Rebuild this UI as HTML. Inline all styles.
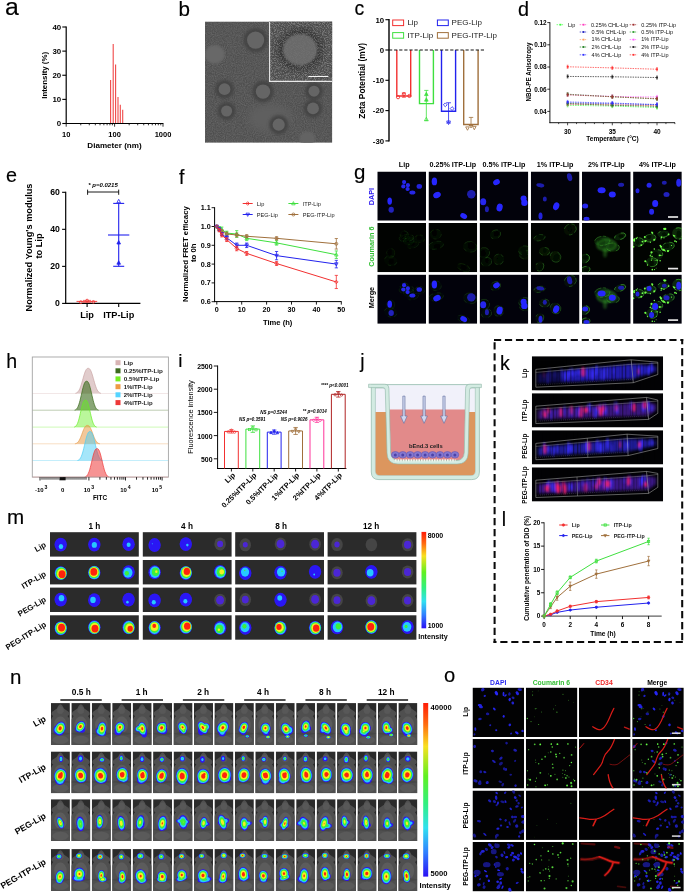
<!DOCTYPE html>
<html lang="en"><head><meta charset="utf-8"><title>Figure</title>
<style>
html,body{margin:0;padding:0;background:#fff;}
body{width:685px;height:893px;overflow:hidden;}
svg{display:block;font-family:'Liberation Sans', sans-serif;font-weight:bold;text-anchor:middle;}
</style></head><body>
<svg width="685" height="893" viewBox="0 0 685 893">
<defs>
<clipPath id="clipB"><rect x="205" y="21.5" width="127.3" height="121.3"/></clipPath>
<filter id="b05" x="-20%" y="-20%" width="140%" height="140%"><feGaussianBlur stdDeviation="0.5"/></filter>
<filter id="b1" x="-30%" y="-30%" width="160%" height="160%"><feGaussianBlur stdDeviation="1"/></filter>
<filter id="b2" x="-50%" y="-50%" width="200%" height="200%"><feGaussianBlur stdDeviation="1.8"/></filter>
<filter id="b3" x="-50%" y="-50%" width="200%" height="200%"><feGaussianBlur stdDeviation="3"/></filter>
<filter id="grain" color-interpolation-filters="sRGB" x="0" y="0" width="100%" height="100%"><feTurbulence type="fractalNoise" baseFrequency="0.9" numOctaves="2" seed="3"/><feColorMatrix type="matrix" values="1.5 0 0 0 -0.41  1.5 0 0 0 -0.41  1.5 0 0 0 -0.41  0 0 0 0 1"/></filter>
<filter id="grain2" color-interpolation-filters="sRGB" x="0" y="0" width="100%" height="100%"><feTurbulence type="fractalNoise" baseFrequency="1.1" numOctaves="2" seed="8"/><feColorMatrix type="matrix" values="3.2 0 0 0 -1.3  3.2 0 0 0 -1.3  3.2 0 0 0 -1.3  0 0 0 0 1"/></filter>
<clipPath id="cg0"><rect x="377.3" y="171.5" width="48.7" height="49.2"/></clipPath><clipPath id="cg1"><rect x="428.5" y="171.5" width="48.7" height="49.2"/></clipPath><clipPath id="cg2"><rect x="479.6" y="171.5" width="48.7" height="49.2"/></clipPath><clipPath id="cg3"><rect x="530.8" y="171.5" width="48.7" height="49.2"/></clipPath><clipPath id="cg4"><rect x="582" y="171.5" width="48.7" height="49.2"/></clipPath><clipPath id="cg5"><rect x="633.1" y="171.5" width="48.7" height="49.2"/></clipPath><clipPath id="cg6"><rect x="377.3" y="223" width="48.7" height="49.2"/></clipPath><clipPath id="cg7"><rect x="428.5" y="223" width="48.7" height="49.2"/></clipPath><clipPath id="cg8"><rect x="479.6" y="223" width="48.7" height="49.2"/></clipPath><clipPath id="cg9"><rect x="530.8" y="223" width="48.7" height="49.2"/></clipPath><clipPath id="cg10"><rect x="582" y="223" width="48.7" height="49.2"/></clipPath><clipPath id="cg11"><rect x="633.1" y="223" width="48.7" height="49.2"/></clipPath><clipPath id="cg12"><rect x="377.3" y="274.6" width="48.7" height="49.2"/></clipPath><clipPath id="cg13"><rect x="428.5" y="274.6" width="48.7" height="49.2"/></clipPath><clipPath id="cg14"><rect x="479.6" y="274.6" width="48.7" height="49.2"/></clipPath><clipPath id="cg15"><rect x="530.8" y="274.6" width="48.7" height="49.2"/></clipPath><clipPath id="cg16"><rect x="582" y="274.6" width="48.7" height="49.2"/></clipPath><clipPath id="cg17"><rect x="633.1" y="274.6" width="48.7" height="49.2"/></clipPath>
<clipPath id="ck0"><rect x="531.8" y="356.2" width="131.3" height="34.3"/></clipPath><clipPath id="ck1"><rect x="531.8" y="393.2" width="131.3" height="34.3"/></clipPath><clipPath id="ck2"><rect x="531.8" y="430.2" width="131.3" height="34.3"/></clipPath><clipPath id="ck3"><rect x="531.8" y="467.3" width="131.3" height="34.3"/></clipPath>
<linearGradient id="rbM" x1="0" y1="0" x2="0" y2="1"><stop offset="0" stop-color="#ff1c08"/><stop offset="0.12" stop-color="#ff6a10"/><stop offset="0.25" stop-color="#f8e020"/><stop offset="0.42" stop-color="#60f020"/><stop offset="0.58" stop-color="#30f080"/><stop offset="0.72" stop-color="#30e0f0"/><stop offset="0.86" stop-color="#3080ff"/><stop offset="1" stop-color="#2a10f4"/></linearGradient>
<linearGradient id="rbN" x1="0" y1="0" x2="0" y2="1"><stop offset="0" stop-color="#ff1c08"/><stop offset="0.12" stop-color="#ff6a10"/><stop offset="0.25" stop-color="#f8e020"/><stop offset="0.42" stop-color="#60f020"/><stop offset="0.58" stop-color="#30f080"/><stop offset="0.72" stop-color="#30e0f0"/><stop offset="0.86" stop-color="#3080ff"/><stop offset="1" stop-color="#2a10f4"/></linearGradient><clipPath id="cn0"><rect x="50.9" y="703.1" width="19" height="41.8" fill="#000"/><rect x="71.34" y="703.1" width="19" height="41.8" fill="#000"/><rect x="91.78" y="703.1" width="19" height="41.8" fill="#000"/><rect x="112.22" y="703.1" width="19" height="41.8" fill="#000"/><rect x="132.66" y="703.1" width="19" height="41.8" fill="#000"/><rect x="153.1" y="703.1" width="19" height="41.8" fill="#000"/><rect x="173.54" y="703.1" width="19" height="41.8" fill="#000"/><rect x="193.98" y="703.1" width="19" height="41.8" fill="#000"/><rect x="214.42" y="703.1" width="19" height="41.8" fill="#000"/><rect x="234.86" y="703.1" width="19" height="41.8" fill="#000"/><rect x="255.3" y="703.1" width="19" height="41.8" fill="#000"/><rect x="275.74" y="703.1" width="19" height="41.8" fill="#000"/><rect x="296.18" y="703.1" width="19" height="41.8" fill="#000"/><rect x="316.62" y="703.1" width="19" height="41.8" fill="#000"/><rect x="337.06" y="703.1" width="19" height="41.8" fill="#000"/><rect x="357.5" y="703.1" width="19" height="41.8" fill="#000"/><rect x="377.94" y="703.1" width="19" height="41.8" fill="#000"/><rect x="398.38" y="703.1" width="19" height="41.8" fill="#000"/></clipPath><clipPath id="cn1"><rect x="50.9" y="751.4" width="19" height="41.8" fill="#000"/><rect x="71.34" y="751.4" width="19" height="41.8" fill="#000"/><rect x="91.78" y="751.4" width="19" height="41.8" fill="#000"/><rect x="112.22" y="751.4" width="19" height="41.8" fill="#000"/><rect x="132.66" y="751.4" width="19" height="41.8" fill="#000"/><rect x="153.1" y="751.4" width="19" height="41.8" fill="#000"/><rect x="173.54" y="751.4" width="19" height="41.8" fill="#000"/><rect x="193.98" y="751.4" width="19" height="41.8" fill="#000"/><rect x="214.42" y="751.4" width="19" height="41.8" fill="#000"/><rect x="234.86" y="751.4" width="19" height="41.8" fill="#000"/><rect x="255.3" y="751.4" width="19" height="41.8" fill="#000"/><rect x="275.74" y="751.4" width="19" height="41.8" fill="#000"/><rect x="296.18" y="751.4" width="19" height="41.8" fill="#000"/><rect x="316.62" y="751.4" width="19" height="41.8" fill="#000"/><rect x="337.06" y="751.4" width="19" height="41.8" fill="#000"/><rect x="357.5" y="751.4" width="19" height="41.8" fill="#000"/><rect x="377.94" y="751.4" width="19" height="41.8" fill="#000"/><rect x="398.38" y="751.4" width="19" height="41.8" fill="#000"/></clipPath><clipPath id="cn2"><rect x="50.9" y="799.2" width="19" height="41.8" fill="#000"/><rect x="71.34" y="799.2" width="19" height="41.8" fill="#000"/><rect x="91.78" y="799.2" width="19" height="41.8" fill="#000"/><rect x="112.22" y="799.2" width="19" height="41.8" fill="#000"/><rect x="132.66" y="799.2" width="19" height="41.8" fill="#000"/><rect x="153.1" y="799.2" width="19" height="41.8" fill="#000"/><rect x="173.54" y="799.2" width="19" height="41.8" fill="#000"/><rect x="193.98" y="799.2" width="19" height="41.8" fill="#000"/><rect x="214.42" y="799.2" width="19" height="41.8" fill="#000"/><rect x="234.86" y="799.2" width="19" height="41.8" fill="#000"/><rect x="255.3" y="799.2" width="19" height="41.8" fill="#000"/><rect x="275.74" y="799.2" width="19" height="41.8" fill="#000"/><rect x="296.18" y="799.2" width="19" height="41.8" fill="#000"/><rect x="316.62" y="799.2" width="19" height="41.8" fill="#000"/><rect x="337.06" y="799.2" width="19" height="41.8" fill="#000"/><rect x="357.5" y="799.2" width="19" height="41.8" fill="#000"/><rect x="377.94" y="799.2" width="19" height="41.8" fill="#000"/><rect x="398.38" y="799.2" width="19" height="41.8" fill="#000"/></clipPath><clipPath id="cn3"><rect x="50.9" y="849.1" width="19" height="41.8" fill="#000"/><rect x="71.34" y="849.1" width="19" height="41.8" fill="#000"/><rect x="91.78" y="849.1" width="19" height="41.8" fill="#000"/><rect x="112.22" y="849.1" width="19" height="41.8" fill="#000"/><rect x="132.66" y="849.1" width="19" height="41.8" fill="#000"/><rect x="153.1" y="849.1" width="19" height="41.8" fill="#000"/><rect x="173.54" y="849.1" width="19" height="41.8" fill="#000"/><rect x="193.98" y="849.1" width="19" height="41.8" fill="#000"/><rect x="214.42" y="849.1" width="19" height="41.8" fill="#000"/><rect x="234.86" y="849.1" width="19" height="41.8" fill="#000"/><rect x="255.3" y="849.1" width="19" height="41.8" fill="#000"/><rect x="275.74" y="849.1" width="19" height="41.8" fill="#000"/><rect x="296.18" y="849.1" width="19" height="41.8" fill="#000"/><rect x="316.62" y="849.1" width="19" height="41.8" fill="#000"/><rect x="337.06" y="849.1" width="19" height="41.8" fill="#000"/><rect x="357.5" y="849.1" width="19" height="41.8" fill="#000"/><rect x="377.94" y="849.1" width="19" height="41.8" fill="#000"/><rect x="398.38" y="849.1" width="19" height="41.8" fill="#000"/></clipPath>
<clipPath id="co0"><rect x="472.5" y="687.6" width="51.6" height="49.4"/></clipPath><clipPath id="co1"><rect x="525.8" y="687.6" width="51.6" height="49.4"/></clipPath><clipPath id="co2"><rect x="579" y="687.6" width="51.6" height="49.4"/></clipPath><clipPath id="co3"><rect x="632.2" y="687.6" width="51.6" height="49.4"/></clipPath><clipPath id="co4"><rect x="472.5" y="739.05" width="51.6" height="49.4"/></clipPath><clipPath id="co5"><rect x="525.8" y="739.05" width="51.6" height="49.4"/></clipPath><clipPath id="co6"><rect x="579" y="739.05" width="51.6" height="49.4"/></clipPath><clipPath id="co7"><rect x="632.2" y="739.05" width="51.6" height="49.4"/></clipPath><clipPath id="co8"><rect x="472.5" y="790.5" width="51.6" height="49.4"/></clipPath><clipPath id="co9"><rect x="525.8" y="790.5" width="51.6" height="49.4"/></clipPath><clipPath id="co10"><rect x="579" y="790.5" width="51.6" height="49.4"/></clipPath><clipPath id="co11"><rect x="632.2" y="790.5" width="51.6" height="49.4"/></clipPath><clipPath id="co12"><rect x="472.5" y="842" width="51.6" height="49.4"/></clipPath><clipPath id="co13"><rect x="525.8" y="842" width="51.6" height="49.4"/></clipPath><clipPath id="co14"><rect x="579" y="842" width="51.6" height="49.4"/></clipPath><clipPath id="co15"><rect x="632.2" y="842" width="51.6" height="49.4"/></clipPath></defs>
<rect width="685" height="893" fill="#fff"/>
<g id="p-a">
<text x="5" y="15.2" font-size="24.8" font-weight="normal" text-anchor="start" stroke="#000" stroke-width="0.15">a</text>
<line x1="66.2" y1="26.5" x2="66.2" y2="124.1" stroke="#000" stroke-width="1.2"/>
<line x1="65.6" y1="123.5" x2="163.4" y2="123.5" stroke="#000" stroke-width="1.2"/>
<line x1="62.3" y1="123.5" x2="66.2" y2="123.5" stroke="#000" stroke-width="1.1"/>
<text x="61.2" y="126.3" font-size="7.9" text-anchor="end">0</text>
<line x1="62.3" y1="99.38" x2="66.2" y2="99.38" stroke="#000" stroke-width="1.1"/>
<text x="61.2" y="102.17" font-size="7.9" text-anchor="end">10</text>
<line x1="62.3" y1="75.25" x2="66.2" y2="75.25" stroke="#000" stroke-width="1.1"/>
<text x="61.2" y="78.05" font-size="7.9" text-anchor="end">20</text>
<line x1="62.3" y1="51.12" x2="66.2" y2="51.12" stroke="#000" stroke-width="1.1"/>
<text x="61.2" y="53.92" font-size="7.9" text-anchor="end">30</text>
<line x1="62.3" y1="27" x2="66.2" y2="27" stroke="#000" stroke-width="1.1"/>
<text x="61.2" y="29.8" font-size="7.9" text-anchor="end">40</text>
<line x1="66.2" y1="123.5" x2="66.2" y2="126.7" stroke="#000" stroke-width="0.8"/>
<line x1="80.77" y1="123.5" x2="80.77" y2="125.3" stroke="#000" stroke-width="0.8"/>
<line x1="89.29" y1="123.5" x2="89.29" y2="125.3" stroke="#000" stroke-width="0.8"/>
<line x1="95.34" y1="123.5" x2="95.34" y2="125.3" stroke="#000" stroke-width="0.8"/>
<line x1="100.03" y1="123.5" x2="100.03" y2="125.3" stroke="#000" stroke-width="0.8"/>
<line x1="103.86" y1="123.5" x2="103.86" y2="125.3" stroke="#000" stroke-width="0.8"/>
<line x1="107.1" y1="123.5" x2="107.1" y2="125.3" stroke="#000" stroke-width="0.8"/>
<line x1="109.91" y1="123.5" x2="109.91" y2="125.3" stroke="#000" stroke-width="0.8"/>
<line x1="112.39" y1="123.5" x2="112.39" y2="125.3" stroke="#000" stroke-width="0.8"/>
<line x1="114.6" y1="123.5" x2="114.6" y2="126.7" stroke="#000" stroke-width="0.8"/>
<line x1="129.17" y1="123.5" x2="129.17" y2="125.3" stroke="#000" stroke-width="0.8"/>
<line x1="137.69" y1="123.5" x2="137.69" y2="125.3" stroke="#000" stroke-width="0.8"/>
<line x1="143.74" y1="123.5" x2="143.74" y2="125.3" stroke="#000" stroke-width="0.8"/>
<line x1="148.43" y1="123.5" x2="148.43" y2="125.3" stroke="#000" stroke-width="0.8"/>
<line x1="152.26" y1="123.5" x2="152.26" y2="125.3" stroke="#000" stroke-width="0.8"/>
<line x1="155.5" y1="123.5" x2="155.5" y2="125.3" stroke="#000" stroke-width="0.8"/>
<line x1="158.31" y1="123.5" x2="158.31" y2="125.3" stroke="#000" stroke-width="0.8"/>
<line x1="160.79" y1="123.5" x2="160.79" y2="125.3" stroke="#000" stroke-width="0.8"/>
<line x1="163" y1="123.5" x2="163" y2="126.7" stroke="#000" stroke-width="0.8"/>
<text x="66.2" y="136.6" font-size="7.5">10</text>
<text x="114.6" y="136.6" font-size="7.5">100</text>
<text x="163" y="136.6" font-size="7.5">1000</text>
<text x="114.5" y="148.3" font-size="8.1">Diameter (nm)</text>
<text x="47.2" y="75.3" font-size="7.9" transform="rotate(-90 47.2 75.3)">Intensity (%)</text>
<line x1="110.6" y1="123" x2="110.6" y2="80.08" stroke="#f04848" stroke-width="1.1"/>
<line x1="113.2" y1="123" x2="113.2" y2="43.89" stroke="#f04848" stroke-width="1.1"/>
<line x1="115.6" y1="123" x2="115.6" y2="64.39" stroke="#f04848" stroke-width="1.1"/>
<line x1="118" y1="123" x2="118" y2="96.96" stroke="#f04848" stroke-width="1.1"/>
<line x1="120.3" y1="123" x2="120.3" y2="104.68" stroke="#f04848" stroke-width="1.1"/>
<line x1="122.7" y1="123" x2="122.7" y2="109.75" stroke="#f04848" stroke-width="1.1"/>
</g>
<g id="p-b">
<text x="178.5" y="15.6" font-size="20.6" font-weight="normal" text-anchor="start" stroke="#000" stroke-width="0.15">b</text>
<g clip-path="url(#clipB)">
<rect x="205" y="21.5" width="127.3" height="121.3" fill="#585858"/>
<rect x="205" y="21.5" width="127.3" height="121.3" fill="#808080" filter="url(#grain)" opacity="0.1"/>
<ellipse cx="214.7" cy="54.4" rx="10" ry="9.4" fill="#686868" filter="url(#b1)"/>
<ellipse cx="307.3" cy="138.6" rx="8" ry="7" fill="#646464" filter="url(#b1)"/>
<ellipse cx="270" cy="118" rx="22" ry="14" fill="#5e5e5e" filter="url(#b3)"/>
<circle cx="255.6" cy="40.1" r="12.2" fill="#444444" filter="url(#b2)"/>
<circle cx="255.6" cy="40.1" r="8.6" fill="#656565" filter="url(#b05)"/>
<circle cx="224.5" cy="89.2" r="9.5" fill="#444444" filter="url(#b2)"/>
<circle cx="224.5" cy="89.2" r="5.9" fill="#656565" filter="url(#b05)"/>
<circle cx="263" cy="91.6" r="10.8" fill="#444444" filter="url(#b2)"/>
<circle cx="263" cy="91.6" r="7.2" fill="#656565" filter="url(#b05)"/>
<circle cx="314" cy="91.2" r="9.1" fill="#444444" filter="url(#b2)"/>
<circle cx="314" cy="91.2" r="5.5" fill="#656565" filter="url(#b05)"/>
<circle cx="226.6" cy="111" r="9.1" fill="#444444" filter="url(#b2)"/>
<circle cx="226.6" cy="111" r="5.5" fill="#656565" filter="url(#b05)"/>
<circle cx="313" cy="108.4" r="9.5" fill="#444444" filter="url(#b2)"/>
<circle cx="313" cy="108.4" r="5.9" fill="#656565" filter="url(#b05)"/>
<circle cx="278.7" cy="124.7" r="9.7" fill="#444444" filter="url(#b2)"/>
<circle cx="278.7" cy="124.7" r="6.1" fill="#656565" filter="url(#b05)"/>
<rect x="269.1" y="21.5" width="63.2" height="60.3" fill="#5e5e5e"/>
<ellipse cx="300.1" cy="49.7" rx="22.5" ry="21" fill="#3c3c3c" filter="url(#b3)"/>
<rect x="269.1" y="21.5" width="63.2" height="60.3" fill="#808080" filter="url(#grain2)" opacity="0.18"/>
<ellipse cx="300.1" cy="49.7" rx="17.2" ry="15.8" fill="#737373" filter="url(#b1)" opacity="0.85"/>
<line x1="269.6" y1="21.5" x2="269.6" y2="81.8" stroke="#e8e8e8" stroke-width="1.1"/>
<line x1="269.1" y1="81.4" x2="332.3" y2="81.4" stroke="#e8e8e8" stroke-width="1.1"/>
<line x1="308.3" y1="76.5" x2="328.3" y2="76.5" stroke="#f4f4f4" stroke-width="1.1"/>
</g>
</g>
<g id="p-c">
<text x="354.5" y="14.8" font-size="19.4" font-weight="normal" text-anchor="start" stroke="#000" stroke-width="0.15">c</text>
<line x1="389" y1="19.1" x2="389" y2="141.5" stroke="#000" stroke-width="1.4"/>
<line x1="385.4" y1="19.7" x2="389" y2="19.7" stroke="#000" stroke-width="1.1"/>
<text x="384.1" y="22.5" font-size="7.8" text-anchor="end">10</text>
<line x1="385.4" y1="50" x2="389" y2="50" stroke="#000" stroke-width="1.1"/>
<text x="384.1" y="52.8" font-size="7.8" text-anchor="end">0</text>
<line x1="385.4" y1="80.3" x2="389" y2="80.3" stroke="#000" stroke-width="1.1"/>
<text x="384.1" y="83.1" font-size="7.8" text-anchor="end">-10</text>
<line x1="385.4" y1="110.6" x2="389" y2="110.6" stroke="#000" stroke-width="1.1"/>
<text x="384.1" y="113.4" font-size="7.8" text-anchor="end">-20</text>
<line x1="385.4" y1="140.9" x2="389" y2="140.9" stroke="#000" stroke-width="1.1"/>
<text x="384.1" y="143.7" font-size="7.8" text-anchor="end">-30</text>
<text x="364.8" y="80.8" font-size="8.4" transform="rotate(-90 364.8 80.8)">Zeta Potential (mV)</text>
<path d="M396.8 50 V96.06 H410.7 V50" fill="none" stroke="#f23030" stroke-width="1.4"/>
<path d="M419.5 50 V103.63 H433.4 V50" fill="none" stroke="#3fe03f" stroke-width="1.4"/>
<path d="M441.5 50 V111.21 H455.6 V50" fill="none" stroke="#2222ee" stroke-width="1.4"/>
<path d="M463.7 50 V124.54 H478.1 V50" fill="none" stroke="#a0703c" stroke-width="1.4"/>
<line x1="389" y1="50" x2="485.7" y2="50" stroke="#111" stroke-width="1.2" stroke-dasharray="3.2 1.9"/>
<line x1="403.86" y1="92.93" x2="403.86" y2="97.22" stroke="#f23030" stroke-width="0.8"/><line x1="401.86" y1="92.93" x2="405.86" y2="92.93" stroke="#f23030" stroke-width="0.8"/><line x1="401.86" y1="97.22" x2="405.86" y2="97.22" stroke="#f23030" stroke-width="0.8"/>
<circle cx="398.05" cy="97.22" r="1.6" fill="none" stroke="#f23030" stroke-width="0.9"/>
<circle cx="403.86" cy="94.19" r="1.6" fill="none" stroke="#f23030" stroke-width="0.9"/>
<circle cx="409.41" cy="95.96" r="1.6" fill="none" stroke="#f23030" stroke-width="0.9"/>
<line x1="426.33" y1="90.4" x2="426.33" y2="120.71" stroke="#3fe03f" stroke-width="0.8"/><line x1="424.23" y1="90.4" x2="428.43" y2="90.4" stroke="#3fe03f" stroke-width="0.8"/><line x1="424.23" y1="120.71" x2="428.43" y2="120.71" stroke="#3fe03f" stroke-width="0.8"/>
<path d="M426.33 92.19 L428.13 95.59 L424.53 95.59Z" fill="#3fe03f" stroke="#3fe03f" stroke-width="0.7"/>
<path d="M426.33 97.75 L428.13 101.15 L424.53 101.15Z" fill="#3fe03f" stroke="#3fe03f" stroke-width="0.7"/>
<path d="M426.33 117.19 L428.13 120.59 L424.53 120.59Z" fill="none" stroke="#3fe03f" stroke-width="0.7"/>
<line x1="448.56" y1="102.78" x2="448.56" y2="122.98" stroke="#2222ee" stroke-width="0.8"/><line x1="446.16" y1="102.78" x2="450.96" y2="102.78" stroke="#2222ee" stroke-width="0.8"/><line x1="446.16" y1="122.98" x2="450.96" y2="122.98" stroke="#2222ee" stroke-width="0.8"/>
<path d="M445.27 102.9 L447.17 104.8 L445.27 106.7 L443.37 104.8Z" fill="none" stroke="#2222ee" stroke-width="0.8"/>
<path d="M452.09 106.69 L453.99 108.59 L452.09 110.49 L450.19 108.59Z" fill="none" stroke="#2222ee" stroke-width="0.8"/>
<path d="M448.56 124.57 L450.45 121 L446.67 121Z" fill="none" stroke="#2222ee" stroke-width="0.8"/>
<line x1="471.03" y1="117.42" x2="471.03" y2="125.51" stroke="#a0703c" stroke-width="0.8"/><line x1="468.83" y1="117.42" x2="473.23" y2="117.42" stroke="#a0703c" stroke-width="0.8"/><line x1="468.83" y1="125.51" x2="473.23" y2="125.51" stroke="#a0703c" stroke-width="0.8"/>
<path d="M467.49 130.28 L469.29 126.88 L465.69 126.88Z" fill="none" stroke="#a0703c" stroke-width="0.8"/>
<path d="M471.03 128.01 L472.83 124.61 L469.23 124.61Z" fill="none" stroke="#a0703c" stroke-width="0.8"/>
<path d="M474.31 129.78 L476.11 126.38 L472.51 126.38Z" fill="none" stroke="#a0703c" stroke-width="0.8"/>
<rect x="392.7" y="20" width="10.9" height="5.6" fill="none" stroke="#f23030" stroke-width="1"/>
<text x="407.4" y="25.3" font-size="8" font-weight="normal" text-anchor="start" fill="#222">Lip</text>
<rect x="437.4" y="20" width="10.9" height="5.6" fill="none" stroke="#2222ee" stroke-width="1"/>
<text x="451.6" y="25.3" font-size="8" font-weight="normal" text-anchor="start" fill="#222">PEG-Lip</text>
<rect x="392.7" y="32.6" width="10.9" height="5.6" fill="none" stroke="#3fe03f" stroke-width="1"/>
<text x="407.4" y="38" font-size="8" font-weight="normal" text-anchor="start" fill="#222">ITP-Lip</text>
<rect x="437.4" y="32.6" width="10.9" height="5.6" fill="none" stroke="#a0703c" stroke-width="1"/>
<text x="451.6" y="38" font-size="8" font-weight="normal" text-anchor="start" fill="#222">PEG-ITP-Lip</text>
</g>
<g id="p-d">
<text x="517.9" y="15.6" font-size="19.8" font-weight="normal" text-anchor="start" stroke="#000" stroke-width="0.15">d</text>
<line x1="549.9" y1="22.2" x2="549.9" y2="123.1" stroke="#000" stroke-width="0.9"/>
<line x1="549.5" y1="122.7" x2="675" y2="122.7" stroke="#000" stroke-width="0.9"/>
<line x1="547.3" y1="22.6" x2="549.9" y2="22.6" stroke="#000" stroke-width="0.8"/>
<text x="546.7" y="24.9" font-size="6.4" text-anchor="end">0.12</text>
<line x1="547.3" y1="44.8" x2="549.9" y2="44.8" stroke="#000" stroke-width="0.8"/>
<text x="546.7" y="47.1" font-size="6.4" text-anchor="end">0.10</text>
<line x1="547.3" y1="67" x2="549.9" y2="67" stroke="#000" stroke-width="0.8"/>
<text x="546.7" y="69.3" font-size="6.4" text-anchor="end">0.08</text>
<line x1="547.3" y1="89.2" x2="549.9" y2="89.2" stroke="#000" stroke-width="0.8"/>
<text x="546.7" y="91.5" font-size="6.4" text-anchor="end">0.06</text>
<line x1="547.3" y1="111.4" x2="549.9" y2="111.4" stroke="#000" stroke-width="0.8"/>
<text x="546.7" y="113.7" font-size="6.4" text-anchor="end">0.04</text>
<line x1="558.66" y1="122.7" x2="558.66" y2="124.1" stroke="#000" stroke-width="0.7"/>
<line x1="567.6" y1="122.7" x2="567.6" y2="125.3" stroke="#000" stroke-width="0.7"/>
<line x1="576.54" y1="122.7" x2="576.54" y2="124.1" stroke="#000" stroke-width="0.7"/>
<line x1="585.48" y1="122.7" x2="585.48" y2="124.1" stroke="#000" stroke-width="0.7"/>
<line x1="594.42" y1="122.7" x2="594.42" y2="124.1" stroke="#000" stroke-width="0.7"/>
<line x1="603.36" y1="122.7" x2="603.36" y2="124.1" stroke="#000" stroke-width="0.7"/>
<line x1="612.3" y1="122.7" x2="612.3" y2="125.3" stroke="#000" stroke-width="0.7"/>
<line x1="621.24" y1="122.7" x2="621.24" y2="124.1" stroke="#000" stroke-width="0.7"/>
<line x1="630.18" y1="122.7" x2="630.18" y2="124.1" stroke="#000" stroke-width="0.7"/>
<line x1="639.12" y1="122.7" x2="639.12" y2="124.1" stroke="#000" stroke-width="0.7"/>
<line x1="648.06" y1="122.7" x2="648.06" y2="124.1" stroke="#000" stroke-width="0.7"/>
<line x1="657" y1="122.7" x2="657" y2="125.3" stroke="#000" stroke-width="0.7"/>
<line x1="665.94" y1="122.7" x2="665.94" y2="124.1" stroke="#000" stroke-width="0.7"/>
<line x1="674.88" y1="122.7" x2="674.88" y2="124.1" stroke="#000" stroke-width="0.7"/>
<text x="567.6" y="133.6" font-size="6.5">30</text>
<text x="612.3" y="133.6" font-size="6.5">35</text>
<text x="657" y="133.6" font-size="6.5">40</text>
<text x="612.5" y="141.3" font-size="6.5">Temperature (°C)</text>
<text x="530.6" y="72" font-size="6.3" transform="rotate(-90 530.6 72)">NBD-PE Anisotropy</text>
<path d="M567.6 105.3 L612.3 106.07 L657 107.52" fill="none" stroke="#40ff40" stroke-width="0.7" stroke-dasharray="1.5 1"/>
<line x1="567.6" y1="103.7" x2="567.6" y2="106.89" stroke="#40ff40" stroke-width="0.6"/>
<line x1="566.7" y1="103.7" x2="568.5" y2="103.7" stroke="#40ff40" stroke-width="0.5"/>
<line x1="566.7" y1="106.89" x2="568.5" y2="106.89" stroke="#40ff40" stroke-width="0.5"/>
<rect x="566.7" y="104.39" width="1.8" height="1.8" fill="#40ff40"/>
<line x1="612.3" y1="104.47" x2="612.3" y2="107.67" stroke="#40ff40" stroke-width="0.6"/>
<line x1="611.4" y1="104.47" x2="613.2" y2="104.47" stroke="#40ff40" stroke-width="0.5"/>
<line x1="611.4" y1="107.67" x2="613.2" y2="107.67" stroke="#40ff40" stroke-width="0.5"/>
<rect x="611.4" y="105.17" width="1.8" height="1.8" fill="#40ff40"/>
<line x1="657" y1="105.92" x2="657" y2="109.12" stroke="#40ff40" stroke-width="0.6"/>
<line x1="656.1" y1="105.92" x2="657.9" y2="105.92" stroke="#40ff40" stroke-width="0.5"/>
<line x1="656.1" y1="109.12" x2="657.9" y2="109.12" stroke="#40ff40" stroke-width="0.5"/>
<rect x="656.1" y="106.62" width="1.8" height="1.8" fill="#40ff40"/>
<path d="M567.6 104.19 L612.3 104.96 L657 105.85" fill="none" stroke="#ff40c0" stroke-width="0.7" stroke-dasharray="1.5 1"/>
<line x1="567.6" y1="102.59" x2="567.6" y2="105.78" stroke="#ff40c0" stroke-width="0.6"/>
<line x1="566.7" y1="102.59" x2="568.5" y2="102.59" stroke="#ff40c0" stroke-width="0.5"/>
<line x1="566.7" y1="105.78" x2="568.5" y2="105.78" stroke="#ff40c0" stroke-width="0.5"/>
<rect x="566.7" y="103.28" width="1.8" height="1.8" fill="#ff40c0"/>
<line x1="612.3" y1="103.36" x2="612.3" y2="106.56" stroke="#ff40c0" stroke-width="0.6"/>
<line x1="611.4" y1="103.36" x2="613.2" y2="103.36" stroke="#ff40c0" stroke-width="0.5"/>
<line x1="611.4" y1="106.56" x2="613.2" y2="106.56" stroke="#ff40c0" stroke-width="0.5"/>
<rect x="611.4" y="104.06" width="1.8" height="1.8" fill="#ff40c0"/>
<line x1="657" y1="104.25" x2="657" y2="107.45" stroke="#ff40c0" stroke-width="0.6"/>
<line x1="656.1" y1="104.25" x2="657.9" y2="104.25" stroke="#ff40c0" stroke-width="0.5"/>
<line x1="656.1" y1="107.45" x2="657.9" y2="107.45" stroke="#ff40c0" stroke-width="0.5"/>
<rect x="656.1" y="104.95" width="1.8" height="1.8" fill="#ff40c0"/>
<path d="M567.6 103.08 L612.3 103.85 L657 104.74" fill="none" stroke="#2020c0" stroke-width="0.7" stroke-dasharray="1.5 1"/>
<line x1="567.6" y1="101.48" x2="567.6" y2="104.67" stroke="#2020c0" stroke-width="0.6"/>
<line x1="566.7" y1="101.48" x2="568.5" y2="101.48" stroke="#2020c0" stroke-width="0.5"/>
<line x1="566.7" y1="104.67" x2="568.5" y2="104.67" stroke="#2020c0" stroke-width="0.5"/>
<rect x="566.7" y="102.17" width="1.8" height="1.8" fill="#2020c0"/>
<line x1="612.3" y1="102.25" x2="612.3" y2="105.45" stroke="#2020c0" stroke-width="0.6"/>
<line x1="611.4" y1="102.25" x2="613.2" y2="102.25" stroke="#2020c0" stroke-width="0.5"/>
<line x1="611.4" y1="105.45" x2="613.2" y2="105.45" stroke="#2020c0" stroke-width="0.5"/>
<rect x="611.4" y="102.95" width="1.8" height="1.8" fill="#2020c0"/>
<line x1="657" y1="103.14" x2="657" y2="106.34" stroke="#2020c0" stroke-width="0.6"/>
<line x1="656.1" y1="103.14" x2="657.9" y2="103.14" stroke="#2020c0" stroke-width="0.5"/>
<line x1="656.1" y1="106.34" x2="657.9" y2="106.34" stroke="#2020c0" stroke-width="0.5"/>
<rect x="656.1" y="103.84" width="1.8" height="1.8" fill="#2020c0"/>
<path d="M567.6 103.85 L612.3 104.74 L657 105.63" fill="none" stroke="#ffa060" stroke-width="0.7" stroke-dasharray="1.5 1"/>
<line x1="567.6" y1="102.25" x2="567.6" y2="105.45" stroke="#ffa060" stroke-width="0.6"/>
<line x1="566.7" y1="102.25" x2="568.5" y2="102.25" stroke="#ffa060" stroke-width="0.5"/>
<line x1="566.7" y1="105.45" x2="568.5" y2="105.45" stroke="#ffa060" stroke-width="0.5"/>
<rect x="566.7" y="102.95" width="1.8" height="1.8" fill="#ffa060"/>
<line x1="612.3" y1="103.14" x2="612.3" y2="106.34" stroke="#ffa060" stroke-width="0.6"/>
<line x1="611.4" y1="103.14" x2="613.2" y2="103.14" stroke="#ffa060" stroke-width="0.5"/>
<line x1="611.4" y1="106.34" x2="613.2" y2="106.34" stroke="#ffa060" stroke-width="0.5"/>
<rect x="611.4" y="103.84" width="1.8" height="1.8" fill="#ffa060"/>
<line x1="657" y1="104.03" x2="657" y2="107.23" stroke="#ffa060" stroke-width="0.6"/>
<line x1="656.1" y1="104.03" x2="657.9" y2="104.03" stroke="#ffa060" stroke-width="0.5"/>
<line x1="656.1" y1="107.23" x2="657.9" y2="107.23" stroke="#ffa060" stroke-width="0.5"/>
<rect x="656.1" y="104.73" width="1.8" height="1.8" fill="#ffa060"/>
<path d="M567.6 103.63 L612.3 105.3 L657 106.41" fill="none" stroke="#208020" stroke-width="0.7" stroke-dasharray="1.5 1"/>
<line x1="567.6" y1="102.03" x2="567.6" y2="105.23" stroke="#208020" stroke-width="0.6"/>
<line x1="566.7" y1="102.03" x2="568.5" y2="102.03" stroke="#208020" stroke-width="0.5"/>
<line x1="566.7" y1="105.23" x2="568.5" y2="105.23" stroke="#208020" stroke-width="0.5"/>
<rect x="566.7" y="102.73" width="1.8" height="1.8" fill="#208020"/>
<line x1="612.3" y1="103.7" x2="612.3" y2="106.89" stroke="#208020" stroke-width="0.6"/>
<line x1="611.4" y1="103.7" x2="613.2" y2="103.7" stroke="#208020" stroke-width="0.5"/>
<line x1="611.4" y1="106.89" x2="613.2" y2="106.89" stroke="#208020" stroke-width="0.5"/>
<rect x="611.4" y="104.39" width="1.8" height="1.8" fill="#208020"/>
<line x1="657" y1="104.81" x2="657" y2="108.01" stroke="#208020" stroke-width="0.6"/>
<line x1="656.1" y1="104.81" x2="657.9" y2="104.81" stroke="#208020" stroke-width="0.5"/>
<line x1="656.1" y1="108.01" x2="657.9" y2="108.01" stroke="#208020" stroke-width="0.5"/>
<rect x="656.1" y="105.51" width="1.8" height="1.8" fill="#208020"/>
<path d="M567.6 101.97 L612.3 103.08 L657 104.52" fill="none" stroke="#3030ff" stroke-width="0.7" stroke-dasharray="1.5 1"/>
<line x1="567.6" y1="100.37" x2="567.6" y2="103.56" stroke="#3030ff" stroke-width="0.6"/>
<line x1="566.7" y1="100.37" x2="568.5" y2="100.37" stroke="#3030ff" stroke-width="0.5"/>
<line x1="566.7" y1="103.56" x2="568.5" y2="103.56" stroke="#3030ff" stroke-width="0.5"/>
<rect x="566.7" y="101.06" width="1.8" height="1.8" fill="#3030ff"/>
<line x1="612.3" y1="101.48" x2="612.3" y2="104.67" stroke="#3030ff" stroke-width="0.6"/>
<line x1="611.4" y1="101.48" x2="613.2" y2="101.48" stroke="#3030ff" stroke-width="0.5"/>
<line x1="611.4" y1="104.67" x2="613.2" y2="104.67" stroke="#3030ff" stroke-width="0.5"/>
<rect x="611.4" y="102.17" width="1.8" height="1.8" fill="#3030ff"/>
<line x1="657" y1="102.92" x2="657" y2="106.12" stroke="#3030ff" stroke-width="0.6"/>
<line x1="656.1" y1="102.92" x2="657.9" y2="102.92" stroke="#3030ff" stroke-width="0.5"/>
<line x1="656.1" y1="106.12" x2="657.9" y2="106.12" stroke="#3030ff" stroke-width="0.5"/>
<rect x="656.1" y="103.62" width="1.8" height="1.8" fill="#3030ff"/>
<path d="M567.6 94.53 L612.3 96.42 L657 96.97" fill="none" stroke="#ff60ff" stroke-width="0.7" stroke-dasharray="1.5 1"/>
<line x1="567.6" y1="92.93" x2="567.6" y2="96.13" stroke="#ff60ff" stroke-width="0.6"/>
<line x1="566.7" y1="92.93" x2="568.5" y2="92.93" stroke="#ff60ff" stroke-width="0.5"/>
<line x1="566.7" y1="96.13" x2="568.5" y2="96.13" stroke="#ff60ff" stroke-width="0.5"/>
<rect x="566.7" y="93.63" width="1.8" height="1.8" fill="#ff60ff"/>
<line x1="612.3" y1="94.82" x2="612.3" y2="98.02" stroke="#ff60ff" stroke-width="0.6"/>
<line x1="611.4" y1="94.82" x2="613.2" y2="94.82" stroke="#ff60ff" stroke-width="0.5"/>
<line x1="611.4" y1="98.02" x2="613.2" y2="98.02" stroke="#ff60ff" stroke-width="0.5"/>
<rect x="611.4" y="95.52" width="1.8" height="1.8" fill="#ff60ff"/>
<line x1="657" y1="95.37" x2="657" y2="98.57" stroke="#ff60ff" stroke-width="0.6"/>
<line x1="656.1" y1="95.37" x2="657.9" y2="95.37" stroke="#ff60ff" stroke-width="0.5"/>
<line x1="656.1" y1="98.57" x2="657.9" y2="98.57" stroke="#ff60ff" stroke-width="0.5"/>
<rect x="656.1" y="96.07" width="1.8" height="1.8" fill="#ff60ff"/>
<path d="M567.6 94.2 L612.3 96.75 L657 98.97" fill="none" stroke="#30a030" stroke-width="0.7" stroke-dasharray="1.5 1"/>
<line x1="567.6" y1="92.6" x2="567.6" y2="95.8" stroke="#30a030" stroke-width="0.6"/>
<line x1="566.7" y1="92.6" x2="568.5" y2="92.6" stroke="#30a030" stroke-width="0.5"/>
<line x1="566.7" y1="95.8" x2="568.5" y2="95.8" stroke="#30a030" stroke-width="0.5"/>
<rect x="566.7" y="93.3" width="1.8" height="1.8" fill="#30a030"/>
<line x1="612.3" y1="95.15" x2="612.3" y2="98.35" stroke="#30a030" stroke-width="0.6"/>
<line x1="611.4" y1="95.15" x2="613.2" y2="95.15" stroke="#30a030" stroke-width="0.5"/>
<line x1="611.4" y1="98.35" x2="613.2" y2="98.35" stroke="#30a030" stroke-width="0.5"/>
<rect x="611.4" y="95.85" width="1.8" height="1.8" fill="#30a030"/>
<line x1="657" y1="97.37" x2="657" y2="100.57" stroke="#30a030" stroke-width="0.6"/>
<line x1="656.1" y1="97.37" x2="657.9" y2="97.37" stroke="#30a030" stroke-width="0.5"/>
<line x1="656.1" y1="100.57" x2="657.9" y2="100.57" stroke="#30a030" stroke-width="0.5"/>
<rect x="656.1" y="98.07" width="1.8" height="1.8" fill="#30a030"/>
<path d="M567.6 94.75 L612.3 96.75 L657 98.64" fill="none" stroke="#a03030" stroke-width="0.7" stroke-dasharray="1.5 1"/>
<line x1="567.6" y1="93.15" x2="567.6" y2="96.35" stroke="#a03030" stroke-width="0.6"/>
<line x1="566.7" y1="93.15" x2="568.5" y2="93.15" stroke="#a03030" stroke-width="0.5"/>
<line x1="566.7" y1="96.35" x2="568.5" y2="96.35" stroke="#a03030" stroke-width="0.5"/>
<rect x="566.7" y="93.85" width="1.8" height="1.8" fill="#a03030"/>
<line x1="612.3" y1="95.15" x2="612.3" y2="98.35" stroke="#a03030" stroke-width="0.6"/>
<line x1="611.4" y1="95.15" x2="613.2" y2="95.15" stroke="#a03030" stroke-width="0.5"/>
<line x1="611.4" y1="98.35" x2="613.2" y2="98.35" stroke="#a03030" stroke-width="0.5"/>
<rect x="611.4" y="95.85" width="1.8" height="1.8" fill="#a03030"/>
<line x1="657" y1="97.04" x2="657" y2="100.23" stroke="#a03030" stroke-width="0.6"/>
<line x1="656.1" y1="97.04" x2="657.9" y2="97.04" stroke="#a03030" stroke-width="0.5"/>
<line x1="656.1" y1="100.23" x2="657.9" y2="100.23" stroke="#a03030" stroke-width="0.5"/>
<rect x="656.1" y="97.73" width="1.8" height="1.8" fill="#a03030"/>
<path d="M567.6 76.44 L612.3 76.77 L657 77.55" fill="none" stroke="#202020" stroke-width="0.7" stroke-dasharray="1.5 1"/>
<line x1="567.6" y1="74.84" x2="567.6" y2="78.04" stroke="#202020" stroke-width="0.6"/>
<line x1="566.7" y1="74.84" x2="568.5" y2="74.84" stroke="#202020" stroke-width="0.5"/>
<line x1="566.7" y1="78.04" x2="568.5" y2="78.04" stroke="#202020" stroke-width="0.5"/>
<rect x="566.7" y="75.54" width="1.8" height="1.8" fill="#202020"/>
<line x1="612.3" y1="75.17" x2="612.3" y2="78.37" stroke="#202020" stroke-width="0.6"/>
<line x1="611.4" y1="75.17" x2="613.2" y2="75.17" stroke="#202020" stroke-width="0.5"/>
<line x1="611.4" y1="78.37" x2="613.2" y2="78.37" stroke="#202020" stroke-width="0.5"/>
<rect x="611.4" y="75.87" width="1.8" height="1.8" fill="#202020"/>
<line x1="657" y1="75.95" x2="657" y2="79.15" stroke="#202020" stroke-width="0.6"/>
<line x1="656.1" y1="75.95" x2="657.9" y2="75.95" stroke="#202020" stroke-width="0.5"/>
<line x1="656.1" y1="79.15" x2="657.9" y2="79.15" stroke="#202020" stroke-width="0.5"/>
<rect x="656.1" y="76.65" width="1.8" height="1.8" fill="#202020"/>
<path d="M567.6 66.78 L612.3 67.89 L657 69.22" fill="none" stroke="#ff3030" stroke-width="0.7" stroke-dasharray="1.5 1"/>
<line x1="567.6" y1="65.18" x2="567.6" y2="68.38" stroke="#ff3030" stroke-width="0.6"/>
<line x1="566.7" y1="65.18" x2="568.5" y2="65.18" stroke="#ff3030" stroke-width="0.5"/>
<line x1="566.7" y1="68.38" x2="568.5" y2="68.38" stroke="#ff3030" stroke-width="0.5"/>
<rect x="566.7" y="65.88" width="1.8" height="1.8" fill="#ff3030"/>
<line x1="612.3" y1="66.29" x2="612.3" y2="69.49" stroke="#ff3030" stroke-width="0.6"/>
<line x1="611.4" y1="66.29" x2="613.2" y2="66.29" stroke="#ff3030" stroke-width="0.5"/>
<line x1="611.4" y1="69.49" x2="613.2" y2="69.49" stroke="#ff3030" stroke-width="0.5"/>
<rect x="611.4" y="66.99" width="1.8" height="1.8" fill="#ff3030"/>
<line x1="657" y1="67.62" x2="657" y2="70.82" stroke="#ff3030" stroke-width="0.6"/>
<line x1="656.1" y1="67.62" x2="657.9" y2="67.62" stroke="#ff3030" stroke-width="0.5"/>
<line x1="656.1" y1="70.82" x2="657.9" y2="70.82" stroke="#ff3030" stroke-width="0.5"/>
<rect x="656.1" y="68.32" width="1.8" height="1.8" fill="#ff3030"/>
<line x1="556.6" y1="24.7" x2="564.2" y2="24.7" stroke="#40ff40" stroke-width="0.7" stroke-dasharray="1.5 1"/><rect x="559.5" y="23.8" width="1.8" height="1.8" fill="#40ff40"/><text x="568" y="26.5" font-size="5.5" font-weight="normal" text-anchor="start" fill="#111">Lip</text>
<line x1="579.7" y1="24.7" x2="587.3" y2="24.7" stroke="#ff40c0" stroke-width="0.7" stroke-dasharray="1.5 1"/><rect x="582.6" y="23.8" width="1.8" height="1.8" fill="#ff40c0"/><text x="591" y="26.5" font-size="5.5" font-weight="normal" text-anchor="start" fill="#111">0.25% CHL-Lip</text>
<line x1="629.7" y1="24.7" x2="637.3" y2="24.7" stroke="#a03030" stroke-width="0.7" stroke-dasharray="1.5 1"/><rect x="632.6" y="23.8" width="1.8" height="1.8" fill="#a03030"/><text x="641.3" y="26.5" font-size="5.5" font-weight="normal" text-anchor="start" fill="#111">0.25% ITP-Lip</text>
<line x1="579.7" y1="32" x2="587.3" y2="32" stroke="#2020c0" stroke-width="0.7" stroke-dasharray="1.5 1"/><rect x="582.6" y="31.1" width="1.8" height="1.8" fill="#2020c0"/><text x="591.6" y="33.8" font-size="5.5" font-weight="normal" text-anchor="start" fill="#111">0.5% CHL-Lip</text>
<line x1="629.7" y1="32" x2="637.3" y2="32" stroke="#30a030" stroke-width="0.7" stroke-dasharray="1.5 1"/><rect x="632.6" y="31.1" width="1.8" height="1.8" fill="#30a030"/><text x="641.3" y="33.8" font-size="5.5" font-weight="normal" text-anchor="start" fill="#111">0.5% ITP-Lip</text>
<line x1="579.7" y1="39.6" x2="587.3" y2="39.6" stroke="#ffa060" stroke-width="0.7" stroke-dasharray="1.5 1"/><rect x="582.6" y="38.7" width="1.8" height="1.8" fill="#ffa060"/><text x="591.6" y="41.4" font-size="5.5" font-weight="normal" text-anchor="start" fill="#111">1% CHL-Lip</text>
<line x1="629.7" y1="39.6" x2="637.3" y2="39.6" stroke="#ff60ff" stroke-width="0.7" stroke-dasharray="1.5 1"/><rect x="632.6" y="38.7" width="1.8" height="1.8" fill="#ff60ff"/><text x="641.3" y="41.4" font-size="5.5" font-weight="normal" text-anchor="start" fill="#111">1% ITP-Lip</text>
<line x1="579.7" y1="47" x2="587.3" y2="47" stroke="#208020" stroke-width="0.7" stroke-dasharray="1.5 1"/><rect x="582.6" y="46.1" width="1.8" height="1.8" fill="#208020"/><text x="591.6" y="48.8" font-size="5.5" font-weight="normal" text-anchor="start" fill="#111">2% CHL-Lip</text>
<line x1="629.7" y1="47" x2="637.3" y2="47" stroke="#202020" stroke-width="0.7" stroke-dasharray="1.5 1"/><rect x="632.6" y="46.1" width="1.8" height="1.8" fill="#202020"/><text x="641.3" y="48.8" font-size="5.5" font-weight="normal" text-anchor="start" fill="#111">2% ITP-Lip</text>
<line x1="579.7" y1="54.8" x2="587.3" y2="54.8" stroke="#3030ff" stroke-width="0.7" stroke-dasharray="1.5 1"/><rect x="582.6" y="53.9" width="1.8" height="1.8" fill="#3030ff"/><text x="591.6" y="56.6" font-size="5.5" font-weight="normal" text-anchor="start" fill="#111">4% CHL-Lip</text>
<line x1="629.7" y1="54.8" x2="637.3" y2="54.8" stroke="#ff3030" stroke-width="0.7" stroke-dasharray="1.5 1"/><rect x="632.6" y="53.9" width="1.8" height="1.8" fill="#ff3030"/><text x="641.3" y="56.6" font-size="5.5" font-weight="normal" text-anchor="start" fill="#111">4% ITP-Lip</text>
</g>
<g id="p-e">
<text x="6.1" y="182.4" font-size="19.8" font-weight="normal" text-anchor="start" stroke="#000" stroke-width="0.15">e</text>
<line x1="65.7" y1="191.7" x2="65.7" y2="304" stroke="#000" stroke-width="1.2"/>
<line x1="65.1" y1="303.4" x2="140.4" y2="303.4" stroke="#000" stroke-width="1.2"/>
<line x1="62.1" y1="303.4" x2="65.7" y2="303.4" stroke="#000" stroke-width="1.1"/>
<text x="59.9" y="306.4" font-size="8.7" text-anchor="end">0</text>
<line x1="62.1" y1="266.37" x2="65.7" y2="266.37" stroke="#000" stroke-width="1.1"/>
<text x="59.9" y="269.37" font-size="8.7" text-anchor="end">20</text>
<line x1="62.1" y1="229.33" x2="65.7" y2="229.33" stroke="#000" stroke-width="1.1"/>
<text x="59.9" y="232.33" font-size="8.7" text-anchor="end">40</text>
<line x1="62.1" y1="192.3" x2="65.7" y2="192.3" stroke="#000" stroke-width="1.1"/>
<text x="59.9" y="195.3" font-size="8.7" text-anchor="end">60</text>
<line x1="87.1" y1="303.4" x2="87.1" y2="307" stroke="#000" stroke-width="1.1"/>
<line x1="118.7" y1="303.4" x2="118.7" y2="307" stroke="#000" stroke-width="1.1"/>
<text x="87.1" y="318.2" font-size="9.2">Lip</text>
<text x="118.7" y="318.2" font-size="9.2">ITP-Lip</text>
<text x="31.8" y="247.5" font-size="9.2" transform="rotate(-90 31.8 247.5)">Normalized Young's modulus</text>
<text x="42.4" y="246" font-size="9.2" transform="rotate(-90 42.4 246)">to Lip</text>
<line x1="87.6" y1="192" x2="118.7" y2="192" stroke="#000" stroke-width="0.9"/>
<line x1="87.6" y1="189.6" x2="87.6" y2="194.8" stroke="#000" stroke-width="0.9"/>
<line x1="118.7" y1="189.6" x2="118.7" y2="194.8" stroke="#000" stroke-width="0.9"/>
<text x="103" y="186.8" font-size="6" font-style="italic">* p=0.0215</text>
<line x1="108" y1="235" x2="129.3" y2="235" stroke="#2222ee" stroke-width="1.1"/>
<line x1="118.7" y1="203.4" x2="118.7" y2="266.3" stroke="#2222ee" stroke-width="1.1"/><line x1="113.2" y1="203.4" x2="124.2" y2="203.4" stroke="#2222ee" stroke-width="1.1"/><line x1="113.2" y1="266.3" x2="124.2" y2="266.3" stroke="#2222ee" stroke-width="1.1"/>
<path d="M118.7 199.3 L120.5 202.7 L116.9 202.7Z" fill="none" stroke="#2222ee" stroke-width="0.8"/>
<path d="M118.7 240.6 L120.5 244 L116.9 244Z" fill="#2222ee" stroke="#2222ee" stroke-width="0.8"/>
<path d="M118.7 260.8 L120.5 264.2 L116.9 264.2Z" fill="#2222ee" stroke="#2222ee" stroke-width="0.8"/>
<line x1="76.5" y1="301.4" x2="97.2" y2="301.4" stroke="#f23030" stroke-width="0.9"/>
<line x1="83" y1="300.4" x2="91" y2="300.4" stroke="#f23030" stroke-width="0.7"/>
<line x1="83" y1="302.4" x2="91" y2="302.4" stroke="#f23030" stroke-width="0.7"/>
<circle cx="80.8" cy="302.2" r="1.4" fill="none" stroke="#f23030" stroke-width="0.8"/>
<circle cx="87.1" cy="300.6" r="1.4" fill="none" stroke="#f23030" stroke-width="0.8"/>
<circle cx="93.4" cy="301.9" r="1.4" fill="none" stroke="#f23030" stroke-width="0.8"/>
</g>
<g id="p-f">
<text x="179.1" y="184" font-size="19.5" font-weight="normal" text-anchor="start" stroke="#000" stroke-width="0.15">f</text>
<line x1="214.6" y1="207.2" x2="214.6" y2="302.1" stroke="#000" stroke-width="1"/>
<line x1="214.1" y1="301.6" x2="341.6" y2="301.6" stroke="#000" stroke-width="1"/>
<line x1="211.6" y1="301.7" x2="214.6" y2="301.7" stroke="#000" stroke-width="0.9"/>
<text x="210.8" y="304.1" font-size="7.2" text-anchor="end">0.6</text>
<line x1="211.6" y1="282.9" x2="214.6" y2="282.9" stroke="#000" stroke-width="0.9"/>
<text x="210.8" y="285.3" font-size="7.2" text-anchor="end">0.7</text>
<line x1="211.6" y1="264.1" x2="214.6" y2="264.1" stroke="#000" stroke-width="0.9"/>
<text x="210.8" y="266.5" font-size="7.2" text-anchor="end">0.8</text>
<line x1="211.6" y1="245.3" x2="214.6" y2="245.3" stroke="#000" stroke-width="0.9"/>
<text x="210.8" y="247.7" font-size="7.2" text-anchor="end">0.9</text>
<line x1="211.6" y1="226.5" x2="214.6" y2="226.5" stroke="#000" stroke-width="0.9"/>
<text x="210.8" y="228.9" font-size="7.2" text-anchor="end">1.0</text>
<line x1="211.6" y1="207.7" x2="214.6" y2="207.7" stroke="#000" stroke-width="0.9"/>
<text x="210.8" y="210.1" font-size="7.2" text-anchor="end">1.1</text>
<line x1="216.8" y1="301.6" x2="216.8" y2="304.6" stroke="#000" stroke-width="0.9"/>
<text x="216.8" y="312.2" font-size="7.2">0</text>
<line x1="241.7" y1="301.6" x2="241.7" y2="304.6" stroke="#000" stroke-width="0.9"/>
<text x="241.7" y="312.2" font-size="7.2">10</text>
<line x1="266.6" y1="301.6" x2="266.6" y2="304.6" stroke="#000" stroke-width="0.9"/>
<text x="266.6" y="312.2" font-size="7.2">20</text>
<line x1="291.5" y1="301.6" x2="291.5" y2="304.6" stroke="#000" stroke-width="0.9"/>
<text x="291.5" y="312.2" font-size="7.2">30</text>
<line x1="316.4" y1="301.6" x2="316.4" y2="304.6" stroke="#000" stroke-width="0.9"/>
<text x="316.4" y="312.2" font-size="7.2">40</text>
<line x1="341.3" y1="301.6" x2="341.3" y2="304.6" stroke="#000" stroke-width="0.9"/>
<text x="341.3" y="312.2" font-size="7.2">50</text>
<text x="277.7" y="325.4" font-size="7.6">Time (h)</text>
<text x="187.6" y="254" font-size="7.8" transform="rotate(-90 187.6 254)">Normalized FRET efficacy</text>
<text x="196.2" y="252.7" font-size="7.8" transform="rotate(-90 196.2 252.7)">to 0h</text>
<path d="M216.8 226.5 L219.29 228.38 L221.78 229.32 L226.76 233.08 L236.72 234.02 L246.68 238.34 L276.56 242.86 L336.32 254.7" fill="none" stroke="#3fe03f" stroke-width="1"/>
<path d="M216.8 224.6 L218.51 227.83 L215.09 227.83Z" fill="none" stroke="#3fe03f" stroke-width="0.8"/>
<line x1="219.29" y1="226.5" x2="219.29" y2="230.26" stroke="#3fe03f" stroke-width="0.8"/><line x1="217.69" y1="226.5" x2="220.89" y2="226.5" stroke="#3fe03f" stroke-width="0.8"/><line x1="217.69" y1="230.26" x2="220.89" y2="230.26" stroke="#3fe03f" stroke-width="0.8"/>
<path d="M219.29 226.48 L221 229.71 L217.58 229.71Z" fill="none" stroke="#3fe03f" stroke-width="0.8"/>
<line x1="221.78" y1="227.06" x2="221.78" y2="231.58" stroke="#3fe03f" stroke-width="0.8"/><line x1="220.18" y1="227.06" x2="223.38" y2="227.06" stroke="#3fe03f" stroke-width="0.8"/><line x1="220.18" y1="231.58" x2="223.38" y2="231.58" stroke="#3fe03f" stroke-width="0.8"/>
<path d="M221.78 227.42 L223.49 230.65 L220.07 230.65Z" fill="none" stroke="#3fe03f" stroke-width="0.8"/>
<line x1="226.76" y1="231.2" x2="226.76" y2="234.96" stroke="#3fe03f" stroke-width="0.8"/><line x1="225.16" y1="231.2" x2="228.36" y2="231.2" stroke="#3fe03f" stroke-width="0.8"/><line x1="225.16" y1="234.96" x2="228.36" y2="234.96" stroke="#3fe03f" stroke-width="0.8"/>
<path d="M226.76 231.18 L228.47 234.41 L225.05 234.41Z" fill="none" stroke="#3fe03f" stroke-width="0.8"/>
<line x1="236.72" y1="230.64" x2="236.72" y2="237.4" stroke="#3fe03f" stroke-width="0.8"/><line x1="235.12" y1="230.64" x2="238.32" y2="230.64" stroke="#3fe03f" stroke-width="0.8"/><line x1="235.12" y1="237.4" x2="238.32" y2="237.4" stroke="#3fe03f" stroke-width="0.8"/>
<path d="M236.72 232.12 L238.43 235.35 L235.01 235.35Z" fill="none" stroke="#3fe03f" stroke-width="0.8"/>
<line x1="246.68" y1="236.09" x2="246.68" y2="240.6" stroke="#3fe03f" stroke-width="0.8"/><line x1="245.08" y1="236.09" x2="248.28" y2="236.09" stroke="#3fe03f" stroke-width="0.8"/><line x1="245.08" y1="240.6" x2="248.28" y2="240.6" stroke="#3fe03f" stroke-width="0.8"/>
<path d="M246.68 236.44 L248.39 239.67 L244.97 239.67Z" fill="none" stroke="#3fe03f" stroke-width="0.8"/>
<line x1="276.56" y1="240.6" x2="276.56" y2="245.11" stroke="#3fe03f" stroke-width="0.8"/><line x1="274.96" y1="240.6" x2="278.16" y2="240.6" stroke="#3fe03f" stroke-width="0.8"/><line x1="274.96" y1="245.11" x2="278.16" y2="245.11" stroke="#3fe03f" stroke-width="0.8"/>
<path d="M276.56 240.96 L278.27 244.19 L274.85 244.19Z" fill="none" stroke="#3fe03f" stroke-width="0.8"/>
<line x1="336.32" y1="250.94" x2="336.32" y2="258.46" stroke="#3fe03f" stroke-width="0.8"/><line x1="334.72" y1="250.94" x2="337.92" y2="250.94" stroke="#3fe03f" stroke-width="0.8"/><line x1="334.72" y1="258.46" x2="337.92" y2="258.46" stroke="#3fe03f" stroke-width="0.8"/>
<path d="M336.32 252.8 L338.03 256.03 L334.61 256.03Z" fill="none" stroke="#3fe03f" stroke-width="0.8"/>
<path d="M216.8 226.5 L219.29 229.32 L221.78 231.2 L226.76 234.02 L236.72 234.96 L246.68 236.28 L276.56 238.34 L336.32 243.8" fill="none" stroke="#a0703c" stroke-width="1"/>
<circle cx="216.8" cy="226.5" r="1.5" fill="none" stroke="#a0703c" stroke-width="0.8"/>
<line x1="219.29" y1="227.82" x2="219.29" y2="230.82" stroke="#a0703c" stroke-width="0.8"/><line x1="217.69" y1="227.82" x2="220.89" y2="227.82" stroke="#a0703c" stroke-width="0.8"/><line x1="217.69" y1="230.82" x2="220.89" y2="230.82" stroke="#a0703c" stroke-width="0.8"/>
<circle cx="219.29" cy="229.32" r="1.5" fill="none" stroke="#a0703c" stroke-width="0.8"/>
<line x1="221.78" y1="229.7" x2="221.78" y2="232.7" stroke="#a0703c" stroke-width="0.8"/><line x1="220.18" y1="229.7" x2="223.38" y2="229.7" stroke="#a0703c" stroke-width="0.8"/><line x1="220.18" y1="232.7" x2="223.38" y2="232.7" stroke="#a0703c" stroke-width="0.8"/>
<circle cx="221.78" cy="231.2" r="1.5" fill="none" stroke="#a0703c" stroke-width="0.8"/>
<line x1="226.76" y1="232.14" x2="226.76" y2="235.9" stroke="#a0703c" stroke-width="0.8"/><line x1="225.16" y1="232.14" x2="228.36" y2="232.14" stroke="#a0703c" stroke-width="0.8"/><line x1="225.16" y1="235.9" x2="228.36" y2="235.9" stroke="#a0703c" stroke-width="0.8"/>
<circle cx="226.76" cy="234.02" r="1.5" fill="none" stroke="#a0703c" stroke-width="0.8"/>
<line x1="236.72" y1="233.08" x2="236.72" y2="236.84" stroke="#a0703c" stroke-width="0.8"/><line x1="235.12" y1="233.08" x2="238.32" y2="233.08" stroke="#a0703c" stroke-width="0.8"/><line x1="235.12" y1="236.84" x2="238.32" y2="236.84" stroke="#a0703c" stroke-width="0.8"/>
<circle cx="236.72" cy="234.96" r="1.5" fill="none" stroke="#a0703c" stroke-width="0.8"/>
<line x1="246.68" y1="234.77" x2="246.68" y2="237.78" stroke="#a0703c" stroke-width="0.8"/><line x1="245.08" y1="234.77" x2="248.28" y2="234.77" stroke="#a0703c" stroke-width="0.8"/><line x1="245.08" y1="237.78" x2="248.28" y2="237.78" stroke="#a0703c" stroke-width="0.8"/>
<circle cx="246.68" cy="236.28" r="1.5" fill="none" stroke="#a0703c" stroke-width="0.8"/>
<line x1="276.56" y1="236.84" x2="276.56" y2="239.85" stroke="#a0703c" stroke-width="0.8"/><line x1="274.96" y1="236.84" x2="278.16" y2="236.84" stroke="#a0703c" stroke-width="0.8"/><line x1="274.96" y1="239.85" x2="278.16" y2="239.85" stroke="#a0703c" stroke-width="0.8"/>
<circle cx="276.56" cy="238.34" r="1.5" fill="none" stroke="#a0703c" stroke-width="0.8"/>
<line x1="336.32" y1="238.53" x2="336.32" y2="249.06" stroke="#a0703c" stroke-width="0.8"/><line x1="334.72" y1="238.53" x2="337.92" y2="238.53" stroke="#a0703c" stroke-width="0.8"/><line x1="334.72" y1="249.06" x2="337.92" y2="249.06" stroke="#a0703c" stroke-width="0.8"/>
<circle cx="336.32" cy="243.8" r="1.5" fill="none" stroke="#a0703c" stroke-width="0.8"/>
<path d="M216.8 226.5 L219.29 229.32 L221.78 234.02 L226.76 237.78 L236.72 245.3 L246.68 245.3 L276.56 255.64 L336.32 264.1" fill="none" stroke="#2222ee" stroke-width="1"/>
<path d="M216.8 228.4 L218.51 225.17 L215.09 225.17Z" fill="none" stroke="#2222ee" stroke-width="0.8"/>
<line x1="219.29" y1="227.82" x2="219.29" y2="230.82" stroke="#2222ee" stroke-width="0.8"/><line x1="217.69" y1="227.82" x2="220.89" y2="227.82" stroke="#2222ee" stroke-width="0.8"/><line x1="217.69" y1="230.82" x2="220.89" y2="230.82" stroke="#2222ee" stroke-width="0.8"/>
<path d="M219.29 231.22 L221 227.99 L217.58 227.99Z" fill="none" stroke="#2222ee" stroke-width="0.8"/>
<line x1="221.78" y1="232.52" x2="221.78" y2="235.52" stroke="#2222ee" stroke-width="0.8"/><line x1="220.18" y1="232.52" x2="223.38" y2="232.52" stroke="#2222ee" stroke-width="0.8"/><line x1="220.18" y1="235.52" x2="223.38" y2="235.52" stroke="#2222ee" stroke-width="0.8"/>
<path d="M221.78 235.92 L223.49 232.69 L220.07 232.69Z" fill="none" stroke="#2222ee" stroke-width="0.8"/>
<line x1="226.76" y1="235.9" x2="226.76" y2="239.66" stroke="#2222ee" stroke-width="0.8"/><line x1="225.16" y1="235.9" x2="228.36" y2="235.9" stroke="#2222ee" stroke-width="0.8"/><line x1="225.16" y1="239.66" x2="228.36" y2="239.66" stroke="#2222ee" stroke-width="0.8"/>
<path d="M226.76 239.68 L228.47 236.45 L225.05 236.45Z" fill="none" stroke="#2222ee" stroke-width="0.8"/>
<line x1="236.72" y1="243.04" x2="236.72" y2="247.56" stroke="#2222ee" stroke-width="0.8"/><line x1="235.12" y1="243.04" x2="238.32" y2="243.04" stroke="#2222ee" stroke-width="0.8"/><line x1="235.12" y1="247.56" x2="238.32" y2="247.56" stroke="#2222ee" stroke-width="0.8"/>
<path d="M236.72 247.2 L238.43 243.97 L235.01 243.97Z" fill="none" stroke="#2222ee" stroke-width="0.8"/>
<line x1="246.68" y1="243.04" x2="246.68" y2="247.56" stroke="#2222ee" stroke-width="0.8"/><line x1="245.08" y1="243.04" x2="248.28" y2="243.04" stroke="#2222ee" stroke-width="0.8"/><line x1="245.08" y1="247.56" x2="248.28" y2="247.56" stroke="#2222ee" stroke-width="0.8"/>
<path d="M246.68 247.2 L248.39 243.97 L244.97 243.97Z" fill="none" stroke="#2222ee" stroke-width="0.8"/>
<line x1="276.56" y1="251.5" x2="276.56" y2="259.78" stroke="#2222ee" stroke-width="0.8"/><line x1="274.96" y1="251.5" x2="278.16" y2="251.5" stroke="#2222ee" stroke-width="0.8"/><line x1="274.96" y1="259.78" x2="278.16" y2="259.78" stroke="#2222ee" stroke-width="0.8"/>
<path d="M276.56 257.54 L278.27 254.31 L274.85 254.31Z" fill="none" stroke="#2222ee" stroke-width="0.8"/>
<line x1="336.32" y1="260.34" x2="336.32" y2="267.86" stroke="#2222ee" stroke-width="0.8"/><line x1="334.72" y1="260.34" x2="337.92" y2="260.34" stroke="#2222ee" stroke-width="0.8"/><line x1="334.72" y1="267.86" x2="337.92" y2="267.86" stroke="#2222ee" stroke-width="0.8"/>
<path d="M336.32 266 L338.03 262.77 L334.61 262.77Z" fill="none" stroke="#2222ee" stroke-width="0.8"/>
<path d="M216.8 226.5 L219.29 230.26 L221.78 234.96 L226.76 239.66 L236.72 248.5 L246.68 253.38 L276.56 263.54 L336.32 281.96" fill="none" stroke="#f23030" stroke-width="1"/>
<path d="M216.8 224.7 L218.6 226.5 L216.8 228.3 L215 226.5Z" fill="none" stroke="#f23030" stroke-width="0.8"/>
<line x1="219.29" y1="228.76" x2="219.29" y2="231.76" stroke="#f23030" stroke-width="0.8"/><line x1="217.69" y1="228.76" x2="220.89" y2="228.76" stroke="#f23030" stroke-width="0.8"/><line x1="217.69" y1="231.76" x2="220.89" y2="231.76" stroke="#f23030" stroke-width="0.8"/>
<path d="M219.29 228.46 L221.09 230.26 L219.29 232.06 L217.49 230.26Z" fill="none" stroke="#f23030" stroke-width="0.8"/>
<line x1="221.78" y1="233.08" x2="221.78" y2="236.84" stroke="#f23030" stroke-width="0.8"/><line x1="220.18" y1="233.08" x2="223.38" y2="233.08" stroke="#f23030" stroke-width="0.8"/><line x1="220.18" y1="236.84" x2="223.38" y2="236.84" stroke="#f23030" stroke-width="0.8"/>
<path d="M221.78 233.16 L223.58 234.96 L221.78 236.76 L219.98 234.96Z" fill="none" stroke="#f23030" stroke-width="0.8"/>
<line x1="226.76" y1="237.78" x2="226.76" y2="241.54" stroke="#f23030" stroke-width="0.8"/><line x1="225.16" y1="237.78" x2="228.36" y2="237.78" stroke="#f23030" stroke-width="0.8"/><line x1="225.16" y1="241.54" x2="228.36" y2="241.54" stroke="#f23030" stroke-width="0.8"/>
<path d="M226.76 237.86 L228.56 239.66 L226.76 241.46 L224.96 239.66Z" fill="none" stroke="#f23030" stroke-width="0.8"/>
<line x1="236.72" y1="246.24" x2="236.72" y2="250.75" stroke="#f23030" stroke-width="0.8"/><line x1="235.12" y1="246.24" x2="238.32" y2="246.24" stroke="#f23030" stroke-width="0.8"/><line x1="235.12" y1="250.75" x2="238.32" y2="250.75" stroke="#f23030" stroke-width="0.8"/>
<path d="M236.72 246.7 L238.52 248.5 L236.72 250.3 L234.92 248.5Z" fill="none" stroke="#f23030" stroke-width="0.8"/>
<line x1="246.68" y1="251.5" x2="246.68" y2="255.26" stroke="#f23030" stroke-width="0.8"/><line x1="245.08" y1="251.5" x2="248.28" y2="251.5" stroke="#f23030" stroke-width="0.8"/><line x1="245.08" y1="255.26" x2="248.28" y2="255.26" stroke="#f23030" stroke-width="0.8"/>
<path d="M246.68 251.58 L248.48 253.38 L246.68 255.18 L244.88 253.38Z" fill="none" stroke="#f23030" stroke-width="0.8"/>
<line x1="276.56" y1="261.66" x2="276.56" y2="265.42" stroke="#f23030" stroke-width="0.8"/><line x1="274.96" y1="261.66" x2="278.16" y2="261.66" stroke="#f23030" stroke-width="0.8"/><line x1="274.96" y1="265.42" x2="278.16" y2="265.42" stroke="#f23030" stroke-width="0.8"/>
<path d="M276.56 261.74 L278.36 263.54 L276.56 265.34 L274.76 263.54Z" fill="none" stroke="#f23030" stroke-width="0.8"/>
<line x1="336.32" y1="275.38" x2="336.32" y2="288.54" stroke="#f23030" stroke-width="0.8"/><line x1="334.72" y1="275.38" x2="337.92" y2="275.38" stroke="#f23030" stroke-width="0.8"/><line x1="334.72" y1="288.54" x2="337.92" y2="288.54" stroke="#f23030" stroke-width="0.8"/>
<path d="M336.32 280.16 L338.12 281.96 L336.32 283.76 L334.52 281.96Z" fill="none" stroke="#f23030" stroke-width="0.8"/>
<line x1="242.7" y1="203.5" x2="252.7" y2="203.5" stroke="#f23030" stroke-width="1"/>
<path d="M247.7 201.7 L249.5 203.5 L247.7 205.3 L245.9 203.5Z" fill="none" stroke="#f23030" stroke-width="0.8"/>
<text x="256.8" y="205.5" font-size="5.6" font-weight="normal" text-anchor="start" fill="#222">Lip</text>
<line x1="288.4" y1="203.5" x2="298.4" y2="203.5" stroke="#3fe03f" stroke-width="1"/>
<path d="M293.4 201.6 L295.11 204.83 L291.69 204.83Z" fill="none" stroke="#3fe03f" stroke-width="0.8"/>
<text x="302.8" y="205.5" font-size="5.6" font-weight="normal" text-anchor="start" fill="#222">ITP-Lip</text>
<line x1="242.7" y1="214.5" x2="252.7" y2="214.5" stroke="#2222ee" stroke-width="1"/>
<path d="M247.7 216.4 L249.41 213.17 L245.99 213.17Z" fill="none" stroke="#2222ee" stroke-width="0.8"/>
<text x="256.8" y="216.5" font-size="5.6" font-weight="normal" text-anchor="start" fill="#222">PEG-Lip</text>
<line x1="288.4" y1="214.5" x2="298.4" y2="214.5" stroke="#a0703c" stroke-width="1"/>
<circle cx="293.4" cy="214.5" r="1.5" fill="none" stroke="#a0703c" stroke-width="0.8"/>
<text x="302.8" y="216.5" font-size="5.6" font-weight="normal" text-anchor="start" fill="#222">PEG-ITP-Lip</text>
</g>
<g id="p-g">
<text x="353.9" y="179" font-size="20.5" font-weight="normal" text-anchor="start" stroke="#000" stroke-width="0.15">g</text>
<text x="404.15" y="167.4" font-size="7.2">Lip</text>
<text x="452.85" y="167.4" font-size="7.2">0.25% ITP-Lip</text>
<text x="503.95" y="167.4" font-size="7.2">0.5% ITP-Lip</text>
<text x="555.15" y="167.4" font-size="7.2">1% ITP-Lip</text>
<text x="606.35" y="167.4" font-size="7.2">2% ITP-Lip</text>
<text x="657.45" y="167.4" font-size="7.2">4% ITP-Lip</text>
<text x="374" y="196.6" font-size="7.3" fill="#2a18f0" transform="rotate(-90 374 196.6)">DAPI</text>
<text x="374" y="246.6" font-size="7.3" fill="#35c035" transform="rotate(-90 374 246.6)">Coumarin 6</text>
<text x="374" y="297.6" font-size="7.3" transform="rotate(-90 374 297.6)">Merge</text>
<g clip-path="url(#cg0)">
<rect x="377.3" y="171.5" width="48.7" height="49.2" fill="#02020b"/>
<g filter="url(#b05)"><ellipse cx="389.7" cy="201.1" rx="2.3" ry="3.6" fill="#2828ff"/><ellipse cx="391.2" cy="209.8" rx="2.7" ry="3" fill="#2020bd"/><ellipse cx="404.1" cy="182.1" rx="2.1" ry="2.1" fill="#2626ee"/><ellipse cx="407.9" cy="185.2" rx="2.1" ry="2.1" fill="#2626ee"/><ellipse cx="403.3" cy="186.4" rx="2.1" ry="2.1" fill="#2626ee"/><ellipse cx="407.6" cy="189" rx="2.1" ry="2.1" fill="#2626ee"/><ellipse cx="412.4" cy="192.5" rx="3" ry="2" fill="#2525e6"/><ellipse cx="419.3" cy="186.4" rx="2.7" ry="2.3" fill="#2424de"/></g>
</g>
<g clip-path="url(#cg1)">
<rect x="428.5" y="171.5" width="48.7" height="49.2" fill="#02020b"/>
<g filter="url(#b05)"><ellipse cx="434.4" cy="181.4" rx="2.7" ry="3.9" fill="#2828ff"/><ellipse cx="437" cy="195" rx="3.9" ry="3" fill="#2828ff" transform="rotate(-25 437 195)"/><ellipse cx="471.3" cy="194.3" rx="4.2" ry="4.2" fill="#1e1eac"/><ellipse cx="463.7" cy="216" rx="3.6" ry="2.6" fill="#2828ff" transform="rotate(30 463.7 216)"/></g>
</g>
<g clip-path="url(#cg2)">
<rect x="479.6" y="171.5" width="48.7" height="49.2" fill="#02020b"/>
<g filter="url(#b05)"><ellipse cx="496.5" cy="182.2" rx="3.5" ry="2.8" fill="#2828ff" transform="rotate(-30 496.5 182.2)"/><ellipse cx="483.2" cy="201.7" rx="3" ry="3.5" fill="#2626ee"/><ellipse cx="499.6" cy="207.5" rx="3" ry="4" fill="#2828ff" transform="rotate(15 499.6 207.5)"/><ellipse cx="486.9" cy="209.2" rx="2" ry="3" fill="#1e1eac"/><ellipse cx="523.6" cy="198.6" rx="3" ry="3" fill="#2828ff"/><ellipse cx="524.4" cy="202.8" rx="3.2" ry="3.2" fill="#2828ff"/></g>
</g>
<g clip-path="url(#cg3)">
<rect x="530.8" y="171.5" width="48.7" height="49.2" fill="#02020b"/>
<g filter="url(#b05)"><ellipse cx="569.6" cy="177.2" rx="2.5" ry="4" fill="#1e1eac" transform="rotate(-15 569.6 177.2)"/><ellipse cx="540.3" cy="185.3" rx="4" ry="2" fill="#1e1eac" transform="rotate(10 540.3 185.3)"/><ellipse cx="544.8" cy="199.1" rx="2" ry="2.5" fill="#1e1eac"/><ellipse cx="556.2" cy="206.2" rx="3" ry="4" fill="#2828ff" transform="rotate(20 556.2 206.2)"/><ellipse cx="540.5" cy="216.1" rx="2" ry="3.5" fill="#2424de"/></g>
</g>
<g clip-path="url(#cg4)">
<rect x="582" y="171.5" width="48.7" height="49.2" fill="#02020b"/>
<g filter="url(#b05)"><ellipse cx="601.6" cy="190.3" rx="4" ry="3" fill="#2828ff"/><ellipse cx="612.3" cy="194.6" rx="3.5" ry="3" fill="#2828ff"/><ellipse cx="621.1" cy="184.7" rx="3" ry="2" fill="#1e1eac"/><ellipse cx="585.2" cy="206" rx="3" ry="2.5" fill="#2626ee"/><ellipse cx="586.5" cy="218.8" rx="3" ry="2" fill="#2626ee"/></g>
</g>
<g clip-path="url(#cg5)">
<rect x="633.1" y="171.5" width="48.7" height="49.2" fill="#02020b"/>
<g filter="url(#b05)"><ellipse cx="649.1" cy="185.3" rx="2.5" ry="2.5" fill="#2626ee"/><ellipse cx="664.3" cy="182.7" rx="2.5" ry="2" fill="#1e1eac"/><ellipse cx="678.7" cy="182.7" rx="2.5" ry="4" fill="#2626ee"/><ellipse cx="637.5" cy="190.8" rx="2" ry="2.5" fill="#2424de"/><ellipse cx="666.5" cy="194.6" rx="3" ry="2.5" fill="#2020bd"/><ellipse cx="655.2" cy="203.4" rx="3" ry="3.5" fill="#2828ff"/><ellipse cx="651.6" cy="211.8" rx="2.5" ry="3" fill="#2626ee"/></g>
</g>
<g clip-path="url(#cg6)">
<rect x="377.3" y="223" width="48.7" height="49.2" fill="#010301"/>
<g filter="url(#b05)"><ellipse cx="390.51" cy="253.22" rx="4.62" ry="5.25" fill="#2f9a22" transform="rotate(11.6 390.51 253.22)" opacity="0.04"/><ellipse cx="390.51" cy="253.22" rx="4.22" ry="4.85" fill="none" stroke="#4cc838" stroke-width="0.7" transform="rotate(11.6 390.51 253.22)" stroke-dasharray="7.8 4.66 2.32 5.74" opacity="0.1"/><ellipse cx="390.71" cy="260.73" rx="6.75" ry="5.15" fill="#2f9a22" transform="rotate(13.4 390.71 260.73)" opacity="0.03"/><ellipse cx="390.71" cy="260.73" rx="6.35" ry="4.75" fill="none" stroke="#4cc838" stroke-width="0.7" transform="rotate(13.4 390.71 260.73)" stroke-dasharray="4.07 2.94 3.39 6.76" opacity="0.16"/><ellipse cx="404.27" cy="234.8" rx="4.56" ry="4.26" fill="#2f9a22" transform="rotate(15.9 404.27 234.8)" opacity="0.03"/><ellipse cx="404.27" cy="234.8" rx="4.16" ry="3.86" fill="none" stroke="#4cc838" stroke-width="0.7" transform="rotate(15.9 404.27 234.8)" stroke-dasharray="6.89 2.62 2.02 5.37" opacity="0.15"/><ellipse cx="408.92" cy="237.94" rx="5.35" ry="3.49" fill="#2f9a22" transform="rotate(-13.14 408.92 237.94)" opacity="0.04"/><ellipse cx="408.92" cy="237.94" rx="4.95" ry="3.09" fill="none" stroke="#4cc838" stroke-width="0.7" transform="rotate(-13.14 408.92 237.94)" stroke-dasharray="6.83 6.51 2.51 6.32" opacity="0.16"/><ellipse cx="404.12" cy="237.92" rx="5.44" ry="4.02" fill="#2f9a22" transform="rotate(-10.51 404.12 237.92)" opacity="0.04"/><ellipse cx="404.12" cy="237.92" rx="5.04" ry="3.62" fill="none" stroke="#4cc838" stroke-width="0.7" transform="rotate(-10.51 404.12 237.92)" stroke-dasharray="6.17 3.72 5.42 5.18" opacity="0.13"/><ellipse cx="408.77" cy="240.95" rx="5.78" ry="4.11" fill="#2f9a22" transform="rotate(-12.37 408.77 240.95)" opacity="0.05"/><ellipse cx="408.77" cy="240.95" rx="5.38" ry="3.71" fill="none" stroke="#4cc838" stroke-width="0.7" transform="rotate(-12.37 408.77 240.95)" stroke-dasharray="8.46 5.57 5.07 6.08" opacity="0.13"/><ellipse cx="412.93" cy="245.08" rx="6.28" ry="3.35" fill="#2f9a22" transform="rotate(-16.76 412.93 245.08)" opacity="0.04"/><ellipse cx="412.93" cy="245.08" rx="5.88" ry="2.95" fill="none" stroke="#4cc838" stroke-width="0.7" transform="rotate(-16.76 412.93 245.08)" stroke-dasharray="7.24 2.61 2.2 6.57" opacity="0.11"/><ellipse cx="419.75" cy="238.65" rx="5.38" ry="4.12" fill="#2f9a22" transform="rotate(3.41 419.75 238.65)" opacity="0.04"/><ellipse cx="419.75" cy="238.65" rx="4.98" ry="3.72" fill="none" stroke="#4cc838" stroke-width="0.7" transform="rotate(3.41 419.75 238.65)" stroke-dasharray="3.08 2.57 2.77 6.15" opacity="0.14"/><ellipse cx="389.7" cy="252.6" rx="2.07" ry="3.24" fill="#010301" opacity="0.55"/><ellipse cx="391.2" cy="261.3" rx="2.43" ry="2.7" fill="#010301" opacity="0.55"/><ellipse cx="404.1" cy="233.6" rx="1.89" ry="1.89" fill="#010301" opacity="0.55"/><ellipse cx="407.9" cy="236.7" rx="1.89" ry="1.89" fill="#010301" opacity="0.55"/><ellipse cx="403.3" cy="237.9" rx="1.89" ry="1.89" fill="#010301" opacity="0.55"/><ellipse cx="407.6" cy="240.5" rx="1.89" ry="1.89" fill="#010301" opacity="0.55"/><ellipse cx="412.4" cy="244" rx="2.7" ry="1.8" fill="#010301" opacity="0.55"/><ellipse cx="419.3" cy="237.9" rx="2.43" ry="2.07" fill="#010301" opacity="0.55"/></g>
</g>
<g clip-path="url(#cg7)">
<rect x="428.5" y="223" width="48.7" height="49.2" fill="#010301"/>
<g filter="url(#b05)"><ellipse cx="435.8" cy="234.17" rx="5.98" ry="5.29" fill="#2f9a22" transform="rotate(-1.64 435.8 234.17)" opacity="0.06"/><ellipse cx="435.8" cy="234.17" rx="5.58" ry="4.89" fill="none" stroke="#4cc838" stroke-width="0.7" transform="rotate(-1.64 435.8 234.17)" stroke-dasharray="4.29 3.11 3.15 7.15" opacity="0.16"/><ellipse cx="436.08" cy="245.27" rx="8.04" ry="4.27" fill="#2f9a22" transform="rotate(-11.51 436.08 245.27)" opacity="0.05"/><ellipse cx="436.08" cy="245.27" rx="7.64" ry="3.87" fill="none" stroke="#4cc838" stroke-width="0.7" transform="rotate(-11.51 436.08 245.27)" stroke-dasharray="5.83 3.63 4.55 5.42" opacity="0.16"/><ellipse cx="470.13" cy="246.77" rx="7.15" ry="5.7" fill="#2f9a22" transform="rotate(9.01 470.13 246.77)" opacity="0.06"/><ellipse cx="470.13" cy="246.77" rx="6.75" ry="5.3" fill="none" stroke="#4cc838" stroke-width="0.7" transform="rotate(9.01 470.13 246.77)" stroke-dasharray="8.29 3.97 3.52 5.54" opacity="0.18"/><ellipse cx="463.59" cy="267.61" rx="7.07" ry="3.81" fill="#2f9a22" transform="rotate(22.28 463.59 267.61)" opacity="0.04"/><ellipse cx="463.59" cy="267.61" rx="6.67" ry="3.41" fill="none" stroke="#4cc838" stroke-width="0.7" transform="rotate(22.28 463.59 267.61)" stroke-dasharray="7.23 2.05 4.26 3.92" opacity="0.15"/><ellipse cx="434.4" cy="232.9" rx="2.43" ry="3.51" fill="#010301" opacity="0.55"/><ellipse cx="437" cy="246.5" rx="3.51" ry="2.7" fill="#010301" transform="rotate(-25 437 246.5)" opacity="0.55"/><ellipse cx="471.3" cy="245.8" rx="3.78" ry="3.78" fill="#010301" opacity="0.55"/><ellipse cx="463.7" cy="267.5" rx="3.24" ry="2.34" fill="#010301" transform="rotate(30 463.7 267.5)" opacity="0.55"/></g>
</g>
<g clip-path="url(#cg8)">
<rect x="479.6" y="223" width="48.7" height="49.2" fill="#010301"/>
<g filter="url(#b05)"><ellipse cx="495.51" cy="234.34" rx="5.83" ry="4.62" fill="#2f9a22" transform="rotate(-24.61 495.51 234.34)" opacity="0.07"/><ellipse cx="495.51" cy="234.34" rx="5.43" ry="4.22" fill="none" stroke="#4cc838" stroke-width="0.7" transform="rotate(-24.61 495.51 234.34)" stroke-dasharray="6.7 4.83 2.17 6.18" opacity="0.25"/><ellipse cx="483.91" cy="252.83" rx="6.14" ry="5.58" fill="#2f9a22" transform="rotate(-13.66 483.91 252.83)" opacity="0.06"/><ellipse cx="483.91" cy="252.83" rx="5.74" ry="5.18" fill="none" stroke="#4cc838" stroke-width="0.7" transform="rotate(-13.66 483.91 252.83)" stroke-dasharray="7.86 5.45 4.44 5.65" opacity="0.24"/><ellipse cx="498.54" cy="259.36" rx="5.49" ry="5.73" fill="#2f9a22" transform="rotate(21.51 498.54 259.36)" opacity="0.08"/><ellipse cx="498.54" cy="259.36" rx="5.09" ry="5.33" fill="none" stroke="#4cc838" stroke-width="0.7" transform="rotate(21.51 498.54 259.36)" stroke-dasharray="4.48 2.46 3.33 7.13" opacity="0.24"/><ellipse cx="486.6" cy="261.92" rx="5.64" ry="4.63" fill="#2f9a22" transform="rotate(-16.65 486.6 261.92)" opacity="0.06"/><ellipse cx="486.6" cy="261.92" rx="5.24" ry="4.23" fill="none" stroke="#4cc838" stroke-width="0.7" transform="rotate(-16.65 486.6 261.92)" stroke-dasharray="6.53 5.16 3.73 6.35" opacity="0.23"/><ellipse cx="524.58" cy="250.52" rx="6.47" ry="5.09" fill="#2f9a22" transform="rotate(-1.49 524.58 250.52)" opacity="0.09"/><ellipse cx="524.58" cy="250.52" rx="6.07" ry="4.69" fill="none" stroke="#4cc838" stroke-width="0.7" transform="rotate(-1.49 524.58 250.52)" stroke-dasharray="5.68 5.13 5.47 7.1" opacity="0.23"/><ellipse cx="525.64" cy="254.67" rx="6.83" ry="5" fill="#2f9a22" transform="rotate(1.68 525.64 254.67)" opacity="0.09"/><ellipse cx="525.64" cy="254.67" rx="6.43" ry="4.6" fill="none" stroke="#4cc838" stroke-width="0.7" transform="rotate(1.68 525.64 254.67)" stroke-dasharray="6.17 3.99 5.75 8.66" opacity="0.2"/><ellipse cx="496.5" cy="233.7" rx="3.15" ry="2.52" fill="#010301" transform="rotate(-30 496.5 233.7)" opacity="0.55"/><ellipse cx="483.2" cy="253.2" rx="2.7" ry="3.15" fill="#010301" opacity="0.55"/><ellipse cx="499.6" cy="259" rx="2.7" ry="3.6" fill="#010301" transform="rotate(15 499.6 259)" opacity="0.55"/><ellipse cx="486.9" cy="260.7" rx="1.8" ry="2.7" fill="#010301" opacity="0.55"/><ellipse cx="523.6" cy="250.1" rx="2.7" ry="2.7" fill="#010301" opacity="0.55"/><ellipse cx="524.4" cy="254.3" rx="2.88" ry="2.88" fill="#010301" opacity="0.55"/></g>
</g>
<g clip-path="url(#cg9)">
<rect x="530.8" y="223" width="48.7" height="49.2" fill="#010301"/>
<g filter="url(#b05)"><ellipse cx="570.26" cy="229.4" rx="6.65" ry="5.66" fill="#2f9a22" transform="rotate(-29.25 570.26 229.4)" opacity="0.08"/><ellipse cx="570.26" cy="229.4" rx="6.25" ry="5.26" fill="none" stroke="#4cc838" stroke-width="0.7" transform="rotate(-29.25 570.26 229.4)" stroke-dasharray="6.62 2.61 3.53 8.34" opacity="0.4"/><ellipse cx="539.47" cy="237.78" rx="6.26" ry="3.28" fill="#2f9a22" transform="rotate(-13.76 539.47 237.78)" opacity="0.09"/><ellipse cx="539.47" cy="237.78" rx="5.86" ry="2.88" fill="none" stroke="#4cc838" stroke-width="0.7" transform="rotate(-13.76 539.47 237.78)" stroke-dasharray="3.64 2.64 4.09 4.1" opacity="0.32"/><ellipse cx="544.55" cy="251.46" rx="5.61" ry="4.42" fill="#2f9a22" transform="rotate(3.63 544.55 251.46)" opacity="0.12"/><ellipse cx="544.55" cy="251.46" rx="5.21" ry="4.02" fill="none" stroke="#4cc838" stroke-width="0.7" transform="rotate(3.63 544.55 251.46)" stroke-dasharray="4.49 3.85 4.32 8.68" opacity="0.36"/><ellipse cx="555.54" cy="256.85" rx="6.04" ry="5.45" fill="#2f9a22" transform="rotate(44.32 555.54 256.85)" opacity="0.12"/><ellipse cx="555.54" cy="256.85" rx="5.64" ry="5.05" fill="none" stroke="#4cc838" stroke-width="0.7" transform="rotate(44.32 555.54 256.85)" stroke-dasharray="8.37 4.64 4.83 4.78" opacity="0.33"/><ellipse cx="539.76" cy="266.4" rx="4.32" ry="5.12" fill="#2f9a22" transform="rotate(20.97 539.76 266.4)" opacity="0.08"/><ellipse cx="539.76" cy="266.4" rx="3.92" ry="4.72" fill="none" stroke="#4cc838" stroke-width="0.7" transform="rotate(20.97 539.76 266.4)" stroke-dasharray="7.88 5.5 2.36 5.91" opacity="0.42"/><ellipse cx="569.6" cy="228.7" rx="2.25" ry="3.6" fill="#010301" transform="rotate(-15 569.6 228.7)" opacity="0.55"/><ellipse cx="540.3" cy="236.8" rx="3.6" ry="1.8" fill="#010301" transform="rotate(10 540.3 236.8)" opacity="0.55"/><ellipse cx="544.8" cy="250.6" rx="1.8" ry="2.25" fill="#010301" opacity="0.55"/><ellipse cx="556.2" cy="257.7" rx="2.7" ry="3.6" fill="#010301" transform="rotate(20 556.2 257.7)" opacity="0.55"/><ellipse cx="540.5" cy="267.6" rx="1.8" ry="3.15" fill="#010301" opacity="0.55"/></g>
</g>
<g clip-path="url(#cg10)">
<rect x="582" y="223" width="48.7" height="49.2" fill="#010301"/>
<g filter="url(#b05)"><ellipse cx="602.3" cy="240.98" rx="8.11" ry="5.07" fill="#2f9a22" transform="rotate(-8.47 602.3 240.98)" opacity="0.19"/><ellipse cx="602.3" cy="240.98" rx="7.71" ry="4.67" fill="none" stroke="#4cc838" stroke-width="0.7" transform="rotate(-8.47 602.3 240.98)" stroke-dasharray="7.84 2.08 2.67 8.37" opacity="0.45"/><ellipse cx="612.74" cy="247.19" rx="6.94" ry="4.53" fill="#2f9a22" transform="rotate(4.08 612.74 247.19)" opacity="0.16"/><ellipse cx="612.74" cy="247.19" rx="6.54" ry="4.13" fill="none" stroke="#4cc838" stroke-width="0.7" transform="rotate(4.08 612.74 247.19)" stroke-dasharray="4.93 5.11 4.51 5.46" opacity="0.55"/><ellipse cx="620.14" cy="236.41" rx="6.18" ry="3.46" fill="#2f9a22" transform="rotate(-19.99 620.14 236.41)" opacity="0.18"/><ellipse cx="620.14" cy="236.41" rx="5.78" ry="3.06" fill="none" stroke="#4cc838" stroke-width="0.7" transform="rotate(-19.99 620.14 236.41)" stroke-dasharray="7.81 6.14 3.01 5.49" opacity="0.68"/><ellipse cx="584.3" cy="258.52" rx="5.77" ry="4.69" fill="#2f9a22" transform="rotate(-22.95 584.3 258.52)" opacity="0.18"/><ellipse cx="584.3" cy="258.52" rx="5.37" ry="4.29" fill="none" stroke="#4cc838" stroke-width="0.7" transform="rotate(-22.95 584.3 258.52)" stroke-dasharray="7.83 4.74 4.53 8.48" opacity="0.7"/><ellipse cx="585.12" cy="269.94" rx="5.39" ry="3.72" fill="#2f9a22" transform="rotate(-17.75 585.12 269.94)" opacity="0.14"/><ellipse cx="585.12" cy="269.94" rx="4.99" ry="3.32" fill="none" stroke="#4cc838" stroke-width="0.7" transform="rotate(-17.75 585.12 269.94)" stroke-dasharray="6.75 2.42 2.62 3.06" opacity="0.65"/><ellipse cx="601.6" cy="241.8" rx="3.6" ry="2.7" fill="#010301" opacity="0.55"/><ellipse cx="612.3" cy="246.1" rx="3.15" ry="2.7" fill="#010301" opacity="0.55"/><ellipse cx="621.1" cy="236.2" rx="2.7" ry="1.8" fill="#010301" opacity="0.55"/><ellipse cx="585.2" cy="257.5" rx="2.7" ry="2.25" fill="#010301" opacity="0.55"/><ellipse cx="586.5" cy="270.3" rx="2.7" ry="1.8" fill="#010301" opacity="0.55"/></g><g filter="url(#b1)"><ellipse cx="606.5" cy="245" rx="9.5" ry="5.8" fill="#35a828" opacity="0.3"/><ellipse cx="606.5" cy="245" rx="9.5" ry="5.8" fill="none" stroke="#4ad236" stroke-width="1.2" opacity="0.5"/><ellipse cx="605" cy="252.5" rx="2" ry="5" fill="#3fb82e" opacity="0.35"/></g>
</g>
<g clip-path="url(#cg11)">
<rect x="633.1" y="223" width="48.7" height="49.2" fill="#010301"/>
<g filter="url(#b05)"><ellipse cx="649.97" cy="238.15" rx="6.43" ry="4.05" fill="#2f9a22" transform="rotate(-9.39 649.97 238.15)" opacity="0.23"/><ellipse cx="649.97" cy="238.15" rx="6.03" ry="3.65" fill="none" stroke="#4cc838" stroke-width="0.7" transform="rotate(-9.39 649.97 238.15)" stroke-dasharray="5.01 2.82 3.39 7.51" opacity="0.56"/><ellipse cx="663.31" cy="233.99" rx="5.95" ry="3.55" fill="#2f9a22" transform="rotate(-5.68 663.31 233.99)" opacity="0.2"/><ellipse cx="663.31" cy="233.99" rx="5.55" ry="3.15" fill="none" stroke="#4cc838" stroke-width="0.7" transform="rotate(-5.68 663.31 233.99)" stroke-dasharray="8.29 6.6 2.91 8.93" opacity="0.72"/><ellipse cx="678.78" cy="233.45" rx="6.61" ry="6.02" fill="#2f9a22" transform="rotate(21.47 678.78 233.45)" opacity="0.25"/><ellipse cx="678.78" cy="233.45" rx="6.21" ry="5.62" fill="none" stroke="#4cc838" stroke-width="0.7" transform="rotate(21.47 678.78 233.45)" stroke-dasharray="6.75 2.58 5.29 7.59" opacity="0.81"/><ellipse cx="638.21" cy="241.98" rx="6.15" ry="4.68" fill="#2f9a22" transform="rotate(1.61 638.21 241.98)" opacity="0.2"/><ellipse cx="638.21" cy="241.98" rx="5.75" ry="4.28" fill="none" stroke="#4cc838" stroke-width="0.7" transform="rotate(1.61 638.21 241.98)" stroke-dasharray="7.56 5.13 5.3 6.09" opacity="0.71"/><ellipse cx="667.79" cy="246.7" rx="7.12" ry="4.49" fill="#2f9a22" transform="rotate(-18.79 667.79 246.7)" opacity="0.2"/><ellipse cx="667.79" cy="246.7" rx="6.72" ry="4.09" fill="none" stroke="#4cc838" stroke-width="0.7" transform="rotate(-18.79 667.79 246.7)" stroke-dasharray="4.74 3.31 2.51 3.66" opacity="0.67"/><ellipse cx="656.6" cy="255.15" rx="6.72" ry="5.57" fill="#2f9a22" transform="rotate(-24.28 656.6 255.15)" opacity="0.17"/><ellipse cx="656.6" cy="255.15" rx="6.32" ry="5.17" fill="none" stroke="#4cc838" stroke-width="0.7" transform="rotate(-24.28 656.6 255.15)" stroke-dasharray="3.34 6.34 3.28 7.34" opacity="0.66"/><ellipse cx="652.07" cy="262.02" rx="5.78" ry="5.05" fill="#2f9a22" transform="rotate(6.75 652.07 262.02)" opacity="0.19"/><ellipse cx="652.07" cy="262.02" rx="5.38" ry="4.65" fill="none" stroke="#4cc838" stroke-width="0.7" transform="rotate(6.75 652.07 262.02)" stroke-dasharray="8.86 3.34 2.97 8.53" opacity="0.65"/><ellipse cx="649.1" cy="236.8" rx="2.25" ry="2.25" fill="#010301" opacity="0.55"/><ellipse cx="664.3" cy="234.2" rx="2.25" ry="1.8" fill="#010301" opacity="0.55"/><ellipse cx="678.7" cy="234.2" rx="2.25" ry="3.6" fill="#010301" opacity="0.55"/><ellipse cx="637.5" cy="242.3" rx="1.8" ry="2.25" fill="#010301" opacity="0.55"/><ellipse cx="666.5" cy="246.1" rx="2.7" ry="2.25" fill="#010301" opacity="0.55"/><ellipse cx="655.2" cy="254.9" rx="2.7" ry="3.15" fill="#010301" opacity="0.55"/><ellipse cx="651.6" cy="263.3" rx="2.25" ry="2.7" fill="#010301" opacity="0.55"/></g><g filter="url(#b05)"><circle cx="654.28" cy="239.77" r="1.05" fill="#70ff48"/><circle cx="644.83" cy="237.01" r="1.01" fill="#70ff48"/><circle cx="646.7" cy="240.59" r="0.48" fill="#70ff48"/><circle cx="652.37" cy="233.77" r="0.53" fill="#70ff48"/><circle cx="645.35" cy="241.11" r="1.1" fill="#70ff48"/><circle cx="650.43" cy="242.13" r="0.63" fill="#70ff48"/><circle cx="652.42" cy="232.88" r="0.89" fill="#70ff48"/><circle cx="651.86" cy="232.31" r="0.76" fill="#70ff48"/><circle cx="668.56" cy="234.43" r="0.9" fill="#70ff48"/><circle cx="664.67" cy="229.42" r="0.48" fill="#70ff48"/><circle cx="664.18" cy="228.76" r="1.01" fill="#70ff48"/><circle cx="664.32" cy="229.21" r="0.68" fill="#70ff48"/><circle cx="661.49" cy="237.14" r="0.87" fill="#70ff48"/><circle cx="661.11" cy="238.73" r="0.6" fill="#70ff48"/><circle cx="663.96" cy="237.79" r="0.63" fill="#70ff48"/><circle cx="665.35" cy="228.9" r="1.05" fill="#70ff48"/><circle cx="684.24" cy="235.86" r="0.82" fill="#70ff48"/><circle cx="674.97" cy="241.08" r="0.89" fill="#70ff48"/><circle cx="676.35" cy="241.66" r="0.74" fill="#70ff48"/><circle cx="673.68" cy="235.46" r="0.76" fill="#70ff48"/><circle cx="684.66" cy="235.5" r="0.65" fill="#70ff48"/><circle cx="674.61" cy="235.97" r="0.82" fill="#70ff48"/><circle cx="682.23" cy="236.44" r="0.59" fill="#70ff48"/><circle cx="682.8" cy="228.98" r="0.92" fill="#70ff48"/><circle cx="641.26" cy="245.06" r="0.93" fill="#70ff48"/><circle cx="637.35" cy="237.26" r="0.5" fill="#70ff48"/><circle cx="633.38" cy="246.69" r="1.03" fill="#70ff48"/><circle cx="634.3" cy="239.17" r="0.84" fill="#70ff48"/><circle cx="633.49" cy="239.99" r="1" fill="#70ff48"/><circle cx="634.15" cy="240.71" r="0.93" fill="#70ff48"/><circle cx="636.34" cy="238.41" r="0.79" fill="#70ff48"/><circle cx="642.41" cy="241.53" r="0.89" fill="#70ff48"/><circle cx="661.03" cy="246.78" r="1.09" fill="#70ff48"/><circle cx="665.41" cy="251.08" r="0.51" fill="#70ff48"/><circle cx="660.29" cy="245.61" r="0.9" fill="#70ff48"/><circle cx="671.49" cy="245.47" r="0.59" fill="#70ff48"/><circle cx="663.19" cy="249.77" r="1.04" fill="#70ff48"/><circle cx="667.96" cy="251.03" r="1.1" fill="#70ff48"/><circle cx="661.78" cy="248.85" r="0.72" fill="#70ff48"/><circle cx="664.2" cy="250.31" r="0.99" fill="#70ff48"/><circle cx="659.63" cy="255.35" r="0.97" fill="#70ff48"/><circle cx="654.3" cy="248.91" r="0.76" fill="#70ff48"/><circle cx="650.25" cy="255.84" r="0.73" fill="#70ff48"/><circle cx="651.47" cy="260.1" r="0.67" fill="#70ff48"/><circle cx="651.49" cy="252.35" r="1.09" fill="#70ff48"/><circle cx="660.85" cy="255.41" r="0.69" fill="#70ff48"/><circle cx="660.12" cy="260.64" r="0.74" fill="#70ff48"/><circle cx="657.26" cy="260.19" r="0.57" fill="#70ff48"/><circle cx="645.34" cy="261.26" r="1.08" fill="#70ff48"/><circle cx="652.32" cy="269.63" r="0.82" fill="#70ff48"/><circle cx="651.98" cy="258.6" r="0.48" fill="#70ff48"/><circle cx="656.14" cy="268.11" r="0.48" fill="#70ff48"/><circle cx="656.5" cy="264.77" r="0.49" fill="#70ff48"/><circle cx="654.53" cy="269.62" r="0.57" fill="#70ff48"/><circle cx="652.05" cy="256.54" r="0.75" fill="#70ff48"/><circle cx="647.48" cy="265.02" r="0.66" fill="#70ff48"/></g>
</g>
<g clip-path="url(#cg12)">
<rect x="377.3" y="274.6" width="48.7" height="49.2" fill="#02020b"/>
<g filter="url(#b05)"><ellipse cx="390.51" cy="304.82" rx="4.62" ry="5.25" fill="#2f9a22" transform="rotate(11.6 390.51 304.82)" opacity="0.04"/><ellipse cx="390.51" cy="304.82" rx="4.22" ry="4.85" fill="none" stroke="#4cc838" stroke-width="0.7" transform="rotate(11.6 390.51 304.82)" stroke-dasharray="7.8 4.66 2.32 5.74" opacity="0.1"/><ellipse cx="390.71" cy="312.33" rx="6.75" ry="5.15" fill="#2f9a22" transform="rotate(13.4 390.71 312.33)" opacity="0.03"/><ellipse cx="390.71" cy="312.33" rx="6.35" ry="4.75" fill="none" stroke="#4cc838" stroke-width="0.7" transform="rotate(13.4 390.71 312.33)" stroke-dasharray="4.07 2.94 3.39 6.76" opacity="0.16"/><ellipse cx="404.27" cy="286.4" rx="4.56" ry="4.26" fill="#2f9a22" transform="rotate(15.9 404.27 286.4)" opacity="0.03"/><ellipse cx="404.27" cy="286.4" rx="4.16" ry="3.86" fill="none" stroke="#4cc838" stroke-width="0.7" transform="rotate(15.9 404.27 286.4)" stroke-dasharray="6.89 2.62 2.02 5.37" opacity="0.15"/><ellipse cx="408.92" cy="289.54" rx="5.35" ry="3.49" fill="#2f9a22" transform="rotate(-13.14 408.92 289.54)" opacity="0.04"/><ellipse cx="408.92" cy="289.54" rx="4.95" ry="3.09" fill="none" stroke="#4cc838" stroke-width="0.7" transform="rotate(-13.14 408.92 289.54)" stroke-dasharray="6.83 6.51 2.51 6.32" opacity="0.16"/><ellipse cx="404.12" cy="289.52" rx="5.44" ry="4.02" fill="#2f9a22" transform="rotate(-10.51 404.12 289.52)" opacity="0.04"/><ellipse cx="404.12" cy="289.52" rx="5.04" ry="3.62" fill="none" stroke="#4cc838" stroke-width="0.7" transform="rotate(-10.51 404.12 289.52)" stroke-dasharray="6.17 3.72 5.42 5.18" opacity="0.13"/><ellipse cx="408.77" cy="292.55" rx="5.78" ry="4.11" fill="#2f9a22" transform="rotate(-12.37 408.77 292.55)" opacity="0.05"/><ellipse cx="408.77" cy="292.55" rx="5.38" ry="3.71" fill="none" stroke="#4cc838" stroke-width="0.7" transform="rotate(-12.37 408.77 292.55)" stroke-dasharray="8.46 5.57 5.07 6.08" opacity="0.13"/><ellipse cx="412.93" cy="296.68" rx="6.28" ry="3.35" fill="#2f9a22" transform="rotate(-16.76 412.93 296.68)" opacity="0.04"/><ellipse cx="412.93" cy="296.68" rx="5.88" ry="2.95" fill="none" stroke="#4cc838" stroke-width="0.7" transform="rotate(-16.76 412.93 296.68)" stroke-dasharray="7.24 2.61 2.2 6.57" opacity="0.11"/><ellipse cx="419.75" cy="290.25" rx="5.38" ry="4.12" fill="#2f9a22" transform="rotate(3.41 419.75 290.25)" opacity="0.04"/><ellipse cx="419.75" cy="290.25" rx="4.98" ry="3.72" fill="none" stroke="#4cc838" stroke-width="0.7" transform="rotate(3.41 419.75 290.25)" stroke-dasharray="3.08 2.57 2.77 6.15" opacity="0.14"/></g>
<g filter="url(#b05)"><ellipse cx="389.7" cy="304.2" rx="2.3" ry="3.6" fill="#2828ff"/><ellipse cx="391.2" cy="312.9" rx="2.7" ry="3" fill="#2020bd"/><ellipse cx="404.1" cy="285.2" rx="2.1" ry="2.1" fill="#2626ee"/><ellipse cx="407.9" cy="288.3" rx="2.1" ry="2.1" fill="#2626ee"/><ellipse cx="403.3" cy="289.5" rx="2.1" ry="2.1" fill="#2626ee"/><ellipse cx="407.6" cy="292.1" rx="2.1" ry="2.1" fill="#2626ee"/><ellipse cx="412.4" cy="295.6" rx="3" ry="2" fill="#2525e6"/><ellipse cx="419.3" cy="289.5" rx="2.7" ry="2.3" fill="#2424de"/></g>
</g>
<g clip-path="url(#cg13)">
<rect x="428.5" y="274.6" width="48.7" height="49.2" fill="#02020b"/>
<g filter="url(#b05)"><ellipse cx="435.8" cy="285.77" rx="5.98" ry="5.29" fill="#2f9a22" transform="rotate(-1.64 435.8 285.77)" opacity="0.06"/><ellipse cx="435.8" cy="285.77" rx="5.58" ry="4.89" fill="none" stroke="#4cc838" stroke-width="0.7" transform="rotate(-1.64 435.8 285.77)" stroke-dasharray="4.29 3.11 3.15 7.15" opacity="0.16"/><ellipse cx="436.08" cy="296.87" rx="8.04" ry="4.27" fill="#2f9a22" transform="rotate(-11.51 436.08 296.87)" opacity="0.05"/><ellipse cx="436.08" cy="296.87" rx="7.64" ry="3.87" fill="none" stroke="#4cc838" stroke-width="0.7" transform="rotate(-11.51 436.08 296.87)" stroke-dasharray="5.83 3.63 4.55 5.42" opacity="0.16"/><ellipse cx="470.13" cy="298.37" rx="7.15" ry="5.7" fill="#2f9a22" transform="rotate(9.01 470.13 298.37)" opacity="0.06"/><ellipse cx="470.13" cy="298.37" rx="6.75" ry="5.3" fill="none" stroke="#4cc838" stroke-width="0.7" transform="rotate(9.01 470.13 298.37)" stroke-dasharray="8.29 3.97 3.52 5.54" opacity="0.18"/><ellipse cx="463.59" cy="319.21" rx="7.07" ry="3.81" fill="#2f9a22" transform="rotate(22.28 463.59 319.21)" opacity="0.04"/><ellipse cx="463.59" cy="319.21" rx="6.67" ry="3.41" fill="none" stroke="#4cc838" stroke-width="0.7" transform="rotate(22.28 463.59 319.21)" stroke-dasharray="7.23 2.05 4.26 3.92" opacity="0.15"/></g>
<g filter="url(#b05)"><ellipse cx="434.4" cy="284.5" rx="2.7" ry="3.9" fill="#2828ff"/><ellipse cx="437" cy="298.1" rx="3.9" ry="3" fill="#2828ff" transform="rotate(-25 437 298.1)"/><ellipse cx="471.3" cy="297.4" rx="4.2" ry="4.2" fill="#1e1eac"/><ellipse cx="463.7" cy="319.1" rx="3.6" ry="2.6" fill="#2828ff" transform="rotate(30 463.7 319.1)"/></g>
</g>
<g clip-path="url(#cg14)">
<rect x="479.6" y="274.6" width="48.7" height="49.2" fill="#02020b"/>
<g filter="url(#b05)"><ellipse cx="495.51" cy="285.94" rx="5.83" ry="4.62" fill="#2f9a22" transform="rotate(-24.61 495.51 285.94)" opacity="0.07"/><ellipse cx="495.51" cy="285.94" rx="5.43" ry="4.22" fill="none" stroke="#4cc838" stroke-width="0.7" transform="rotate(-24.61 495.51 285.94)" stroke-dasharray="6.7 4.83 2.17 6.18" opacity="0.25"/><ellipse cx="483.91" cy="304.43" rx="6.14" ry="5.58" fill="#2f9a22" transform="rotate(-13.66 483.91 304.43)" opacity="0.06"/><ellipse cx="483.91" cy="304.43" rx="5.74" ry="5.18" fill="none" stroke="#4cc838" stroke-width="0.7" transform="rotate(-13.66 483.91 304.43)" stroke-dasharray="7.86 5.45 4.44 5.65" opacity="0.24"/><ellipse cx="498.54" cy="310.96" rx="5.49" ry="5.73" fill="#2f9a22" transform="rotate(21.51 498.54 310.96)" opacity="0.08"/><ellipse cx="498.54" cy="310.96" rx="5.09" ry="5.33" fill="none" stroke="#4cc838" stroke-width="0.7" transform="rotate(21.51 498.54 310.96)" stroke-dasharray="4.48 2.46 3.33 7.13" opacity="0.24"/><ellipse cx="486.6" cy="313.52" rx="5.64" ry="4.63" fill="#2f9a22" transform="rotate(-16.65 486.6 313.52)" opacity="0.06"/><ellipse cx="486.6" cy="313.52" rx="5.24" ry="4.23" fill="none" stroke="#4cc838" stroke-width="0.7" transform="rotate(-16.65 486.6 313.52)" stroke-dasharray="6.53 5.16 3.73 6.35" opacity="0.23"/><ellipse cx="524.58" cy="302.12" rx="6.47" ry="5.09" fill="#2f9a22" transform="rotate(-1.49 524.58 302.12)" opacity="0.09"/><ellipse cx="524.58" cy="302.12" rx="6.07" ry="4.69" fill="none" stroke="#4cc838" stroke-width="0.7" transform="rotate(-1.49 524.58 302.12)" stroke-dasharray="5.68 5.13 5.47 7.1" opacity="0.23"/><ellipse cx="525.64" cy="306.27" rx="6.83" ry="5" fill="#2f9a22" transform="rotate(1.68 525.64 306.27)" opacity="0.09"/><ellipse cx="525.64" cy="306.27" rx="6.43" ry="4.6" fill="none" stroke="#4cc838" stroke-width="0.7" transform="rotate(1.68 525.64 306.27)" stroke-dasharray="6.17 3.99 5.75 8.66" opacity="0.2"/></g>
<g filter="url(#b05)"><ellipse cx="496.5" cy="285.3" rx="3.5" ry="2.8" fill="#2828ff" transform="rotate(-30 496.5 285.3)"/><ellipse cx="483.2" cy="304.8" rx="3" ry="3.5" fill="#2626ee"/><ellipse cx="499.6" cy="310.6" rx="3" ry="4" fill="#2828ff" transform="rotate(15 499.6 310.6)"/><ellipse cx="486.9" cy="312.3" rx="2" ry="3" fill="#1e1eac"/><ellipse cx="523.6" cy="301.7" rx="3" ry="3" fill="#2828ff"/><ellipse cx="524.4" cy="305.9" rx="3.2" ry="3.2" fill="#2828ff"/></g>
</g>
<g clip-path="url(#cg15)">
<rect x="530.8" y="274.6" width="48.7" height="49.2" fill="#02020b"/>
<g filter="url(#b05)"><ellipse cx="570.26" cy="281" rx="6.65" ry="5.66" fill="#2f9a22" transform="rotate(-29.25 570.26 281)" opacity="0.08"/><ellipse cx="570.26" cy="281" rx="6.25" ry="5.26" fill="none" stroke="#4cc838" stroke-width="0.7" transform="rotate(-29.25 570.26 281)" stroke-dasharray="6.62 2.61 3.53 8.34" opacity="0.4"/><ellipse cx="539.47" cy="289.38" rx="6.26" ry="3.28" fill="#2f9a22" transform="rotate(-13.76 539.47 289.38)" opacity="0.09"/><ellipse cx="539.47" cy="289.38" rx="5.86" ry="2.88" fill="none" stroke="#4cc838" stroke-width="0.7" transform="rotate(-13.76 539.47 289.38)" stroke-dasharray="3.64 2.64 4.09 4.1" opacity="0.32"/><ellipse cx="544.55" cy="303.06" rx="5.61" ry="4.42" fill="#2f9a22" transform="rotate(3.63 544.55 303.06)" opacity="0.12"/><ellipse cx="544.55" cy="303.06" rx="5.21" ry="4.02" fill="none" stroke="#4cc838" stroke-width="0.7" transform="rotate(3.63 544.55 303.06)" stroke-dasharray="4.49 3.85 4.32 8.68" opacity="0.36"/><ellipse cx="555.54" cy="308.45" rx="6.04" ry="5.45" fill="#2f9a22" transform="rotate(44.32 555.54 308.45)" opacity="0.12"/><ellipse cx="555.54" cy="308.45" rx="5.64" ry="5.05" fill="none" stroke="#4cc838" stroke-width="0.7" transform="rotate(44.32 555.54 308.45)" stroke-dasharray="8.37 4.64 4.83 4.78" opacity="0.33"/><ellipse cx="539.76" cy="318" rx="4.32" ry="5.12" fill="#2f9a22" transform="rotate(20.97 539.76 318)" opacity="0.08"/><ellipse cx="539.76" cy="318" rx="3.92" ry="4.72" fill="none" stroke="#4cc838" stroke-width="0.7" transform="rotate(20.97 539.76 318)" stroke-dasharray="7.88 5.5 2.36 5.91" opacity="0.42"/></g>
<g filter="url(#b05)"><ellipse cx="569.6" cy="280.3" rx="2.5" ry="4" fill="#1e1eac" transform="rotate(-15 569.6 280.3)"/><ellipse cx="540.3" cy="288.4" rx="4" ry="2" fill="#1e1eac" transform="rotate(10 540.3 288.4)"/><ellipse cx="544.8" cy="302.2" rx="2" ry="2.5" fill="#1e1eac"/><ellipse cx="556.2" cy="309.3" rx="3" ry="4" fill="#2828ff" transform="rotate(20 556.2 309.3)"/><ellipse cx="540.5" cy="319.2" rx="2" ry="3.5" fill="#2424de"/></g>
</g>
<g clip-path="url(#cg16)">
<rect x="582" y="274.6" width="48.7" height="49.2" fill="#02020b"/>
<g filter="url(#b05)"><ellipse cx="602.3" cy="292.58" rx="8.11" ry="5.07" fill="#2f9a22" transform="rotate(-8.47 602.3 292.58)" opacity="0.19"/><ellipse cx="602.3" cy="292.58" rx="7.71" ry="4.67" fill="none" stroke="#4cc838" stroke-width="0.7" transform="rotate(-8.47 602.3 292.58)" stroke-dasharray="7.84 2.08 2.67 8.37" opacity="0.45"/><ellipse cx="612.74" cy="298.79" rx="6.94" ry="4.53" fill="#2f9a22" transform="rotate(4.08 612.74 298.79)" opacity="0.16"/><ellipse cx="612.74" cy="298.79" rx="6.54" ry="4.13" fill="none" stroke="#4cc838" stroke-width="0.7" transform="rotate(4.08 612.74 298.79)" stroke-dasharray="4.93 5.11 4.51 5.46" opacity="0.55"/><ellipse cx="620.14" cy="288.01" rx="6.18" ry="3.46" fill="#2f9a22" transform="rotate(-19.99 620.14 288.01)" opacity="0.18"/><ellipse cx="620.14" cy="288.01" rx="5.78" ry="3.06" fill="none" stroke="#4cc838" stroke-width="0.7" transform="rotate(-19.99 620.14 288.01)" stroke-dasharray="7.81 6.14 3.01 5.49" opacity="0.68"/><ellipse cx="584.3" cy="310.12" rx="5.77" ry="4.69" fill="#2f9a22" transform="rotate(-22.95 584.3 310.12)" opacity="0.18"/><ellipse cx="584.3" cy="310.12" rx="5.37" ry="4.29" fill="none" stroke="#4cc838" stroke-width="0.7" transform="rotate(-22.95 584.3 310.12)" stroke-dasharray="7.83 4.74 4.53 8.48" opacity="0.7"/><ellipse cx="585.12" cy="321.54" rx="5.39" ry="3.72" fill="#2f9a22" transform="rotate(-17.75 585.12 321.54)" opacity="0.14"/><ellipse cx="585.12" cy="321.54" rx="4.99" ry="3.32" fill="none" stroke="#4cc838" stroke-width="0.7" transform="rotate(-17.75 585.12 321.54)" stroke-dasharray="6.75 2.42 2.62 3.06" opacity="0.65"/></g><g filter="url(#b1)"><ellipse cx="606.5" cy="296.6" rx="9.5" ry="5.8" fill="#35a828" opacity="0.3"/><ellipse cx="606.5" cy="296.6" rx="9.5" ry="5.8" fill="none" stroke="#4ad236" stroke-width="1.2" opacity="0.5"/><ellipse cx="605" cy="304.1" rx="2" ry="5" fill="#3fb82e" opacity="0.35"/></g>
<g filter="url(#b05)"><ellipse cx="601.6" cy="293.4" rx="4" ry="3" fill="#2828ff"/><ellipse cx="612.3" cy="297.7" rx="3.5" ry="3" fill="#2828ff"/><ellipse cx="621.1" cy="287.8" rx="3" ry="2" fill="#1e1eac"/><ellipse cx="585.2" cy="309.1" rx="3" ry="2.5" fill="#2626ee"/><ellipse cx="586.5" cy="321.9" rx="3" ry="2" fill="#2626ee"/></g>
</g>
<g clip-path="url(#cg17)">
<rect x="633.1" y="274.6" width="48.7" height="49.2" fill="#02020b"/>
<g filter="url(#b05)"><ellipse cx="649.97" cy="289.75" rx="6.43" ry="4.05" fill="#2f9a22" transform="rotate(-9.39 649.97 289.75)" opacity="0.23"/><ellipse cx="649.97" cy="289.75" rx="6.03" ry="3.65" fill="none" stroke="#4cc838" stroke-width="0.7" transform="rotate(-9.39 649.97 289.75)" stroke-dasharray="5.01 2.82 3.39 7.51" opacity="0.56"/><ellipse cx="663.31" cy="285.59" rx="5.95" ry="3.55" fill="#2f9a22" transform="rotate(-5.68 663.31 285.59)" opacity="0.2"/><ellipse cx="663.31" cy="285.59" rx="5.55" ry="3.15" fill="none" stroke="#4cc838" stroke-width="0.7" transform="rotate(-5.68 663.31 285.59)" stroke-dasharray="8.29 6.6 2.91 8.93" opacity="0.72"/><ellipse cx="678.78" cy="285.05" rx="6.61" ry="6.02" fill="#2f9a22" transform="rotate(21.47 678.78 285.05)" opacity="0.25"/><ellipse cx="678.78" cy="285.05" rx="6.21" ry="5.62" fill="none" stroke="#4cc838" stroke-width="0.7" transform="rotate(21.47 678.78 285.05)" stroke-dasharray="6.75 2.58 5.29 7.59" opacity="0.81"/><ellipse cx="638.21" cy="293.58" rx="6.15" ry="4.68" fill="#2f9a22" transform="rotate(1.61 638.21 293.58)" opacity="0.2"/><ellipse cx="638.21" cy="293.58" rx="5.75" ry="4.28" fill="none" stroke="#4cc838" stroke-width="0.7" transform="rotate(1.61 638.21 293.58)" stroke-dasharray="7.56 5.13 5.3 6.09" opacity="0.71"/><ellipse cx="667.79" cy="298.3" rx="7.12" ry="4.49" fill="#2f9a22" transform="rotate(-18.79 667.79 298.3)" opacity="0.2"/><ellipse cx="667.79" cy="298.3" rx="6.72" ry="4.09" fill="none" stroke="#4cc838" stroke-width="0.7" transform="rotate(-18.79 667.79 298.3)" stroke-dasharray="4.74 3.31 2.51 3.66" opacity="0.67"/><ellipse cx="656.6" cy="306.75" rx="6.72" ry="5.57" fill="#2f9a22" transform="rotate(-24.28 656.6 306.75)" opacity="0.17"/><ellipse cx="656.6" cy="306.75" rx="6.32" ry="5.17" fill="none" stroke="#4cc838" stroke-width="0.7" transform="rotate(-24.28 656.6 306.75)" stroke-dasharray="3.34 6.34 3.28 7.34" opacity="0.66"/><ellipse cx="652.07" cy="313.62" rx="5.78" ry="5.05" fill="#2f9a22" transform="rotate(6.75 652.07 313.62)" opacity="0.19"/><ellipse cx="652.07" cy="313.62" rx="5.38" ry="4.65" fill="none" stroke="#4cc838" stroke-width="0.7" transform="rotate(6.75 652.07 313.62)" stroke-dasharray="8.86 3.34 2.97 8.53" opacity="0.65"/></g><g filter="url(#b05)"><circle cx="654.28" cy="291.37" r="1.05" fill="#70ff48"/><circle cx="644.83" cy="288.61" r="1.01" fill="#70ff48"/><circle cx="646.7" cy="292.19" r="0.48" fill="#70ff48"/><circle cx="652.37" cy="285.37" r="0.53" fill="#70ff48"/><circle cx="645.35" cy="292.71" r="1.1" fill="#70ff48"/><circle cx="650.43" cy="293.73" r="0.63" fill="#70ff48"/><circle cx="652.42" cy="284.48" r="0.89" fill="#70ff48"/><circle cx="651.86" cy="283.91" r="0.76" fill="#70ff48"/><circle cx="668.56" cy="286.03" r="0.9" fill="#70ff48"/><circle cx="664.67" cy="281.02" r="0.48" fill="#70ff48"/><circle cx="664.18" cy="280.36" r="1.01" fill="#70ff48"/><circle cx="664.32" cy="280.81" r="0.68" fill="#70ff48"/><circle cx="661.49" cy="288.74" r="0.87" fill="#70ff48"/><circle cx="661.11" cy="290.33" r="0.6" fill="#70ff48"/><circle cx="663.96" cy="289.39" r="0.63" fill="#70ff48"/><circle cx="665.35" cy="280.5" r="1.05" fill="#70ff48"/><circle cx="684.24" cy="287.46" r="0.82" fill="#70ff48"/><circle cx="674.97" cy="292.68" r="0.89" fill="#70ff48"/><circle cx="676.35" cy="293.26" r="0.74" fill="#70ff48"/><circle cx="673.68" cy="287.06" r="0.76" fill="#70ff48"/><circle cx="684.66" cy="287.1" r="0.65" fill="#70ff48"/><circle cx="674.61" cy="287.57" r="0.82" fill="#70ff48"/><circle cx="682.23" cy="288.04" r="0.59" fill="#70ff48"/><circle cx="682.8" cy="280.58" r="0.92" fill="#70ff48"/><circle cx="641.26" cy="296.66" r="0.93" fill="#70ff48"/><circle cx="637.35" cy="288.86" r="0.5" fill="#70ff48"/><circle cx="633.38" cy="298.29" r="1.03" fill="#70ff48"/><circle cx="634.3" cy="290.77" r="0.84" fill="#70ff48"/><circle cx="633.49" cy="291.59" r="1" fill="#70ff48"/><circle cx="634.15" cy="292.31" r="0.93" fill="#70ff48"/><circle cx="636.34" cy="290.01" r="0.79" fill="#70ff48"/><circle cx="642.41" cy="293.13" r="0.89" fill="#70ff48"/><circle cx="661.03" cy="298.38" r="1.09" fill="#70ff48"/><circle cx="665.41" cy="302.68" r="0.51" fill="#70ff48"/><circle cx="660.29" cy="297.21" r="0.9" fill="#70ff48"/><circle cx="671.49" cy="297.07" r="0.59" fill="#70ff48"/><circle cx="663.19" cy="301.37" r="1.04" fill="#70ff48"/><circle cx="667.96" cy="302.63" r="1.1" fill="#70ff48"/><circle cx="661.78" cy="300.45" r="0.72" fill="#70ff48"/><circle cx="664.2" cy="301.91" r="0.99" fill="#70ff48"/><circle cx="659.63" cy="306.95" r="0.97" fill="#70ff48"/><circle cx="654.3" cy="300.51" r="0.76" fill="#70ff48"/><circle cx="650.25" cy="307.44" r="0.73" fill="#70ff48"/><circle cx="651.47" cy="311.7" r="0.67" fill="#70ff48"/><circle cx="651.49" cy="303.95" r="1.09" fill="#70ff48"/><circle cx="660.85" cy="307.01" r="0.69" fill="#70ff48"/><circle cx="660.12" cy="312.24" r="0.74" fill="#70ff48"/><circle cx="657.26" cy="311.79" r="0.57" fill="#70ff48"/><circle cx="645.34" cy="312.86" r="1.08" fill="#70ff48"/><circle cx="652.32" cy="321.23" r="0.82" fill="#70ff48"/><circle cx="651.98" cy="310.2" r="0.48" fill="#70ff48"/><circle cx="656.14" cy="319.71" r="0.48" fill="#70ff48"/><circle cx="656.5" cy="316.37" r="0.49" fill="#70ff48"/><circle cx="654.53" cy="321.22" r="0.57" fill="#70ff48"/><circle cx="652.05" cy="308.14" r="0.75" fill="#70ff48"/><circle cx="647.48" cy="316.62" r="0.66" fill="#70ff48"/></g>
<g filter="url(#b05)"><ellipse cx="649.1" cy="288.4" rx="2.5" ry="2.5" fill="#2626ee"/><ellipse cx="664.3" cy="285.8" rx="2.5" ry="2" fill="#1e1eac"/><ellipse cx="678.7" cy="285.8" rx="2.5" ry="4" fill="#2626ee"/><ellipse cx="637.5" cy="293.9" rx="2" ry="2.5" fill="#2424de"/><ellipse cx="666.5" cy="297.7" rx="3" ry="2.5" fill="#2020bd"/><ellipse cx="655.2" cy="306.5" rx="3" ry="3.5" fill="#2828ff"/><ellipse cx="651.6" cy="314.9" rx="2.5" ry="3" fill="#2626ee"/></g>
</g>
<line x1="668" y1="217" x2="678.1" y2="217" stroke="#e6e6e6" stroke-width="1.7"/>
<line x1="668" y1="268.6" x2="678.1" y2="268.6" stroke="#e6e6e6" stroke-width="1.7"/>
<line x1="668" y1="320.1" x2="678.1" y2="320.1" stroke="#e6e6e6" stroke-width="1.7"/>
</g>
<g id="p-h">
<text x="6.2" y="367.8" font-size="19.6" font-weight="normal" text-anchor="start" stroke="#000" stroke-width="0.15">h</text>
<rect x="32.3" y="357" width="136.1" height="120.1" fill="#fff"/>
<path d="M32.3 393.3 L75.45 393.3 L76.09 393.11 L76.73 392.82 L77.36 392.38 L78 391.77 L78.64 390.94 L79.28 389.86 L79.91 388.49 L80.55 386.85 L81.19 384.94 L81.83 382.82 L82.46 380.56 L83.1 378.25 L83.74 375.99 L84.38 373.9 L85.01 372.08 L85.65 370.58 L86.29 369.47 L86.92 368.75 L87.56 368.39 L88.2 368.3 L88.84 368.39 L89.48 368.75 L90.11 369.47 L90.75 370.58 L91.39 372.08 L92.03 373.9 L92.66 375.99 L93.3 378.25 L93.94 380.56 L94.58 382.82 L95.21 384.94 L95.85 386.85 L96.49 388.49 L97.12 389.86 L97.76 390.94 L98.4 391.77 L99.04 392.38 L99.67 392.82 L100.31 393.11 L100.95 393.3 L168.4 393.3Z" fill="#c9a3a3" opacity="0.55"/>
<path d="M75.45 393.3 L76.09 393.11 L76.73 392.82 L77.36 392.38 L78 391.77 L78.64 390.94 L79.28 389.86 L79.91 388.49 L80.55 386.85 L81.19 384.94 L81.83 382.82 L82.46 380.56 L83.1 378.25 L83.74 375.99 L84.38 373.9 L85.01 372.08 L85.65 370.58 L86.29 369.47 L86.92 368.75 L87.56 368.39 L88.2 368.3 L88.84 368.39 L89.48 368.75 L90.11 369.47 L90.75 370.58 L91.39 372.08 L92.03 373.9 L92.66 375.99 L93.3 378.25 L93.94 380.56 L94.58 382.82 L95.21 384.94 L95.85 386.85 L96.49 388.49 L97.12 389.86 L97.76 390.94 L98.4 391.77 L99.04 392.38 L99.67 392.82 L100.31 393.11 L100.95 393.3" fill="none" stroke="#c9a3a3" stroke-width="0.7"/>
<line x1="32.3" y1="393.3" x2="168.4" y2="393.3" stroke="#c9a3a3" stroke-width="0.6" opacity="0.55"/>
<path d="M32.3 410.2 L74.6 410.2 L75.2 409.98 L75.8 409.64 L76.4 409.14 L77 408.43 L77.6 407.46 L78.2 406.2 L78.8 404.62 L79.4 402.71 L80 400.5 L80.6 398.04 L81.2 395.42 L81.8 392.74 L82.4 390.12 L83 387.7 L83.6 385.58 L84.2 383.85 L84.8 382.56 L85.4 381.72 L86 381.3 L86.6 381.2 L87.2 381.3 L87.8 381.72 L88.4 382.56 L89 383.85 L89.6 385.58 L90.2 387.7 L90.8 390.12 L91.4 392.74 L92 395.42 L92.6 398.04 L93.2 400.5 L93.8 402.71 L94.4 404.62 L95 406.2 L95.6 407.46 L96.2 408.43 L96.8 409.14 L97.4 409.64 L98 409.98 L98.6 410.2 L168.4 410.2Z" fill="#3a6a1a" opacity="0.6"/>
<path d="M74.6 410.2 L75.2 409.98 L75.8 409.64 L76.4 409.14 L77 408.43 L77.6 407.46 L78.2 406.2 L78.8 404.62 L79.4 402.71 L80 400.5 L80.6 398.04 L81.2 395.42 L81.8 392.74 L82.4 390.12 L83 387.7 L83.6 385.58 L84.2 383.85 L84.8 382.56 L85.4 381.72 L86 381.3 L86.6 381.2 L87.2 381.3 L87.8 381.72 L88.4 382.56 L89 383.85 L89.6 385.58 L90.2 387.7 L90.8 390.12 L91.4 392.74 L92 395.42 L92.6 398.04 L93.2 400.5 L93.8 402.71 L94.4 404.62 L95 406.2 L95.6 407.46 L96.2 408.43 L96.8 409.14 L97.4 409.64 L98 409.98 L98.6 410.2" fill="none" stroke="#3a6a1a" stroke-width="0.7"/>
<line x1="32.3" y1="410.2" x2="168.4" y2="410.2" stroke="#3a6a1a" stroke-width="0.6" opacity="0.55"/>
<path d="M32.3 427.1 L74.15 427.1 L74.71 426.89 L75.28 426.58 L75.84 426.11 L76.4 425.45 L76.96 424.55 L77.53 423.38 L78.09 421.91 L78.65 420.13 L79.21 418.07 L79.78 415.78 L80.34 413.34 L80.9 410.84 L81.46 408.41 L82.03 406.15 L82.59 404.18 L83.15 402.57 L83.71 401.37 L84.28 400.59 L84.84 400.19 L85.4 400.1 L85.96 400.19 L86.53 400.59 L87.09 401.37 L87.65 402.57 L88.21 404.18 L88.78 406.15 L89.34 408.41 L89.9 410.84 L90.46 413.34 L91.03 415.78 L91.59 418.07 L92.15 420.13 L92.71 421.91 L93.28 423.38 L93.84 424.55 L94.4 425.45 L94.96 426.11 L95.53 426.58 L96.09 426.89 L96.65 427.1 L168.4 427.1Z" fill="#66ee22" opacity="0.45"/>
<path d="M74.15 427.1 L74.71 426.89 L75.28 426.58 L75.84 426.11 L76.4 425.45 L76.96 424.55 L77.53 423.38 L78.09 421.91 L78.65 420.13 L79.21 418.07 L79.78 415.78 L80.34 413.34 L80.9 410.84 L81.46 408.41 L82.03 406.15 L82.59 404.18 L83.15 402.57 L83.71 401.37 L84.28 400.59 L84.84 400.19 L85.4 400.1 L85.96 400.19 L86.53 400.59 L87.09 401.37 L87.65 402.57 L88.21 404.18 L88.78 406.15 L89.34 408.41 L89.9 410.84 L90.46 413.34 L91.03 415.78 L91.59 418.07 L92.15 420.13 L92.71 421.91 L93.28 423.38 L93.84 424.55 L94.4 425.45 L94.96 426.11 L95.53 426.58 L96.09 426.89 L96.65 427.1" fill="none" stroke="#66ee22" stroke-width="0.7"/>
<line x1="32.3" y1="427.1" x2="168.4" y2="427.1" stroke="#66ee22" stroke-width="0.6" opacity="0.55"/>
<path d="M32.3 443.8 L74.9 443.8 L75.53 443.66 L76.15 443.44 L76.78 443.13 L77.4 442.68 L78.03 442.06 L78.65 441.26 L79.28 440.26 L79.9 439.05 L80.53 437.65 L81.15 436.09 L81.78 434.42 L82.4 432.72 L83.03 431.06 L83.65 429.53 L84.28 428.18 L84.9 427.08 L85.53 426.26 L86.15 425.73 L86.78 425.46 L87.4 425.4 L88.03 425.46 L88.65 425.73 L89.28 426.26 L89.9 427.08 L90.53 428.18 L91.15 429.53 L91.78 431.06 L92.4 432.72 L93.03 434.42 L93.65 436.09 L94.28 437.65 L94.9 439.05 L95.53 440.26 L96.15 441.26 L96.78 442.06 L97.4 442.68 L98.03 443.13 L98.65 443.44 L99.28 443.66 L99.9 443.8 L168.4 443.8Z" fill="#e89a48" opacity="0.55"/>
<path d="M74.9 443.8 L75.53 443.66 L76.15 443.44 L76.78 443.13 L77.4 442.68 L78.03 442.06 L78.65 441.26 L79.28 440.26 L79.9 439.05 L80.53 437.65 L81.15 436.09 L81.78 434.42 L82.4 432.72 L83.03 431.06 L83.65 429.53 L84.28 428.18 L84.9 427.08 L85.53 426.26 L86.15 425.73 L86.78 425.46 L87.4 425.4 L88.03 425.46 L88.65 425.73 L89.28 426.26 L89.9 427.08 L90.53 428.18 L91.15 429.53 L91.78 431.06 L92.4 432.72 L93.03 434.42 L93.65 436.09 L94.28 437.65 L94.9 439.05 L95.53 440.26 L96.15 441.26 L96.78 442.06 L97.4 442.68 L98.03 443.13 L98.65 443.44 L99.28 443.66 L99.9 443.8" fill="none" stroke="#e89a48" stroke-width="0.7"/>
<line x1="32.3" y1="443.8" x2="168.4" y2="443.8" stroke="#e89a48" stroke-width="0.6" opacity="0.55"/>
<path d="M32.3 460.5 L77.5 460.5 L78.12 460.28 L78.75 459.94 L79.38 459.44 L80 458.73 L80.62 457.76 L81.25 456.5 L81.88 454.92 L82.5 453.01 L83.12 450.8 L83.75 448.34 L84.38 445.72 L85 443.04 L85.62 440.42 L86.25 438 L86.88 435.88 L87.5 434.15 L88.12 432.86 L88.75 432.02 L89.38 431.6 L90 431.5 L90.62 431.6 L91.25 432.02 L91.88 432.86 L92.5 434.15 L93.12 435.88 L93.75 438 L94.38 440.42 L95 443.04 L95.62 445.72 L96.25 448.34 L96.88 450.8 L97.5 453.01 L98.12 454.92 L98.75 456.5 L99.38 457.76 L100 458.73 L100.62 459.44 L101.25 459.94 L101.88 460.28 L102.5 460.5 L168.4 460.5Z" fill="#4ccdf5" opacity="0.5"/>
<path d="M77.5 460.5 L78.12 460.28 L78.75 459.94 L79.38 459.44 L80 458.73 L80.62 457.76 L81.25 456.5 L81.88 454.92 L82.5 453.01 L83.12 450.8 L83.75 448.34 L84.38 445.72 L85 443.04 L85.62 440.42 L86.25 438 L86.88 435.88 L87.5 434.15 L88.12 432.86 L88.75 432.02 L89.38 431.6 L90 431.5 L90.62 431.6 L91.25 432.02 L91.88 432.86 L92.5 434.15 L93.12 435.88 L93.75 438 L94.38 440.42 L95 443.04 L95.62 445.72 L96.25 448.34 L96.88 450.8 L97.5 453.01 L98.12 454.92 L98.75 456.5 L99.38 457.76 L100 458.73 L100.62 459.44 L101.25 459.94 L101.88 460.28 L102.5 460.5" fill="none" stroke="#4ccdf5" stroke-width="0.7"/>
<line x1="32.3" y1="460.5" x2="168.4" y2="460.5" stroke="#4ccdf5" stroke-width="0.6" opacity="0.55"/>
<path d="M32.3 477.1 L84.75 477.1 L85.36 476.88 L85.97 476.55 L86.59 476.06 L87.2 475.36 L87.81 474.41 L88.42 473.17 L89.04 471.62 L89.65 469.74 L90.26 467.57 L90.88 465.15 L91.49 462.57 L92.1 459.94 L92.71 457.37 L93.33 454.99 L93.94 452.91 L94.55 451.2 L95.16 449.94 L95.78 449.11 L96.39 448.7 L97 448.6 L97.61 448.7 L98.22 449.11 L98.84 449.94 L99.45 451.2 L100.06 452.91 L100.67 454.99 L101.29 457.37 L101.9 459.94 L102.51 462.57 L103.12 465.15 L103.74 467.57 L104.35 469.74 L104.96 471.62 L105.58 473.17 L106.19 474.41 L106.8 475.36 L107.41 476.06 L108.03 476.55 L108.64 476.88 L109.25 477.1 L168.4 477.1Z" fill="#ee3a3a" opacity="0.55"/>
<path d="M84.75 477.1 L85.36 476.88 L85.97 476.55 L86.59 476.06 L87.2 475.36 L87.81 474.41 L88.42 473.17 L89.04 471.62 L89.65 469.74 L90.26 467.57 L90.88 465.15 L91.49 462.57 L92.1 459.94 L92.71 457.37 L93.33 454.99 L93.94 452.91 L94.55 451.2 L95.16 449.94 L95.78 449.11 L96.39 448.7 L97 448.6 L97.61 448.7 L98.22 449.11 L98.84 449.94 L99.45 451.2 L100.06 452.91 L100.67 454.99 L101.29 457.37 L101.9 459.94 L102.51 462.57 L103.12 465.15 L103.74 467.57 L104.35 469.74 L104.96 471.62 L105.58 473.17 L106.19 474.41 L106.8 475.36 L107.41 476.06 L108.03 476.55 L108.64 476.88 L109.25 477.1" fill="none" stroke="#ee3a3a" stroke-width="0.7"/>
<line x1="32.3" y1="477.1" x2="168.4" y2="477.1" stroke="#ee3a3a" stroke-width="0.6" opacity="0.55"/>
<rect x="32.3" y="357" width="136.1" height="120.1" fill="none" stroke="#a4a4a4" stroke-width="0.9"/>
<rect x="115.5" y="360.2" width="5" height="5" fill="#d8b4b4"/>
<text x="123.7" y="364.6" font-size="5.5" text-anchor="start" fill="#222" textLength="9.45" lengthAdjust="spacingAndGlyphs">Lip</text>
<rect x="115.5" y="368.3" width="5" height="5" fill="#3c6a1e"/>
<text x="123.7" y="372.7" font-size="5.5" text-anchor="start" fill="#222" textLength="39.2" lengthAdjust="spacingAndGlyphs">0.25%ITP-Lip</text>
<rect x="115.5" y="376.4" width="5" height="5" fill="#77ee22"/>
<text x="123.7" y="380.8" font-size="5.5" text-anchor="start" fill="#222" textLength="35.75" lengthAdjust="spacingAndGlyphs">0.5%ITP-Lip</text>
<rect x="115.5" y="384.2" width="5" height="5" fill="#ee9a44"/>
<text x="123.7" y="388.6" font-size="5.5" text-anchor="start" fill="#222" textLength="28.85" lengthAdjust="spacingAndGlyphs">1%ITP-Lip</text>
<rect x="115.5" y="392.3" width="5" height="5" fill="#55d4ff"/>
<text x="123.7" y="396.7" font-size="5.5" text-anchor="start" fill="#222" textLength="28.85" lengthAdjust="spacingAndGlyphs">2%ITP-Lip</text>
<rect x="115.5" y="400.1" width="5" height="5" fill="#ee3838"/>
<text x="123.7" y="404.5" font-size="5.5" text-anchor="start" fill="#222" textLength="28.85" lengthAdjust="spacingAndGlyphs">4%ITP-Lip</text>
<text x="41.2" y="491.5" font-size="6.0">-10<tspan font-size="5.2" dy="-2.7" dx="0.9">3</tspan></text>
<text x="88.9" y="491.5" font-size="6.0">10<tspan font-size="5.2" dy="-2.7" dx="0.9">3</tspan></text>
<text x="125.5" y="491.5" font-size="6.0">10<tspan font-size="5.2" dy="-2.7" dx="0.9">4</tspan></text>
<text x="157" y="491.5" font-size="6.0">10<tspan font-size="5.2" dy="-2.7" dx="0.9">5</tspan></text>
<text x="62.6" y="491.5" font-size="6">0</text>
<text x="100" y="500.3" font-size="6.4">FITC</text>
<line x1="88.9" y1="477.1" x2="88.9" y2="480.5" stroke="#111" stroke-width="0.9"/><line x1="99.92" y1="477.1" x2="99.92" y2="479.7" stroke="#111" stroke-width="0.9"/><line x1="106.36" y1="477.1" x2="106.36" y2="479.7" stroke="#111" stroke-width="0.9"/><line x1="110.94" y1="477.1" x2="110.94" y2="479.7" stroke="#111" stroke-width="0.9"/><line x1="114.48" y1="477.1" x2="114.48" y2="479.7" stroke="#111" stroke-width="0.9"/><line x1="117.38" y1="477.1" x2="117.38" y2="479.7" stroke="#111" stroke-width="0.9"/><line x1="119.83" y1="477.1" x2="119.83" y2="479.7" stroke="#111" stroke-width="0.9"/><line x1="121.95" y1="477.1" x2="121.95" y2="479.7" stroke="#111" stroke-width="0.9"/><line x1="123.83" y1="477.1" x2="123.83" y2="479.7" stroke="#111" stroke-width="0.9"/>
<line x1="125.5" y1="477.1" x2="125.5" y2="480.5" stroke="#111" stroke-width="0.9"/><line x1="136.52" y1="477.1" x2="136.52" y2="479.7" stroke="#111" stroke-width="0.9"/><line x1="142.96" y1="477.1" x2="142.96" y2="479.7" stroke="#111" stroke-width="0.9"/><line x1="147.54" y1="477.1" x2="147.54" y2="479.7" stroke="#111" stroke-width="0.9"/><line x1="151.08" y1="477.1" x2="151.08" y2="479.7" stroke="#111" stroke-width="0.9"/><line x1="153.98" y1="477.1" x2="153.98" y2="479.7" stroke="#111" stroke-width="0.9"/><line x1="156.43" y1="477.1" x2="156.43" y2="479.7" stroke="#111" stroke-width="0.9"/><line x1="158.55" y1="477.1" x2="158.55" y2="479.7" stroke="#111" stroke-width="0.9"/><line x1="160.43" y1="477.1" x2="160.43" y2="479.7" stroke="#111" stroke-width="0.9"/>
<line x1="162.1" y1="477.1" x2="162.1" y2="480.5" stroke="#111" stroke-width="0.9"/>
<line x1="64" y1="477.1" x2="64" y2="479.7" stroke="#111" stroke-width="0.9"/>
<line x1="66" y1="477.1" x2="66" y2="479.7" stroke="#111" stroke-width="0.9"/>
<line x1="68" y1="477.1" x2="68" y2="479.7" stroke="#111" stroke-width="0.9"/>
<line x1="70" y1="477.1" x2="70" y2="479.7" stroke="#111" stroke-width="0.9"/>
<line x1="72" y1="477.1" x2="72" y2="479.7" stroke="#111" stroke-width="0.9"/>
<line x1="74" y1="477.1" x2="74" y2="479.7" stroke="#111" stroke-width="0.9"/>
<line x1="76" y1="477.1" x2="76" y2="479.7" stroke="#111" stroke-width="0.9"/>
<line x1="78" y1="477.1" x2="78" y2="479.7" stroke="#111" stroke-width="0.9"/>
<line x1="80" y1="477.1" x2="80" y2="479.7" stroke="#111" stroke-width="0.9"/>
<line x1="82" y1="477.1" x2="82" y2="479.7" stroke="#111" stroke-width="0.9"/>
<line x1="84" y1="477.1" x2="84" y2="479.7" stroke="#111" stroke-width="0.9"/>
<line x1="86" y1="477.1" x2="86" y2="479.7" stroke="#111" stroke-width="0.9"/>
<line x1="40" y1="477.1" x2="40" y2="480.5" stroke="#111" stroke-width="0.9"/>
<line x1="42" y1="477.1" x2="42" y2="479.7" stroke="#111" stroke-width="0.9"/>
<line x1="44" y1="477.1" x2="44" y2="479.7" stroke="#111" stroke-width="0.9"/>
<line x1="46" y1="477.1" x2="46" y2="479.7" stroke="#111" stroke-width="0.9"/>
<line x1="48" y1="477.1" x2="48" y2="479.7" stroke="#111" stroke-width="0.9"/>
<line x1="50" y1="477.1" x2="50" y2="479.7" stroke="#111" stroke-width="0.9"/>
<line x1="52" y1="477.1" x2="52" y2="479.7" stroke="#111" stroke-width="0.9"/>
<line x1="54" y1="477.1" x2="54" y2="479.7" stroke="#111" stroke-width="0.9"/>
<line x1="56" y1="477.1" x2="56" y2="479.7" stroke="#111" stroke-width="0.9"/>
<line x1="58" y1="477.1" x2="58" y2="479.7" stroke="#111" stroke-width="0.9"/>
<rect x="59.4" y="477.1" width="6.2" height="3.2" fill="#111"/>
</g>
<g id="p-i">
<text x="178.3" y="366.7" font-size="19" font-weight="normal" text-anchor="start" stroke="#000" stroke-width="0.15">i</text>
<line x1="217.6" y1="365.5" x2="217.6" y2="469" stroke="#000" stroke-width="1"/>
<line x1="217.1" y1="468.5" x2="346.4" y2="468.5" stroke="#000" stroke-width="1"/>
<line x1="213.8" y1="458.8" x2="217.6" y2="458.8" stroke="#000" stroke-width="0.9"/>
<text x="212.5" y="461.7" font-size="6.9" text-anchor="end">500</text>
<line x1="213.8" y1="435.6" x2="217.6" y2="435.6" stroke="#000" stroke-width="0.9"/>
<text x="212.5" y="438.5" font-size="6.9" text-anchor="end">1000</text>
<line x1="213.8" y1="412.4" x2="217.6" y2="412.4" stroke="#000" stroke-width="0.9"/>
<text x="212.5" y="415.3" font-size="6.9" text-anchor="end">1500</text>
<line x1="213.8" y1="389.2" x2="217.6" y2="389.2" stroke="#000" stroke-width="0.9"/>
<text x="212.5" y="392.1" font-size="6.9" text-anchor="end">2000</text>
<line x1="213.8" y1="366" x2="217.6" y2="366" stroke="#000" stroke-width="0.9"/>
<text x="212.5" y="368.9" font-size="6.9" text-anchor="end">2500</text>
<text x="193" y="417" font-size="7.4" font-weight="normal" transform="rotate(-90 193 417)">Fluorescence intensity</text>
<path d="M224.5 468.5 V431.42 H238.3 V468.5" fill="none" stroke="#f23030" stroke-width="1"/>
<line x1="231.4" y1="468.5" x2="231.4" y2="471.5" stroke="#000" stroke-width="0.9"/>
<line x1="231.4" y1="429.8" x2="231.4" y2="433.05" stroke="#f23030" stroke-width="0.8"/><line x1="229.2" y1="429.8" x2="233.6" y2="429.8" stroke="#f23030" stroke-width="0.8"/><line x1="229.2" y1="433.05" x2="233.6" y2="433.05" stroke="#f23030" stroke-width="0.8"/>
<circle cx="228.2" cy="431.89" r="1.2" fill="none" stroke="#f23030" stroke-width="0.7"/>
<circle cx="231.4" cy="430.26" r="1.2" fill="none" stroke="#f23030" stroke-width="0.7"/>
<circle cx="234.6" cy="432.12" r="1.2" fill="none" stroke="#f23030" stroke-width="0.7"/>
<text x="235.6" y="475.7" font-size="7.4" text-anchor="end" transform="rotate(-45 235.6 475.7)">Lip</text>
<path d="M245.9 468.5 V429.1 H259.7 V468.5" fill="none" stroke="#3fe03f" stroke-width="1"/>
<line x1="252.8" y1="468.5" x2="252.8" y2="471.5" stroke="#000" stroke-width="0.9"/>
<line x1="252.8" y1="425.86" x2="252.8" y2="432.35" stroke="#3fe03f" stroke-width="0.8"/><line x1="250.6" y1="425.86" x2="255" y2="425.86" stroke="#3fe03f" stroke-width="0.8"/><line x1="250.6" y1="432.35" x2="255" y2="432.35" stroke="#3fe03f" stroke-width="0.8"/>
<rect x="248.5" y="428.47" width="2.2" height="2.2" fill="none" stroke="#3fe03f" stroke-width="0.7"/>
<rect x="251.7" y="426.84" width="2.2" height="2.2" fill="none" stroke="#3fe03f" stroke-width="0.7"/>
<rect x="254.9" y="428.7" width="2.2" height="2.2" fill="none" stroke="#3fe03f" stroke-width="0.7"/>
<text x="257" y="475.7" font-size="7.4" text-anchor="end" transform="rotate(-45 257 475.7)">0.25%ITP-Lip</text>
<path d="M267.3 468.5 V432.12 H281.1 V468.5" fill="none" stroke="#2222ee" stroke-width="1"/>
<line x1="274.2" y1="468.5" x2="274.2" y2="471.5" stroke="#000" stroke-width="0.9"/>
<line x1="274.2" y1="430.03" x2="274.2" y2="434.21" stroke="#2222ee" stroke-width="0.8"/><line x1="272" y1="430.03" x2="276.4" y2="430.03" stroke="#2222ee" stroke-width="0.8"/><line x1="272" y1="434.21" x2="276.4" y2="434.21" stroke="#2222ee" stroke-width="0.8"/>
<path d="M271 431.08 L272.35 433.63 L269.65 433.63Z" fill="#2222ee" stroke="#2222ee" stroke-width="0.6"/>
<path d="M274.2 429.46 L275.55 432.01 L272.85 432.01Z" fill="#2222ee" stroke="#2222ee" stroke-width="0.6"/>
<path d="M277.4 431.32 L278.75 433.87 L276.05 433.87Z" fill="#2222ee" stroke="#2222ee" stroke-width="0.6"/>
<text x="278.4" y="475.7" font-size="7.4" text-anchor="end" transform="rotate(-45 278.4 475.7)">0.5%ITP-Lip</text>
<path d="M288.7 468.5 V430.96 H302.5 V468.5" fill="none" stroke="#a0703c" stroke-width="1"/>
<line x1="295.6" y1="468.5" x2="295.6" y2="471.5" stroke="#000" stroke-width="0.9"/>
<line x1="295.6" y1="427.48" x2="295.6" y2="434.44" stroke="#a0703c" stroke-width="0.8"/><line x1="293.4" y1="427.48" x2="297.8" y2="427.48" stroke="#a0703c" stroke-width="0.8"/><line x1="293.4" y1="434.44" x2="297.8" y2="434.44" stroke="#a0703c" stroke-width="0.8"/>
<path d="M292.4 432.92 L293.75 430.37 L291.05 430.37Z" fill="none" stroke="#a0703c" stroke-width="0.7"/>
<path d="M295.6 431.3 L296.95 428.75 L294.25 428.75Z" fill="none" stroke="#a0703c" stroke-width="0.7"/>
<path d="M298.8 433.16 L300.15 430.61 L297.45 430.61Z" fill="none" stroke="#a0703c" stroke-width="0.7"/>
<text x="299.8" y="475.7" font-size="7.4" text-anchor="end" transform="rotate(-45 299.8 475.7)">1%ITP-Lip</text>
<path d="M310 468.5 V419.82 H323.8 V468.5" fill="none" stroke="#ff3399" stroke-width="1"/>
<line x1="316.9" y1="468.5" x2="316.9" y2="471.5" stroke="#000" stroke-width="0.9"/>
<line x1="316.9" y1="417.27" x2="316.9" y2="422.38" stroke="#ff3399" stroke-width="0.8"/><line x1="314.7" y1="417.27" x2="319.1" y2="417.27" stroke="#ff3399" stroke-width="0.8"/><line x1="314.7" y1="422.38" x2="319.1" y2="422.38" stroke="#ff3399" stroke-width="0.8"/>
<path d="M313.7 418.79 L315.2 420.29 L313.7 421.79 L312.2 420.29Z" fill="none" stroke="#ff3399" stroke-width="0.7"/>
<path d="M316.9 417.16 L318.4 418.66 L316.9 420.16 L315.4 418.66Z" fill="none" stroke="#ff3399" stroke-width="0.7"/>
<path d="M320.1 419.02 L321.6 420.52 L320.1 422.02 L318.6 420.52Z" fill="none" stroke="#ff3399" stroke-width="0.7"/>
<text x="321.1" y="475.7" font-size="7.4" text-anchor="end" transform="rotate(-45 321.1 475.7)">2%ITP-Lip</text>
<path d="M331.4 468.5 V394.3 H345.2 V468.5" fill="none" stroke="#b02424" stroke-width="1"/>
<line x1="338.3" y1="468.5" x2="338.3" y2="471.5" stroke="#000" stroke-width="0.9"/>
<line x1="338.3" y1="391.52" x2="338.3" y2="397.09" stroke="#b02424" stroke-width="0.8"/><line x1="336.1" y1="391.52" x2="340.5" y2="391.52" stroke="#b02424" stroke-width="0.8"/><line x1="336.1" y1="397.09" x2="340.5" y2="397.09" stroke="#b02424" stroke-width="0.8"/>
<circle cx="335.1" cy="394.77" r="1.2" fill="none" stroke="#b02424" stroke-width="0.7"/>
<circle cx="338.3" cy="393.14" r="1.2" fill="none" stroke="#b02424" stroke-width="0.7"/>
<circle cx="341.5" cy="395" r="1.2" fill="none" stroke="#b02424" stroke-width="0.7"/>
<text x="342.5" y="475.7" font-size="7.4" text-anchor="end" transform="rotate(-45 342.5 475.7)">4%ITP-Lip</text>
<text x="252.3" y="421" font-size="4.5" font-style="italic">NS p=0.3591</text>
<text x="273.7" y="413.5" font-size="4.5" font-style="italic">NS p=0.5244</text>
<text x="294.2" y="421" font-size="4.5" font-style="italic">NS p=0.9026</text>
<text x="314.8" y="413" font-size="4.5" font-style="italic">** p=0.0014</text>
<text x="334.8" y="387.4" font-size="4.5" font-style="italic">**** p&lt;0.0001</text>
</g>
<g id="p-j">
<text x="360.3" y="367.6" font-size="19.5" font-weight="normal" text-anchor="start" stroke="#000" stroke-width="0.15">j</text>
<path d="M371.3 384.6 H479.4 V472 Q479.4 479.6 471.8 479.6 H378.9 Q371.3 479.6 371.3 472 Z" fill="#d3ebe2" stroke="#8db5a6" stroke-width="0.7"/>
<path d="M375.4 388 H475.3 V471 Q475.3 475.4 470.9 475.4 H379.8 Q375.4 475.4 375.4 471 Z" fill="#f1f1fa" stroke="#8db5a6" stroke-width="0.5"/>
<path d="M375.6 412 H475.1 V471 Q475.1 475.2 470.9 475.2 H379.8 Q375.6 475.2 375.6 471 Z" fill="#dc965e"/>
<path d="M388.6 385.2 H465.9 L464.3 452 Q464 460.6 456 460.6 H399 Q391 460.6 390.6 452 Z" fill="#f1f1fa"/>
<path d="M389.5 409.4 H465.2 L464.3 452 Q464 460.6 456 460.6 H399 Q391 460.6 390.6 452 Z" fill="#e28a8a"/>
<path d="M368.6 384.2 H384.5 Q388.6 384.2 388.9 388.5 L390.6 452 Q391 460.6 399 460.6 H456 Q464 460.6 464.3 452 L465.6 388.5 Q465.9 384.2 470 384.2 H481.4 V387.6 H472 Q469.6 387.6 469.5 390 L468.2 453 Q467.8 464 457 464 H398 Q387.4 464 387 453 L385.3 390 Q385.2 387.6 382.8 387.6 H368.6 Z" fill="#d3ebe2" stroke="#8db5a6" stroke-width="0.6"/>
<line x1="395" y1="460.4" x2="455.6" y2="460.4" stroke="#f4f8f0" stroke-width="2.2" stroke-dasharray="1.6 1"/>
<ellipse cx="395.3" cy="454.8" rx="3.9" ry="3.3" fill="#8478d0" stroke="#5a4fb0" stroke-width="0.5"/>
<circle cx="395.3" cy="455" r="1.5" fill="#4d43a8"/>
<ellipse cx="402.75" cy="454.8" rx="3.9" ry="3.3" fill="#8478d0" stroke="#5a4fb0" stroke-width="0.5"/>
<circle cx="402.75" cy="455" r="1.5" fill="#4d43a8"/>
<ellipse cx="410.2" cy="454.8" rx="3.9" ry="3.3" fill="#8478d0" stroke="#5a4fb0" stroke-width="0.5"/>
<circle cx="410.2" cy="455" r="1.5" fill="#4d43a8"/>
<ellipse cx="417.65" cy="454.8" rx="3.9" ry="3.3" fill="#8478d0" stroke="#5a4fb0" stroke-width="0.5"/>
<circle cx="417.65" cy="455" r="1.5" fill="#4d43a8"/>
<ellipse cx="425.1" cy="454.8" rx="3.9" ry="3.3" fill="#8478d0" stroke="#5a4fb0" stroke-width="0.5"/>
<circle cx="425.1" cy="455" r="1.5" fill="#4d43a8"/>
<ellipse cx="432.55" cy="454.8" rx="3.9" ry="3.3" fill="#8478d0" stroke="#5a4fb0" stroke-width="0.5"/>
<circle cx="432.55" cy="455" r="1.5" fill="#4d43a8"/>
<ellipse cx="440" cy="454.8" rx="3.9" ry="3.3" fill="#8478d0" stroke="#5a4fb0" stroke-width="0.5"/>
<circle cx="440" cy="455" r="1.5" fill="#4d43a8"/>
<ellipse cx="447.45" cy="454.8" rx="3.9" ry="3.3" fill="#8478d0" stroke="#5a4fb0" stroke-width="0.5"/>
<circle cx="447.45" cy="455" r="1.5" fill="#4d43a8"/>
<ellipse cx="454.9" cy="454.8" rx="3.9" ry="3.3" fill="#8478d0" stroke="#5a4fb0" stroke-width="0.5"/>
<circle cx="454.9" cy="455" r="1.5" fill="#4d43a8"/>
<path d="M402.8 396.1 L405 396.1 L405 416 L407.2 416 L403.9 423.4 L400.6 416 L402.8 416Z" fill="#cfd6ee" stroke="#5f6c9c" stroke-width="0.6"/>
<path d="M423 396.1 L425.2 396.1 L425.2 416 L427.4 416 L424.1 423.4 L420.8 416 L423 416Z" fill="#cfd6ee" stroke="#5f6c9c" stroke-width="0.6"/>
<path d="M442.9 396.1 L445.1 396.1 L445.1 416 L447.3 416 L444 423.4 L440.7 416 L442.9 416Z" fill="#cfd6ee" stroke="#5f6c9c" stroke-width="0.6"/>
<text x="425.8" y="448.4" font-size="5.8" fill="#222">bEnd.3 cells</text>
</g>
<g id="p-k">
<text x="499.9" y="370.4" font-size="19.6" font-weight="normal" text-anchor="start" stroke="#000" stroke-width="0.15">k</text>
<line x1="494" y1="340" x2="683.25" y2="340" stroke="#0a0a0a" stroke-width="2.05" stroke-dasharray="7.17 3.79"/>
<line x1="682.2" y1="339" x2="682.2" y2="643" stroke="#0a0a0a" stroke-width="2.05" stroke-dasharray="7.17 3.79" stroke-dashoffset="1.95"/>
<line x1="494.6" y1="339" x2="494.6" y2="643" stroke="#0a0a0a" stroke-width="2.05" stroke-dasharray="7.19 3.79" stroke-dashoffset="7.68"/>
<line x1="493.5" y1="642" x2="683.25" y2="642" stroke="#0a0a0a" stroke-width="2.05" stroke-dasharray="7.17 3.79" stroke-dashoffset="4.15"/>
<text x="526.6" y="373.3" font-size="6.4" transform="rotate(-90 526.6 373.3)">Lip</text>
<g clip-path="url(#ck0)">
<rect x="531.8" y="356.2" width="131.3" height="34.3" fill="#020204"/>
<path d="M537.8 373.4 L631.2 364.3 L655.8 366.2 L655.8 371.5 L633.3 378.7 L537.8 383.2Z" fill="#2a22d8" filter="url(#b2)" opacity="0.8"/>
<g filter="url(#b1)"><ellipse cx="578.07" cy="372.01" rx="1.71" ry="3.22" fill="#3a30ff" opacity="0.59"/><ellipse cx="582.76" cy="371.16" rx="1.51" ry="3.11" fill="#3a30ff" opacity="0.55"/><ellipse cx="549.62" cy="373.39" rx="1.39" ry="5.48" fill="#3a30ff" opacity="0.41"/><ellipse cx="566.8" cy="375.56" rx="2.13" ry="4.73" fill="#3a30ff" opacity="0.53"/><ellipse cx="651.14" cy="366.89" rx="2" ry="3.87" fill="#3a30ff" opacity="0.41"/><ellipse cx="554.99" cy="374.37" rx="1.94" ry="3.54" fill="#3a30ff" opacity="0.61"/><ellipse cx="613.36" cy="371.17" rx="1.57" ry="3.19" fill="#3a30ff" opacity="0.38"/><ellipse cx="564.87" cy="376" rx="1.4" ry="3.94" fill="#3a30ff" opacity="0.61"/><ellipse cx="592.56" cy="372.01" rx="1.91" ry="5.1" fill="#3a30ff" opacity="0.46"/><ellipse cx="606.14" cy="372.53" rx="2.03" ry="5.19" fill="#3a30ff" opacity="0.48"/><ellipse cx="651.58" cy="367.29" rx="1.39" ry="5.27" fill="#3a30ff" opacity="0.42"/><ellipse cx="596.56" cy="370.2" rx="1.74" ry="5.29" fill="#3a30ff" opacity="0.61"/><ellipse cx="639.85" cy="369.19" rx="1.77" ry="4.78" fill="#3a30ff" opacity="0.61"/><ellipse cx="592.89" cy="375.23" rx="2.12" ry="4.42" fill="#3a30ff" opacity="0.65"/><ellipse cx="548.59" cy="377.12" rx="1.71" ry="5.98" fill="#3a30ff" opacity="0.72"/><ellipse cx="573.67" cy="373.69" rx="1.74" ry="3.07" fill="#3a30ff" opacity="0.56"/><ellipse cx="560.62" cy="372.88" rx="0.88" ry="5.3" fill="#3a30ff" opacity="0.41"/><ellipse cx="569.53" cy="373.97" rx="2.02" ry="3.24" fill="#3a30ff" opacity="0.55"/><ellipse cx="603.34" cy="374.85" rx="1.95" ry="5.59" fill="#3a30ff" opacity="0.48"/><ellipse cx="588.31" cy="372.62" rx="2.04" ry="5.87" fill="#3a30ff" opacity="0.42"/><ellipse cx="561.54" cy="373.51" rx="1.13" ry="4.45" fill="#3a30ff" opacity="0.62"/><ellipse cx="571.23" cy="371.55" rx="1.39" ry="4.11" fill="#3a30ff" opacity="0.6"/><ellipse cx="648.55" cy="370.91" rx="1.52" ry="4.85" fill="#3a30ff" opacity="0.65"/><ellipse cx="547.85" cy="378.36" rx="1.89" ry="5.62" fill="#3a30ff" opacity="0.71"/><ellipse cx="585.75" cy="373.02" rx="0.94" ry="4.9" fill="#3a30ff" opacity="0.38"/><ellipse cx="549.34" cy="374.12" rx="1.03" ry="4.02" fill="#3a30ff" opacity="0.37"/><ellipse cx="543.83" cy="374.61" rx="0.96" ry="3.41" fill="#ff2060" opacity="0.46"/><ellipse cx="638.23" cy="371.59" rx="1.04" ry="3.13" fill="#ff2060" opacity="0.61"/><ellipse cx="583.13" cy="372.03" rx="2.16" ry="4.98" fill="#ff2060" opacity="0.66"/></g>
<g filter="url(#b05)"><line x1="538.77" y1="358.2" x2="538.77" y2="389.2" stroke="#000" stroke-width="0.56" opacity="0.19"/><line x1="542.05" y1="358.2" x2="542.05" y2="389.2" stroke="#000" stroke-width="0.69" opacity="0.44"/><line x1="545.26" y1="358.2" x2="545.26" y2="389.2" stroke="#000" stroke-width="0.52" opacity="0.48"/><line x1="549.35" y1="358.2" x2="549.35" y2="389.2" stroke="#000" stroke-width="0.6" opacity="0.34"/><line x1="552.04" y1="358.2" x2="552.04" y2="389.2" stroke="#000" stroke-width="0.87" opacity="0.49"/><line x1="556.88" y1="358.2" x2="556.88" y2="389.2" stroke="#000" stroke-width="0.99" opacity="0.24"/><line x1="559.59" y1="358.2" x2="559.59" y2="389.2" stroke="#000" stroke-width="0.62" opacity="0.42"/><line x1="563.35" y1="358.2" x2="563.35" y2="389.2" stroke="#000" stroke-width="1.05" opacity="0.27"/><line x1="566.36" y1="358.2" x2="566.36" y2="389.2" stroke="#000" stroke-width="1.07" opacity="0.49"/><line x1="570.86" y1="358.2" x2="570.86" y2="389.2" stroke="#000" stroke-width="1.06" opacity="0.44"/><line x1="574.18" y1="358.2" x2="574.18" y2="389.2" stroke="#000" stroke-width="0.66" opacity="0.33"/><line x1="577.07" y1="358.2" x2="577.07" y2="389.2" stroke="#000" stroke-width="0.52" opacity="0.16"/><line x1="580.45" y1="358.2" x2="580.45" y2="389.2" stroke="#000" stroke-width="0.68" opacity="0.39"/><line x1="585.03" y1="358.2" x2="585.03" y2="389.2" stroke="#000" stroke-width="0.81" opacity="0.48"/><line x1="588.58" y1="358.2" x2="588.58" y2="389.2" stroke="#000" stroke-width="1.17" opacity="0.28"/><line x1="590.85" y1="358.2" x2="590.85" y2="389.2" stroke="#000" stroke-width="0.66" opacity="0.22"/><line x1="594.33" y1="358.2" x2="594.33" y2="389.2" stroke="#000" stroke-width="0.94" opacity="0.47"/><line x1="598.84" y1="358.2" x2="598.84" y2="389.2" stroke="#000" stroke-width="0.84" opacity="0.38"/><line x1="602.28" y1="358.2" x2="602.28" y2="389.2" stroke="#000" stroke-width="0.56" opacity="0.38"/><line x1="605.96" y1="358.2" x2="605.96" y2="389.2" stroke="#000" stroke-width="1.05" opacity="0.41"/><line x1="608.76" y1="358.2" x2="608.76" y2="389.2" stroke="#000" stroke-width="0.62" opacity="0.43"/><line x1="612.03" y1="358.2" x2="612.03" y2="389.2" stroke="#000" stroke-width="1.06" opacity="0.49"/><line x1="615.63" y1="358.2" x2="615.63" y2="389.2" stroke="#000" stroke-width="0.78" opacity="0.48"/><line x1="619.66" y1="358.2" x2="619.66" y2="389.2" stroke="#000" stroke-width="0.62" opacity="0.19"/><line x1="622.24" y1="358.2" x2="622.24" y2="389.2" stroke="#000" stroke-width="1.13" opacity="0.43"/><line x1="625.73" y1="358.2" x2="625.73" y2="389.2" stroke="#000" stroke-width="1.08" opacity="0.49"/><line x1="630.05" y1="358.2" x2="630.05" y2="389.2" stroke="#000" stroke-width="0.75" opacity="0.34"/><line x1="632.71" y1="358.2" x2="632.71" y2="389.2" stroke="#000" stroke-width="0.51" opacity="0.49"/><line x1="637.04" y1="358.2" x2="637.04" y2="389.2" stroke="#000" stroke-width="0.87" opacity="0.48"/><line x1="640.19" y1="358.2" x2="640.19" y2="389.2" stroke="#000" stroke-width="1.11" opacity="0.44"/><line x1="643.34" y1="358.2" x2="643.34" y2="389.2" stroke="#000" stroke-width="0.68" opacity="0.25"/><line x1="646.88" y1="358.2" x2="646.88" y2="389.2" stroke="#000" stroke-width="0.91" opacity="0.24"/><line x1="650.67" y1="358.2" x2="650.67" y2="389.2" stroke="#000" stroke-width="0.59" opacity="0.47"/><line x1="654.07" y1="358.2" x2="654.07" y2="389.2" stroke="#000" stroke-width="0.82" opacity="0.35"/></g>
<rect x="535.8" y="364.2" width="26" height="26" fill="#020204" opacity="0.55" filter="url(#b2)"/>
<path d="M535.8 369.4 L631.2 359.8 L657.8 362.2 L657.8 374.5 L633.3 382.7 L535.8 387.2Z" fill="none" stroke="#b8b8b8" stroke-width="0.5"/>
<line x1="631.2" y1="359.8" x2="633.3" y2="382.7" stroke="#b8b8b8" stroke-width="0.5"/>
<line x1="535.8" y1="372.4" x2="631.2" y2="364.3" stroke="#b8b8b8" stroke-width="0.35"/>
<line x1="631.2" y1="364.3" x2="657.8" y2="363.2" stroke="#b8b8b8" stroke-width="0.35"/>
<line x1="535.8" y1="385" x2="633.3" y2="379.2" stroke="#b8b8b8" stroke-width="0.35" stroke-dasharray="0.5 1.6"/>
</g>
<text x="526.6" y="410.3" font-size="6.4" transform="rotate(-90 526.6 410.3)">ITP-Lip</text>
<g clip-path="url(#ck1)">
<rect x="531.8" y="393.2" width="131.3" height="34.3" fill="#020204"/>
<path d="M537.8 410.2 L646.5 401.9 L655.8 404 L655.8 410.3 L648.6 415.4 L537.8 419.5Z" fill="#4a1c9c" filter="url(#b2)" opacity="0.8"/>
<g filter="url(#b1)"><ellipse cx="643.08" cy="406.63" rx="2.08" ry="4.5" fill="#3a30ff" opacity="0.59"/><ellipse cx="600.43" cy="406.84" rx="1.42" ry="3.55" fill="#3a30ff" opacity="0.35"/><ellipse cx="631.31" cy="405.86" rx="1.46" ry="5.18" fill="#3a30ff" opacity="0.6"/><ellipse cx="578.31" cy="411.2" rx="1.58" ry="5.35" fill="#3a30ff" opacity="0.4"/><ellipse cx="604.55" cy="407.96" rx="1.19" ry="5.32" fill="#3a30ff" opacity="0.58"/><ellipse cx="604.71" cy="411.02" rx="2.08" ry="4.33" fill="#3a30ff" opacity="0.63"/><ellipse cx="598.42" cy="409.92" rx="1.77" ry="4.36" fill="#3a30ff" opacity="0.59"/><ellipse cx="595.34" cy="412.69" rx="1.78" ry="5.63" fill="#3a30ff" opacity="0.77"/><ellipse cx="570.87" cy="411.9" rx="2.12" ry="5.52" fill="#3a30ff" opacity="0.41"/><ellipse cx="555.42" cy="412.15" rx="0.9" ry="3.72" fill="#3a30ff" opacity="0.38"/><ellipse cx="616.78" cy="410.43" rx="2.06" ry="3.46" fill="#3a30ff" opacity="0.67"/><ellipse cx="615.75" cy="406.64" rx="2.04" ry="5.9" fill="#3a30ff" opacity="0.45"/><ellipse cx="648.48" cy="406.16" rx="1.48" ry="5.97" fill="#3a30ff" opacity="0.72"/><ellipse cx="559.88" cy="411.81" rx="1.52" ry="4.02" fill="#3a30ff" opacity="0.44"/><ellipse cx="577.47" cy="412.47" rx="0.83" ry="4.66" fill="#3a30ff" opacity="0.55"/><ellipse cx="543.83" cy="412.2" rx="1.67" ry="4.54" fill="#3a30ff" opacity="0.38"/><ellipse cx="652.13" cy="408.28" rx="2.16" ry="3.31" fill="#3a30ff" opacity="0.47"/><ellipse cx="546.23" cy="414.73" rx="1.18" ry="3.39" fill="#3a30ff" opacity="0.54"/><ellipse cx="643.88" cy="408.97" rx="1.16" ry="3.45" fill="#3a30ff" opacity="0.76"/><ellipse cx="605.71" cy="410.6" rx="0.93" ry="3.17" fill="#3a30ff" opacity="0.66"/><ellipse cx="589.44" cy="407.84" rx="2.11" ry="4.9" fill="#3a30ff" opacity="0.71"/><ellipse cx="551.18" cy="414.89" rx="0.89" ry="5.59" fill="#3a30ff" opacity="0.55"/><ellipse cx="579.78" cy="411.31" rx="2.1" ry="3.8" fill="#3a30ff" opacity="0.41"/><ellipse cx="600.81" cy="408.13" rx="0.95" ry="3.48" fill="#3a30ff" opacity="0.37"/><ellipse cx="564.4" cy="410.81" rx="1.23" ry="5.28" fill="#3a30ff" opacity="0.48"/><ellipse cx="597.81" cy="407.96" rx="1.29" ry="3.05" fill="#3a30ff" opacity="0.46"/><ellipse cx="545.46" cy="415" rx="1.68" ry="2.97" fill="#ff2060" opacity="0.66"/><ellipse cx="644.74" cy="405.14" rx="2.11" ry="3.58" fill="#ff2060" opacity="0.67"/><ellipse cx="633.94" cy="407.53" rx="1.61" ry="4.22" fill="#ff2060" opacity="0.89"/><ellipse cx="580.81" cy="413.43" rx="1.93" ry="4.09" fill="#ff2060" opacity="0.63"/><ellipse cx="581.34" cy="408.73" rx="1.01" ry="2.68" fill="#ff2060" opacity="0.78"/><ellipse cx="571.4" cy="409.99" rx="0.94" ry="4.6" fill="#ff2060" opacity="0.84"/><ellipse cx="616.22" cy="407.95" rx="1.19" ry="3.23" fill="#ff2060" opacity="0.66"/><ellipse cx="560.81" cy="412.34" rx="1.22" ry="4.9" fill="#ff2060" opacity="0.89"/><ellipse cx="602.88" cy="408.54" rx="2.35" ry="3.27" fill="#ff2060" opacity="0.61"/><ellipse cx="543.92" cy="412.99" rx="1.56" ry="3.76" fill="#ff2060" opacity="0.54"/><ellipse cx="598.31" cy="407.39" rx="1.22" ry="2.72" fill="#ff2060" opacity="0.63"/><ellipse cx="548.3" cy="410.57" rx="1.29" ry="3.08" fill="#ff2060" opacity="0.71"/><ellipse cx="600.95" cy="411.7" rx="1.85" ry="4.29" fill="#ff2060" opacity="0.85"/><ellipse cx="585.87" cy="410.08" rx="2.38" ry="2.87" fill="#ff2060" opacity="0.78"/></g>
<g filter="url(#b05)"><line x1="539.03" y1="395.2" x2="539.03" y2="426.2" stroke="#000" stroke-width="0.53" opacity="0.44"/><line x1="542.93" y1="395.2" x2="542.93" y2="426.2" stroke="#000" stroke-width="0.94" opacity="0.41"/><line x1="546.3" y1="395.2" x2="546.3" y2="426.2" stroke="#000" stroke-width="0.6" opacity="0.33"/><line x1="549.31" y1="395.2" x2="549.31" y2="426.2" stroke="#000" stroke-width="1.08" opacity="0.43"/><line x1="553.32" y1="395.2" x2="553.32" y2="426.2" stroke="#000" stroke-width="0.91" opacity="0.46"/><line x1="556.59" y1="395.2" x2="556.59" y2="426.2" stroke="#000" stroke-width="0.99" opacity="0.23"/><line x1="559.05" y1="395.2" x2="559.05" y2="426.2" stroke="#000" stroke-width="0.59" opacity="0.28"/><line x1="562.67" y1="395.2" x2="562.67" y2="426.2" stroke="#000" stroke-width="1.09" opacity="0.35"/><line x1="567" y1="395.2" x2="567" y2="426.2" stroke="#000" stroke-width="0.94" opacity="0.39"/><line x1="570.28" y1="395.2" x2="570.28" y2="426.2" stroke="#000" stroke-width="0.5" opacity="0.43"/><line x1="574.2" y1="395.2" x2="574.2" y2="426.2" stroke="#000" stroke-width="0.85" opacity="0.34"/><line x1="577.55" y1="395.2" x2="577.55" y2="426.2" stroke="#000" stroke-width="0.55" opacity="0.41"/><line x1="580.4" y1="395.2" x2="580.4" y2="426.2" stroke="#000" stroke-width="0.55" opacity="0.24"/><line x1="584.67" y1="395.2" x2="584.67" y2="426.2" stroke="#000" stroke-width="0.64" opacity="0.41"/><line x1="588.56" y1="395.2" x2="588.56" y2="426.2" stroke="#000" stroke-width="0.85" opacity="0.28"/><line x1="591.27" y1="395.2" x2="591.27" y2="426.2" stroke="#000" stroke-width="0.98" opacity="0.42"/><line x1="594.99" y1="395.2" x2="594.99" y2="426.2" stroke="#000" stroke-width="0.95" opacity="0.18"/><line x1="597.74" y1="395.2" x2="597.74" y2="426.2" stroke="#000" stroke-width="0.68" opacity="0.41"/><line x1="601.49" y1="395.2" x2="601.49" y2="426.2" stroke="#000" stroke-width="0.9" opacity="0.15"/><line x1="604.6" y1="395.2" x2="604.6" y2="426.2" stroke="#000" stroke-width="0.69" opacity="0.39"/><line x1="609.11" y1="395.2" x2="609.11" y2="426.2" stroke="#000" stroke-width="0.97" opacity="0.25"/><line x1="612.33" y1="395.2" x2="612.33" y2="426.2" stroke="#000" stroke-width="0.83" opacity="0.31"/><line x1="615.19" y1="395.2" x2="615.19" y2="426.2" stroke="#000" stroke-width="1.13" opacity="0.22"/><line x1="620.07" y1="395.2" x2="620.07" y2="426.2" stroke="#000" stroke-width="1.16" opacity="0.16"/><line x1="622.73" y1="395.2" x2="622.73" y2="426.2" stroke="#000" stroke-width="1.07" opacity="0.49"/><line x1="626.22" y1="395.2" x2="626.22" y2="426.2" stroke="#000" stroke-width="0.69" opacity="0.22"/><line x1="630.51" y1="395.2" x2="630.51" y2="426.2" stroke="#000" stroke-width="0.65" opacity="0.35"/><line x1="632.73" y1="395.2" x2="632.73" y2="426.2" stroke="#000" stroke-width="0.87" opacity="0.48"/><line x1="636.21" y1="395.2" x2="636.21" y2="426.2" stroke="#000" stroke-width="1.07" opacity="0.33"/><line x1="640.92" y1="395.2" x2="640.92" y2="426.2" stroke="#000" stroke-width="0.99" opacity="0.23"/><line x1="644.44" y1="395.2" x2="644.44" y2="426.2" stroke="#000" stroke-width="0.84" opacity="0.16"/><line x1="646.51" y1="395.2" x2="646.51" y2="426.2" stroke="#000" stroke-width="0.84" opacity="0.31"/><line x1="650.48" y1="395.2" x2="650.48" y2="426.2" stroke="#000" stroke-width="0.6" opacity="0.27"/><line x1="654.01" y1="395.2" x2="654.01" y2="426.2" stroke="#000" stroke-width="1.09" opacity="0.15"/></g>
<path d="M535.8 406.2 L646.5 397.4 L657.8 400 L657.8 413.3 L648.6 419.4 L535.8 423.5Z" fill="none" stroke="#b8b8b8" stroke-width="0.5"/>
<line x1="646.5" y1="397.4" x2="648.6" y2="419.4" stroke="#b8b8b8" stroke-width="0.5"/>
<line x1="535.8" y1="409.2" x2="646.5" y2="401.9" stroke="#b8b8b8" stroke-width="0.35"/>
<line x1="646.5" y1="401.9" x2="657.8" y2="401" stroke="#b8b8b8" stroke-width="0.35"/>
<line x1="535.8" y1="421.3" x2="648.6" y2="415.9" stroke="#b8b8b8" stroke-width="0.35" stroke-dasharray="0.5 1.6"/>
</g>
<text x="526.6" y="446.1" font-size="6.4" transform="rotate(-90 526.6 446.1)">PEG-Lip</text>
<g clip-path="url(#ck2)">
<rect x="531.8" y="430.2" width="131.3" height="34.3" fill="#020204"/>
<path d="M537.8 447.4 L627.1 438.7 L655.8 440.2 L655.8 445.5 L628.1 451.6 L537.8 455.7Z" fill="#2620b8" filter="url(#b2)" opacity="0.8"/>
<g filter="url(#b1)"><ellipse cx="625.88" cy="447.2" rx="0.97" ry="5.78" fill="#3a30ff" opacity="0.67"/><ellipse cx="642.78" cy="442.86" rx="1.32" ry="4.18" fill="#3a30ff" opacity="0.8"/><ellipse cx="607.79" cy="445.44" rx="1.4" ry="3.83" fill="#3a30ff" opacity="0.37"/><ellipse cx="553.19" cy="451.64" rx="1.2" ry="5.81" fill="#3a30ff" opacity="0.46"/><ellipse cx="571.56" cy="448.57" rx="1.07" ry="4.12" fill="#3a30ff" opacity="0.78"/><ellipse cx="640.84" cy="446.11" rx="1.68" ry="5.74" fill="#3a30ff" opacity="0.77"/><ellipse cx="603.31" cy="447.87" rx="0.87" ry="5.2" fill="#3a30ff" opacity="0.55"/><ellipse cx="626.1" cy="446.02" rx="1.2" ry="3.15" fill="#3a30ff" opacity="0.77"/><ellipse cx="556.06" cy="449.29" rx="1.28" ry="3.89" fill="#3a30ff" opacity="0.68"/><ellipse cx="651.15" cy="442.17" rx="1.72" ry="3.9" fill="#3a30ff" opacity="0.6"/><ellipse cx="585.97" cy="445.62" rx="1.03" ry="3.62" fill="#3a30ff" opacity="0.76"/><ellipse cx="597.47" cy="445.23" rx="2.07" ry="5.99" fill="#3a30ff" opacity="0.55"/><ellipse cx="557.43" cy="447.52" rx="0.93" ry="4.03" fill="#3a30ff" opacity="0.39"/><ellipse cx="568.58" cy="447.23" rx="1.6" ry="5.66" fill="#3a30ff" opacity="0.69"/><ellipse cx="588.03" cy="446.97" rx="1.53" ry="4.13" fill="#3a30ff" opacity="0.5"/><ellipse cx="548.75" cy="448.57" rx="2.15" ry="3.38" fill="#3a30ff" opacity="0.58"/><ellipse cx="612.32" cy="448.17" rx="1.1" ry="3.81" fill="#3a30ff" opacity="0.46"/><ellipse cx="586.57" cy="447.25" rx="2.14" ry="5.55" fill="#3a30ff" opacity="0.74"/><ellipse cx="544.24" cy="447.37" rx="1.79" ry="5.69" fill="#3a30ff" opacity="0.56"/><ellipse cx="607.56" cy="443.29" rx="1.35" ry="5.78" fill="#3a30ff" opacity="0.72"/><ellipse cx="637.61" cy="447.27" rx="1.15" ry="3.33" fill="#3a30ff" opacity="0.42"/><ellipse cx="600.3" cy="447.83" rx="2.12" ry="5.17" fill="#3a30ff" opacity="0.64"/><ellipse cx="627.46" cy="444.81" rx="1.57" ry="3.12" fill="#3a30ff" opacity="0.7"/><ellipse cx="567.85" cy="451.25" rx="1.7" ry="3.91" fill="#3a30ff" opacity="0.41"/><ellipse cx="570" cy="449.42" rx="1.78" ry="3.34" fill="#3a30ff" opacity="0.38"/><ellipse cx="600.54" cy="447.22" rx="1.34" ry="3.67" fill="#3a30ff" opacity="0.62"/><ellipse cx="544.93" cy="449.45" rx="1.54" ry="4.9" fill="#ff2060" opacity="0.74"/><ellipse cx="639.25" cy="444.69" rx="1.18" ry="3.12" fill="#ff2060" opacity="0.88"/><ellipse cx="619.9" cy="444.87" rx="0.83" ry="3.75" fill="#ff2060" opacity="0.75"/><ellipse cx="589.16" cy="446.46" rx="1.87" ry="4.81" fill="#ff2060" opacity="0.55"/></g>
<g filter="url(#b05)"><line x1="538.05" y1="432.2" x2="538.05" y2="463.2" stroke="#000" stroke-width="0.74" opacity="0.3"/><line x1="542.59" y1="432.2" x2="542.59" y2="463.2" stroke="#000" stroke-width="0.64" opacity="0.43"/><line x1="546.18" y1="432.2" x2="546.18" y2="463.2" stroke="#000" stroke-width="0.85" opacity="0.22"/><line x1="550.05" y1="432.2" x2="550.05" y2="463.2" stroke="#000" stroke-width="0.72" opacity="0.44"/><line x1="552.37" y1="432.2" x2="552.37" y2="463.2" stroke="#000" stroke-width="0.66" opacity="0.42"/><line x1="555.97" y1="432.2" x2="555.97" y2="463.2" stroke="#000" stroke-width="1.17" opacity="0.32"/><line x1="559.3" y1="432.2" x2="559.3" y2="463.2" stroke="#000" stroke-width="0.66" opacity="0.3"/><line x1="563.56" y1="432.2" x2="563.56" y2="463.2" stroke="#000" stroke-width="1.16" opacity="0.2"/><line x1="566.63" y1="432.2" x2="566.63" y2="463.2" stroke="#000" stroke-width="0.65" opacity="0.49"/><line x1="569.73" y1="432.2" x2="569.73" y2="463.2" stroke="#000" stroke-width="0.54" opacity="0.17"/><line x1="573.63" y1="432.2" x2="573.63" y2="463.2" stroke="#000" stroke-width="1.13" opacity="0.46"/><line x1="577.67" y1="432.2" x2="577.67" y2="463.2" stroke="#000" stroke-width="1.2" opacity="0.48"/><line x1="580.53" y1="432.2" x2="580.53" y2="463.2" stroke="#000" stroke-width="0.63" opacity="0.48"/><line x1="584.69" y1="432.2" x2="584.69" y2="463.2" stroke="#000" stroke-width="0.52" opacity="0.38"/><line x1="587.61" y1="432.2" x2="587.61" y2="463.2" stroke="#000" stroke-width="0.76" opacity="0.27"/><line x1="590.77" y1="432.2" x2="590.77" y2="463.2" stroke="#000" stroke-width="0.5" opacity="0.25"/><line x1="594.56" y1="432.2" x2="594.56" y2="463.2" stroke="#000" stroke-width="1.17" opacity="0.19"/><line x1="599.04" y1="432.2" x2="599.04" y2="463.2" stroke="#000" stroke-width="0.65" opacity="0.27"/><line x1="602.31" y1="432.2" x2="602.31" y2="463.2" stroke="#000" stroke-width="1.08" opacity="0.3"/><line x1="604.58" y1="432.2" x2="604.58" y2="463.2" stroke="#000" stroke-width="0.83" opacity="0.28"/><line x1="609.47" y1="432.2" x2="609.47" y2="463.2" stroke="#000" stroke-width="0.64" opacity="0.28"/><line x1="612.94" y1="432.2" x2="612.94" y2="463.2" stroke="#000" stroke-width="0.52" opacity="0.29"/><line x1="616.3" y1="432.2" x2="616.3" y2="463.2" stroke="#000" stroke-width="1.04" opacity="0.16"/><line x1="618.56" y1="432.2" x2="618.56" y2="463.2" stroke="#000" stroke-width="0.54" opacity="0.47"/><line x1="622.41" y1="432.2" x2="622.41" y2="463.2" stroke="#000" stroke-width="1.02" opacity="0.46"/><line x1="626.04" y1="432.2" x2="626.04" y2="463.2" stroke="#000" stroke-width="0.69" opacity="0.49"/><line x1="629.99" y1="432.2" x2="629.99" y2="463.2" stroke="#000" stroke-width="0.68" opacity="0.4"/><line x1="633.01" y1="432.2" x2="633.01" y2="463.2" stroke="#000" stroke-width="0.69" opacity="0.15"/><line x1="637.21" y1="432.2" x2="637.21" y2="463.2" stroke="#000" stroke-width="1.14" opacity="0.37"/><line x1="641.01" y1="432.2" x2="641.01" y2="463.2" stroke="#000" stroke-width="0.52" opacity="0.23"/><line x1="643.76" y1="432.2" x2="643.76" y2="463.2" stroke="#000" stroke-width="1.17" opacity="0.48"/><line x1="647.12" y1="432.2" x2="647.12" y2="463.2" stroke="#000" stroke-width="0.68" opacity="0.3"/><line x1="650.79" y1="432.2" x2="650.79" y2="463.2" stroke="#000" stroke-width="1.15" opacity="0.21"/><line x1="654.78" y1="432.2" x2="654.78" y2="463.2" stroke="#000" stroke-width="1.02" opacity="0.44"/></g>
<path d="M535.8 443.4 L627.1 434.2 L657.8 436.2 L657.8 448.5 L628.1 455.6 L535.8 459.7Z" fill="none" stroke="#b8b8b8" stroke-width="0.5"/>
<line x1="627.1" y1="434.2" x2="628.1" y2="455.6" stroke="#b8b8b8" stroke-width="0.5"/>
<line x1="587.3" y1="438.21" x2="587.8" y2="457.39" stroke="#b8b8b8" stroke-width="0.4"/>
<line x1="535.8" y1="446.4" x2="627.1" y2="438.7" stroke="#b8b8b8" stroke-width="0.35"/>
<line x1="627.1" y1="438.7" x2="657.8" y2="437.2" stroke="#b8b8b8" stroke-width="0.35"/>
<line x1="535.8" y1="457.5" x2="628.1" y2="452.1" stroke="#b8b8b8" stroke-width="0.35" stroke-dasharray="0.5 1.6"/>
</g>
<text x="526.6" y="485.1" font-size="6.4" transform="rotate(-90 526.6 485.1)">PEG-ITP-Lip</text>
<g clip-path="url(#ck3)">
<rect x="531.8" y="467.3" width="131.3" height="34.3" fill="#020204"/>
<path d="M537.8 484.2 L646.5 475.9 L655.8 477.4 L655.8 484.3 L648.6 489.4 L537.8 493.5Z" fill="#4a1ca8" filter="url(#b2)" opacity="0.8"/>
<g filter="url(#b1)"><ellipse cx="628.35" cy="482.75" rx="1.26" ry="3.96" fill="#3a30ff" opacity="0.51"/><ellipse cx="629.41" cy="479.52" rx="1.08" ry="5.26" fill="#3a30ff" opacity="0.46"/><ellipse cx="549.05" cy="484.19" rx="1.57" ry="3.98" fill="#3a30ff" opacity="0.79"/><ellipse cx="640.75" cy="484.28" rx="1.17" ry="3.25" fill="#3a30ff" opacity="0.39"/><ellipse cx="597.63" cy="485.26" rx="1.43" ry="3.7" fill="#3a30ff" opacity="0.54"/><ellipse cx="611.27" cy="484.2" rx="1.85" ry="5.54" fill="#3a30ff" opacity="0.65"/><ellipse cx="555.37" cy="488.64" rx="1.21" ry="4.7" fill="#3a30ff" opacity="0.52"/><ellipse cx="624.46" cy="480.54" rx="1.15" ry="3.74" fill="#3a30ff" opacity="0.42"/><ellipse cx="640.83" cy="481.81" rx="1.26" ry="4.19" fill="#3a30ff" opacity="0.8"/><ellipse cx="598.62" cy="482.33" rx="1.93" ry="4.96" fill="#3a30ff" opacity="0.8"/><ellipse cx="553.26" cy="486.58" rx="1.95" ry="5.52" fill="#3a30ff" opacity="0.76"/><ellipse cx="546.32" cy="485.92" rx="0.97" ry="3.57" fill="#3a30ff" opacity="0.79"/><ellipse cx="607.12" cy="486" rx="1.32" ry="5.6" fill="#3a30ff" opacity="0.55"/><ellipse cx="570.91" cy="487.31" rx="2.12" ry="3.32" fill="#3a30ff" opacity="0.62"/><ellipse cx="611.23" cy="481.47" rx="1.32" ry="3.42" fill="#3a30ff" opacity="0.44"/><ellipse cx="570.35" cy="486.27" rx="1.71" ry="3.61" fill="#3a30ff" opacity="0.36"/><ellipse cx="578.45" cy="486.25" rx="1.06" ry="3.94" fill="#3a30ff" opacity="0.44"/><ellipse cx="630.87" cy="482.24" rx="0.89" ry="3.3" fill="#3a30ff" opacity="0.53"/><ellipse cx="603.42" cy="484.48" rx="0.93" ry="3.49" fill="#3a30ff" opacity="0.66"/><ellipse cx="587.7" cy="483.31" rx="1.23" ry="5.86" fill="#3a30ff" opacity="0.49"/><ellipse cx="605.25" cy="482.67" rx="1.38" ry="5.59" fill="#3a30ff" opacity="0.8"/><ellipse cx="582.54" cy="483.11" rx="1.82" ry="3.61" fill="#3a30ff" opacity="0.35"/><ellipse cx="642.78" cy="480.77" rx="1.95" ry="4.22" fill="#3a30ff" opacity="0.75"/><ellipse cx="593.42" cy="482.23" rx="0.82" ry="4.65" fill="#3a30ff" opacity="0.64"/><ellipse cx="643.7" cy="478.7" rx="1.67" ry="4.11" fill="#3a30ff" opacity="0.58"/><ellipse cx="558.14" cy="485.13" rx="1.53" ry="5.78" fill="#3a30ff" opacity="0.4"/><ellipse cx="596.78" cy="486.38" rx="2.35" ry="2.99" fill="#ff2060" opacity="0.51"/><ellipse cx="645.65" cy="484.4" rx="1.57" ry="2.63" fill="#ff2060" opacity="0.87"/><ellipse cx="585.69" cy="487.66" rx="1.79" ry="4.56" fill="#ff2060" opacity="0.52"/><ellipse cx="628.67" cy="480.92" rx="1.45" ry="4.62" fill="#ff2060" opacity="0.82"/><ellipse cx="563.56" cy="484.9" rx="1.44" ry="3.79" fill="#ff2060" opacity="0.62"/><ellipse cx="557.09" cy="485.47" rx="1.96" ry="4.74" fill="#ff2060" opacity="0.47"/><ellipse cx="604.53" cy="485.62" rx="0.86" ry="4.6" fill="#ff2060" opacity="0.5"/><ellipse cx="608.55" cy="484.13" rx="1.8" ry="3.27" fill="#ff2060" opacity="0.64"/><ellipse cx="606.72" cy="483.49" rx="1.85" ry="3.62" fill="#ff2060" opacity="0.65"/><ellipse cx="546.32" cy="488.37" rx="1.58" ry="3.09" fill="#ff2060" opacity="0.79"/><ellipse cx="628.04" cy="482.38" rx="1.09" ry="3.68" fill="#ff2060" opacity="0.5"/><ellipse cx="557.67" cy="486.54" rx="0.95" ry="3.6" fill="#ff2060" opacity="0.68"/><ellipse cx="548.2" cy="488.36" rx="0.93" ry="4.33" fill="#ff2060" opacity="0.8"/><ellipse cx="599.04" cy="481.74" rx="1.61" ry="3.44" fill="#ff2060" opacity="0.88"/><ellipse cx="558.51" cy="489.05" rx="2.39" ry="4.33" fill="#ff2060" opacity="0.82"/><ellipse cx="564.72" cy="489.41" rx="1.59" ry="4.89" fill="#ff2060" opacity="0.86"/></g>
<g filter="url(#b05)"><line x1="538.26" y1="469.3" x2="538.26" y2="500.3" stroke="#000" stroke-width="1.05" opacity="0.48"/><line x1="541.6" y1="469.3" x2="541.6" y2="500.3" stroke="#000" stroke-width="0.75" opacity="0.41"/><line x1="545.25" y1="469.3" x2="545.25" y2="500.3" stroke="#000" stroke-width="1.13" opacity="0.25"/><line x1="549.81" y1="469.3" x2="549.81" y2="500.3" stroke="#000" stroke-width="0.6" opacity="0.33"/><line x1="553.47" y1="469.3" x2="553.47" y2="500.3" stroke="#000" stroke-width="0.65" opacity="0.24"/><line x1="556.31" y1="469.3" x2="556.31" y2="500.3" stroke="#000" stroke-width="0.72" opacity="0.16"/><line x1="559.29" y1="469.3" x2="559.29" y2="500.3" stroke="#000" stroke-width="0.61" opacity="0.48"/><line x1="563.59" y1="469.3" x2="563.59" y2="500.3" stroke="#000" stroke-width="1.13" opacity="0.21"/><line x1="567.26" y1="469.3" x2="567.26" y2="500.3" stroke="#000" stroke-width="0.58" opacity="0.34"/><line x1="570.52" y1="469.3" x2="570.52" y2="500.3" stroke="#000" stroke-width="0.75" opacity="0.46"/><line x1="573.89" y1="469.3" x2="573.89" y2="500.3" stroke="#000" stroke-width="0.91" opacity="0.46"/><line x1="576.67" y1="469.3" x2="576.67" y2="500.3" stroke="#000" stroke-width="1.2" opacity="0.37"/><line x1="580.63" y1="469.3" x2="580.63" y2="500.3" stroke="#000" stroke-width="1.06" opacity="0.24"/><line x1="585.08" y1="469.3" x2="585.08" y2="500.3" stroke="#000" stroke-width="0.9" opacity="0.28"/><line x1="588.22" y1="469.3" x2="588.22" y2="500.3" stroke="#000" stroke-width="0.81" opacity="0.21"/><line x1="591.69" y1="469.3" x2="591.69" y2="500.3" stroke="#000" stroke-width="0.53" opacity="0.44"/><line x1="594.41" y1="469.3" x2="594.41" y2="500.3" stroke="#000" stroke-width="0.95" opacity="0.49"/><line x1="598.44" y1="469.3" x2="598.44" y2="500.3" stroke="#000" stroke-width="0.96" opacity="0.26"/><line x1="601" y1="469.3" x2="601" y2="500.3" stroke="#000" stroke-width="0.52" opacity="0.2"/><line x1="605.49" y1="469.3" x2="605.49" y2="500.3" stroke="#000" stroke-width="0.8" opacity="0.33"/><line x1="609.43" y1="469.3" x2="609.43" y2="500.3" stroke="#000" stroke-width="0.59" opacity="0.23"/><line x1="612.54" y1="469.3" x2="612.54" y2="500.3" stroke="#000" stroke-width="0.52" opacity="0.15"/><line x1="615.57" y1="469.3" x2="615.57" y2="500.3" stroke="#000" stroke-width="0.57" opacity="0.28"/><line x1="618.86" y1="469.3" x2="618.86" y2="500.3" stroke="#000" stroke-width="0.91" opacity="0.36"/><line x1="622.33" y1="469.3" x2="622.33" y2="500.3" stroke="#000" stroke-width="0.94" opacity="0.32"/><line x1="625.72" y1="469.3" x2="625.72" y2="500.3" stroke="#000" stroke-width="1.16" opacity="0.24"/><line x1="629.24" y1="469.3" x2="629.24" y2="500.3" stroke="#000" stroke-width="0.57" opacity="0.37"/><line x1="633.89" y1="469.3" x2="633.89" y2="500.3" stroke="#000" stroke-width="1.05" opacity="0.29"/><line x1="636.42" y1="469.3" x2="636.42" y2="500.3" stroke="#000" stroke-width="0.51" opacity="0.38"/><line x1="640.4" y1="469.3" x2="640.4" y2="500.3" stroke="#000" stroke-width="0.75" opacity="0.38"/><line x1="643.71" y1="469.3" x2="643.71" y2="500.3" stroke="#000" stroke-width="1.16" opacity="0.41"/><line x1="646.9" y1="469.3" x2="646.9" y2="500.3" stroke="#000" stroke-width="1.13" opacity="0.17"/><line x1="650.85" y1="469.3" x2="650.85" y2="500.3" stroke="#000" stroke-width="0.78" opacity="0.23"/><line x1="653.59" y1="469.3" x2="653.59" y2="500.3" stroke="#000" stroke-width="1.05" opacity="0.15"/></g>
<path d="M535.8 480.2 L646.5 471.4 L657.8 473.4 L657.8 487.3 L648.6 493.4 L535.8 497.5Z" fill="none" stroke="#b8b8b8" stroke-width="0.5"/>
<line x1="646.5" y1="471.4" x2="648.6" y2="493.4" stroke="#b8b8b8" stroke-width="0.5"/>
<line x1="577" y1="476.92" x2="577.5" y2="495.97" stroke="#b8b8b8" stroke-width="0.4"/>
<line x1="535.8" y1="483.2" x2="646.5" y2="475.9" stroke="#b8b8b8" stroke-width="0.35"/>
<line x1="646.5" y1="475.9" x2="657.8" y2="474.4" stroke="#b8b8b8" stroke-width="0.35"/>
<line x1="535.8" y1="495.3" x2="648.6" y2="489.9" stroke="#b8b8b8" stroke-width="0.35" stroke-dasharray="0.5 1.6"/>
</g>
</g>
<g id="p-l">
<text x="501.8" y="526.2" font-size="19.5" font-weight="normal" text-anchor="start" stroke="#000" stroke-width="0.15">l</text>
<line x1="544.1" y1="522.3" x2="544.1" y2="616.6" stroke="#3a3a3a" stroke-width="1"/>
<line x1="543.6" y1="616.1" x2="661.7" y2="616.1" stroke="#3a3a3a" stroke-width="1"/>
<line x1="541.1" y1="616.1" x2="544.1" y2="616.1" stroke="#000" stroke-width="0.9"/>
<text x="540.3" y="618.4" font-size="6.4" text-anchor="end">0</text>
<line x1="541.1" y1="592.77" x2="544.1" y2="592.77" stroke="#000" stroke-width="0.9"/>
<text x="540.3" y="595.07" font-size="6.4" text-anchor="end">5</text>
<line x1="541.1" y1="569.45" x2="544.1" y2="569.45" stroke="#000" stroke-width="0.9"/>
<text x="540.3" y="571.75" font-size="6.4" text-anchor="end">10</text>
<line x1="541.1" y1="546.12" x2="544.1" y2="546.12" stroke="#000" stroke-width="0.9"/>
<text x="540.3" y="548.42" font-size="6.4" text-anchor="end">15</text>
<line x1="541.1" y1="522.8" x2="544.1" y2="522.8" stroke="#000" stroke-width="0.9"/>
<text x="540.3" y="525.1" font-size="6.4" text-anchor="end">20</text>
<line x1="544.1" y1="616.1" x2="544.1" y2="619.1" stroke="#000" stroke-width="0.9"/>
<text x="544.1" y="626.7" font-size="6.4">0</text>
<line x1="570.22" y1="616.1" x2="570.22" y2="619.1" stroke="#000" stroke-width="0.9"/>
<text x="570.22" y="626.7" font-size="6.4">2</text>
<line x1="596.34" y1="616.1" x2="596.34" y2="619.1" stroke="#000" stroke-width="0.9"/>
<text x="596.34" y="626.7" font-size="6.4">4</text>
<line x1="622.46" y1="616.1" x2="622.46" y2="619.1" stroke="#000" stroke-width="0.9"/>
<text x="622.46" y="626.7" font-size="6.4">6</text>
<line x1="648.58" y1="616.1" x2="648.58" y2="619.1" stroke="#000" stroke-width="0.9"/>
<text x="648.58" y="626.7" font-size="6.4">8</text>
<text x="603" y="636" font-size="6.6">Time (h)</text>
<text x="529" y="568.3" font-size="6.5" transform="rotate(-90 529 568.3)">Cumulative penetration of DiD (%)</text>
<path d="M544.1 616.1 L550.63 614.7 L557.16 612.37 L570.22 610.04 L596.34 607.24 L648.58 603.04" fill="none" stroke="#2222ee" stroke-width="1"/>
<path d="M544.1 614.6 L545.6 616.1 L544.1 617.6 L542.6 616.1Z" fill="#2222ee" stroke="#2222ee" stroke-width="0.5"/>
<line x1="550.63" y1="614.23" x2="550.63" y2="615.17" stroke="#2222ee" stroke-width="0.7"/><line x1="549.43" y1="614.23" x2="551.83" y2="614.23" stroke="#2222ee" stroke-width="0.7"/><line x1="549.43" y1="615.17" x2="551.83" y2="615.17" stroke="#2222ee" stroke-width="0.7"/>
<path d="M550.63 613.2 L552.13 614.7 L550.63 616.2 L549.13 614.7Z" fill="#2222ee" stroke="#2222ee" stroke-width="0.5"/>
<line x1="557.16" y1="611.9" x2="557.16" y2="612.83" stroke="#2222ee" stroke-width="0.7"/><line x1="555.96" y1="611.9" x2="558.36" y2="611.9" stroke="#2222ee" stroke-width="0.7"/><line x1="555.96" y1="612.83" x2="558.36" y2="612.83" stroke="#2222ee" stroke-width="0.7"/>
<path d="M557.16 610.87 L558.66 612.37 L557.16 613.87 L555.66 612.37Z" fill="#2222ee" stroke="#2222ee" stroke-width="0.5"/>
<line x1="570.22" y1="609.57" x2="570.22" y2="610.5" stroke="#2222ee" stroke-width="0.7"/><line x1="569.02" y1="609.57" x2="571.42" y2="609.57" stroke="#2222ee" stroke-width="0.7"/><line x1="569.02" y1="610.5" x2="571.42" y2="610.5" stroke="#2222ee" stroke-width="0.7"/>
<path d="M570.22 608.54 L571.72 610.04 L570.22 611.54 L568.72 610.04Z" fill="#2222ee" stroke="#2222ee" stroke-width="0.5"/>
<line x1="596.34" y1="606.54" x2="596.34" y2="607.94" stroke="#2222ee" stroke-width="0.7"/><line x1="595.14" y1="606.54" x2="597.54" y2="606.54" stroke="#2222ee" stroke-width="0.7"/><line x1="595.14" y1="607.94" x2="597.54" y2="607.94" stroke="#2222ee" stroke-width="0.7"/>
<path d="M596.34 605.74 L597.84 607.24 L596.34 608.74 L594.84 607.24Z" fill="#2222ee" stroke="#2222ee" stroke-width="0.5"/>
<line x1="648.58" y1="602.34" x2="648.58" y2="603.74" stroke="#2222ee" stroke-width="0.7"/><line x1="647.38" y1="602.34" x2="649.78" y2="602.34" stroke="#2222ee" stroke-width="0.7"/><line x1="647.38" y1="603.74" x2="649.78" y2="603.74" stroke="#2222ee" stroke-width="0.7"/>
<path d="M648.58 601.54 L650.08 603.04 L648.58 604.54 L647.08 603.04Z" fill="#2222ee" stroke="#2222ee" stroke-width="0.5"/>
<path d="M544.1 616.1 L550.63 614.23 L557.16 610.97 L570.22 606.3 L596.34 601.64 L648.58 597.44" fill="none" stroke="#f23030" stroke-width="1"/>
<circle cx="544.1" cy="616.1" r="1.3" fill="#f23030" stroke="#f23030" stroke-width="0.5"/>
<line x1="550.63" y1="613.77" x2="550.63" y2="614.7" stroke="#f23030" stroke-width="0.7"/><line x1="549.43" y1="613.77" x2="551.83" y2="613.77" stroke="#f23030" stroke-width="0.7"/><line x1="549.43" y1="614.7" x2="551.83" y2="614.7" stroke="#f23030" stroke-width="0.7"/>
<circle cx="550.63" cy="614.23" r="1.3" fill="#f23030" stroke="#f23030" stroke-width="0.5"/>
<line x1="557.16" y1="610.04" x2="557.16" y2="611.9" stroke="#f23030" stroke-width="0.7"/><line x1="555.96" y1="610.04" x2="558.36" y2="610.04" stroke="#f23030" stroke-width="0.7"/><line x1="555.96" y1="611.9" x2="558.36" y2="611.9" stroke="#f23030" stroke-width="0.7"/>
<circle cx="557.16" cy="610.97" r="1.3" fill="#f23030" stroke="#f23030" stroke-width="0.5"/>
<line x1="570.22" y1="605.37" x2="570.22" y2="607.24" stroke="#f23030" stroke-width="0.7"/><line x1="569.02" y1="605.37" x2="571.42" y2="605.37" stroke="#f23030" stroke-width="0.7"/><line x1="569.02" y1="607.24" x2="571.42" y2="607.24" stroke="#f23030" stroke-width="0.7"/>
<circle cx="570.22" cy="606.3" r="1.3" fill="#f23030" stroke="#f23030" stroke-width="0.5"/>
<line x1="596.34" y1="600.47" x2="596.34" y2="602.8" stroke="#f23030" stroke-width="0.7"/><line x1="595.14" y1="600.47" x2="597.54" y2="600.47" stroke="#f23030" stroke-width="0.7"/><line x1="595.14" y1="602.8" x2="597.54" y2="602.8" stroke="#f23030" stroke-width="0.7"/>
<circle cx="596.34" cy="601.64" r="1.3" fill="#f23030" stroke="#f23030" stroke-width="0.5"/>
<line x1="648.58" y1="596.04" x2="648.58" y2="598.84" stroke="#f23030" stroke-width="0.7"/><line x1="647.38" y1="596.04" x2="649.78" y2="596.04" stroke="#f23030" stroke-width="0.7"/><line x1="647.38" y1="598.84" x2="649.78" y2="598.84" stroke="#f23030" stroke-width="0.7"/>
<circle cx="648.58" cy="597.44" r="1.3" fill="#f23030" stroke="#f23030" stroke-width="0.5"/>
<path d="M544.1 616.1 L550.63 606.77 L557.16 597.44 L570.22 586.24 L596.34 574.12 L648.58 561.05" fill="none" stroke="#a0703c" stroke-width="1"/>
<path d="M544.1 617.7 L545.54 614.98 L542.66 614.98Z" fill="#a0703c" stroke="#a0703c" stroke-width="0.5"/>
<line x1="550.63" y1="604.9" x2="550.63" y2="608.64" stroke="#a0703c" stroke-width="0.7"/><line x1="549.43" y1="604.9" x2="551.83" y2="604.9" stroke="#a0703c" stroke-width="0.7"/><line x1="549.43" y1="608.64" x2="551.83" y2="608.64" stroke="#a0703c" stroke-width="0.7"/>
<path d="M550.63 608.37 L552.07 605.65 L549.19 605.65Z" fill="#a0703c" stroke="#a0703c" stroke-width="0.5"/>
<line x1="557.16" y1="594.64" x2="557.16" y2="600.24" stroke="#a0703c" stroke-width="0.7"/><line x1="555.96" y1="594.64" x2="558.36" y2="594.64" stroke="#a0703c" stroke-width="0.7"/><line x1="555.96" y1="600.24" x2="558.36" y2="600.24" stroke="#a0703c" stroke-width="0.7"/>
<path d="M557.16 599.04 L558.6 596.32 L555.72 596.32Z" fill="#a0703c" stroke="#a0703c" stroke-width="0.5"/>
<line x1="570.22" y1="582.05" x2="570.22" y2="590.44" stroke="#a0703c" stroke-width="0.7"/><line x1="569.02" y1="582.05" x2="571.42" y2="582.05" stroke="#a0703c" stroke-width="0.7"/><line x1="569.02" y1="590.44" x2="571.42" y2="590.44" stroke="#a0703c" stroke-width="0.7"/>
<path d="M570.22 587.84 L571.66 585.12 L568.78 585.12Z" fill="#a0703c" stroke="#a0703c" stroke-width="0.5"/>
<line x1="596.34" y1="569.92" x2="596.34" y2="578.31" stroke="#a0703c" stroke-width="0.7"/><line x1="595.14" y1="569.92" x2="597.54" y2="569.92" stroke="#a0703c" stroke-width="0.7"/><line x1="595.14" y1="578.31" x2="597.54" y2="578.31" stroke="#a0703c" stroke-width="0.7"/>
<path d="M596.34 575.72 L597.78 573 L594.9 573Z" fill="#a0703c" stroke="#a0703c" stroke-width="0.5"/>
<line x1="648.58" y1="556.39" x2="648.58" y2="565.72" stroke="#a0703c" stroke-width="0.7"/><line x1="647.38" y1="556.39" x2="649.78" y2="556.39" stroke="#a0703c" stroke-width="0.7"/><line x1="647.38" y1="565.72" x2="649.78" y2="565.72" stroke="#a0703c" stroke-width="0.7"/>
<path d="M648.58 562.65 L650.02 559.93 L647.14 559.93Z" fill="#a0703c" stroke="#a0703c" stroke-width="0.5"/>
<path d="M544.1 616.1 L550.63 604.44 L557.16 592.77 L570.22 577.38 L596.34 561.05 L648.58 541.46" fill="none" stroke="#3fe03f" stroke-width="1"/>
<rect x="543" y="615" width="2.2" height="2.2" fill="none" stroke="#3fe03f" stroke-width="0.8"/>
<line x1="550.63" y1="602.57" x2="550.63" y2="606.3" stroke="#3fe03f" stroke-width="0.7"/><line x1="549.43" y1="602.57" x2="551.83" y2="602.57" stroke="#3fe03f" stroke-width="0.7"/><line x1="549.43" y1="606.3" x2="551.83" y2="606.3" stroke="#3fe03f" stroke-width="0.7"/>
<rect x="549.53" y="603.34" width="2.2" height="2.2" fill="none" stroke="#3fe03f" stroke-width="0.8"/>
<line x1="557.16" y1="590.91" x2="557.16" y2="594.64" stroke="#3fe03f" stroke-width="0.7"/><line x1="555.96" y1="590.91" x2="558.36" y2="590.91" stroke="#3fe03f" stroke-width="0.7"/><line x1="555.96" y1="594.64" x2="558.36" y2="594.64" stroke="#3fe03f" stroke-width="0.7"/>
<rect x="556.06" y="591.67" width="2.2" height="2.2" fill="none" stroke="#3fe03f" stroke-width="0.8"/>
<line x1="570.22" y1="575.98" x2="570.22" y2="578.78" stroke="#3fe03f" stroke-width="0.7"/><line x1="569.02" y1="575.98" x2="571.42" y2="575.98" stroke="#3fe03f" stroke-width="0.7"/><line x1="569.02" y1="578.78" x2="571.42" y2="578.78" stroke="#3fe03f" stroke-width="0.7"/>
<rect x="569.12" y="576.28" width="2.2" height="2.2" fill="none" stroke="#3fe03f" stroke-width="0.8"/>
<line x1="596.34" y1="559.19" x2="596.34" y2="562.92" stroke="#3fe03f" stroke-width="0.7"/><line x1="595.14" y1="559.19" x2="597.54" y2="559.19" stroke="#3fe03f" stroke-width="0.7"/><line x1="595.14" y1="562.92" x2="597.54" y2="562.92" stroke="#3fe03f" stroke-width="0.7"/>
<rect x="595.24" y="559.95" width="2.2" height="2.2" fill="none" stroke="#3fe03f" stroke-width="0.8"/>
<line x1="648.58" y1="538.19" x2="648.58" y2="544.73" stroke="#3fe03f" stroke-width="0.7"/><line x1="647.38" y1="538.19" x2="649.78" y2="538.19" stroke="#3fe03f" stroke-width="0.7"/><line x1="647.38" y1="544.73" x2="649.78" y2="544.73" stroke="#3fe03f" stroke-width="0.7"/>
<rect x="647.48" y="540.36" width="2.2" height="2.2" fill="none" stroke="#3fe03f" stroke-width="0.8"/>
<line x1="559.2" y1="525" x2="567.6" y2="525" stroke="#f23030" stroke-width="1"/>
<circle cx="563.4" cy="525" r="1.3" fill="#f23030" stroke="#f23030" stroke-width="0.5"/>
<text x="571.7" y="526.9" font-size="5.3" text-anchor="start" fill="#222">Lip</text>
<line x1="601" y1="525" x2="609.4" y2="525" stroke="#3fe03f" stroke-width="1"/>
<rect x="604.1" y="523.9" width="2.2" height="2.2" fill="none" stroke="#3fe03f" stroke-width="0.8"/>
<text x="613.8" y="526.9" font-size="5.3" text-anchor="start" fill="#222">ITP-Lip</text>
<line x1="559.2" y1="535.6" x2="567.6" y2="535.6" stroke="#2222ee" stroke-width="1"/>
<path d="M563.4 534.1 L564.9 535.6 L563.4 537.1 L561.9 535.6Z" fill="#2222ee" stroke="#2222ee" stroke-width="0.5"/>
<text x="571.7" y="537.5" font-size="5.3" text-anchor="start" fill="#222">PEG-Lip</text>
<line x1="601" y1="535.6" x2="609.4" y2="535.6" stroke="#a0703c" stroke-width="1"/>
<path d="M605.2 537.2 L606.64 534.48 L603.76 534.48Z" fill="#a0703c" stroke="#a0703c" stroke-width="0.5"/>
<text x="613.8" y="537.5" font-size="5.3" text-anchor="start" fill="#222">PEG-ITP-Lip</text>
</g>
<g id="p-m">
<text x="6.9" y="523.5" font-size="20.6" font-weight="normal" text-anchor="start" stroke="#000" stroke-width="0.15">m</text>
<text x="94.4" y="529.1" font-size="8.2">1 h</text>
<text x="187" y="529.1" font-size="8.2">4 h</text>
<text x="281.1" y="529.1" font-size="8.2">8 h</text>
<text x="371.1" y="529.1" font-size="8.2">12 h</text>
<text x="46.8" y="546.4" font-size="7.9" text-anchor="end" transform="rotate(-30 46.8 546.4)">Lip</text>
<rect x="50" y="532.2" width="88.8" height="24.4" fill="#2b2b2b"/>
<g filter="url(#b05)"><ellipse cx="60.7" cy="544.53" rx="5.8" ry="6.5" fill="#444444"/><ellipse cx="60.7" cy="544.53" rx="6.2" ry="6.9" fill="#2a14f4"/><ellipse cx="60.94" cy="546.4" rx="2.25" ry="2.5" fill="#28c8ff"/><ellipse cx="94.3" cy="544.55" rx="5.8" ry="6.5" fill="#444444"/><ellipse cx="94.3" cy="544.55" rx="6.2" ry="6.9" fill="#2a14f4"/><ellipse cx="94.33" cy="544.9" rx="2.63" ry="2.93" fill="#28c8ff"/><ellipse cx="128.6" cy="544.16" rx="5.8" ry="6.5" fill="#444444"/><ellipse cx="128.6" cy="544.16" rx="6.2" ry="6.9" fill="#2a14f4"/><ellipse cx="128.65" cy="544.76" rx="2.03" ry="2.26" fill="#28c8ff"/></g>
<rect x="142.8" y="532.2" width="88.8" height="24.4" fill="#2b2b2b"/>
<g filter="url(#b05)"><ellipse cx="154.6" cy="545.01" rx="5.8" ry="6.5" fill="#444444"/><ellipse cx="154.6" cy="545.01" rx="6.2" ry="6.9" fill="#2a14f4"/><ellipse cx="152.29" cy="543.76" rx="0.5" ry="0.55" fill="#28c8ff"/><ellipse cx="185.8" cy="544.03" rx="5.8" ry="6.5" fill="#444444"/><ellipse cx="185.8" cy="544.03" rx="6.2" ry="6.9" fill="#2a14f4"/><ellipse cx="187.34" cy="545.1" rx="1.23" ry="1.36" fill="#28c8ff"/><ellipse cx="220.1" cy="543.96" rx="5.8" ry="6.5" fill="#444444"/><ellipse cx="220.1" cy="543.96" rx="2.99" ry="3.33" fill="#4c20ee" opacity="0.85"/></g>
<rect x="235.2" y="532.2" width="88.8" height="24.4" fill="#2b2b2b"/>
<g filter="url(#b05)"><ellipse cx="245.3" cy="544.82" rx="5.8" ry="6.5" fill="#444444"/><ellipse cx="245.3" cy="544.82" rx="2.5" ry="2.79" fill="#4c20ee" opacity="0.85"/><ellipse cx="280.5" cy="543.92" rx="5.8" ry="6.5" fill="#444444"/><ellipse cx="280.5" cy="543.92" rx="3.96" ry="4.4" fill="#4c20ee" opacity="0.85"/><ellipse cx="315.1" cy="544.17" rx="5.8" ry="6.5" fill="#444444"/><ellipse cx="315.1" cy="544.17" rx="3.96" ry="4.4" fill="#4c20ee" opacity="0.85"/></g>
<rect x="327.6" y="532.2" width="88.8" height="24.4" fill="#2b2b2b"/>
<g filter="url(#b05)"><ellipse cx="337" cy="544.55" rx="5.8" ry="6.5" fill="#444444"/><ellipse cx="337" cy="544.55" rx="2.67" ry="2.97" fill="#4c20ee" opacity="0.85"/><ellipse cx="371.4" cy="544.63" rx="5.8" ry="6.5" fill="#444444"/><ellipse cx="407.6" cy="544.83" rx="5.8" ry="6.5" fill="#444444"/><ellipse cx="407.6" cy="544.83" rx="3.63" ry="4.04" fill="#4c20ee" opacity="0.85"/></g>
<text x="46.8" y="575.7" font-size="7.9" text-anchor="end" transform="rotate(-30 46.8 575.7)">ITP-Lip</text>
<rect x="50" y="560" width="88.8" height="24.4" fill="#2b2b2b"/>
<g filter="url(#b05)"><ellipse cx="60.7" cy="573.1" rx="5.8" ry="6.5" fill="#444444"/><ellipse cx="60.7" cy="573.1" rx="6.2" ry="6.9" fill="#2a14f4"/><ellipse cx="60.89" cy="573.24" rx="5.82" ry="6.48" fill="#28c8ff"/><ellipse cx="61.16" cy="573.45" rx="5.28" ry="5.88" fill="#3cf03c"/><ellipse cx="61.52" cy="573.73" rx="4.54" ry="5.05" fill="#f4f020"/><ellipse cx="62.05" cy="574.13" rx="3.47" ry="3.87" fill="#ff2410"/><ellipse cx="94.3" cy="572.69" rx="5.8" ry="6.5" fill="#444444"/><ellipse cx="94.3" cy="572.69" rx="6.2" ry="6.9" fill="#2a14f4"/><ellipse cx="94.23" cy="572.58" rx="5.82" ry="6.48" fill="#28c8ff"/><ellipse cx="94.13" cy="572.41" rx="5.28" ry="5.88" fill="#3cf03c"/><ellipse cx="93.99" cy="572.19" rx="4.54" ry="5.05" fill="#f4f020"/><ellipse cx="93.8" cy="571.87" rx="3.47" ry="3.87" fill="#ff2410"/><ellipse cx="128.6" cy="572.1" rx="5.8" ry="6.5" fill="#444444"/><ellipse cx="128.6" cy="572.1" rx="6.2" ry="6.9" fill="#2a14f4"/><ellipse cx="127.91" cy="572.58" rx="4.59" ry="5.1" fill="#28c8ff"/><ellipse cx="126.84" cy="573.32" rx="2.11" ry="2.35" fill="#3cf03c"/></g>
<rect x="142.8" y="560" width="88.8" height="24.4" fill="#2b2b2b"/>
<g filter="url(#b05)"><ellipse cx="154.6" cy="572.26" rx="5.8" ry="6.5" fill="#444444"/><ellipse cx="154.6" cy="572.26" rx="6.2" ry="6.9" fill="#2a14f4"/><ellipse cx="154.95" cy="572.13" rx="5.18" ry="5.76" fill="#28c8ff"/><ellipse cx="155.48" cy="571.94" rx="3.67" ry="4.08" fill="#3cf03c"/><ellipse cx="156.34" cy="571.63" rx="1.19" ry="1.32" fill="#f4f020"/><ellipse cx="185.8" cy="573.04" rx="5.8" ry="6.5" fill="#444444"/><ellipse cx="185.8" cy="573.04" rx="6.2" ry="6.9" fill="#2a14f4"/><ellipse cx="185.94" cy="572.81" rx="5.79" ry="6.44" fill="#28c8ff"/><ellipse cx="186.15" cy="572.49" rx="5.2" ry="5.79" fill="#3cf03c"/><ellipse cx="186.43" cy="572.03" rx="4.39" ry="4.88" fill="#f4f020"/><ellipse cx="186.84" cy="571.38" rx="3.2" ry="3.56" fill="#ff2410"/><ellipse cx="220.1" cy="571.99" rx="5.8" ry="6.5" fill="#444444"/><ellipse cx="220.1" cy="571.99" rx="6.2" ry="6.9" fill="#2a14f4"/><ellipse cx="220.44" cy="571.97" rx="5.37" ry="5.98" fill="#28c8ff"/><ellipse cx="220.94" cy="571.93" rx="4.16" ry="4.63" fill="#3cf03c"/><ellipse cx="221.68" cy="571.86" rx="2.34" ry="2.61" fill="#f4f020"/></g>
<rect x="235.2" y="560" width="88.8" height="24.4" fill="#2b2b2b"/>
<g filter="url(#b05)"><ellipse cx="245.3" cy="573.07" rx="5.8" ry="6.5" fill="#444444"/><ellipse cx="245.3" cy="573.07" rx="6.2" ry="6.9" fill="#2a14f4"/><ellipse cx="245.08" cy="572.07" rx="4.1" ry="4.56" fill="#28c8ff"/><ellipse cx="244.73" cy="570.44" rx="0.67" ry="0.74" fill="#3cf03c"/><ellipse cx="280.5" cy="572.58" rx="5.8" ry="6.5" fill="#444444"/><ellipse cx="280.5" cy="572.58" rx="6.2" ry="6.9" fill="#2a14f4"/><ellipse cx="281.08" cy="572.04" rx="4.1" ry="4.56" fill="#28c8ff"/><ellipse cx="282.04" cy="571.16" rx="0.67" ry="0.74" fill="#3cf03c"/><ellipse cx="315.1" cy="571.82" rx="5.8" ry="6.5" fill="#444444"/><ellipse cx="315.1" cy="571.82" rx="6.2" ry="6.9" fill="#2a14f4"/><ellipse cx="314.21" cy="574.57" rx="0.89" ry="0.99" fill="#28c8ff"/></g>
<rect x="327.6" y="560" width="88.8" height="24.4" fill="#2b2b2b"/>
<g filter="url(#b05)"><ellipse cx="337" cy="572.76" rx="5.8" ry="6.5" fill="#444444"/><ellipse cx="337" cy="572.76" rx="3.63" ry="4.04" fill="#4c20ee" opacity="0.85"/><ellipse cx="371.4" cy="571.84" rx="5.8" ry="6.5" fill="#444444"/><ellipse cx="371.4" cy="571.84" rx="6.2" ry="6.9" fill="#2a14f4"/><ellipse cx="370.15" cy="572.78" rx="3.35" ry="3.73" fill="#28c8ff"/><ellipse cx="407.6" cy="571.95" rx="5.8" ry="6.5" fill="#444444"/><ellipse cx="407.6" cy="571.95" rx="3.63" ry="4.04" fill="#4c20ee" opacity="0.85"/></g>
<text x="46.8" y="601.1" font-size="7.9" text-anchor="end" transform="rotate(-30 46.8 601.1)">PEG-Lip</text>
<rect x="50" y="587.6" width="88.8" height="24.4" fill="#2b2b2b"/>
<g filter="url(#b05)"><ellipse cx="60.7" cy="599.57" rx="5.8" ry="6.5" fill="#444444"/><ellipse cx="60.7" cy="599.57" rx="6.2" ry="6.9" fill="#2a14f4"/><ellipse cx="61.49" cy="598.17" rx="2.8" ry="3.11" fill="#28c8ff"/><ellipse cx="94.3" cy="600.2" rx="5.8" ry="6.5" fill="#444444"/><ellipse cx="94.3" cy="600.2" rx="6.2" ry="6.9" fill="#2a14f4"/><ellipse cx="92.99" cy="599.9" rx="2.8" ry="3.11" fill="#28c8ff"/><ellipse cx="128.6" cy="599.6" rx="5.8" ry="6.5" fill="#444444"/><ellipse cx="128.6" cy="599.6" rx="6.2" ry="6.9" fill="#2a14f4"/><ellipse cx="127.45" cy="602.21" rx="1.23" ry="1.36" fill="#28c8ff"/></g>
<rect x="142.8" y="587.6" width="88.8" height="24.4" fill="#2b2b2b"/>
<g filter="url(#b05)"><ellipse cx="154.6" cy="600.42" rx="5.8" ry="6.5" fill="#444444"/><ellipse cx="154.6" cy="600.42" rx="6.2" ry="6.9" fill="#2a14f4"/><ellipse cx="153.78" cy="602.21" rx="2.03" ry="2.26" fill="#28c8ff"/><ellipse cx="185.8" cy="599.59" rx="5.8" ry="6.5" fill="#444444"/><ellipse cx="185.8" cy="599.59" rx="6.2" ry="6.9" fill="#2a14f4"/><ellipse cx="185.36" cy="601.24" rx="2.03" ry="2.26" fill="#28c8ff"/><ellipse cx="220.1" cy="600.2" rx="5.8" ry="6.5" fill="#444444"/><ellipse cx="220.1" cy="600.2" rx="3.96" ry="4.4" fill="#4c20ee" opacity="0.85"/></g>
<rect x="235.2" y="587.6" width="88.8" height="24.4" fill="#2b2b2b"/>
<g filter="url(#b05)"><ellipse cx="245.3" cy="599.6" rx="5.8" ry="6.5" fill="#444444"/><ellipse cx="245.3" cy="599.6" rx="3.47" ry="3.86" fill="#4c20ee" opacity="0.85"/><ellipse cx="280.5" cy="599.76" rx="5.8" ry="6.5" fill="#444444"/><ellipse cx="280.5" cy="599.76" rx="6.2" ry="6.9" fill="#2a14f4"/><ellipse cx="279.74" cy="597.98" rx="2.45" ry="2.72" fill="#28c8ff"/><ellipse cx="315.1" cy="599.43" rx="5.8" ry="6.5" fill="#444444"/><ellipse cx="315.1" cy="599.43" rx="3.96" ry="4.4" fill="#4c20ee" opacity="0.85"/></g>
<rect x="327.6" y="587.6" width="88.8" height="24.4" fill="#2b2b2b"/>
<g filter="url(#b05)"><ellipse cx="337" cy="600.14" rx="5.8" ry="6.5" fill="#444444"/><ellipse cx="337" cy="600.14" rx="3.47" ry="3.86" fill="#4c20ee" opacity="0.85"/><ellipse cx="371.4" cy="600.64" rx="5.8" ry="6.5" fill="#444444"/><ellipse cx="371.4" cy="600.64" rx="3.96" ry="4.4" fill="#4c20ee" opacity="0.85"/><ellipse cx="407.6" cy="600.51" rx="5.8" ry="6.5" fill="#444444"/><ellipse cx="407.6" cy="600.51" rx="3.63" ry="4.04" fill="#4c20ee" opacity="0.85"/></g>
<text x="46.8" y="625.9" font-size="7.9" text-anchor="end" transform="rotate(-32 46.8 625.9)">PEG-ITP-Lip</text>
<rect x="50" y="615.3" width="88.8" height="24.4" fill="#2b2b2b"/>
<g filter="url(#b05)"><ellipse cx="60.7" cy="628.27" rx="5.8" ry="6.5" fill="#444444"/><ellipse cx="60.7" cy="628.27" rx="6.2" ry="6.9" fill="#2a14f4"/><ellipse cx="60.82" cy="628.17" rx="5.82" ry="6.48" fill="#28c8ff"/><ellipse cx="60.99" cy="628.02" rx="5.28" ry="5.88" fill="#3cf03c"/><ellipse cx="61.23" cy="627.81" rx="4.54" ry="5.05" fill="#f4f020"/><ellipse cx="61.57" cy="627.51" rx="3.47" ry="3.87" fill="#ff2410"/><ellipse cx="94.3" cy="627.27" rx="5.8" ry="6.5" fill="#444444"/><ellipse cx="94.3" cy="627.27" rx="6.2" ry="6.9" fill="#2a14f4"/><ellipse cx="94.39" cy="627.45" rx="5.82" ry="6.48" fill="#28c8ff"/><ellipse cx="94.52" cy="627.72" rx="5.28" ry="5.88" fill="#3cf03c"/><ellipse cx="94.7" cy="628.08" rx="4.54" ry="5.05" fill="#f4f020"/><ellipse cx="94.95" cy="628.6" rx="3.47" ry="3.87" fill="#ff2410"/><ellipse cx="128.6" cy="627.28" rx="5.8" ry="6.5" fill="#444444"/><ellipse cx="128.6" cy="627.28" rx="6.2" ry="6.9" fill="#2a14f4"/><ellipse cx="128.81" cy="627.47" rx="5.73" ry="6.38" fill="#28c8ff"/><ellipse cx="129.12" cy="627.76" rx="5.06" ry="5.63" fill="#3cf03c"/><ellipse cx="129.54" cy="628.16" rx="4.12" ry="4.58" fill="#f4f020"/><ellipse cx="130.18" cy="628.77" rx="2.68" ry="2.99" fill="#ff2410"/></g>
<rect x="142.8" y="615.3" width="88.8" height="24.4" fill="#2b2b2b"/>
<g filter="url(#b05)"><ellipse cx="154.6" cy="627.84" rx="5.8" ry="6.5" fill="#444444"/><ellipse cx="154.6" cy="627.84" rx="6.2" ry="6.9" fill="#2a14f4"/><ellipse cx="154.56" cy="627.6" rx="5.65" ry="6.29" fill="#28c8ff"/><ellipse cx="154.49" cy="627.25" rx="4.86" ry="5.41" fill="#3cf03c"/><ellipse cx="154.41" cy="626.76" rx="3.74" ry="4.17" fill="#f4f020"/><ellipse cx="154.26" cy="625.94" rx="1.87" ry="2.08" fill="#ff2410"/><ellipse cx="185.8" cy="627.05" rx="5.8" ry="6.5" fill="#444444"/><ellipse cx="185.8" cy="627.05" rx="6.2" ry="6.9" fill="#2a14f4"/><ellipse cx="185.99" cy="626.93" rx="5.79" ry="6.44" fill="#28c8ff"/><ellipse cx="186.26" cy="626.76" rx="5.2" ry="5.79" fill="#3cf03c"/><ellipse cx="186.64" cy="626.53" rx="4.39" ry="4.88" fill="#f4f020"/><ellipse cx="187.19" cy="626.18" rx="3.2" ry="3.56" fill="#ff2410"/><ellipse cx="220.1" cy="627.99" rx="5.8" ry="6.5" fill="#444444"/><ellipse cx="220.1" cy="627.99" rx="6.2" ry="6.9" fill="#2a14f4"/><ellipse cx="219.85" cy="628.35" rx="5.18" ry="5.76" fill="#28c8ff"/><ellipse cx="219.49" cy="628.9" rx="3.67" ry="4.08" fill="#3cf03c"/><ellipse cx="218.88" cy="629.79" rx="1.19" ry="1.32" fill="#f4f020"/></g>
<rect x="235.2" y="615.3" width="88.8" height="24.4" fill="#2b2b2b"/>
<g filter="url(#b05)"><ellipse cx="245.3" cy="627.84" rx="5.8" ry="6.5" fill="#444444"/><ellipse cx="245.3" cy="627.84" rx="6.2" ry="6.9" fill="#2a14f4"/><ellipse cx="244.97" cy="627.25" rx="4.59" ry="5.1" fill="#28c8ff"/><ellipse cx="244.46" cy="626.36" rx="2.11" ry="2.35" fill="#3cf03c"/><ellipse cx="280.5" cy="628.01" rx="5.8" ry="6.5" fill="#444444"/><ellipse cx="280.5" cy="628.01" rx="6.2" ry="6.9" fill="#2a14f4"/><ellipse cx="280.3" cy="627.87" rx="5.73" ry="6.38" fill="#28c8ff"/><ellipse cx="280.01" cy="627.66" rx="5.06" ry="5.63" fill="#3cf03c"/><ellipse cx="279.6" cy="627.38" rx="4.12" ry="4.58" fill="#f4f020"/><ellipse cx="278.98" cy="626.95" rx="2.68" ry="2.99" fill="#ff2410"/><ellipse cx="315.1" cy="627.78" rx="5.8" ry="6.5" fill="#444444"/><ellipse cx="315.1" cy="627.78" rx="6.2" ry="6.9" fill="#2a14f4"/><ellipse cx="315.24" cy="627.84" rx="5.79" ry="6.44" fill="#28c8ff"/><ellipse cx="315.45" cy="627.91" rx="5.2" ry="5.79" fill="#3cf03c"/><ellipse cx="315.74" cy="628.01" rx="4.39" ry="4.88" fill="#f4f020"/><ellipse cx="316.16" cy="628.16" rx="3.2" ry="3.56" fill="#ff2410"/></g>
<rect x="327.6" y="615.3" width="88.8" height="24.4" fill="#2b2b2b"/>
<g filter="url(#b05)"><ellipse cx="337" cy="627.39" rx="5.8" ry="6.5" fill="#444444"/><ellipse cx="337" cy="627.39" rx="6.2" ry="6.9" fill="#2a14f4"/><ellipse cx="337.56" cy="626.95" rx="4.85" ry="5.4" fill="#28c8ff"/><ellipse cx="338.41" cy="626.28" rx="2.82" ry="3.14" fill="#3cf03c"/><ellipse cx="371.4" cy="627.02" rx="5.8" ry="6.5" fill="#444444"/><ellipse cx="371.4" cy="627.02" rx="6.2" ry="6.9" fill="#2a14f4"/><ellipse cx="371.31" cy="627" rx="5.82" ry="6.48" fill="#28c8ff"/><ellipse cx="371.19" cy="626.97" rx="5.28" ry="5.88" fill="#3cf03c"/><ellipse cx="371.02" cy="626.92" rx="4.54" ry="5.05" fill="#f4f020"/><ellipse cx="370.77" cy="626.86" rx="3.47" ry="3.87" fill="#ff2410"/><ellipse cx="407.6" cy="627.08" rx="5.8" ry="6.5" fill="#444444"/><ellipse cx="407.6" cy="627.08" rx="6.2" ry="6.9" fill="#2a14f4"/><ellipse cx="407.01" cy="626.82" rx="4.37" ry="4.86" fill="#28c8ff"/><ellipse cx="406.08" cy="626.4" rx="1.49" ry="1.66" fill="#3cf03c"/></g>
<rect x="421.5" y="531.9" width="4.7" height="96.4" fill="url(#rbM)"/>
<text x="427.7" y="537.6" font-size="7" text-anchor="start">8000</text>
<text x="427.7" y="628" font-size="7" text-anchor="start">1000</text>
<text x="418.2" y="639" font-size="7.2" text-anchor="start">Intensity</text>
</g>
<g id="p-n">
<text x="9.9" y="683.5" font-size="20.5" font-weight="normal" text-anchor="start" stroke="#000" stroke-width="0.15">n</text>
<text x="81.3" y="694.8" font-size="8.3">0.5 h</text>
<line x1="60.35" y1="700" x2="101.75" y2="700" stroke="#151515" stroke-width="1.5"/>
<text x="141.7" y="694.8" font-size="8.3">1 h</text>
<line x1="121.62" y1="700" x2="163.02" y2="700" stroke="#151515" stroke-width="1.5"/>
<text x="203.2" y="694.8" font-size="8.3">2 h</text>
<line x1="182.89" y1="700" x2="224.29" y2="700" stroke="#151515" stroke-width="1.5"/>
<text x="263" y="694.8" font-size="8.3">4 h</text>
<line x1="244.16" y1="700" x2="285.56" y2="700" stroke="#151515" stroke-width="1.5"/>
<text x="325.1" y="694.8" font-size="8.3">8 h</text>
<line x1="305.43" y1="700" x2="346.83" y2="700" stroke="#151515" stroke-width="1.5"/>
<text x="386.2" y="694.8" font-size="8.3">12 h</text>
<line x1="366.7" y1="700" x2="408.1" y2="700" stroke="#151515" stroke-width="1.5"/>
<text x="46.6" y="720.5" font-size="8.7" text-anchor="end" transform="rotate(-30 46.6 720.5)">Lip</text>
<g clip-path="url(#cn0)">
<rect x="50.9" y="703.1" width="19" height="41.8" fill="#2b2b2b"/><g filter="url(#b05)"><path d="M60.4 704.14C58.88 704.35 57.74 706.44 56.98 708.53L53.37 711.04C50.9 712.3 50.9 715.22 53.37 716.06C52.42 717.31 50.9 718.98 50.9 721.07L50.9 726.51L50.9 744.9L69.9 744.9L69.9 726.51L69.9 721.07C69.9 718.98 68.38 717.31 67.43 716.06C69.9 715.22 69.9 712.3 67.43 711.04L63.82 708.53C63.06 706.44 61.92 704.35 60.4 704.14Z" fill="#505050"/><ellipse cx="60.4" cy="724.84" rx="6.27" ry="8.36" fill="#5c5c5c"/><ellipse cx="60.4" cy="739.88" rx="7.98" ry="4.18" fill="#5a5a5a"/><ellipse cx="60.4" cy="710.21" rx="3.23" ry="3.76" fill="#585858"/><ellipse cx="60.4" cy="733.61" rx="9.5" ry="1.25" fill="#474747"/></g>
<g filter="url(#b05)"><ellipse cx="60.16" cy="728.37" rx="5.24" ry="7.01" fill="#2a14f4" transform="rotate(20.49 60.16 728.37)"/><ellipse cx="58.37" cy="729.48" rx="5.15" ry="4.87" fill="#2a14f4" transform="rotate(134.55 58.37 729.48)"/><ellipse cx="60.02" cy="730.66" rx="3.67" ry="4.91" fill="#2a14f4"/><ellipse cx="60.16" cy="728.37" rx="4.59" ry="6.14" fill="#28c8ff" transform="rotate(20.49 60.16 728.37)"/><ellipse cx="58.37" cy="729.48" rx="3.83" ry="3.62" fill="#28c8ff" transform="rotate(134.55 58.37 729.48)"/><ellipse cx="60.02" cy="730.66" rx="1.78" ry="2.38" fill="#28c8ff"/><ellipse cx="60.16" cy="728.37" rx="3.73" ry="5" fill="#3cf03c" transform="rotate(20.49 60.16 728.37)"/><ellipse cx="58.37" cy="729.48" rx="1.9" ry="1.8" fill="#3cf03c" transform="rotate(134.55 58.37 729.48)"/><ellipse cx="60.16" cy="728.37" rx="2.71" ry="3.62" fill="#f4f020" transform="rotate(20.49 60.16 728.37)"/><ellipse cx="60.16" cy="728.37" rx="1.52" ry="2.04" fill="#ff2410" transform="rotate(20.49 60.16 728.37)"/></g>
<rect x="71.34" y="703.1" width="19" height="41.8" fill="#2b2b2b"/><g filter="url(#b05)"><path d="M80.84 704.14C79.32 704.35 78.18 706.44 77.42 708.53L73.81 711.04C71.34 712.3 71.34 715.22 73.81 716.06C72.86 717.31 71.34 718.98 71.34 721.07L71.34 726.51L71.34 744.9L90.34 744.9L90.34 726.51L90.34 721.07C90.34 718.98 88.82 717.31 87.87 716.06C90.34 715.22 90.34 712.3 87.87 711.04L84.26 708.53C83.5 706.44 82.36 704.35 80.84 704.14Z" fill="#505050"/><ellipse cx="80.84" cy="724.84" rx="6.27" ry="8.36" fill="#5c5c5c"/><ellipse cx="80.84" cy="739.88" rx="7.98" ry="4.18" fill="#5a5a5a"/><ellipse cx="80.84" cy="710.21" rx="3.23" ry="3.76" fill="#585858"/><ellipse cx="80.84" cy="733.61" rx="9.5" ry="1.25" fill="#474747"/></g>
<g filter="url(#b05)"><ellipse cx="80.47" cy="726.54" rx="4.47" ry="5.9" fill="#2a14f4" transform="rotate(33.73 80.47 726.54)"/><ellipse cx="79.17" cy="729.04" rx="3.31" ry="4.04" fill="#2a14f4" transform="rotate(101.33 79.17 729.04)"/><ellipse cx="82.16" cy="728.74" rx="3.13" ry="4.13" fill="#2a14f4"/><ellipse cx="80.47" cy="726.54" rx="3.9" ry="5.16" fill="#28c8ff" transform="rotate(33.73 80.47 726.54)"/><ellipse cx="79.17" cy="729.04" rx="2.38" ry="2.91" fill="#28c8ff" transform="rotate(101.33 79.17 729.04)"/><ellipse cx="82.16" cy="728.74" rx="0.83" ry="1.1" fill="#28c8ff"/><ellipse cx="80.47" cy="726.54" rx="3.16" ry="4.17" fill="#3cf03c" transform="rotate(33.73 80.47 726.54)"/><ellipse cx="79.17" cy="729.04" rx="1" ry="1.21" fill="#3cf03c" transform="rotate(101.33 79.17 729.04)"/><ellipse cx="80.47" cy="726.54" rx="2.26" ry="2.99" fill="#f4f020" transform="rotate(33.73 80.47 726.54)"/><ellipse cx="80.47" cy="726.54" rx="1.22" ry="1.61" fill="#ff2410" transform="rotate(33.73 80.47 726.54)"/></g>
<rect x="91.78" y="703.1" width="19" height="41.8" fill="#2b2b2b"/><g filter="url(#b05)"><path d="M101.28 704.14C99.76 704.35 98.62 706.44 97.86 708.53L94.25 711.04C91.78 712.3 91.78 715.22 94.25 716.06C93.3 717.31 91.78 718.98 91.78 721.07L91.78 726.51L91.78 744.9L110.78 744.9L110.78 726.51L110.78 721.07C110.78 718.98 109.26 717.31 108.31 716.06C110.78 715.22 110.78 712.3 108.31 711.04L104.7 708.53C103.94 706.44 102.8 704.35 101.28 704.14Z" fill="#505050"/><ellipse cx="101.28" cy="724.84" rx="6.27" ry="8.36" fill="#5c5c5c"/><ellipse cx="101.28" cy="739.88" rx="7.98" ry="4.18" fill="#5a5a5a"/><ellipse cx="101.28" cy="710.21" rx="3.23" ry="3.76" fill="#585858"/><ellipse cx="101.28" cy="733.61" rx="9.5" ry="1.25" fill="#474747"/></g>
<g filter="url(#b05)"><ellipse cx="101.99" cy="728.7" rx="4.56" ry="7.04" fill="#2a14f4" transform="rotate(5.44 101.99 728.7)"/><ellipse cx="100.87" cy="731.79" rx="4.14" ry="5.56" fill="#2a14f4" transform="rotate(119.07 100.87 731.79)"/><ellipse cx="101.36" cy="730.78" rx="3.2" ry="4.93" fill="#2a14f4"/><ellipse cx="101.99" cy="728.7" rx="3.98" ry="6.14" fill="#28c8ff" transform="rotate(5.44 101.99 728.7)"/><ellipse cx="100.87" cy="731.79" rx="3.21" ry="4.31" fill="#28c8ff" transform="rotate(119.07 100.87 731.79)"/><ellipse cx="101.36" cy="730.78" rx="0.6" ry="0.92" fill="#28c8ff"/><ellipse cx="101.99" cy="728.7" rx="3.21" ry="4.95" fill="#3cf03c" transform="rotate(5.44 101.99 728.7)"/><ellipse cx="100.87" cy="731.79" rx="1.89" ry="2.54" fill="#3cf03c" transform="rotate(119.07 100.87 731.79)"/><ellipse cx="101.99" cy="728.7" rx="2.28" ry="3.52" fill="#f4f020" transform="rotate(5.44 101.99 728.7)"/><ellipse cx="101.99" cy="728.7" rx="1.2" ry="1.85" fill="#ff2410" transform="rotate(5.44 101.99 728.7)"/></g>
<rect x="112.22" y="703.1" width="19" height="41.8" fill="#2b2b2b"/><g filter="url(#b05)"><path d="M121.72 704.14C120.2 704.35 119.06 706.44 118.3 708.53L114.69 711.04C112.22 712.3 112.22 715.22 114.69 716.06C113.74 717.31 112.22 718.98 112.22 721.07L112.22 726.51L112.22 744.9L131.22 744.9L131.22 726.51L131.22 721.07C131.22 718.98 129.7 717.31 128.75 716.06C131.22 715.22 131.22 712.3 128.75 711.04L125.14 708.53C124.38 706.44 123.24 704.35 121.72 704.14Z" fill="#505050"/><ellipse cx="121.72" cy="724.84" rx="6.27" ry="8.36" fill="#5c5c5c"/><ellipse cx="121.72" cy="739.88" rx="7.98" ry="4.18" fill="#5a5a5a"/><ellipse cx="121.72" cy="710.21" rx="3.23" ry="3.76" fill="#585858"/><ellipse cx="121.72" cy="733.61" rx="9.5" ry="1.25" fill="#474747"/></g>
<g filter="url(#b05)"><ellipse cx="119.99" cy="727.26" rx="4.98" ry="5.44" fill="#2a14f4" transform="rotate(15.85 119.99 727.26)"/><ellipse cx="119.1" cy="729.85" rx="4.21" ry="3.24" fill="#2a14f4" transform="rotate(104.72 119.1 729.85)"/><ellipse cx="117.97" cy="731.38" rx="3.49" ry="3.81" fill="#2a14f4"/><ellipse cx="119.99" cy="727.26" rx="4.32" ry="4.71" fill="#28c8ff" transform="rotate(15.85 119.99 727.26)"/><ellipse cx="119.1" cy="729.85" rx="3.46" ry="2.66" fill="#28c8ff" transform="rotate(104.72 119.1 729.85)"/><ellipse cx="119.99" cy="727.26" rx="3.43" ry="3.75" fill="#3cf03c" transform="rotate(15.85 119.99 727.26)"/><ellipse cx="119.1" cy="729.85" rx="2.44" ry="1.88" fill="#3cf03c" transform="rotate(104.72 119.1 729.85)"/><ellipse cx="119.99" cy="727.26" rx="2.36" ry="2.58" fill="#f4f020" transform="rotate(15.85 119.99 727.26)"/><ellipse cx="119.1" cy="729.85" rx="1.1" ry="0.85" fill="#f4f020" transform="rotate(104.72 119.1 729.85)"/><ellipse cx="119.99" cy="727.26" rx="1.08" ry="1.18" fill="#ff2410" transform="rotate(15.85 119.99 727.26)"/></g>
<rect x="132.66" y="703.1" width="19" height="41.8" fill="#2b2b2b"/><g filter="url(#b05)"><path d="M142.16 704.14C140.64 704.35 139.5 706.44 138.74 708.53L135.13 711.04C132.66 712.3 132.66 715.22 135.13 716.06C134.18 717.31 132.66 718.98 132.66 721.07L132.66 726.51L132.66 744.9L151.66 744.9L151.66 726.51L151.66 721.07C151.66 718.98 150.14 717.31 149.19 716.06C151.66 715.22 151.66 712.3 149.19 711.04L145.58 708.53C144.82 706.44 143.68 704.35 142.16 704.14Z" fill="#505050"/><ellipse cx="142.16" cy="724.84" rx="6.27" ry="8.36" fill="#5c5c5c"/><ellipse cx="142.16" cy="739.88" rx="7.98" ry="4.18" fill="#5a5a5a"/><ellipse cx="142.16" cy="710.21" rx="3.23" ry="3.76" fill="#585858"/><ellipse cx="142.16" cy="733.61" rx="9.5" ry="1.25" fill="#474747"/></g>
<g filter="url(#b05)"><ellipse cx="142.25" cy="728.63" rx="4.2" ry="6.75" fill="#2a14f4" transform="rotate(-7.54 142.25 728.63)"/><ellipse cx="139.94" cy="727.99" rx="3.17" ry="5.31" fill="#2a14f4" transform="rotate(64.26 139.94 727.99)"/><ellipse cx="144.21" cy="732.66" rx="2.94" ry="4.73" fill="#2a14f4"/><ellipse cx="142.25" cy="728.63" rx="3.66" ry="5.88" fill="#28c8ff" transform="rotate(-7.54 142.25 728.63)"/><ellipse cx="139.94" cy="727.99" rx="2.62" ry="4.39" fill="#28c8ff" transform="rotate(64.26 139.94 727.99)"/><ellipse cx="144.21" cy="732.66" rx="1.1" ry="1.77" fill="#28c8ff"/><ellipse cx="142.25" cy="728.63" rx="2.94" ry="4.72" fill="#3cf03c" transform="rotate(-7.54 142.25 728.63)"/><ellipse cx="139.94" cy="727.99" rx="1.87" ry="3.14" fill="#3cf03c" transform="rotate(64.26 139.94 727.99)"/><ellipse cx="142.25" cy="728.63" rx="2.07" ry="3.33" fill="#f4f020" transform="rotate(-7.54 142.25 728.63)"/><ellipse cx="139.94" cy="727.99" rx="0.91" ry="1.52" fill="#f4f020" transform="rotate(64.26 139.94 727.99)"/><ellipse cx="142.25" cy="728.63" rx="1.05" ry="1.69" fill="#ff2410" transform="rotate(-7.54 142.25 728.63)"/></g>
<rect x="153.1" y="703.1" width="19" height="41.8" fill="#2b2b2b"/><g filter="url(#b05)"><path d="M162.6 704.14C161.08 704.35 159.94 706.44 159.18 708.53L155.57 711.04C153.1 712.3 153.1 715.22 155.57 716.06C154.62 717.31 153.1 718.98 153.1 721.07L153.1 726.51L153.1 744.9L172.1 744.9L172.1 726.51L172.1 721.07C172.1 718.98 170.58 717.31 169.63 716.06C172.1 715.22 172.1 712.3 169.63 711.04L166.02 708.53C165.26 706.44 164.12 704.35 162.6 704.14Z" fill="#505050"/><ellipse cx="162.6" cy="724.84" rx="6.27" ry="8.36" fill="#5c5c5c"/><ellipse cx="162.6" cy="739.88" rx="7.98" ry="4.18" fill="#5a5a5a"/><ellipse cx="162.6" cy="710.21" rx="3.23" ry="3.76" fill="#585858"/><ellipse cx="162.6" cy="733.61" rx="9.5" ry="1.25" fill="#474747"/></g>
<g filter="url(#b05)"><ellipse cx="161.64" cy="727.82" rx="5.21" ry="5.61" fill="#2a14f4" transform="rotate(21.13 161.64 727.82)"/><ellipse cx="163.34" cy="727.14" rx="5.13" ry="2.96" fill="#2a14f4" transform="rotate(101.57 163.34 727.14)"/><ellipse cx="163.55" cy="730.35" rx="3.65" ry="3.93" fill="#2a14f4"/><ellipse cx="161.64" cy="727.82" rx="4.56" ry="4.91" fill="#28c8ff" transform="rotate(21.13 161.64 727.82)"/><ellipse cx="163.34" cy="727.14" rx="4.17" ry="2.41" fill="#28c8ff" transform="rotate(101.57 163.34 727.14)"/><ellipse cx="163.55" cy="730.35" rx="2.24" ry="2.41" fill="#28c8ff"/><ellipse cx="161.64" cy="727.82" rx="3.69" ry="3.98" fill="#3cf03c" transform="rotate(21.13 161.64 727.82)"/><ellipse cx="163.34" cy="727.14" rx="2.85" ry="1.65" fill="#3cf03c" transform="rotate(101.57 163.34 727.14)"/><ellipse cx="161.64" cy="727.82" rx="2.65" ry="2.85" fill="#f4f020" transform="rotate(21.13 161.64 727.82)"/><ellipse cx="163.34" cy="727.14" rx="1.09" ry="0.63" fill="#f4f020" transform="rotate(101.57 163.34 727.14)"/><ellipse cx="161.64" cy="727.82" rx="1.44" ry="1.55" fill="#ff2410" transform="rotate(21.13 161.64 727.82)"/></g>
<rect x="173.54" y="703.1" width="19" height="41.8" fill="#2b2b2b"/><g filter="url(#b05)"><path d="M183.04 704.14C181.52 704.35 180.38 706.44 179.62 708.53L176.01 711.04C173.54 712.3 173.54 715.22 176.01 716.06C175.06 717.31 173.54 718.98 173.54 721.07L173.54 726.51L173.54 744.9L192.54 744.9L192.54 726.51L192.54 721.07C192.54 718.98 191.02 717.31 190.07 716.06C192.54 715.22 192.54 712.3 190.07 711.04L186.46 708.53C185.7 706.44 184.56 704.35 183.04 704.14Z" fill="#505050"/><ellipse cx="183.04" cy="724.84" rx="6.27" ry="8.36" fill="#5c5c5c"/><ellipse cx="183.04" cy="739.88" rx="7.98" ry="4.18" fill="#5a5a5a"/><ellipse cx="183.04" cy="710.21" rx="3.23" ry="3.76" fill="#585858"/><ellipse cx="183.04" cy="733.61" rx="9.5" ry="1.25" fill="#474747"/></g>
<g filter="url(#b05)"><ellipse cx="182.59" cy="727.29" rx="4.6" ry="5.73" fill="#2a14f4" transform="rotate(-29.14 182.59 727.29)"/><ellipse cx="183.65" cy="730.62" rx="3.44" ry="2.95" fill="#2a14f4" transform="rotate(90.07 183.65 730.62)"/><ellipse cx="182.16" cy="729.56" rx="3.22" ry="4.01" fill="#2a14f4"/><ellipse cx="182.59" cy="727.29" rx="3.97" ry="4.95" fill="#28c8ff" transform="rotate(-29.14 182.59 727.29)"/><ellipse cx="183.65" cy="730.62" rx="2.77" ry="2.37" fill="#28c8ff" transform="rotate(90.07 183.65 730.62)"/><ellipse cx="182.16" cy="729.56" rx="1.63" ry="2.04" fill="#28c8ff"/><ellipse cx="182.59" cy="727.29" rx="3.13" ry="3.9" fill="#3cf03c" transform="rotate(-29.14 182.59 727.29)"/><ellipse cx="183.65" cy="730.62" rx="1.84" ry="1.58" fill="#3cf03c" transform="rotate(90.07 183.65 730.62)"/><ellipse cx="182.59" cy="727.29" rx="2.11" ry="2.63" fill="#f4f020" transform="rotate(-29.14 182.59 727.29)"/><ellipse cx="183.65" cy="730.62" rx="0.56" ry="0.48" fill="#f4f020" transform="rotate(90.07 183.65 730.62)"/><ellipse cx="182.59" cy="727.29" rx="0.87" ry="1.09" fill="#ff2410" transform="rotate(-29.14 182.59 727.29)"/></g>
<rect x="193.98" y="703.1" width="19" height="41.8" fill="#2b2b2b"/><g filter="url(#b05)"><path d="M203.48 704.14C201.96 704.35 200.82 706.44 200.06 708.53L196.45 711.04C193.98 712.3 193.98 715.22 196.45 716.06C195.5 717.31 193.98 718.98 193.98 721.07L193.98 726.51L193.98 744.9L212.98 744.9L212.98 726.51L212.98 721.07C212.98 718.98 211.46 717.31 210.51 716.06C212.98 715.22 212.98 712.3 210.51 711.04L206.9 708.53C206.14 706.44 205 704.35 203.48 704.14Z" fill="#505050"/><ellipse cx="203.48" cy="724.84" rx="6.27" ry="8.36" fill="#5c5c5c"/><ellipse cx="203.48" cy="739.88" rx="7.98" ry="4.18" fill="#5a5a5a"/><ellipse cx="203.48" cy="710.21" rx="3.23" ry="3.76" fill="#585858"/><ellipse cx="203.48" cy="733.61" rx="9.5" ry="1.25" fill="#474747"/></g>
<g filter="url(#b05)"><ellipse cx="202.79" cy="727.57" rx="4.25" ry="6.97" fill="#2a14f4" transform="rotate(-32.55 202.79 727.57)"/><ellipse cx="204.7" cy="727.28" rx="3.91" ry="5.47" fill="#2a14f4" transform="rotate(65.28 204.7 727.28)"/><ellipse cx="201" cy="730.33" rx="2.98" ry="4.88" fill="#2a14f4"/><ellipse cx="202.79" cy="727.57" rx="3.7" ry="6.06" fill="#28c8ff" transform="rotate(-32.55 202.79 727.57)"/><ellipse cx="204.7" cy="727.28" rx="3.25" ry="4.54" fill="#28c8ff" transform="rotate(65.28 204.7 727.28)"/><ellipse cx="201" cy="730.33" rx="0.57" ry="0.93" fill="#28c8ff"/><ellipse cx="202.79" cy="727.57" rx="2.96" ry="4.85" fill="#3cf03c" transform="rotate(-32.55 202.79 727.57)"/><ellipse cx="204.7" cy="727.28" rx="2.34" ry="3.27" fill="#3cf03c" transform="rotate(65.28 204.7 727.28)"/><ellipse cx="202.79" cy="727.57" rx="2.07" ry="3.39" fill="#f4f020" transform="rotate(-32.55 202.79 727.57)"/><ellipse cx="204.7" cy="727.28" rx="1.17" ry="1.64" fill="#f4f020" transform="rotate(65.28 204.7 727.28)"/><ellipse cx="202.79" cy="727.57" rx="1.02" ry="1.66" fill="#ff2410" transform="rotate(-32.55 202.79 727.57)"/></g>
<rect x="214.42" y="703.1" width="19" height="41.8" fill="#2b2b2b"/><g filter="url(#b05)"><path d="M223.92 704.14C222.4 704.35 221.26 706.44 220.5 708.53L216.89 711.04C214.42 712.3 214.42 715.22 216.89 716.06C215.94 717.31 214.42 718.98 214.42 721.07L214.42 726.51L214.42 744.9L233.42 744.9L233.42 726.51L233.42 721.07C233.42 718.98 231.9 717.31 230.95 716.06C233.42 715.22 233.42 712.3 230.95 711.04L227.34 708.53C226.58 706.44 225.44 704.35 223.92 704.14Z" fill="#505050"/><ellipse cx="223.92" cy="724.84" rx="6.27" ry="8.36" fill="#5c5c5c"/><ellipse cx="223.92" cy="739.88" rx="7.98" ry="4.18" fill="#5a5a5a"/><ellipse cx="223.92" cy="710.21" rx="3.23" ry="3.76" fill="#585858"/><ellipse cx="223.92" cy="733.61" rx="9.5" ry="1.25" fill="#474747"/></g>
<g filter="url(#b05)"><ellipse cx="222.8" cy="727.64" rx="5.51" ry="6.86" fill="#2a14f4" transform="rotate(38.2 222.8 727.64)"/><ellipse cx="222.74" cy="729.86" rx="4.65" ry="4.03" fill="#2a14f4" transform="rotate(122.43 222.74 729.86)"/><ellipse cx="222.24" cy="731.8" rx="3.86" ry="4.8" fill="#2a14f4"/><ellipse cx="222.8" cy="727.64" rx="4.79" ry="5.96" fill="#28c8ff" transform="rotate(38.2 222.8 727.64)"/><ellipse cx="222.74" cy="729.86" rx="3.48" ry="3.02" fill="#28c8ff" transform="rotate(122.43 222.74 729.86)"/><ellipse cx="222.24" cy="731.8" rx="2.4" ry="2.99" fill="#28c8ff"/><ellipse cx="222.8" cy="727.64" rx="3.82" ry="4.76" fill="#3cf03c" transform="rotate(38.2 222.8 727.64)"/><ellipse cx="222.74" cy="729.86" rx="1.8" ry="1.56" fill="#3cf03c" transform="rotate(122.43 222.74 729.86)"/><ellipse cx="222.8" cy="727.64" rx="2.66" ry="3.32" fill="#f4f020" transform="rotate(38.2 222.8 727.64)"/><ellipse cx="222.8" cy="727.64" rx="1.29" ry="1.6" fill="#ff2410" transform="rotate(38.2 222.8 727.64)"/></g>
<rect x="234.86" y="703.1" width="19" height="41.8" fill="#2b2b2b"/><g filter="url(#b05)"><path d="M244.36 704.14C242.84 704.35 241.7 706.44 240.94 708.53L237.33 711.04C234.86 712.3 234.86 715.22 237.33 716.06C236.38 717.31 234.86 718.98 234.86 721.07L234.86 726.51L234.86 744.9L253.86 744.9L253.86 726.51L253.86 721.07C253.86 718.98 252.34 717.31 251.39 716.06C253.86 715.22 253.86 712.3 251.39 711.04L247.78 708.53C247.02 706.44 245.88 704.35 244.36 704.14Z" fill="#505050"/><ellipse cx="244.36" cy="724.84" rx="6.27" ry="8.36" fill="#5c5c5c"/><ellipse cx="244.36" cy="739.88" rx="7.98" ry="4.18" fill="#5a5a5a"/><ellipse cx="244.36" cy="710.21" rx="3.23" ry="3.76" fill="#585858"/><ellipse cx="244.36" cy="733.61" rx="9.5" ry="1.25" fill="#474747"/></g>
<g filter="url(#b05)"><ellipse cx="243.79" cy="727.36" rx="4.3" ry="5.89" fill="#2a14f4" transform="rotate(23.65 243.79 727.36)"/><ellipse cx="242.88" cy="729.81" rx="4.01" ry="4.17" fill="#2a14f4" transform="rotate(123.49 242.88 729.81)"/><ellipse cx="243.17" cy="730.8" rx="3.01" ry="4.12" fill="#2a14f4"/><ellipse cx="243.79" cy="727.36" rx="3.76" ry="5.16" fill="#28c8ff" transform="rotate(23.65 243.79 727.36)"/><ellipse cx="242.88" cy="729.81" rx="3.32" ry="3.45" fill="#28c8ff" transform="rotate(123.49 242.88 729.81)"/><ellipse cx="243.17" cy="730.8" rx="0.98" ry="1.34" fill="#28c8ff"/><ellipse cx="243.79" cy="727.36" rx="3.05" ry="4.19" fill="#3cf03c" transform="rotate(23.65 243.79 727.36)"/><ellipse cx="242.88" cy="729.81" rx="2.37" ry="2.47" fill="#3cf03c" transform="rotate(123.49 242.88 729.81)"/><ellipse cx="243.79" cy="727.36" rx="2.2" ry="3.02" fill="#f4f020" transform="rotate(23.65 243.79 727.36)"/><ellipse cx="242.88" cy="729.81" rx="1.15" ry="1.2" fill="#f4f020" transform="rotate(123.49 242.88 729.81)"/><ellipse cx="243.79" cy="727.36" rx="1.22" ry="1.68" fill="#ff2410" transform="rotate(23.65 243.79 727.36)"/><ellipse cx="247.29" cy="736.34" rx="2.28" ry="1.46" fill="#2a14f4"/><ellipse cx="247.29" cy="736.34" rx="1.72" ry="1.1" fill="#28c8ff"/><ellipse cx="247.29" cy="736.34" rx="0.86" ry="0.55" fill="#3cf03c"/></g>
<rect x="255.3" y="703.1" width="19" height="41.8" fill="#2b2b2b"/><g filter="url(#b05)"><path d="M264.8 704.14C263.28 704.35 262.14 706.44 261.38 708.53L257.77 711.04C255.3 712.3 255.3 715.22 257.77 716.06C256.82 717.31 255.3 718.98 255.3 721.07L255.3 726.51L255.3 744.9L274.3 744.9L274.3 726.51L274.3 721.07C274.3 718.98 272.78 717.31 271.83 716.06C274.3 715.22 274.3 712.3 271.83 711.04L268.22 708.53C267.46 706.44 266.32 704.35 264.8 704.14Z" fill="#505050"/><ellipse cx="264.8" cy="724.84" rx="6.27" ry="8.36" fill="#5c5c5c"/><ellipse cx="264.8" cy="739.88" rx="7.98" ry="4.18" fill="#5a5a5a"/><ellipse cx="264.8" cy="710.21" rx="3.23" ry="3.76" fill="#585858"/><ellipse cx="264.8" cy="733.61" rx="9.5" ry="1.25" fill="#474747"/></g>
<g filter="url(#b05)"><ellipse cx="265.42" cy="728.14" rx="4.95" ry="5.45" fill="#2a14f4" transform="rotate(6.02 265.42 728.14)"/><ellipse cx="266.54" cy="729.24" rx="4.68" ry="3.79" fill="#2a14f4" transform="rotate(113.88 266.54 729.24)"/><ellipse cx="266.07" cy="731.66" rx="3.47" ry="3.82" fill="#2a14f4"/><ellipse cx="265.42" cy="728.14" rx="4.28" ry="4.72" fill="#28c8ff" transform="rotate(6.02 265.42 728.14)"/><ellipse cx="266.54" cy="729.24" rx="3.66" ry="2.96" fill="#28c8ff" transform="rotate(113.88 266.54 729.24)"/><ellipse cx="266.07" cy="731.66" rx="2.04" ry="2.25" fill="#28c8ff"/><ellipse cx="265.42" cy="728.14" rx="3.39" ry="3.74" fill="#3cf03c" transform="rotate(6.02 265.42 728.14)"/><ellipse cx="266.54" cy="729.24" rx="2.22" ry="1.8" fill="#3cf03c" transform="rotate(113.88 266.54 729.24)"/><ellipse cx="265.42" cy="728.14" rx="2.31" ry="2.55" fill="#f4f020" transform="rotate(6.02 265.42 728.14)"/><ellipse cx="265.42" cy="728.14" rx="1.02" ry="1.12" fill="#ff2410" transform="rotate(6.02 265.42 728.14)"/><ellipse cx="268" cy="736.94" rx="2.28" ry="1.46" fill="#2a14f4"/><ellipse cx="268" cy="736.94" rx="1.99" ry="1.27" fill="#28c8ff"/><ellipse cx="268" cy="736.94" rx="1.56" ry="1" fill="#3cf03c"/><ellipse cx="268" cy="736.94" rx="0.92" ry="0.59" fill="#f4f020"/></g>
<rect x="275.74" y="703.1" width="19" height="41.8" fill="#2b2b2b"/><g filter="url(#b05)"><path d="M285.24 704.14C283.72 704.35 282.58 706.44 281.82 708.53L278.21 711.04C275.74 712.3 275.74 715.22 278.21 716.06C277.26 717.31 275.74 718.98 275.74 721.07L275.74 726.51L275.74 744.9L294.74 744.9L294.74 726.51L294.74 721.07C294.74 718.98 293.22 717.31 292.27 716.06C294.74 715.22 294.74 712.3 292.27 711.04L288.66 708.53C287.9 706.44 286.76 704.35 285.24 704.14Z" fill="#505050"/><ellipse cx="285.24" cy="724.84" rx="6.27" ry="8.36" fill="#5c5c5c"/><ellipse cx="285.24" cy="739.88" rx="7.98" ry="4.18" fill="#5a5a5a"/><ellipse cx="285.24" cy="710.21" rx="3.23" ry="3.76" fill="#585858"/><ellipse cx="285.24" cy="733.61" rx="9.5" ry="1.25" fill="#474747"/></g>
<g filter="url(#b05)"><ellipse cx="285.94" cy="728.91" rx="4.87" ry="6.32" fill="#2a14f4" transform="rotate(-22.54 285.94 728.91)"/><ellipse cx="288.8" cy="730.07" rx="4.42" ry="4.52" fill="#2a14f4" transform="rotate(81.28 288.8 730.07)"/><ellipse cx="287.21" cy="732.04" rx="3.41" ry="4.42" fill="#2a14f4"/><ellipse cx="285.94" cy="728.91" rx="4.26" ry="5.53" fill="#28c8ff" transform="rotate(-22.54 285.94 728.91)"/><ellipse cx="288.8" cy="730.07" rx="3.33" ry="3.41" fill="#28c8ff" transform="rotate(81.28 288.8 730.07)"/><ellipse cx="287.21" cy="732.04" rx="1.83" ry="2.37" fill="#28c8ff"/><ellipse cx="285.94" cy="728.91" rx="3.45" ry="4.48" fill="#3cf03c" transform="rotate(-22.54 285.94 728.91)"/><ellipse cx="288.8" cy="730.07" rx="1.77" ry="1.81" fill="#3cf03c" transform="rotate(81.28 288.8 730.07)"/><ellipse cx="285.94" cy="728.91" rx="2.49" ry="3.23" fill="#f4f020" transform="rotate(-22.54 285.94 728.91)"/><ellipse cx="285.94" cy="728.91" rx="1.37" ry="1.78" fill="#ff2410" transform="rotate(-22.54 285.94 728.91)"/><ellipse cx="287.61" cy="736.62" rx="2.28" ry="1.46" fill="#2a14f4"/><ellipse cx="287.61" cy="736.62" rx="1.96" ry="1.26" fill="#28c8ff"/><ellipse cx="287.61" cy="736.62" rx="1.49" ry="0.96" fill="#3cf03c"/><ellipse cx="287.61" cy="736.62" rx="0.78" ry="0.5" fill="#f4f020"/></g>
<rect x="296.18" y="703.1" width="19" height="41.8" fill="#2b2b2b"/><g filter="url(#b05)"><path d="M305.68 704.14C304.16 704.35 303.02 706.44 302.26 708.53L298.65 711.04C296.18 712.3 296.18 715.22 298.65 716.06C297.7 717.31 296.18 718.98 296.18 721.07L296.18 726.51L296.18 744.9L315.18 744.9L315.18 726.51L315.18 721.07C315.18 718.98 313.66 717.31 312.71 716.06C315.18 715.22 315.18 712.3 312.71 711.04L309.1 708.53C308.34 706.44 307.2 704.35 305.68 704.14Z" fill="#505050"/><ellipse cx="305.68" cy="724.84" rx="6.27" ry="8.36" fill="#5c5c5c"/><ellipse cx="305.68" cy="739.88" rx="7.98" ry="4.18" fill="#5a5a5a"/><ellipse cx="305.68" cy="710.21" rx="3.23" ry="3.76" fill="#585858"/><ellipse cx="305.68" cy="733.61" rx="9.5" ry="1.25" fill="#474747"/></g>
<g filter="url(#b05)"><ellipse cx="305.7" cy="726.58" rx="4.39" ry="6.17" fill="#2a14f4" transform="rotate(13.76 305.7 726.58)"/><ellipse cx="307.08" cy="728.38" rx="3.13" ry="3.96" fill="#2a14f4" transform="rotate(87.33 307.08 728.38)"/><ellipse cx="304.03" cy="729.05" rx="3.07" ry="4.32" fill="#2a14f4"/><ellipse cx="305.7" cy="726.58" rx="3.8" ry="5.33" fill="#28c8ff" transform="rotate(13.76 305.7 726.58)"/><ellipse cx="307.08" cy="728.38" rx="2.29" ry="2.89" fill="#28c8ff" transform="rotate(87.33 307.08 728.38)"/><ellipse cx="304.03" cy="729.05" rx="0.71" ry="1" fill="#28c8ff"/><ellipse cx="305.7" cy="726.58" rx="3.01" ry="4.22" fill="#3cf03c" transform="rotate(13.76 305.7 726.58)"/><ellipse cx="307.08" cy="728.38" rx="1.05" ry="1.32" fill="#3cf03c" transform="rotate(87.33 307.08 728.38)"/><ellipse cx="305.7" cy="726.58" rx="2.04" ry="2.87" fill="#f4f020" transform="rotate(13.76 305.7 726.58)"/><ellipse cx="305.7" cy="726.58" rx="0.88" ry="1.24" fill="#ff2410" transform="rotate(13.76 305.7 726.58)"/><ellipse cx="305.82" cy="735.59" rx="2.28" ry="1.46" fill="#2a14f4"/><ellipse cx="305.82" cy="735.59" rx="1.8" ry="1.15" fill="#28c8ff"/><ellipse cx="305.82" cy="735.59" rx="1.07" ry="0.69" fill="#3cf03c"/></g>
<rect x="316.62" y="703.1" width="19" height="41.8" fill="#2b2b2b"/><g filter="url(#b05)"><path d="M326.12 704.14C324.6 704.35 323.46 706.44 322.7 708.53L319.09 711.04C316.62 712.3 316.62 715.22 319.09 716.06C318.14 717.31 316.62 718.98 316.62 721.07L316.62 726.51L316.62 744.9L335.62 744.9L335.62 726.51L335.62 721.07C335.62 718.98 334.1 717.31 333.15 716.06C335.62 715.22 335.62 712.3 333.15 711.04L329.54 708.53C328.78 706.44 327.64 704.35 326.12 704.14Z" fill="#505050"/><ellipse cx="326.12" cy="724.84" rx="6.27" ry="8.36" fill="#5c5c5c"/><ellipse cx="326.12" cy="739.88" rx="7.98" ry="4.18" fill="#5a5a5a"/><ellipse cx="326.12" cy="710.21" rx="3.23" ry="3.76" fill="#585858"/><ellipse cx="326.12" cy="733.61" rx="9.5" ry="1.25" fill="#474747"/></g>
<g filter="url(#b05)"><ellipse cx="325.85" cy="727.99" rx="4.5" ry="6.94" fill="#2a14f4" transform="rotate(-34.95 325.85 727.99)"/><ellipse cx="324.2" cy="728.87" rx="3.3" ry="5.2" fill="#2a14f4" transform="rotate(47.48 324.2 728.87)"/><ellipse cx="326.37" cy="729.9" rx="3.15" ry="4.86" fill="#2a14f4"/><ellipse cx="325.85" cy="727.99" rx="3.9" ry="6.03" fill="#28c8ff" transform="rotate(-34.95 325.85 727.99)"/><ellipse cx="324.2" cy="728.87" rx="2.4" ry="3.79" fill="#28c8ff" transform="rotate(47.48 324.2 728.87)"/><ellipse cx="326.37" cy="729.9" rx="1.53" ry="2.36" fill="#28c8ff"/><ellipse cx="325.85" cy="727.99" rx="3.11" ry="4.81" fill="#3cf03c" transform="rotate(-34.95 325.85 727.99)"/><ellipse cx="324.2" cy="728.87" rx="1.07" ry="1.68" fill="#3cf03c" transform="rotate(47.48 324.2 728.87)"/><ellipse cx="325.85" cy="727.99" rx="2.16" ry="3.33" fill="#f4f020" transform="rotate(-34.95 325.85 727.99)"/><ellipse cx="325.85" cy="727.99" rx="1.02" ry="1.58" fill="#ff2410" transform="rotate(-34.95 325.85 727.99)"/><ellipse cx="328.33" cy="737.24" rx="2.28" ry="1.46" fill="#2a14f4"/><ellipse cx="328.33" cy="737.24" rx="2.04" ry="1.31" fill="#28c8ff"/><ellipse cx="328.33" cy="737.24" rx="1.69" ry="1.08" fill="#3cf03c"/><ellipse cx="328.33" cy="737.24" rx="1.19" ry="0.76" fill="#f4f020"/></g>
<rect x="337.06" y="703.1" width="19" height="41.8" fill="#2b2b2b"/><g filter="url(#b05)"><path d="M346.56 704.14C345.04 704.35 343.9 706.44 343.14 708.53L339.53 711.04C337.06 712.3 337.06 715.22 339.53 716.06C338.58 717.31 337.06 718.98 337.06 721.07L337.06 726.51L337.06 744.9L356.06 744.9L356.06 726.51L356.06 721.07C356.06 718.98 354.54 717.31 353.59 716.06C356.06 715.22 356.06 712.3 353.59 711.04L349.98 708.53C349.22 706.44 348.08 704.35 346.56 704.14Z" fill="#505050"/><ellipse cx="346.56" cy="724.84" rx="6.27" ry="8.36" fill="#5c5c5c"/><ellipse cx="346.56" cy="739.88" rx="7.98" ry="4.18" fill="#5a5a5a"/><ellipse cx="346.56" cy="710.21" rx="3.23" ry="3.76" fill="#585858"/><ellipse cx="346.56" cy="733.61" rx="9.5" ry="1.25" fill="#474747"/></g>
<g filter="url(#b05)"><ellipse cx="345.77" cy="728.55" rx="5.03" ry="6.05" fill="#2a14f4" transform="rotate(-24.34 345.77 728.55)"/><ellipse cx="346.25" cy="731.71" rx="4.99" ry="4.13" fill="#2a14f4" transform="rotate(56.73 346.25 731.71)"/><ellipse cx="343.5" cy="730.49" rx="3.52" ry="4.24" fill="#2a14f4"/><ellipse cx="345.77" cy="728.55" rx="4.38" ry="5.27" fill="#28c8ff" transform="rotate(-24.34 345.77 728.55)"/><ellipse cx="346.25" cy="731.71" rx="4.18" ry="3.46" fill="#28c8ff" transform="rotate(56.73 346.25 731.71)"/><ellipse cx="343.5" cy="730.49" rx="1.75" ry="2.1" fill="#28c8ff"/><ellipse cx="345.77" cy="728.55" rx="3.52" ry="4.24" fill="#3cf03c" transform="rotate(-24.34 345.77 728.55)"/><ellipse cx="346.25" cy="731.71" rx="3.09" ry="2.56" fill="#3cf03c" transform="rotate(56.73 346.25 731.71)"/><ellipse cx="345.77" cy="728.55" rx="2.49" ry="2.99" fill="#f4f020" transform="rotate(-24.34 345.77 728.55)"/><ellipse cx="346.25" cy="731.71" rx="1.71" ry="1.41" fill="#f4f020" transform="rotate(56.73 346.25 731.71)"/><ellipse cx="345.77" cy="728.55" rx="1.27" ry="1.53" fill="#ff2410" transform="rotate(-24.34 345.77 728.55)"/></g>
<rect x="357.5" y="703.1" width="19" height="41.8" fill="#2b2b2b"/><g filter="url(#b05)"><path d="M367 704.14C365.48 704.35 364.34 706.44 363.58 708.53L359.97 711.04C357.5 712.3 357.5 715.22 359.97 716.06C359.02 717.31 357.5 718.98 357.5 721.07L357.5 726.51L357.5 744.9L376.5 744.9L376.5 726.51L376.5 721.07C376.5 718.98 374.98 717.31 374.03 716.06C376.5 715.22 376.5 712.3 374.03 711.04L370.42 708.53C369.66 706.44 368.52 704.35 367 704.14Z" fill="#505050"/><ellipse cx="367" cy="724.84" rx="6.27" ry="8.36" fill="#5c5c5c"/><ellipse cx="367" cy="739.88" rx="7.98" ry="4.18" fill="#5a5a5a"/><ellipse cx="367" cy="710.21" rx="3.23" ry="3.76" fill="#585858"/><ellipse cx="367" cy="733.61" rx="9.5" ry="1.25" fill="#474747"/></g>
<g filter="url(#b05)"><ellipse cx="365.47" cy="728.09" rx="5.37" ry="6.06" fill="#2a14f4" transform="rotate(-2.62 365.47 728.09)"/><ellipse cx="363.73" cy="731.32" rx="4.37" ry="4.78" fill="#2a14f4" transform="rotate(112.2 363.73 731.32)"/><ellipse cx="364.38" cy="732.22" rx="3.76" ry="4.24" fill="#2a14f4"/><ellipse cx="365.47" cy="728.09" rx="4.64" ry="5.24" fill="#28c8ff" transform="rotate(-2.62 365.47 728.09)"/><ellipse cx="363.73" cy="731.32" rx="3.54" ry="3.88" fill="#28c8ff" transform="rotate(112.2 363.73 731.32)"/><ellipse cx="364.38" cy="732.22" rx="1.74" ry="1.96" fill="#28c8ff"/><ellipse cx="365.47" cy="728.09" rx="3.67" ry="4.15" fill="#3cf03c" transform="rotate(-2.62 365.47 728.09)"/><ellipse cx="363.73" cy="731.32" rx="2.41" ry="2.64" fill="#3cf03c" transform="rotate(112.2 363.73 731.32)"/><ellipse cx="365.47" cy="728.09" rx="2.5" ry="2.82" fill="#f4f020" transform="rotate(-2.62 365.47 728.09)"/><ellipse cx="363.73" cy="731.32" rx="0.89" ry="0.97" fill="#f4f020" transform="rotate(112.2 363.73 731.32)"/><ellipse cx="365.47" cy="728.09" rx="1.08" ry="1.22" fill="#ff2410" transform="rotate(-2.62 365.47 728.09)"/><ellipse cx="368.21" cy="737.32" rx="2.28" ry="1.46" fill="#2a14f4"/><ellipse cx="368.21" cy="737.32" rx="1.88" ry="1.21" fill="#28c8ff"/><ellipse cx="368.21" cy="737.32" rx="1.28" ry="0.82" fill="#3cf03c"/><ellipse cx="368.21" cy="737.32" rx="0.23" ry="0.15" fill="#f4f020"/></g>
<rect x="377.94" y="703.1" width="19" height="41.8" fill="#2b2b2b"/><g filter="url(#b05)"><path d="M387.44 704.14C385.92 704.35 384.78 706.44 384.02 708.53L380.41 711.04C377.94 712.3 377.94 715.22 380.41 716.06C379.46 717.31 377.94 718.98 377.94 721.07L377.94 726.51L377.94 744.9L396.94 744.9L396.94 726.51L396.94 721.07C396.94 718.98 395.42 717.31 394.47 716.06C396.94 715.22 396.94 712.3 394.47 711.04L390.86 708.53C390.1 706.44 388.96 704.35 387.44 704.14Z" fill="#505050"/><ellipse cx="387.44" cy="724.84" rx="6.27" ry="8.36" fill="#5c5c5c"/><ellipse cx="387.44" cy="739.88" rx="7.98" ry="4.18" fill="#5a5a5a"/><ellipse cx="387.44" cy="710.21" rx="3.23" ry="3.76" fill="#585858"/><ellipse cx="387.44" cy="733.61" rx="9.5" ry="1.25" fill="#474747"/></g>
<g filter="url(#b05)"><ellipse cx="386.3" cy="727.7" rx="4.34" ry="6.47" fill="#2a14f4" transform="rotate(-1.74 386.3 727.7)"/><ellipse cx="388.66" cy="730.32" rx="3.06" ry="4.27" fill="#2a14f4" transform="rotate(74.69 388.66 730.32)"/><ellipse cx="387.59" cy="729.99" rx="3.04" ry="4.53" fill="#2a14f4"/><ellipse cx="386.3" cy="727.7" rx="3.76" ry="5.6" fill="#28c8ff" transform="rotate(-1.74 386.3 727.7)"/><ellipse cx="388.66" cy="730.32" rx="2.57" ry="3.59" fill="#28c8ff" transform="rotate(74.69 388.66 730.32)"/><ellipse cx="387.59" cy="729.99" rx="0.96" ry="1.43" fill="#28c8ff"/><ellipse cx="386.3" cy="727.7" rx="2.98" ry="4.45" fill="#3cf03c" transform="rotate(-1.74 386.3 727.7)"/><ellipse cx="388.66" cy="730.32" rx="1.92" ry="2.68" fill="#3cf03c" transform="rotate(74.69 388.66 730.32)"/><ellipse cx="386.3" cy="727.7" rx="2.04" ry="3.05" fill="#f4f020" transform="rotate(-1.74 386.3 727.7)"/><ellipse cx="388.66" cy="730.32" rx="1.09" ry="1.53" fill="#f4f020" transform="rotate(74.69 388.66 730.32)"/><ellipse cx="386.3" cy="727.7" rx="0.92" ry="1.37" fill="#ff2410" transform="rotate(-1.74 386.3 727.7)"/><ellipse cx="391.2" cy="735.01" rx="2.28" ry="1.46" fill="#2a14f4"/><ellipse cx="391.2" cy="735.01" rx="1.95" ry="1.25" fill="#28c8ff"/><ellipse cx="391.2" cy="735.01" rx="1.46" ry="0.93" fill="#3cf03c"/><ellipse cx="391.2" cy="735.01" rx="0.7" ry="0.45" fill="#f4f020"/></g>
<rect x="398.38" y="703.1" width="19" height="41.8" fill="#2b2b2b"/><g filter="url(#b05)"><path d="M407.88 704.14C406.36 704.35 405.22 706.44 404.46 708.53L400.85 711.04C398.38 712.3 398.38 715.22 400.85 716.06C399.9 717.31 398.38 718.98 398.38 721.07L398.38 726.51L398.38 744.9L417.38 744.9L417.38 726.51L417.38 721.07C417.38 718.98 415.86 717.31 414.91 716.06C417.38 715.22 417.38 712.3 414.91 711.04L411.3 708.53C410.54 706.44 409.4 704.35 407.88 704.14Z" fill="#505050"/><ellipse cx="407.88" cy="724.84" rx="6.27" ry="8.36" fill="#5c5c5c"/><ellipse cx="407.88" cy="739.88" rx="7.98" ry="4.18" fill="#5a5a5a"/><ellipse cx="407.88" cy="710.21" rx="3.23" ry="3.76" fill="#585858"/><ellipse cx="407.88" cy="733.61" rx="9.5" ry="1.25" fill="#474747"/></g>
<g filter="url(#b05)"><ellipse cx="407.24" cy="728.13" rx="4.98" ry="6.68" fill="#2a14f4" transform="rotate(-26.14 407.24 728.13)"/><ellipse cx="405.58" cy="729.52" rx="3.99" ry="3.93" fill="#2a14f4" transform="rotate(65.66 405.58 729.52)"/><ellipse cx="406.61" cy="731.67" rx="3.49" ry="4.67" fill="#2a14f4"/><ellipse cx="407.24" cy="728.13" rx="4.35" ry="5.83" fill="#28c8ff" transform="rotate(-26.14 407.24 728.13)"/><ellipse cx="405.58" cy="729.52" rx="3.18" ry="3.13" fill="#28c8ff" transform="rotate(65.66 405.58 729.52)"/><ellipse cx="406.61" cy="731.67" rx="1.77" ry="2.37" fill="#28c8ff"/><ellipse cx="407.24" cy="728.13" rx="3.52" ry="4.72" fill="#3cf03c" transform="rotate(-26.14 407.24 728.13)"/><ellipse cx="405.58" cy="729.52" rx="2.05" ry="2.02" fill="#3cf03c" transform="rotate(65.66 405.58 729.52)"/><ellipse cx="407.24" cy="728.13" rx="2.52" ry="3.38" fill="#f4f020" transform="rotate(-26.14 407.24 728.13)"/><ellipse cx="405.58" cy="729.52" rx="0.44" ry="0.43" fill="#f4f020" transform="rotate(65.66 405.58 729.52)"/><ellipse cx="407.24" cy="728.13" rx="1.36" ry="1.82" fill="#ff2410" transform="rotate(-26.14 407.24 728.13)"/><ellipse cx="408.84" cy="735.56" rx="2.28" ry="1.46" fill="#2a14f4"/><ellipse cx="408.84" cy="735.56" rx="2.07" ry="1.33" fill="#28c8ff"/><ellipse cx="408.84" cy="735.56" rx="1.77" ry="1.14" fill="#3cf03c"/><ellipse cx="408.84" cy="735.56" rx="1.35" ry="0.87" fill="#f4f020"/><ellipse cx="408.84" cy="735.56" rx="0.63" ry="0.4" fill="#ff2410"/></g>
</g>
<text x="46.6" y="768.6" font-size="8.7" text-anchor="end" transform="rotate(-30 46.6 768.6)">ITP-Lip</text>
<g clip-path="url(#cn1)">
<rect x="50.9" y="751.4" width="19" height="41.8" fill="#2b2b2b"/><g filter="url(#b05)"><path d="M60.4 752.44C58.88 752.65 57.74 754.74 56.98 756.83L53.37 759.34C50.9 760.6 50.9 763.52 53.37 764.36C52.42 765.61 50.9 767.28 50.9 769.37L50.9 774.81L50.9 793.2L69.9 793.2L69.9 774.81L69.9 769.37C69.9 767.28 68.38 765.61 67.43 764.36C69.9 763.52 69.9 760.6 67.43 759.34L63.82 756.83C63.06 754.74 61.92 752.65 60.4 752.44Z" fill="#505050"/><ellipse cx="60.4" cy="773.14" rx="6.27" ry="8.36" fill="#5c5c5c"/><ellipse cx="60.4" cy="788.18" rx="7.98" ry="4.18" fill="#5a5a5a"/><ellipse cx="60.4" cy="758.51" rx="3.23" ry="3.76" fill="#585858"/><ellipse cx="60.4" cy="781.91" rx="9.5" ry="1.25" fill="#474747"/></g>
<g filter="url(#b05)"><ellipse cx="60.95" cy="759" rx="1.91" ry="3.28" fill="#2a14f4"/><ellipse cx="60.95" cy="759" rx="1.34" ry="2.29" fill="#28c8ff"/><ellipse cx="60.95" cy="759" rx="0.38" ry="0.65" fill="#3cf03c"/><ellipse cx="60.35" cy="775.87" rx="6.35" ry="7.6" fill="#2a14f4" transform="rotate(12.35 60.35 775.87)"/><ellipse cx="59.94" cy="780.51" rx="4.76" ry="4.56" fill="#2a14f4" transform="rotate(-18.21 59.94 780.51)"/><ellipse cx="61.36" cy="773.58" rx="3.49" ry="3.8" fill="#2a14f4" transform="rotate(26.9 61.36 773.58)"/><ellipse cx="60.35" cy="775.87" rx="5.74" ry="6.87" fill="#28c8ff" transform="rotate(12.35 60.35 775.87)"/><ellipse cx="59.94" cy="780.51" rx="3.56" ry="3.41" fill="#28c8ff" transform="rotate(-18.21 59.94 780.51)"/><ellipse cx="61.36" cy="773.58" rx="3.16" ry="3.44" fill="#28c8ff" transform="rotate(26.9 61.36 773.58)"/><ellipse cx="60.35" cy="775.87" rx="4.89" ry="5.85" fill="#3cf03c" transform="rotate(12.35 60.35 775.87)"/><ellipse cx="59.94" cy="780.51" rx="1.14" ry="1.09" fill="#3cf03c" transform="rotate(-18.21 59.94 780.51)"/><ellipse cx="61.36" cy="773.58" rx="2.71" ry="2.94" fill="#3cf03c" transform="rotate(26.9 61.36 773.58)"/><ellipse cx="60.35" cy="775.87" rx="3.78" ry="4.53" fill="#f4f020" transform="rotate(12.35 60.35 775.87)"/><ellipse cx="61.36" cy="773.58" rx="2.12" ry="2.3" fill="#f4f020" transform="rotate(26.9 61.36 773.58)"/><ellipse cx="60.35" cy="775.87" rx="2.31" ry="2.76" fill="#ff2410" transform="rotate(12.35 60.35 775.87)"/><ellipse cx="61.36" cy="773.58" rx="1.34" ry="1.46" fill="#ff2410" transform="rotate(26.9 61.36 773.58)"/></g>
<rect x="71.34" y="751.4" width="19" height="41.8" fill="#2b2b2b"/><g filter="url(#b05)"><path d="M80.84 752.44C79.32 752.65 78.18 754.74 77.42 756.83L73.81 759.34C71.34 760.6 71.34 763.52 73.81 764.36C72.86 765.61 71.34 767.28 71.34 769.37L71.34 774.81L71.34 793.2L90.34 793.2L90.34 774.81L90.34 769.37C90.34 767.28 88.82 765.61 87.87 764.36C90.34 763.52 90.34 760.6 87.87 759.34L84.26 756.83C83.5 754.74 82.36 752.65 80.84 752.44Z" fill="#505050"/><ellipse cx="80.84" cy="773.14" rx="6.27" ry="8.36" fill="#5c5c5c"/><ellipse cx="80.84" cy="788.18" rx="7.98" ry="4.18" fill="#5a5a5a"/><ellipse cx="80.84" cy="758.51" rx="3.23" ry="3.76" fill="#585858"/><ellipse cx="80.84" cy="781.91" rx="9.5" ry="1.25" fill="#474747"/></g>
<g filter="url(#b05)"><ellipse cx="80.52" cy="758.57" rx="2.64" ry="3.44" fill="#2a14f4"/><ellipse cx="80.52" cy="758.57" rx="1.55" ry="2.02" fill="#28c8ff"/><ellipse cx="80.61" cy="775.54" rx="6.17" ry="7.38" fill="#2a14f4" transform="rotate(-10.39 80.61 775.54)"/><ellipse cx="81.79" cy="778.22" rx="4.63" ry="4.43" fill="#2a14f4" transform="rotate(-16.2 81.79 778.22)"/><ellipse cx="81.5" cy="775.25" rx="3.39" ry="3.69" fill="#2a14f4" transform="rotate(-37.96 81.5 775.25)"/><ellipse cx="80.61" cy="775.54" rx="5.59" ry="6.68" fill="#28c8ff" transform="rotate(-10.39 80.61 775.54)"/><ellipse cx="81.79" cy="778.22" rx="3.82" ry="3.66" fill="#28c8ff" transform="rotate(-16.2 81.79 778.22)"/><ellipse cx="81.5" cy="775.25" rx="3.07" ry="3.34" fill="#28c8ff" transform="rotate(-37.96 81.5 775.25)"/><ellipse cx="80.61" cy="775.54" rx="4.78" ry="5.71" fill="#3cf03c" transform="rotate(-10.39 80.61 775.54)"/><ellipse cx="81.79" cy="778.22" rx="2.56" ry="2.45" fill="#3cf03c" transform="rotate(-16.2 81.79 778.22)"/><ellipse cx="81.5" cy="775.25" rx="2.63" ry="2.86" fill="#3cf03c" transform="rotate(-37.96 81.5 775.25)"/><ellipse cx="80.61" cy="775.54" rx="3.73" ry="4.46" fill="#f4f020" transform="rotate(-10.39 80.61 775.54)"/><ellipse cx="81.5" cy="775.25" rx="2.06" ry="2.24" fill="#f4f020" transform="rotate(-37.96 81.5 775.25)"/><ellipse cx="80.61" cy="775.54" rx="2.35" ry="2.81" fill="#ff2410" transform="rotate(-10.39 80.61 775.54)"/><ellipse cx="81.5" cy="775.25" rx="1.31" ry="1.42" fill="#ff2410" transform="rotate(-37.96 81.5 775.25)"/></g>
<rect x="91.78" y="751.4" width="19" height="41.8" fill="#2b2b2b"/><g filter="url(#b05)"><path d="M101.28 752.44C99.76 752.65 98.62 754.74 97.86 756.83L94.25 759.34C91.78 760.6 91.78 763.52 94.25 764.36C93.3 765.61 91.78 767.28 91.78 769.37L91.78 774.81L91.78 793.2L110.78 793.2L110.78 774.81L110.78 769.37C110.78 767.28 109.26 765.61 108.31 764.36C110.78 763.52 110.78 760.6 108.31 759.34L104.7 756.83C103.94 754.74 102.8 752.65 101.28 752.44Z" fill="#505050"/><ellipse cx="101.28" cy="773.14" rx="6.27" ry="8.36" fill="#5c5c5c"/><ellipse cx="101.28" cy="788.18" rx="7.98" ry="4.18" fill="#5a5a5a"/><ellipse cx="101.28" cy="758.51" rx="3.23" ry="3.76" fill="#585858"/><ellipse cx="101.28" cy="781.91" rx="9.5" ry="1.25" fill="#474747"/></g>
<g filter="url(#b05)"><ellipse cx="102" cy="759.76" rx="2.57" ry="2.36" fill="#2a14f4"/><ellipse cx="102" cy="759.76" rx="2.01" ry="1.85" fill="#28c8ff"/><ellipse cx="102" cy="759.76" rx="1.2" ry="1.11" fill="#3cf03c"/><ellipse cx="100.56" cy="775.74" rx="6.78" ry="7.94" fill="#2a14f4" transform="rotate(-10.96 100.56 775.74)"/><ellipse cx="102.14" cy="778.62" rx="5.08" ry="4.76" fill="#2a14f4" transform="rotate(6.64 102.14 778.62)"/><ellipse cx="99.53" cy="775.31" rx="3.73" ry="3.97" fill="#2a14f4" transform="rotate(-36.51 99.53 775.31)"/><ellipse cx="100.56" cy="775.74" rx="6.12" ry="7.17" fill="#28c8ff" transform="rotate(-10.96 100.56 775.74)"/><ellipse cx="102.14" cy="778.62" rx="3.92" ry="3.67" fill="#28c8ff" transform="rotate(6.64 102.14 778.62)"/><ellipse cx="99.53" cy="775.31" rx="3.35" ry="3.57" fill="#28c8ff" transform="rotate(-36.51 99.53 775.31)"/><ellipse cx="100.56" cy="775.74" rx="5.2" ry="6.1" fill="#3cf03c" transform="rotate(-10.96 100.56 775.74)"/><ellipse cx="102.14" cy="778.62" rx="1.8" ry="1.69" fill="#3cf03c" transform="rotate(6.64 102.14 778.62)"/><ellipse cx="99.53" cy="775.31" rx="2.83" ry="3.01" fill="#3cf03c" transform="rotate(-36.51 99.53 775.31)"/><ellipse cx="100.56" cy="775.74" rx="4.01" ry="4.7" fill="#f4f020" transform="rotate(-10.96 100.56 775.74)"/><ellipse cx="99.53" cy="775.31" rx="2.14" ry="2.27" fill="#f4f020" transform="rotate(-36.51 99.53 775.31)"/><ellipse cx="100.56" cy="775.74" rx="2.4" ry="2.82" fill="#ff2410" transform="rotate(-10.96 100.56 775.74)"/><ellipse cx="99.53" cy="775.31" rx="1.17" ry="1.25" fill="#ff2410" transform="rotate(-36.51 99.53 775.31)"/></g>
<rect x="112.22" y="751.4" width="19" height="41.8" fill="#2b2b2b"/><g filter="url(#b05)"><path d="M121.72 752.44C120.2 752.65 119.06 754.74 118.3 756.83L114.69 759.34C112.22 760.6 112.22 763.52 114.69 764.36C113.74 765.61 112.22 767.28 112.22 769.37L112.22 774.81L112.22 793.2L131.22 793.2L131.22 774.81L131.22 769.37C131.22 767.28 129.7 765.61 128.75 764.36C131.22 763.52 131.22 760.6 128.75 759.34L125.14 756.83C124.38 754.74 123.24 752.65 121.72 752.44Z" fill="#505050"/><ellipse cx="121.72" cy="773.14" rx="6.27" ry="8.36" fill="#5c5c5c"/><ellipse cx="121.72" cy="788.18" rx="7.98" ry="4.18" fill="#5a5a5a"/><ellipse cx="121.72" cy="758.51" rx="3.23" ry="3.76" fill="#585858"/><ellipse cx="121.72" cy="781.91" rx="9.5" ry="1.25" fill="#474747"/></g>
<g filter="url(#b05)"><ellipse cx="121.3" cy="758.21" rx="1.95" ry="3.02" fill="#2a14f4"/><ellipse cx="121.3" cy="758.21" rx="1.5" ry="2.32" fill="#28c8ff"/><ellipse cx="121.3" cy="758.21" rx="0.83" ry="1.28" fill="#3cf03c"/><ellipse cx="122.25" cy="774.67" rx="6.08" ry="7.36" fill="#2a14f4" transform="rotate(3.01 122.25 774.67)"/><ellipse cx="123.92" cy="778.12" rx="4.56" ry="4.41" fill="#2a14f4" transform="rotate(-26.65 123.92 778.12)"/><ellipse cx="121.19" cy="774.27" rx="3.35" ry="3.68" fill="#2a14f4" transform="rotate(0.47 121.19 774.27)"/><ellipse cx="122.25" cy="774.67" rx="5.5" ry="6.65" fill="#28c8ff" transform="rotate(3.01 122.25 774.67)"/><ellipse cx="123.92" cy="778.12" rx="3.71" ry="3.59" fill="#28c8ff" transform="rotate(-26.65 123.92 778.12)"/><ellipse cx="121.19" cy="774.27" rx="3.04" ry="3.34" fill="#28c8ff" transform="rotate(0.47 121.19 774.27)"/><ellipse cx="122.25" cy="774.67" rx="4.7" ry="5.68" fill="#3cf03c" transform="rotate(3.01 122.25 774.67)"/><ellipse cx="123.92" cy="778.12" rx="2.32" ry="2.25" fill="#3cf03c" transform="rotate(-26.65 123.92 778.12)"/><ellipse cx="121.19" cy="774.27" rx="2.61" ry="2.87" fill="#3cf03c" transform="rotate(0.47 121.19 774.27)"/><ellipse cx="122.25" cy="774.67" rx="3.65" ry="4.42" fill="#f4f020" transform="rotate(3.01 122.25 774.67)"/><ellipse cx="121.19" cy="774.27" rx="2.06" ry="2.27" fill="#f4f020" transform="rotate(0.47 121.19 774.27)"/><ellipse cx="122.25" cy="774.67" rx="2.27" ry="2.74" fill="#ff2410" transform="rotate(3.01 122.25 774.67)"/><ellipse cx="121.19" cy="774.27" rx="1.35" ry="1.49" fill="#ff2410" transform="rotate(0.47 121.19 774.27)"/></g>
<rect x="132.66" y="751.4" width="19" height="41.8" fill="#2b2b2b"/><g filter="url(#b05)"><path d="M142.16 752.44C140.64 752.65 139.5 754.74 138.74 756.83L135.13 759.34C132.66 760.6 132.66 763.52 135.13 764.36C134.18 765.61 132.66 767.28 132.66 769.37L132.66 774.81L132.66 793.2L151.66 793.2L151.66 774.81L151.66 769.37C151.66 767.28 150.14 765.61 149.19 764.36C151.66 763.52 151.66 760.6 149.19 759.34L145.58 756.83C144.82 754.74 143.68 752.65 142.16 752.44Z" fill="#505050"/><ellipse cx="142.16" cy="773.14" rx="6.27" ry="8.36" fill="#5c5c5c"/><ellipse cx="142.16" cy="788.18" rx="7.98" ry="4.18" fill="#5a5a5a"/><ellipse cx="142.16" cy="758.51" rx="3.23" ry="3.76" fill="#585858"/><ellipse cx="142.16" cy="781.91" rx="9.5" ry="1.25" fill="#474747"/></g>
<g filter="url(#b05)"><ellipse cx="142.07" cy="759.13" rx="2.15" ry="2.99" fill="#2a14f4"/><ellipse cx="142.07" cy="759.13" rx="1.37" ry="1.91" fill="#28c8ff"/><ellipse cx="142.45" cy="775.47" rx="5.69" ry="7.24" fill="#2a14f4" transform="rotate(-3.86 142.45 775.47)"/><ellipse cx="141.23" cy="779.77" rx="4.27" ry="4.34" fill="#2a14f4" transform="rotate(9.3 141.23 779.77)"/><ellipse cx="142.96" cy="773.27" rx="3.13" ry="3.62" fill="#2a14f4" transform="rotate(-30.02 142.96 773.27)"/><ellipse cx="142.45" cy="775.47" rx="5.16" ry="6.56" fill="#28c8ff" transform="rotate(-3.86 142.45 775.47)"/><ellipse cx="141.23" cy="779.77" rx="2.94" ry="2.99" fill="#28c8ff" transform="rotate(9.3 141.23 779.77)"/><ellipse cx="142.96" cy="773.27" rx="2.83" ry="3.27" fill="#28c8ff" transform="rotate(-30.02 142.96 773.27)"/><ellipse cx="142.45" cy="775.47" rx="4.42" ry="5.63" fill="#3cf03c" transform="rotate(-3.86 142.45 775.47)"/><ellipse cx="142.96" cy="773.27" rx="2.42" ry="2.79" fill="#3cf03c" transform="rotate(-30.02 142.96 773.27)"/><ellipse cx="142.45" cy="775.47" rx="3.47" ry="4.42" fill="#f4f020" transform="rotate(-3.86 142.45 775.47)"/><ellipse cx="142.96" cy="773.27" rx="1.88" ry="2.17" fill="#f4f020" transform="rotate(-30.02 142.96 773.27)"/><ellipse cx="142.45" cy="775.47" rx="2.23" ry="2.84" fill="#ff2410" transform="rotate(-3.86 142.45 775.47)"/><ellipse cx="142.96" cy="773.27" rx="1.17" ry="1.35" fill="#ff2410" transform="rotate(-30.02 142.96 773.27)"/></g>
<rect x="153.1" y="751.4" width="19" height="41.8" fill="#2b2b2b"/><g filter="url(#b05)"><path d="M162.6 752.44C161.08 752.65 159.94 754.74 159.18 756.83L155.57 759.34C153.1 760.6 153.1 763.52 155.57 764.36C154.62 765.61 153.1 767.28 153.1 769.37L153.1 774.81L153.1 793.2L172.1 793.2L172.1 774.81L172.1 769.37C172.1 767.28 170.58 765.61 169.63 764.36C172.1 763.52 172.1 760.6 169.63 759.34L166.02 756.83C165.26 754.74 164.12 752.65 162.6 752.44Z" fill="#505050"/><ellipse cx="162.6" cy="773.14" rx="6.27" ry="8.36" fill="#5c5c5c"/><ellipse cx="162.6" cy="788.18" rx="7.98" ry="4.18" fill="#5a5a5a"/><ellipse cx="162.6" cy="758.51" rx="3.23" ry="3.76" fill="#585858"/><ellipse cx="162.6" cy="781.91" rx="9.5" ry="1.25" fill="#474747"/></g>
<g filter="url(#b05)"><ellipse cx="161.91" cy="759.55" rx="2.36" ry="2.7" fill="#2a14f4"/><ellipse cx="161.91" cy="759.55" rx="1.83" ry="2.1" fill="#28c8ff"/><ellipse cx="161.91" cy="759.55" rx="1.06" ry="1.22" fill="#3cf03c"/><ellipse cx="161.52" cy="775.91" rx="5.58" ry="7.12" fill="#2a14f4" transform="rotate(13.56 161.52 775.91)"/><ellipse cx="160.46" cy="778.7" rx="4.19" ry="4.27" fill="#2a14f4" transform="rotate(28.36 160.46 778.7)"/><ellipse cx="162.49" cy="773.86" rx="3.07" ry="3.56" fill="#2a14f4" transform="rotate(9.98 162.49 773.86)"/><ellipse cx="161.52" cy="775.91" rx="5.06" ry="6.45" fill="#28c8ff" transform="rotate(13.56 161.52 775.91)"/><ellipse cx="160.46" cy="778.7" rx="3.39" ry="3.45" fill="#28c8ff" transform="rotate(28.36 160.46 778.7)"/><ellipse cx="162.49" cy="773.86" rx="2.77" ry="3.21" fill="#28c8ff" transform="rotate(9.98 162.49 773.86)"/><ellipse cx="161.52" cy="775.91" rx="4.33" ry="5.52" fill="#3cf03c" transform="rotate(13.56 161.52 775.91)"/><ellipse cx="160.46" cy="778.7" rx="2.08" ry="2.12" fill="#3cf03c" transform="rotate(28.36 160.46 778.7)"/><ellipse cx="162.49" cy="773.86" rx="2.35" ry="2.72" fill="#3cf03c" transform="rotate(9.98 162.49 773.86)"/><ellipse cx="161.52" cy="775.91" rx="3.39" ry="4.33" fill="#f4f020" transform="rotate(13.56 161.52 775.91)"/><ellipse cx="162.49" cy="773.86" rx="1.8" ry="2.09" fill="#f4f020" transform="rotate(9.98 162.49 773.86)"/><ellipse cx="161.52" cy="775.91" rx="2.17" ry="2.76" fill="#ff2410" transform="rotate(13.56 161.52 775.91)"/><ellipse cx="162.49" cy="773.86" rx="1.06" ry="1.23" fill="#ff2410" transform="rotate(9.98 162.49 773.86)"/></g>
<rect x="173.54" y="751.4" width="19" height="41.8" fill="#2b2b2b"/><g filter="url(#b05)"><path d="M183.04 752.44C181.52 752.65 180.38 754.74 179.62 756.83L176.01 759.34C173.54 760.6 173.54 763.52 176.01 764.36C175.06 765.61 173.54 767.28 173.54 769.37L173.54 774.81L173.54 793.2L192.54 793.2L192.54 774.81L192.54 769.37C192.54 767.28 191.02 765.61 190.07 764.36C192.54 763.52 192.54 760.6 190.07 759.34L186.46 756.83C185.7 754.74 184.56 752.65 183.04 752.44Z" fill="#505050"/><ellipse cx="183.04" cy="773.14" rx="6.27" ry="8.36" fill="#5c5c5c"/><ellipse cx="183.04" cy="788.18" rx="7.98" ry="4.18" fill="#5a5a5a"/><ellipse cx="183.04" cy="758.51" rx="3.23" ry="3.76" fill="#585858"/><ellipse cx="183.04" cy="781.91" rx="9.5" ry="1.25" fill="#474747"/></g>
<g filter="url(#b05)"><ellipse cx="182.35" cy="758.65" rx="2.48" ry="2.74" fill="#2a14f4"/><ellipse cx="182.35" cy="758.65" rx="1.7" ry="1.88" fill="#28c8ff"/><ellipse cx="182.35" cy="758.65" rx="0.37" ry="0.4" fill="#3cf03c"/><ellipse cx="182.16" cy="776.13" rx="6.37" ry="8.07" fill="#2a14f4" transform="rotate(-2 182.16 776.13)"/><ellipse cx="182.23" cy="780.12" rx="4.78" ry="4.84" fill="#2a14f4" transform="rotate(4.4 182.23 780.12)"/><ellipse cx="181.84" cy="773.94" rx="3.5" ry="4.04" fill="#2a14f4" transform="rotate(-37.35 181.84 773.94)"/><ellipse cx="182.16" cy="776.13" rx="5.78" ry="7.33" fill="#28c8ff" transform="rotate(-2 182.16 776.13)"/><ellipse cx="182.23" cy="780.12" rx="3.91" ry="3.96" fill="#28c8ff" transform="rotate(4.4 182.23 780.12)"/><ellipse cx="181.84" cy="773.94" rx="3.15" ry="3.63" fill="#28c8ff" transform="rotate(-37.35 181.84 773.94)"/><ellipse cx="182.16" cy="776.13" rx="4.97" ry="6.29" fill="#3cf03c" transform="rotate(-2 182.16 776.13)"/><ellipse cx="182.23" cy="780.12" rx="2.51" ry="2.55" fill="#3cf03c" transform="rotate(4.4 182.23 780.12)"/><ellipse cx="181.84" cy="773.94" rx="2.67" ry="3.07" fill="#3cf03c" transform="rotate(-37.35 181.84 773.94)"/><ellipse cx="182.16" cy="776.13" rx="3.92" ry="4.96" fill="#f4f020" transform="rotate(-2 182.16 776.13)"/><ellipse cx="181.84" cy="773.94" rx="2.03" ry="2.34" fill="#f4f020" transform="rotate(-37.35 181.84 773.94)"/><ellipse cx="182.16" cy="776.13" rx="2.56" ry="3.24" fill="#ff2410" transform="rotate(-2 182.16 776.13)"/><ellipse cx="181.84" cy="773.94" rx="1.14" ry="1.32" fill="#ff2410" transform="rotate(-37.35 181.84 773.94)"/></g>
<rect x="193.98" y="751.4" width="19" height="41.8" fill="#2b2b2b"/><g filter="url(#b05)"><path d="M203.48 752.44C201.96 752.65 200.82 754.74 200.06 756.83L196.45 759.34C193.98 760.6 193.98 763.52 196.45 764.36C195.5 765.61 193.98 767.28 193.98 769.37L193.98 774.81L193.98 793.2L212.98 793.2L212.98 774.81L212.98 769.37C212.98 767.28 211.46 765.61 210.51 764.36C212.98 763.52 212.98 760.6 210.51 759.34L206.9 756.83C206.14 754.74 205 752.65 203.48 752.44Z" fill="#505050"/><ellipse cx="203.48" cy="773.14" rx="6.27" ry="8.36" fill="#5c5c5c"/><ellipse cx="203.48" cy="788.18" rx="7.98" ry="4.18" fill="#5a5a5a"/><ellipse cx="203.48" cy="758.51" rx="3.23" ry="3.76" fill="#585858"/><ellipse cx="203.48" cy="781.91" rx="9.5" ry="1.25" fill="#474747"/></g>
<g filter="url(#b05)"><ellipse cx="202.41" cy="759.57" rx="2.36" ry="3.25" fill="#2a14f4"/><ellipse cx="202.41" cy="759.57" rx="1.15" ry="1.59" fill="#28c8ff"/><ellipse cx="203.23" cy="776.25" rx="6.33" ry="7.52" fill="#2a14f4" transform="rotate(-1.03 203.23 776.25)"/><ellipse cx="201.92" cy="779.16" rx="4.75" ry="4.51" fill="#2a14f4" transform="rotate(-7.52 201.92 779.16)"/><ellipse cx="204.39" cy="774.25" rx="3.48" ry="3.76" fill="#2a14f4" transform="rotate(-19.67 204.39 774.25)"/><ellipse cx="203.23" cy="776.25" rx="5.71" ry="6.78" fill="#28c8ff" transform="rotate(-1.03 203.23 776.25)"/><ellipse cx="201.92" cy="779.16" rx="3.64" ry="3.46" fill="#28c8ff" transform="rotate(-7.52 201.92 779.16)"/><ellipse cx="204.39" cy="774.25" rx="3.14" ry="3.39" fill="#28c8ff" transform="rotate(-19.67 204.39 774.25)"/><ellipse cx="203.23" cy="776.25" rx="4.84" ry="5.74" fill="#3cf03c" transform="rotate(-1.03 203.23 776.25)"/><ellipse cx="201.92" cy="779.16" rx="1.57" ry="1.49" fill="#3cf03c" transform="rotate(-7.52 201.92 779.16)"/><ellipse cx="204.39" cy="774.25" rx="2.66" ry="2.87" fill="#3cf03c" transform="rotate(-19.67 204.39 774.25)"/><ellipse cx="203.23" cy="776.25" rx="3.69" ry="4.39" fill="#f4f020" transform="rotate(-1.03 203.23 776.25)"/><ellipse cx="204.39" cy="774.25" rx="2.03" ry="2.19" fill="#f4f020" transform="rotate(-19.67 204.39 774.25)"/><ellipse cx="203.23" cy="776.25" rx="2.13" ry="2.53" fill="#ff2410" transform="rotate(-1.03 203.23 776.25)"/><ellipse cx="204.39" cy="774.25" rx="1.17" ry="1.26" fill="#ff2410" transform="rotate(-19.67 204.39 774.25)"/></g>
<rect x="214.42" y="751.4" width="19" height="41.8" fill="#2b2b2b"/><g filter="url(#b05)"><path d="M223.92 752.44C222.4 752.65 221.26 754.74 220.5 756.83L216.89 759.34C214.42 760.6 214.42 763.52 216.89 764.36C215.94 765.61 214.42 767.28 214.42 769.37L214.42 774.81L214.42 793.2L233.42 793.2L233.42 774.81L233.42 769.37C233.42 767.28 231.9 765.61 230.95 764.36C233.42 763.52 233.42 760.6 230.95 759.34L227.34 756.83C226.58 754.74 225.44 752.65 223.92 752.44Z" fill="#505050"/><ellipse cx="223.92" cy="773.14" rx="6.27" ry="8.36" fill="#5c5c5c"/><ellipse cx="223.92" cy="788.18" rx="7.98" ry="4.18" fill="#5a5a5a"/><ellipse cx="223.92" cy="758.51" rx="3.23" ry="3.76" fill="#585858"/><ellipse cx="223.92" cy="781.91" rx="9.5" ry="1.25" fill="#474747"/></g>
<g filter="url(#b05)"><ellipse cx="223.09" cy="758.57" rx="2.12" ry="2.9" fill="#2a14f4"/><ellipse cx="223.09" cy="758.57" rx="1.09" ry="1.5" fill="#28c8ff"/><ellipse cx="224.54" cy="775.16" rx="6.76" ry="7.9" fill="#2a14f4" transform="rotate(5.21 224.54 775.16)"/><ellipse cx="226.23" cy="777.96" rx="5.07" ry="4.74" fill="#2a14f4" transform="rotate(10.11 226.23 777.96)"/><ellipse cx="225.07" cy="775.09" rx="3.72" ry="3.95" fill="#2a14f4" transform="rotate(-26.94 225.07 775.09)"/><ellipse cx="224.54" cy="775.16" rx="6.11" ry="7.15" fill="#28c8ff" transform="rotate(5.21 224.54 775.16)"/><ellipse cx="226.23" cy="777.96" rx="3.78" ry="3.54" fill="#28c8ff" transform="rotate(10.11 226.23 777.96)"/><ellipse cx="225.07" cy="775.09" rx="3.35" ry="3.56" fill="#28c8ff" transform="rotate(-26.94 225.07 775.09)"/><ellipse cx="224.54" cy="775.16" rx="5.21" ry="6.1" fill="#3cf03c" transform="rotate(5.21 224.54 775.16)"/><ellipse cx="226.23" cy="777.96" rx="1.18" ry="1.1" fill="#3cf03c" transform="rotate(10.11 226.23 777.96)"/><ellipse cx="225.07" cy="775.09" rx="2.83" ry="3.01" fill="#3cf03c" transform="rotate(-26.94 225.07 775.09)"/><ellipse cx="224.54" cy="775.16" rx="4.05" ry="4.74" fill="#f4f020" transform="rotate(5.21 224.54 775.16)"/><ellipse cx="225.07" cy="775.09" rx="2.15" ry="2.29" fill="#f4f020" transform="rotate(-26.94 225.07 775.09)"/><ellipse cx="224.54" cy="775.16" rx="2.51" ry="2.93" fill="#ff2410" transform="rotate(5.21 224.54 775.16)"/><ellipse cx="225.07" cy="775.09" rx="1.21" ry="1.29" fill="#ff2410" transform="rotate(-26.94 225.07 775.09)"/></g>
<rect x="234.86" y="751.4" width="19" height="41.8" fill="#2b2b2b"/><g filter="url(#b05)"><path d="M244.36 752.44C242.84 752.65 241.7 754.74 240.94 756.83L237.33 759.34C234.86 760.6 234.86 763.52 237.33 764.36C236.38 765.61 234.86 767.28 234.86 769.37L234.86 774.81L234.86 793.2L253.86 793.2L253.86 774.81L253.86 769.37C253.86 767.28 252.34 765.61 251.39 764.36C253.86 763.52 253.86 760.6 251.39 759.34L247.78 756.83C247.02 754.74 245.88 752.65 244.36 752.44Z" fill="#505050"/><ellipse cx="244.36" cy="773.14" rx="6.27" ry="8.36" fill="#5c5c5c"/><ellipse cx="244.36" cy="788.18" rx="7.98" ry="4.18" fill="#5a5a5a"/><ellipse cx="244.36" cy="758.51" rx="3.23" ry="3.76" fill="#585858"/><ellipse cx="244.36" cy="781.91" rx="9.5" ry="1.25" fill="#474747"/></g>
<g filter="url(#b05)"><ellipse cx="243.27" cy="758.47" rx="1.97" ry="2.8" fill="#2a14f4"/><ellipse cx="243.27" cy="758.47" rx="1.58" ry="2.25" fill="#28c8ff"/><ellipse cx="243.27" cy="758.47" rx="1.02" ry="1.45" fill="#3cf03c"/><ellipse cx="243.27" cy="758.47" rx="0.12" ry="0.17" fill="#f4f020"/><ellipse cx="243.91" cy="775.04" rx="6.13" ry="7.31" fill="#2a14f4" transform="rotate(6.97 243.91 775.04)"/><ellipse cx="242.63" cy="778.15" rx="4.6" ry="4.39" fill="#2a14f4" transform="rotate(10.33 242.63 778.15)"/><ellipse cx="244.36" cy="773.97" rx="3.37" ry="3.66" fill="#2a14f4" transform="rotate(38.03 244.36 773.97)"/><ellipse cx="243.91" cy="775.04" rx="5.56" ry="6.63" fill="#28c8ff" transform="rotate(6.97 243.91 775.04)"/><ellipse cx="242.63" cy="778.15" rx="3.85" ry="3.68" fill="#28c8ff" transform="rotate(10.33 242.63 778.15)"/><ellipse cx="244.36" cy="773.97" rx="3.03" ry="3.28" fill="#28c8ff" transform="rotate(38.03 244.36 773.97)"/><ellipse cx="243.91" cy="775.04" rx="4.76" ry="5.68" fill="#3cf03c" transform="rotate(6.97 243.91 775.04)"/><ellipse cx="242.63" cy="778.15" rx="2.71" ry="2.58" fill="#3cf03c" transform="rotate(10.33 242.63 778.15)"/><ellipse cx="244.36" cy="773.97" rx="2.55" ry="2.76" fill="#3cf03c" transform="rotate(38.03 244.36 773.97)"/><ellipse cx="243.91" cy="775.04" rx="3.74" ry="4.46" fill="#f4f020" transform="rotate(6.97 243.91 775.04)"/><ellipse cx="242.63" cy="778.15" rx="0.21" ry="0.2" fill="#f4f020" transform="rotate(10.33 242.63 778.15)"/><ellipse cx="244.36" cy="773.97" rx="1.91" ry="2.07" fill="#f4f020" transform="rotate(38.03 244.36 773.97)"/><ellipse cx="243.91" cy="775.04" rx="2.4" ry="2.86" fill="#ff2410" transform="rotate(6.97 243.91 775.04)"/><ellipse cx="244.36" cy="773.97" rx="1.01" ry="1.1" fill="#ff2410" transform="rotate(38.03 244.36 773.97)"/></g>
<rect x="255.3" y="751.4" width="19" height="41.8" fill="#2b2b2b"/><g filter="url(#b05)"><path d="M264.8 752.44C263.28 752.65 262.14 754.74 261.38 756.83L257.77 759.34C255.3 760.6 255.3 763.52 257.77 764.36C256.82 765.61 255.3 767.28 255.3 769.37L255.3 774.81L255.3 793.2L274.3 793.2L274.3 774.81L274.3 769.37C274.3 767.28 272.78 765.61 271.83 764.36C274.3 763.52 274.3 760.6 271.83 759.34L268.22 756.83C267.46 754.74 266.32 752.65 264.8 752.44Z" fill="#505050"/><ellipse cx="264.8" cy="773.14" rx="6.27" ry="8.36" fill="#5c5c5c"/><ellipse cx="264.8" cy="788.18" rx="7.98" ry="4.18" fill="#5a5a5a"/><ellipse cx="264.8" cy="758.51" rx="3.23" ry="3.76" fill="#585858"/><ellipse cx="264.8" cy="781.91" rx="9.5" ry="1.25" fill="#474747"/></g>
<g filter="url(#b05)"><ellipse cx="263.78" cy="759.39" rx="2.29" ry="2.36" fill="#2a14f4"/><ellipse cx="263.78" cy="759.39" rx="1.67" ry="1.72" fill="#28c8ff"/><ellipse cx="263.78" cy="759.39" rx="0.7" ry="0.72" fill="#3cf03c"/><ellipse cx="265.54" cy="775.47" rx="5.98" ry="7.03" fill="#2a14f4" transform="rotate(-12.86 265.54 775.47)"/><ellipse cx="265.51" cy="780.33" rx="4.48" ry="4.22" fill="#2a14f4" transform="rotate(-26.77 265.51 780.33)"/><ellipse cx="264.17" cy="774.3" rx="3.29" ry="3.52" fill="#2a14f4" transform="rotate(-35.19 264.17 774.3)"/><ellipse cx="265.54" cy="775.47" rx="5.42" ry="6.39" fill="#28c8ff" transform="rotate(-12.86 265.54 775.47)"/><ellipse cx="265.51" cy="780.33" rx="3.29" ry="3.1" fill="#28c8ff" transform="rotate(-26.77 265.51 780.33)"/><ellipse cx="264.17" cy="774.3" rx="2.96" ry="3.17" fill="#28c8ff" transform="rotate(-35.19 264.17 774.3)"/><ellipse cx="265.54" cy="775.47" rx="4.66" ry="5.49" fill="#3cf03c" transform="rotate(-12.86 265.54 775.47)"/><ellipse cx="265.51" cy="780.33" rx="0.71" ry="0.67" fill="#3cf03c" transform="rotate(-26.77 265.51 780.33)"/><ellipse cx="264.17" cy="774.3" rx="2.51" ry="2.68" fill="#3cf03c" transform="rotate(-35.19 264.17 774.3)"/><ellipse cx="265.54" cy="775.47" rx="3.69" ry="4.34" fill="#f4f020" transform="rotate(-12.86 265.54 775.47)"/><ellipse cx="264.17" cy="774.3" rx="1.91" ry="2.05" fill="#f4f020" transform="rotate(-35.19 264.17 774.3)"/><ellipse cx="265.54" cy="775.47" rx="2.42" ry="2.85" fill="#ff2410" transform="rotate(-12.86 265.54 775.47)"/><ellipse cx="264.17" cy="774.3" rx="1.1" ry="1.17" fill="#ff2410" transform="rotate(-35.19 264.17 774.3)"/></g>
<rect x="275.74" y="751.4" width="19" height="41.8" fill="#2b2b2b"/><g filter="url(#b05)"><path d="M285.24 752.44C283.72 752.65 282.58 754.74 281.82 756.83L278.21 759.34C275.74 760.6 275.74 763.52 278.21 764.36C277.26 765.61 275.74 767.28 275.74 769.37L275.74 774.81L275.74 793.2L294.74 793.2L294.74 774.81L294.74 769.37C294.74 767.28 293.22 765.61 292.27 764.36C294.74 763.52 294.74 760.6 292.27 759.34L288.66 756.83C287.9 754.74 286.76 752.65 285.24 752.44Z" fill="#505050"/><ellipse cx="285.24" cy="773.14" rx="6.27" ry="8.36" fill="#5c5c5c"/><ellipse cx="285.24" cy="788.18" rx="7.98" ry="4.18" fill="#5a5a5a"/><ellipse cx="285.24" cy="758.51" rx="3.23" ry="3.76" fill="#585858"/><ellipse cx="285.24" cy="781.91" rx="9.5" ry="1.25" fill="#474747"/></g>
<g filter="url(#b05)"><ellipse cx="284.87" cy="758.6" rx="1.95" ry="2.35" fill="#2a14f4"/><ellipse cx="284.87" cy="758.6" rx="1.56" ry="1.88" fill="#28c8ff"/><ellipse cx="284.87" cy="758.6" rx="1.01" ry="1.21" fill="#3cf03c"/><ellipse cx="284.87" cy="758.6" rx="0.11" ry="0.14" fill="#f4f020"/><ellipse cx="284.44" cy="775.45" rx="6.05" ry="7.67" fill="#2a14f4" transform="rotate(-12.47 284.44 775.45)"/><ellipse cx="282.95" cy="779.32" rx="4.53" ry="4.6" fill="#2a14f4" transform="rotate(25.28 282.95 779.32)"/><ellipse cx="285.53" cy="773.66" rx="3.32" ry="3.84" fill="#2a14f4" transform="rotate(-38.61 285.53 773.66)"/><ellipse cx="284.44" cy="775.45" rx="5.46" ry="6.93" fill="#28c8ff" transform="rotate(-12.47 284.44 775.45)"/><ellipse cx="282.95" cy="779.32" rx="3.63" ry="3.68" fill="#28c8ff" transform="rotate(25.28 282.95 779.32)"/><ellipse cx="285.53" cy="773.66" rx="3.01" ry="3.47" fill="#28c8ff" transform="rotate(-38.61 285.53 773.66)"/><ellipse cx="284.44" cy="775.45" rx="4.64" ry="5.9" fill="#3cf03c" transform="rotate(-12.47 284.44 775.45)"/><ellipse cx="282.95" cy="779.32" rx="2.11" ry="2.14" fill="#3cf03c" transform="rotate(25.28 282.95 779.32)"/><ellipse cx="285.53" cy="773.66" rx="2.56" ry="2.96" fill="#3cf03c" transform="rotate(-38.61 285.53 773.66)"/><ellipse cx="284.44" cy="775.45" rx="3.58" ry="4.55" fill="#f4f020" transform="rotate(-12.47 284.44 775.45)"/><ellipse cx="285.53" cy="773.66" rx="1.99" ry="2.29" fill="#f4f020" transform="rotate(-38.61 285.53 773.66)"/><ellipse cx="284.44" cy="775.45" rx="2.16" ry="2.74" fill="#ff2410" transform="rotate(-12.47 284.44 775.45)"/><ellipse cx="285.53" cy="773.66" rx="1.22" ry="1.41" fill="#ff2410" transform="rotate(-38.61 285.53 773.66)"/></g>
<rect x="296.18" y="751.4" width="19" height="41.8" fill="#2b2b2b"/><g filter="url(#b05)"><path d="M305.68 752.44C304.16 752.65 303.02 754.74 302.26 756.83L298.65 759.34C296.18 760.6 296.18 763.52 298.65 764.36C297.7 765.61 296.18 767.28 296.18 769.37L296.18 774.81L296.18 793.2L315.18 793.2L315.18 774.81L315.18 769.37C315.18 767.28 313.66 765.61 312.71 764.36C315.18 763.52 315.18 760.6 312.71 759.34L309.1 756.83C308.34 754.74 307.2 752.65 305.68 752.44Z" fill="#505050"/><ellipse cx="305.68" cy="773.14" rx="6.27" ry="8.36" fill="#5c5c5c"/><ellipse cx="305.68" cy="788.18" rx="7.98" ry="4.18" fill="#5a5a5a"/><ellipse cx="305.68" cy="758.51" rx="3.23" ry="3.76" fill="#585858"/><ellipse cx="305.68" cy="781.91" rx="9.5" ry="1.25" fill="#474747"/></g>
<g filter="url(#b05)"><ellipse cx="305.46" cy="759.04" rx="2.26" ry="3.08" fill="#2a14f4"/><ellipse cx="305.46" cy="759.04" rx="1.73" ry="2.36" fill="#28c8ff"/><ellipse cx="305.46" cy="759.04" rx="0.94" ry="1.28" fill="#3cf03c"/><ellipse cx="306.27" cy="775.03" rx="6.11" ry="8.11" fill="#2a14f4" transform="rotate(-8.28 306.27 775.03)"/><ellipse cx="305.56" cy="777.76" rx="4.58" ry="4.86" fill="#2a14f4" transform="rotate(16.34 305.56 777.76)"/><ellipse cx="305.71" cy="772.96" rx="3.36" ry="4.05" fill="#2a14f4" transform="rotate(-33.44 305.71 772.96)"/><ellipse cx="306.27" cy="775.03" rx="5.5" ry="7.31" fill="#28c8ff" transform="rotate(-8.28 306.27 775.03)"/><ellipse cx="305.56" cy="777.76" rx="3.78" ry="4.02" fill="#28c8ff" transform="rotate(16.34 305.56 777.76)"/><ellipse cx="305.71" cy="772.96" rx="3.03" ry="3.65" fill="#28c8ff" transform="rotate(-33.44 305.71 772.96)"/><ellipse cx="306.27" cy="775.03" rx="4.66" ry="6.19" fill="#3cf03c" transform="rotate(-8.28 306.27 775.03)"/><ellipse cx="305.56" cy="777.76" rx="2.53" ry="2.69" fill="#3cf03c" transform="rotate(16.34 305.56 777.76)"/><ellipse cx="305.71" cy="772.96" rx="2.56" ry="3.09" fill="#3cf03c" transform="rotate(-33.44 305.71 772.96)"/><ellipse cx="306.27" cy="775.03" rx="3.57" ry="4.73" fill="#f4f020" transform="rotate(-8.28 306.27 775.03)"/><ellipse cx="305.71" cy="772.96" rx="1.95" ry="2.35" fill="#f4f020" transform="rotate(-33.44 305.71 772.96)"/><ellipse cx="306.27" cy="775.03" rx="2.06" ry="2.74" fill="#ff2410" transform="rotate(-8.28 306.27 775.03)"/><ellipse cx="305.71" cy="772.96" rx="1.12" ry="1.35" fill="#ff2410" transform="rotate(-33.44 305.71 772.96)"/></g>
<rect x="316.62" y="751.4" width="19" height="41.8" fill="#2b2b2b"/><g filter="url(#b05)"><path d="M326.12 752.44C324.6 752.65 323.46 754.74 322.7 756.83L319.09 759.34C316.62 760.6 316.62 763.52 319.09 764.36C318.14 765.61 316.62 767.28 316.62 769.37L316.62 774.81L316.62 793.2L335.62 793.2L335.62 774.81L335.62 769.37C335.62 767.28 334.1 765.61 333.15 764.36C335.62 763.52 335.62 760.6 333.15 759.34L329.54 756.83C328.78 754.74 327.64 752.65 326.12 752.44Z" fill="#505050"/><ellipse cx="326.12" cy="773.14" rx="6.27" ry="8.36" fill="#5c5c5c"/><ellipse cx="326.12" cy="788.18" rx="7.98" ry="4.18" fill="#5a5a5a"/><ellipse cx="326.12" cy="758.51" rx="3.23" ry="3.76" fill="#585858"/><ellipse cx="326.12" cy="781.91" rx="9.5" ry="1.25" fill="#474747"/></g>
<g filter="url(#b05)"><ellipse cx="325.14" cy="758.8" rx="2.45" ry="2.61" fill="#2a14f4"/><ellipse cx="325.14" cy="758.8" rx="1.31" ry="1.4" fill="#28c8ff"/><ellipse cx="326.31" cy="774.49" rx="5.78" ry="7.32" fill="#2a14f4" transform="rotate(-3.79 326.31 774.49)"/><ellipse cx="326.01" cy="777.79" rx="4.33" ry="4.39" fill="#2a14f4" transform="rotate(15.14 326.01 777.79)"/><ellipse cx="327.52" cy="774.17" rx="3.18" ry="3.66" fill="#2a14f4" transform="rotate(20.78 327.52 774.17)"/><ellipse cx="326.31" cy="774.49" rx="5.2" ry="6.59" fill="#28c8ff" transform="rotate(-3.79 326.31 774.49)"/><ellipse cx="326.01" cy="777.79" rx="3.44" ry="3.48" fill="#28c8ff" transform="rotate(15.14 326.01 777.79)"/><ellipse cx="327.52" cy="774.17" rx="2.87" ry="3.31" fill="#28c8ff" transform="rotate(20.78 327.52 774.17)"/><ellipse cx="326.31" cy="774.49" rx="4.41" ry="5.58" fill="#3cf03c" transform="rotate(-3.79 326.31 774.49)"/><ellipse cx="326.01" cy="777.79" rx="1.92" ry="1.95" fill="#3cf03c" transform="rotate(15.14 326.01 777.79)"/><ellipse cx="327.52" cy="774.17" rx="2.45" ry="2.82" fill="#3cf03c" transform="rotate(20.78 327.52 774.17)"/><ellipse cx="326.31" cy="774.49" rx="3.37" ry="4.26" fill="#f4f020" transform="rotate(-3.79 326.31 774.49)"/><ellipse cx="327.52" cy="774.17" rx="1.9" ry="2.19" fill="#f4f020" transform="rotate(20.78 327.52 774.17)"/><ellipse cx="326.31" cy="774.49" rx="1.94" ry="2.46" fill="#ff2410" transform="rotate(-3.79 326.31 774.49)"/><ellipse cx="327.52" cy="774.17" rx="1.18" ry="1.36" fill="#ff2410" transform="rotate(20.78 327.52 774.17)"/></g>
<rect x="337.06" y="751.4" width="19" height="41.8" fill="#2b2b2b"/><g filter="url(#b05)"><path d="M346.56 752.44C345.04 752.65 343.9 754.74 343.14 756.83L339.53 759.34C337.06 760.6 337.06 763.52 339.53 764.36C338.58 765.61 337.06 767.28 337.06 769.37L337.06 774.81L337.06 793.2L356.06 793.2L356.06 774.81L356.06 769.37C356.06 767.28 354.54 765.61 353.59 764.36C356.06 763.52 356.06 760.6 353.59 759.34L349.98 756.83C349.22 754.74 348.08 752.65 346.56 752.44Z" fill="#505050"/><ellipse cx="346.56" cy="773.14" rx="6.27" ry="8.36" fill="#5c5c5c"/><ellipse cx="346.56" cy="788.18" rx="7.98" ry="4.18" fill="#5a5a5a"/><ellipse cx="346.56" cy="758.51" rx="3.23" ry="3.76" fill="#585858"/><ellipse cx="346.56" cy="781.91" rx="9.5" ry="1.25" fill="#474747"/></g>
<g filter="url(#b05)"><ellipse cx="346.26" cy="759.45" rx="2.52" ry="3.5" fill="#2a14f4"/><ellipse cx="346.26" cy="759.45" rx="1.93" ry="2.68" fill="#28c8ff"/><ellipse cx="346.26" cy="759.45" rx="1.05" ry="1.46" fill="#3cf03c"/><ellipse cx="346.75" cy="774.95" rx="6.59" ry="7.46" fill="#2a14f4" transform="rotate(-11.09 346.75 774.95)"/><ellipse cx="345.5" cy="778.12" rx="4.94" ry="4.47" fill="#2a14f4" transform="rotate(10.55 345.5 778.12)"/><ellipse cx="345.43" cy="775" rx="3.62" ry="3.73" fill="#2a14f4" transform="rotate(4.58 345.43 775)"/><ellipse cx="346.75" cy="774.95" rx="5.94" ry="6.72" fill="#28c8ff" transform="rotate(-11.09 346.75 774.95)"/><ellipse cx="345.5" cy="778.12" rx="3.68" ry="3.33" fill="#28c8ff" transform="rotate(10.55 345.5 778.12)"/><ellipse cx="345.43" cy="775" rx="3.26" ry="3.35" fill="#28c8ff" transform="rotate(4.58 345.43 775)"/><ellipse cx="346.75" cy="774.95" rx="5.03" ry="5.69" fill="#3cf03c" transform="rotate(-11.09 346.75 774.95)"/><ellipse cx="345.5" cy="778.12" rx="1.11" ry="1.01" fill="#3cf03c" transform="rotate(10.55 345.5 778.12)"/><ellipse cx="345.43" cy="775" rx="2.74" ry="2.82" fill="#3cf03c" transform="rotate(4.58 345.43 775)"/><ellipse cx="346.75" cy="774.95" rx="3.83" ry="4.34" fill="#f4f020" transform="rotate(-11.09 346.75 774.95)"/><ellipse cx="345.43" cy="775" rx="2.06" ry="2.12" fill="#f4f020" transform="rotate(4.58 345.43 775)"/><ellipse cx="346.75" cy="774.95" rx="2.19" ry="2.48" fill="#ff2410" transform="rotate(-11.09 346.75 774.95)"/><ellipse cx="345.43" cy="775" rx="1.1" ry="1.13" fill="#ff2410" transform="rotate(4.58 345.43 775)"/></g>
<rect x="357.5" y="751.4" width="19" height="41.8" fill="#2b2b2b"/><g filter="url(#b05)"><path d="M367 752.44C365.48 752.65 364.34 754.74 363.58 756.83L359.97 759.34C357.5 760.6 357.5 763.52 359.97 764.36C359.02 765.61 357.5 767.28 357.5 769.37L357.5 774.81L357.5 793.2L376.5 793.2L376.5 774.81L376.5 769.37C376.5 767.28 374.98 765.61 374.03 764.36C376.5 763.52 376.5 760.6 374.03 759.34L370.42 756.83C369.66 754.74 368.52 752.65 367 752.44Z" fill="#505050"/><ellipse cx="367" cy="773.14" rx="6.27" ry="8.36" fill="#5c5c5c"/><ellipse cx="367" cy="788.18" rx="7.98" ry="4.18" fill="#5a5a5a"/><ellipse cx="367" cy="758.51" rx="3.23" ry="3.76" fill="#585858"/><ellipse cx="367" cy="781.91" rx="9.5" ry="1.25" fill="#474747"/></g>
<g filter="url(#b05)"><ellipse cx="365.96" cy="758.31" rx="2.24" ry="3.38" fill="#2a14f4"/><ellipse cx="365.96" cy="758.31" rx="1.79" ry="2.7" fill="#28c8ff"/><ellipse cx="365.96" cy="758.31" rx="1.14" ry="1.72" fill="#3cf03c"/><ellipse cx="365.96" cy="758.31" rx="0.05" ry="0.07" fill="#f4f020"/><ellipse cx="367.02" cy="774.87" rx="6.08" ry="7.43" fill="#2a14f4" transform="rotate(-5.09 367.02 774.87)"/><ellipse cx="367.34" cy="779.45" rx="4.56" ry="4.46" fill="#2a14f4" transform="rotate(13.61 367.34 779.45)"/><ellipse cx="367.11" cy="772.94" rx="3.34" ry="3.71" fill="#2a14f4" transform="rotate(16.75 367.11 772.94)"/><ellipse cx="367.02" cy="774.87" rx="5.47" ry="6.69" fill="#28c8ff" transform="rotate(-5.09 367.02 774.87)"/><ellipse cx="367.34" cy="779.45" rx="3.16" ry="3.09" fill="#28c8ff" transform="rotate(13.61 367.34 779.45)"/><ellipse cx="367.11" cy="772.94" rx="3.02" ry="3.35" fill="#28c8ff" transform="rotate(16.75 367.11 772.94)"/><ellipse cx="367.02" cy="774.87" rx="4.63" ry="5.65" fill="#3cf03c" transform="rotate(-5.09 367.02 774.87)"/><ellipse cx="367.11" cy="772.94" rx="2.57" ry="2.85" fill="#3cf03c" transform="rotate(16.75 367.11 772.94)"/><ellipse cx="367.02" cy="774.87" rx="3.52" ry="4.3" fill="#f4f020" transform="rotate(-5.09 367.02 774.87)"/><ellipse cx="367.11" cy="772.94" rx="1.98" ry="2.2" fill="#f4f020" transform="rotate(16.75 367.11 772.94)"/><ellipse cx="367.02" cy="774.87" rx="1.99" ry="2.43" fill="#ff2410" transform="rotate(-5.09 367.02 774.87)"/><ellipse cx="367.11" cy="772.94" rx="1.19" ry="1.32" fill="#ff2410" transform="rotate(16.75 367.11 772.94)"/></g>
<rect x="377.94" y="751.4" width="19" height="41.8" fill="#2b2b2b"/><g filter="url(#b05)"><path d="M387.44 752.44C385.92 752.65 384.78 754.74 384.02 756.83L380.41 759.34C377.94 760.6 377.94 763.52 380.41 764.36C379.46 765.61 377.94 767.28 377.94 769.37L377.94 774.81L377.94 793.2L396.94 793.2L396.94 774.81L396.94 769.37C396.94 767.28 395.42 765.61 394.47 764.36C396.94 763.52 396.94 760.6 394.47 759.34L390.86 756.83C390.1 754.74 388.96 752.65 387.44 752.44Z" fill="#505050"/><ellipse cx="387.44" cy="773.14" rx="6.27" ry="8.36" fill="#5c5c5c"/><ellipse cx="387.44" cy="788.18" rx="7.98" ry="4.18" fill="#5a5a5a"/><ellipse cx="387.44" cy="758.51" rx="3.23" ry="3.76" fill="#585858"/><ellipse cx="387.44" cy="781.91" rx="9.5" ry="1.25" fill="#474747"/></g>
<g filter="url(#b05)"><ellipse cx="388.08" cy="759.42" rx="2.01" ry="2.7" fill="#2a14f4"/><ellipse cx="388.08" cy="759.42" rx="1.6" ry="2.14" fill="#28c8ff"/><ellipse cx="388.08" cy="759.42" rx="1" ry="1.34" fill="#3cf03c"/><ellipse cx="387.18" cy="775.3" rx="6.1" ry="8.02" fill="#2a14f4" transform="rotate(13.09 387.18 775.3)"/><ellipse cx="388.96" cy="779.3" rx="4.57" ry="4.81" fill="#2a14f4" transform="rotate(-23.79 388.96 779.3)"/><ellipse cx="386.93" cy="772.96" rx="3.35" ry="4.01" fill="#2a14f4" transform="rotate(38.24 386.93 772.96)"/><ellipse cx="387.18" cy="775.3" rx="5.52" ry="7.26" fill="#28c8ff" transform="rotate(13.09 387.18 775.3)"/><ellipse cx="388.96" cy="779.3" rx="3.78" ry="3.97" fill="#28c8ff" transform="rotate(-23.79 388.96 779.3)"/><ellipse cx="386.93" cy="772.96" rx="3.01" ry="3.6" fill="#28c8ff" transform="rotate(38.24 386.93 772.96)"/><ellipse cx="387.18" cy="775.3" rx="4.71" ry="6.2" fill="#3cf03c" transform="rotate(13.09 387.18 775.3)"/><ellipse cx="388.96" cy="779.3" rx="2.52" ry="2.65" fill="#3cf03c" transform="rotate(-23.79 388.96 779.3)"/><ellipse cx="386.93" cy="772.96" rx="2.54" ry="3.03" fill="#3cf03c" transform="rotate(38.24 386.93 772.96)"/><ellipse cx="387.18" cy="775.3" rx="3.67" ry="4.83" fill="#f4f020" transform="rotate(13.09 387.18 775.3)"/><ellipse cx="386.93" cy="772.96" rx="1.91" ry="2.28" fill="#f4f020" transform="rotate(38.24 386.93 772.96)"/><ellipse cx="387.18" cy="775.3" rx="2.29" ry="3.02" fill="#ff2410" transform="rotate(13.09 387.18 775.3)"/><ellipse cx="386.93" cy="772.96" rx="1.02" ry="1.22" fill="#ff2410" transform="rotate(38.24 386.93 772.96)"/></g>
<rect x="398.38" y="751.4" width="19" height="41.8" fill="#2b2b2b"/><g filter="url(#b05)"><path d="M407.88 752.44C406.36 752.65 405.22 754.74 404.46 756.83L400.85 759.34C398.38 760.6 398.38 763.52 400.85 764.36C399.9 765.61 398.38 767.28 398.38 769.37L398.38 774.81L398.38 793.2L417.38 793.2L417.38 774.81L417.38 769.37C417.38 767.28 415.86 765.61 414.91 764.36C417.38 763.52 417.38 760.6 414.91 759.34L411.3 756.83C410.54 754.74 409.4 752.65 407.88 752.44Z" fill="#505050"/><ellipse cx="407.88" cy="773.14" rx="6.27" ry="8.36" fill="#5c5c5c"/><ellipse cx="407.88" cy="788.18" rx="7.98" ry="4.18" fill="#5a5a5a"/><ellipse cx="407.88" cy="758.51" rx="3.23" ry="3.76" fill="#585858"/><ellipse cx="407.88" cy="781.91" rx="9.5" ry="1.25" fill="#474747"/></g>
<g filter="url(#b05)"><ellipse cx="407.84" cy="758.89" rx="2.74" ry="2.79" fill="#2a14f4"/><ellipse cx="407.84" cy="758.89" rx="1.71" ry="1.74" fill="#28c8ff"/><ellipse cx="407.27" cy="774.81" rx="6.26" ry="7.42" fill="#2a14f4" transform="rotate(7.53 407.27 774.81)"/><ellipse cx="406.7" cy="777.94" rx="4.69" ry="4.45" fill="#2a14f4" transform="rotate(28.95 406.7 777.94)"/><ellipse cx="408.33" cy="774.37" rx="3.44" ry="3.71" fill="#2a14f4" transform="rotate(-7.93 408.33 774.37)"/><ellipse cx="407.27" cy="774.81" rx="5.65" ry="6.7" fill="#28c8ff" transform="rotate(7.53 407.27 774.81)"/><ellipse cx="406.7" cy="777.94" rx="3.89" ry="3.69" fill="#28c8ff" transform="rotate(28.95 406.7 777.94)"/><ellipse cx="408.33" cy="774.37" rx="3.1" ry="3.34" fill="#28c8ff" transform="rotate(-7.93 408.33 774.37)"/><ellipse cx="407.27" cy="774.81" rx="4.8" ry="5.69" fill="#3cf03c" transform="rotate(7.53 407.27 774.81)"/><ellipse cx="406.7" cy="777.94" rx="2.63" ry="2.49" fill="#3cf03c" transform="rotate(28.95 406.7 777.94)"/><ellipse cx="408.33" cy="774.37" rx="2.61" ry="2.82" fill="#3cf03c" transform="rotate(-7.93 408.33 774.37)"/><ellipse cx="407.27" cy="774.81" rx="3.69" ry="4.37" fill="#f4f020" transform="rotate(7.53 407.27 774.81)"/><ellipse cx="408.33" cy="774.37" rx="1.98" ry="2.13" fill="#f4f020" transform="rotate(-7.93 408.33 774.37)"/><ellipse cx="407.27" cy="774.81" rx="2.19" ry="2.6" fill="#ff2410" transform="rotate(7.53 407.27 774.81)"/><ellipse cx="408.33" cy="774.37" rx="1.1" ry="1.18" fill="#ff2410" transform="rotate(-7.93 408.33 774.37)"/></g>
</g>
<text x="46.6" y="817.7" font-size="8.7" text-anchor="end" transform="rotate(-30 46.6 817.7)">PEG-Lip</text>
<g clip-path="url(#cn2)">
<rect x="50.9" y="799.2" width="19" height="41.8" fill="#2b2b2b"/><g filter="url(#b05)"><path d="M60.4 800.25C58.88 800.45 57.74 802.54 56.98 804.63L53.37 807.14C50.9 808.4 50.9 811.32 53.37 812.16C52.42 813.41 50.9 815.08 50.9 817.17L50.9 822.61L50.9 841L69.9 841L69.9 822.61L69.9 817.17C69.9 815.08 68.38 813.41 67.43 812.16C69.9 811.32 69.9 808.4 67.43 807.14L63.82 804.63C63.06 802.54 61.92 800.45 60.4 800.25Z" fill="#505050"/><ellipse cx="60.4" cy="820.94" rx="6.27" ry="8.36" fill="#5c5c5c"/><ellipse cx="60.4" cy="835.98" rx="7.98" ry="4.18" fill="#5a5a5a"/><ellipse cx="60.4" cy="806.31" rx="3.23" ry="3.76" fill="#585858"/><ellipse cx="60.4" cy="829.71" rx="9.5" ry="1.25" fill="#474747"/></g>
<g filter="url(#b05)"><ellipse cx="60.33" cy="822.79" rx="3.1" ry="6.21" fill="#2a14f4" transform="rotate(-20.06 60.33 822.79)"/><ellipse cx="61.55" cy="824.46" rx="2.48" ry="3.72" fill="#2a14f4" transform="rotate(17.82 61.55 824.46)"/><ellipse cx="60.33" cy="822.79" rx="2.64" ry="5.29" fill="#28c8ff" transform="rotate(-20.06 60.33 822.79)"/><ellipse cx="61.55" cy="824.46" rx="1.51" ry="2.27" fill="#28c8ff" transform="rotate(17.82 61.55 824.46)"/><ellipse cx="60.33" cy="822.79" rx="2.02" ry="4.05" fill="#3cf03c" transform="rotate(-20.06 60.33 822.79)"/><ellipse cx="60.33" cy="822.79" rx="1.26" ry="2.52" fill="#f4f020" transform="rotate(-20.06 60.33 822.79)"/><ellipse cx="60.33" cy="822.79" rx="0.25" ry="0.51" fill="#ff2410" transform="rotate(-20.06 60.33 822.79)"/></g>
<rect x="71.34" y="799.2" width="19" height="41.8" fill="#2b2b2b"/><g filter="url(#b05)"><path d="M80.84 800.25C79.32 800.45 78.18 802.54 77.42 804.63L73.81 807.14C71.34 808.4 71.34 811.32 73.81 812.16C72.86 813.41 71.34 815.08 71.34 817.17L71.34 822.61L71.34 841L90.34 841L90.34 822.61L90.34 817.17C90.34 815.08 88.82 813.41 87.87 812.16C90.34 811.32 90.34 808.4 87.87 807.14L84.26 804.63C83.5 802.54 82.36 800.45 80.84 800.25Z" fill="#505050"/><ellipse cx="80.84" cy="820.94" rx="6.27" ry="8.36" fill="#5c5c5c"/><ellipse cx="80.84" cy="835.98" rx="7.98" ry="4.18" fill="#5a5a5a"/><ellipse cx="80.84" cy="806.31" rx="3.23" ry="3.76" fill="#585858"/><ellipse cx="80.84" cy="829.71" rx="9.5" ry="1.25" fill="#474747"/></g>
<g filter="url(#b05)"><ellipse cx="80.38" cy="823.88" rx="3.99" ry="7.52" fill="#2a14f4" transform="rotate(-6.18 80.38 823.88)"/><ellipse cx="80.41" cy="826.36" rx="3.19" ry="4.51" fill="#2a14f4" transform="rotate(-18.92 80.41 826.36)"/><ellipse cx="80.38" cy="823.88" rx="3.16" ry="5.97" fill="#28c8ff" transform="rotate(-6.18 80.38 823.88)"/><ellipse cx="80.41" cy="826.36" rx="2.01" ry="2.84" fill="#28c8ff" transform="rotate(-18.92 80.41 826.36)"/><ellipse cx="80.38" cy="823.88" rx="2.02" ry="3.81" fill="#3cf03c" transform="rotate(-6.18 80.38 823.88)"/><ellipse cx="80.38" cy="823.88" rx="0.35" ry="0.65" fill="#f4f020" transform="rotate(-6.18 80.38 823.88)"/></g>
<rect x="91.78" y="799.2" width="19" height="41.8" fill="#2b2b2b"/><g filter="url(#b05)"><path d="M101.28 800.25C99.76 800.45 98.62 802.54 97.86 804.63L94.25 807.14C91.78 808.4 91.78 811.32 94.25 812.16C93.3 813.41 91.78 815.08 91.78 817.17L91.78 822.61L91.78 841L110.78 841L110.78 822.61L110.78 817.17C110.78 815.08 109.26 813.41 108.31 812.16C110.78 811.32 110.78 808.4 108.31 807.14L104.7 804.63C103.94 802.54 102.8 800.45 101.28 800.25Z" fill="#505050"/><ellipse cx="101.28" cy="820.94" rx="6.27" ry="8.36" fill="#5c5c5c"/><ellipse cx="101.28" cy="835.98" rx="7.98" ry="4.18" fill="#5a5a5a"/><ellipse cx="101.28" cy="806.31" rx="3.23" ry="3.76" fill="#585858"/><ellipse cx="101.28" cy="829.71" rx="9.5" ry="1.25" fill="#474747"/></g>
<g filter="url(#b05)"><ellipse cx="99.84" cy="821.43" rx="3.51" ry="6.65" fill="#2a14f4" transform="rotate(-1.19 99.84 821.43)"/><ellipse cx="99.54" cy="824.74" rx="2.81" ry="3.99" fill="#2a14f4" transform="rotate(18.93 99.54 824.74)"/><ellipse cx="99.84" cy="821.43" rx="2.99" ry="5.66" fill="#28c8ff" transform="rotate(-1.19 99.84 821.43)"/><ellipse cx="99.54" cy="824.74" rx="2.08" ry="2.95" fill="#28c8ff" transform="rotate(18.93 99.54 824.74)"/><ellipse cx="99.84" cy="821.43" rx="2.29" ry="4.33" fill="#3cf03c" transform="rotate(-1.19 99.84 821.43)"/><ellipse cx="99.54" cy="824.74" rx="1" ry="1.42" fill="#3cf03c" transform="rotate(18.93 99.54 824.74)"/><ellipse cx="99.84" cy="821.43" rx="1.41" ry="2.68" fill="#f4f020" transform="rotate(-1.19 99.84 821.43)"/><ellipse cx="99.84" cy="821.43" rx="0.26" ry="0.48" fill="#ff2410" transform="rotate(-1.19 99.84 821.43)"/></g>
<rect x="112.22" y="799.2" width="19" height="41.8" fill="#2b2b2b"/><g filter="url(#b05)"><path d="M121.72 800.25C120.2 800.45 119.06 802.54 118.3 804.63L114.69 807.14C112.22 808.4 112.22 811.32 114.69 812.16C113.74 813.41 112.22 815.08 112.22 817.17L112.22 822.61L112.22 841L131.22 841L131.22 822.61L131.22 817.17C131.22 815.08 129.7 813.41 128.75 812.16C131.22 811.32 131.22 808.4 128.75 807.14L125.14 804.63C124.38 802.54 123.24 800.45 121.72 800.25Z" fill="#505050"/><ellipse cx="121.72" cy="820.94" rx="6.27" ry="8.36" fill="#5c5c5c"/><ellipse cx="121.72" cy="835.98" rx="7.98" ry="4.18" fill="#5a5a5a"/><ellipse cx="121.72" cy="806.31" rx="3.23" ry="3.76" fill="#585858"/><ellipse cx="121.72" cy="829.71" rx="9.5" ry="1.25" fill="#474747"/></g>
<g filter="url(#b05)"><ellipse cx="121.28" cy="823.31" rx="3.86" ry="7.52" fill="#2a14f4" transform="rotate(-6.86 121.28 823.31)"/><ellipse cx="121.83" cy="825.66" rx="3.08" ry="4.51" fill="#2a14f4" transform="rotate(-12.95 121.83 825.66)"/><ellipse cx="121.28" cy="823.31" rx="3.25" ry="6.35" fill="#28c8ff" transform="rotate(-6.86 121.28 823.31)"/><ellipse cx="121.83" cy="825.66" rx="1.57" ry="2.3" fill="#28c8ff" transform="rotate(-12.95 121.83 825.66)"/><ellipse cx="121.28" cy="823.31" rx="2.44" ry="4.77" fill="#3cf03c" transform="rotate(-6.86 121.28 823.31)"/><ellipse cx="121.28" cy="823.31" rx="1.43" ry="2.78" fill="#f4f020" transform="rotate(-6.86 121.28 823.31)"/></g>
<rect x="132.66" y="799.2" width="19" height="41.8" fill="#2b2b2b"/><g filter="url(#b05)"><path d="M142.16 800.25C140.64 800.45 139.5 802.54 138.74 804.63L135.13 807.14C132.66 808.4 132.66 811.32 135.13 812.16C134.18 813.41 132.66 815.08 132.66 817.17L132.66 822.61L132.66 841L151.66 841L151.66 822.61L151.66 817.17C151.66 815.08 150.14 813.41 149.19 812.16C151.66 811.32 151.66 808.4 149.19 807.14L145.58 804.63C144.82 802.54 143.68 800.45 142.16 800.25Z" fill="#505050"/><ellipse cx="142.16" cy="820.94" rx="6.27" ry="8.36" fill="#5c5c5c"/><ellipse cx="142.16" cy="835.98" rx="7.98" ry="4.18" fill="#5a5a5a"/><ellipse cx="142.16" cy="806.31" rx="3.23" ry="3.76" fill="#585858"/><ellipse cx="142.16" cy="829.71" rx="9.5" ry="1.25" fill="#474747"/></g>
<g filter="url(#b05)"><ellipse cx="140.11" cy="822.4" rx="3.92" ry="7.44" fill="#2a14f4" transform="rotate(10.72 140.11 822.4)"/><ellipse cx="141.42" cy="824.22" rx="3.14" ry="4.46" fill="#2a14f4" transform="rotate(12.96 141.42 824.22)"/><ellipse cx="140.11" cy="822.4" rx="3.23" ry="6.12" fill="#28c8ff" transform="rotate(10.72 140.11 822.4)"/><ellipse cx="141.42" cy="824.22" rx="1.59" ry="2.26" fill="#28c8ff" transform="rotate(12.96 141.42 824.22)"/><ellipse cx="140.11" cy="822.4" rx="2.28" ry="4.32" fill="#3cf03c" transform="rotate(10.72 140.11 822.4)"/><ellipse cx="140.11" cy="822.4" rx="1.04" ry="1.96" fill="#f4f020" transform="rotate(10.72 140.11 822.4)"/></g>
<rect x="153.1" y="799.2" width="19" height="41.8" fill="#2b2b2b"/><g filter="url(#b05)"><path d="M162.6 800.25C161.08 800.45 159.94 802.54 159.18 804.63L155.57 807.14C153.1 808.4 153.1 811.32 155.57 812.16C154.62 813.41 153.1 815.08 153.1 817.17L153.1 822.61L153.1 841L172.1 841L172.1 822.61L172.1 817.17C172.1 815.08 170.58 813.41 169.63 812.16C172.1 811.32 172.1 808.4 169.63 807.14L166.02 804.63C165.26 802.54 164.12 800.45 162.6 800.25Z" fill="#505050"/><ellipse cx="162.6" cy="820.94" rx="6.27" ry="8.36" fill="#5c5c5c"/><ellipse cx="162.6" cy="835.98" rx="7.98" ry="4.18" fill="#5a5a5a"/><ellipse cx="162.6" cy="806.31" rx="3.23" ry="3.76" fill="#585858"/><ellipse cx="162.6" cy="829.71" rx="9.5" ry="1.25" fill="#474747"/></g>
<g filter="url(#b05)"><ellipse cx="162.32" cy="823.31" rx="4.49" ry="7.73" fill="#2a14f4" transform="rotate(9.38 162.32 823.31)"/><ellipse cx="163.05" cy="825.85" rx="3.6" ry="4.64" fill="#2a14f4" transform="rotate(-17.48 163.05 825.85)"/><ellipse cx="162.32" cy="823.31" rx="3.86" ry="6.63" fill="#28c8ff" transform="rotate(9.38 162.32 823.31)"/><ellipse cx="163.05" cy="825.85" rx="2.38" ry="3.07" fill="#28c8ff" transform="rotate(-17.48 163.05 825.85)"/><ellipse cx="162.32" cy="823.31" rx="3.01" ry="5.17" fill="#3cf03c" transform="rotate(9.38 162.32 823.31)"/><ellipse cx="163.05" cy="825.85" rx="0.38" ry="0.49" fill="#3cf03c" transform="rotate(-17.48 163.05 825.85)"/><ellipse cx="162.32" cy="823.31" rx="1.97" ry="3.38" fill="#f4f020" transform="rotate(9.38 162.32 823.31)"/><ellipse cx="162.32" cy="823.31" rx="0.67" ry="1.15" fill="#ff2410" transform="rotate(9.38 162.32 823.31)"/></g>
<rect x="173.54" y="799.2" width="19" height="41.8" fill="#2b2b2b"/><g filter="url(#b05)"><path d="M183.04 800.25C181.52 800.45 180.38 802.54 179.62 804.63L176.01 807.14C173.54 808.4 173.54 811.32 176.01 812.16C175.06 813.41 173.54 815.08 173.54 817.17L173.54 822.61L173.54 841L192.54 841L192.54 822.61L192.54 817.17C192.54 815.08 191.02 813.41 190.07 812.16C192.54 811.32 192.54 808.4 190.07 807.14L186.46 804.63C185.7 802.54 184.56 800.45 183.04 800.25Z" fill="#505050"/><ellipse cx="183.04" cy="820.94" rx="6.27" ry="8.36" fill="#5c5c5c"/><ellipse cx="183.04" cy="835.98" rx="7.98" ry="4.18" fill="#5a5a5a"/><ellipse cx="183.04" cy="806.31" rx="3.23" ry="3.76" fill="#585858"/><ellipse cx="183.04" cy="829.71" rx="9.5" ry="1.25" fill="#474747"/></g>
<g filter="url(#b05)"><ellipse cx="183.14" cy="822.05" rx="4.52" ry="6.99" fill="#2a14f4" transform="rotate(-5.33 183.14 822.05)"/><ellipse cx="182.73" cy="821.4" rx="6.78" ry="2.8" fill="#2a14f4" transform="rotate(6.12 182.73 821.4)"/><ellipse cx="183.14" cy="822.05" rx="3.58" ry="5.54" fill="#28c8ff" transform="rotate(-5.33 183.14 822.05)"/><ellipse cx="182.73" cy="821.4" rx="5.3" ry="2.18" fill="#28c8ff" transform="rotate(6.12 182.73 821.4)"/><ellipse cx="183.14" cy="822.05" rx="2.28" ry="3.52" fill="#3cf03c" transform="rotate(-5.33 183.14 822.05)"/><ellipse cx="182.73" cy="821.4" rx="3.21" ry="1.32" fill="#3cf03c" transform="rotate(6.12 182.73 821.4)"/><ellipse cx="183.14" cy="822.05" rx="0.36" ry="0.56" fill="#f4f020" transform="rotate(-5.33 183.14 822.05)"/></g>
<rect x="193.98" y="799.2" width="19" height="41.8" fill="#2b2b2b"/><g filter="url(#b05)"><path d="M203.48 800.25C201.96 800.45 200.82 802.54 200.06 804.63L196.45 807.14C193.98 808.4 193.98 811.32 196.45 812.16C195.5 813.41 193.98 815.08 193.98 817.17L193.98 822.61L193.98 841L212.98 841L212.98 822.61L212.98 817.17C212.98 815.08 211.46 813.41 210.51 812.16C212.98 811.32 212.98 808.4 210.51 807.14L206.9 804.63C206.14 802.54 205 800.45 203.48 800.25Z" fill="#505050"/><ellipse cx="203.48" cy="820.94" rx="6.27" ry="8.36" fill="#5c5c5c"/><ellipse cx="203.48" cy="835.98" rx="7.98" ry="4.18" fill="#5a5a5a"/><ellipse cx="203.48" cy="806.31" rx="3.23" ry="3.76" fill="#585858"/><ellipse cx="203.48" cy="829.71" rx="9.5" ry="1.25" fill="#474747"/></g>
<g filter="url(#b05)"><ellipse cx="203.62" cy="823.15" rx="3.63" ry="6.08" fill="#2a14f4" transform="rotate(9.44 203.62 823.15)"/><ellipse cx="204.44" cy="823.15" rx="5.44" ry="2.43" fill="#2a14f4" transform="rotate(15.47 204.44 823.15)"/><ellipse cx="203.62" cy="823.15" rx="3.05" ry="5.11" fill="#28c8ff" transform="rotate(9.44 203.62 823.15)"/><ellipse cx="204.44" cy="823.15" rx="3.52" ry="1.57" fill="#28c8ff" transform="rotate(15.47 204.44 823.15)"/><ellipse cx="203.62" cy="823.15" rx="2.27" ry="3.81" fill="#3cf03c" transform="rotate(9.44 203.62 823.15)"/><ellipse cx="204.44" cy="823.15" rx="0.18" ry="0.08" fill="#3cf03c" transform="rotate(15.47 204.44 823.15)"/><ellipse cx="203.62" cy="823.15" rx="1.3" ry="2.17" fill="#f4f020" transform="rotate(9.44 203.62 823.15)"/></g>
<rect x="214.42" y="799.2" width="19" height="41.8" fill="#2b2b2b"/><g filter="url(#b05)"><path d="M223.92 800.25C222.4 800.45 221.26 802.54 220.5 804.63L216.89 807.14C214.42 808.4 214.42 811.32 216.89 812.16C215.94 813.41 214.42 815.08 214.42 817.17L214.42 822.61L214.42 841L233.42 841L233.42 822.61L233.42 817.17C233.42 815.08 231.9 813.41 230.95 812.16C233.42 811.32 233.42 808.4 230.95 807.14L227.34 804.63C226.58 802.54 225.44 800.45 223.92 800.25Z" fill="#505050"/><ellipse cx="223.92" cy="820.94" rx="6.27" ry="8.36" fill="#5c5c5c"/><ellipse cx="223.92" cy="835.98" rx="7.98" ry="4.18" fill="#5a5a5a"/><ellipse cx="223.92" cy="806.31" rx="3.23" ry="3.76" fill="#585858"/><ellipse cx="223.92" cy="829.71" rx="9.5" ry="1.25" fill="#474747"/></g>
<g filter="url(#b05)"><ellipse cx="222.45" cy="822.14" rx="3.99" ry="7.73" fill="#2a14f4" transform="rotate(-16.63 222.45 822.14)"/><ellipse cx="223.47" cy="821.63" rx="5.98" ry="3.09" fill="#2a14f4" transform="rotate(-17.49 223.47 821.63)"/><ellipse cx="222.45" cy="822.14" rx="3.37" ry="6.54" fill="#28c8ff" transform="rotate(-16.63 222.45 822.14)"/><ellipse cx="223.47" cy="821.63" rx="4.37" ry="2.26" fill="#28c8ff" transform="rotate(-17.49 223.47 821.63)"/><ellipse cx="222.45" cy="822.14" rx="2.55" ry="4.94" fill="#3cf03c" transform="rotate(-16.63 222.45 822.14)"/><ellipse cx="223.47" cy="821.63" rx="2.01" ry="1.04" fill="#3cf03c" transform="rotate(-17.49 223.47 821.63)"/><ellipse cx="222.45" cy="822.14" rx="1.52" ry="2.95" fill="#f4f020" transform="rotate(-16.63 222.45 822.14)"/><ellipse cx="222.45" cy="822.14" rx="0.05" ry="0.1" fill="#ff2410" transform="rotate(-16.63 222.45 822.14)"/></g>
<rect x="234.86" y="799.2" width="19" height="41.8" fill="#2b2b2b"/><g filter="url(#b05)"><path d="M244.36 800.25C242.84 800.45 241.7 802.54 240.94 804.63L237.33 807.14C234.86 808.4 234.86 811.32 237.33 812.16C236.38 813.41 234.86 815.08 234.86 817.17L234.86 822.61L234.86 841L253.86 841L253.86 822.61L253.86 817.17C253.86 815.08 252.34 813.41 251.39 812.16C253.86 811.32 253.86 808.4 251.39 807.14L247.78 804.63C247.02 802.54 245.88 800.45 244.36 800.25Z" fill="#505050"/><ellipse cx="244.36" cy="820.94" rx="6.27" ry="8.36" fill="#5c5c5c"/><ellipse cx="244.36" cy="835.98" rx="7.98" ry="4.18" fill="#5a5a5a"/><ellipse cx="244.36" cy="806.31" rx="3.23" ry="3.76" fill="#585858"/><ellipse cx="244.36" cy="829.71" rx="9.5" ry="1.25" fill="#474747"/></g>
<g filter="url(#b05)"><ellipse cx="244.29" cy="823.92" rx="4.15" ry="6.72" fill="#2a14f4" transform="rotate(-3.73 244.29 823.92)"/><ellipse cx="245.83" cy="823.68" rx="6.22" ry="2.69" fill="#2a14f4" transform="rotate(-8.77 245.83 823.68)"/><ellipse cx="244.29" cy="823.92" rx="3.48" ry="5.64" fill="#28c8ff" transform="rotate(-3.73 244.29 823.92)"/><ellipse cx="245.83" cy="823.68" rx="4.59" ry="1.99" fill="#28c8ff" transform="rotate(-8.77 245.83 823.68)"/><ellipse cx="244.29" cy="823.92" rx="2.58" ry="4.19" fill="#3cf03c" transform="rotate(-3.73 244.29 823.92)"/><ellipse cx="245.83" cy="823.68" rx="2.22" ry="0.96" fill="#3cf03c" transform="rotate(-8.77 245.83 823.68)"/><ellipse cx="244.29" cy="823.92" rx="1.45" ry="2.35" fill="#f4f020" transform="rotate(-3.73 244.29 823.92)"/></g>
<rect x="255.3" y="799.2" width="19" height="41.8" fill="#2b2b2b"/><g filter="url(#b05)"><path d="M264.8 800.25C263.28 800.45 262.14 802.54 261.38 804.63L257.77 807.14C255.3 808.4 255.3 811.32 257.77 812.16C256.82 813.41 255.3 815.08 255.3 817.17L255.3 822.61L255.3 841L274.3 841L274.3 822.61L274.3 817.17C274.3 815.08 272.78 813.41 271.83 812.16C274.3 811.32 274.3 808.4 271.83 807.14L268.22 804.63C267.46 802.54 266.32 800.45 264.8 800.25Z" fill="#505050"/><ellipse cx="264.8" cy="820.94" rx="6.27" ry="8.36" fill="#5c5c5c"/><ellipse cx="264.8" cy="835.98" rx="7.98" ry="4.18" fill="#5a5a5a"/><ellipse cx="264.8" cy="806.31" rx="3.23" ry="3.76" fill="#585858"/><ellipse cx="264.8" cy="829.71" rx="9.5" ry="1.25" fill="#474747"/></g>
<g filter="url(#b05)"><ellipse cx="265.09" cy="821.9" rx="3.09" ry="6.09" fill="#2a14f4" transform="rotate(3.13 265.09 821.9)"/><ellipse cx="263.89" cy="821.28" rx="4.63" ry="2.44" fill="#2a14f4" transform="rotate(3.78 263.89 821.28)"/><ellipse cx="265.09" cy="821.9" rx="2.61" ry="5.15" fill="#28c8ff" transform="rotate(3.13 265.09 821.9)"/><ellipse cx="263.89" cy="821.28" rx="3.45" ry="1.82" fill="#28c8ff" transform="rotate(3.78 263.89 821.28)"/><ellipse cx="265.09" cy="821.9" rx="1.96" ry="3.87" fill="#3cf03c" transform="rotate(3.13 265.09 821.9)"/><ellipse cx="263.89" cy="821.28" rx="1.74" ry="0.92" fill="#3cf03c" transform="rotate(3.78 263.89 821.28)"/><ellipse cx="265.09" cy="821.9" rx="1.15" ry="2.27" fill="#f4f020" transform="rotate(3.13 265.09 821.9)"/></g>
<rect x="275.74" y="799.2" width="19" height="41.8" fill="#2b2b2b"/><g filter="url(#b05)"><path d="M285.24 800.25C283.72 800.45 282.58 802.54 281.82 804.63L278.21 807.14C275.74 808.4 275.74 811.32 278.21 812.16C277.26 813.41 275.74 815.08 275.74 817.17L275.74 822.61L275.74 841L294.74 841L294.74 822.61L294.74 817.17C294.74 815.08 293.22 813.41 292.27 812.16C294.74 811.32 294.74 808.4 292.27 807.14L288.66 804.63C287.9 802.54 286.76 800.45 285.24 800.25Z" fill="#505050"/><ellipse cx="285.24" cy="820.94" rx="6.27" ry="8.36" fill="#5c5c5c"/><ellipse cx="285.24" cy="835.98" rx="7.98" ry="4.18" fill="#5a5a5a"/><ellipse cx="285.24" cy="806.31" rx="3.23" ry="3.76" fill="#585858"/><ellipse cx="285.24" cy="829.71" rx="9.5" ry="1.25" fill="#474747"/></g>
<g filter="url(#b05)"><ellipse cx="284.8" cy="823.49" rx="3.13" ry="6.87" fill="#2a14f4" transform="rotate(16.73 284.8 823.49)"/><ellipse cx="284.11" cy="825.08" rx="4.7" ry="2.75" fill="#2a14f4" transform="rotate(5.81 284.11 825.08)"/><ellipse cx="284.8" cy="823.49" rx="2.71" ry="5.93" fill="#28c8ff" transform="rotate(16.73 284.8 823.49)"/><ellipse cx="284.11" cy="825.08" rx="3.69" ry="2.15" fill="#28c8ff" transform="rotate(5.81 284.11 825.08)"/><ellipse cx="284.8" cy="823.49" rx="2.14" ry="4.7" fill="#3cf03c" transform="rotate(16.73 284.8 823.49)"/><ellipse cx="284.11" cy="825.08" rx="2.26" ry="1.32" fill="#3cf03c" transform="rotate(5.81 284.11 825.08)"/><ellipse cx="284.8" cy="823.49" rx="1.46" ry="3.19" fill="#f4f020" transform="rotate(16.73 284.8 823.49)"/><ellipse cx="284.8" cy="823.49" rx="0.63" ry="1.38" fill="#ff2410" transform="rotate(16.73 284.8 823.49)"/></g>
<rect x="296.18" y="799.2" width="19" height="41.8" fill="#2b2b2b"/><g filter="url(#b05)"><path d="M305.68 800.25C304.16 800.45 303.02 802.54 302.26 804.63L298.65 807.14C296.18 808.4 296.18 811.32 298.65 812.16C297.7 813.41 296.18 815.08 296.18 817.17L296.18 822.61L296.18 841L315.18 841L315.18 822.61L315.18 817.17C315.18 815.08 313.66 813.41 312.71 812.16C315.18 811.32 315.18 808.4 312.71 807.14L309.1 804.63C308.34 802.54 307.2 800.45 305.68 800.25Z" fill="#505050"/><ellipse cx="305.68" cy="820.94" rx="6.27" ry="8.36" fill="#5c5c5c"/><ellipse cx="305.68" cy="835.98" rx="7.98" ry="4.18" fill="#5a5a5a"/><ellipse cx="305.68" cy="806.31" rx="3.23" ry="3.76" fill="#585858"/><ellipse cx="305.68" cy="829.71" rx="9.5" ry="1.25" fill="#474747"/></g>
<g filter="url(#b05)"><ellipse cx="304.01" cy="823.39" rx="4.32" ry="6.85" fill="#2a14f4" transform="rotate(-19.96 304.01 823.39)"/><ellipse cx="302.7" cy="822.45" rx="6.48" ry="2.74" fill="#2a14f4" transform="rotate(-13.92 302.7 822.45)"/><ellipse cx="304.01" cy="823.39" rx="3.51" ry="5.56" fill="#28c8ff" transform="rotate(-19.96 304.01 823.39)"/><ellipse cx="302.7" cy="822.45" rx="4.8" ry="2.03" fill="#28c8ff" transform="rotate(-13.92 302.7 822.45)"/><ellipse cx="304.01" cy="823.39" rx="2.4" ry="3.8" fill="#3cf03c" transform="rotate(-19.96 304.01 823.39)"/><ellipse cx="302.7" cy="822.45" rx="2.34" ry="0.99" fill="#3cf03c" transform="rotate(-13.92 302.7 822.45)"/><ellipse cx="304.01" cy="823.39" rx="0.9" ry="1.43" fill="#f4f020" transform="rotate(-19.96 304.01 823.39)"/></g>
<rect x="316.62" y="799.2" width="19" height="41.8" fill="#2b2b2b"/><g filter="url(#b05)"><path d="M326.12 800.25C324.6 800.45 323.46 802.54 322.7 804.63L319.09 807.14C316.62 808.4 316.62 811.32 319.09 812.16C318.14 813.41 316.62 815.08 316.62 817.17L316.62 822.61L316.62 841L335.62 841L335.62 822.61L335.62 817.17C335.62 815.08 334.1 813.41 333.15 812.16C335.62 811.32 335.62 808.4 333.15 807.14L329.54 804.63C328.78 802.54 327.64 800.45 326.12 800.25Z" fill="#505050"/><ellipse cx="326.12" cy="820.94" rx="6.27" ry="8.36" fill="#5c5c5c"/><ellipse cx="326.12" cy="835.98" rx="7.98" ry="4.18" fill="#5a5a5a"/><ellipse cx="326.12" cy="806.31" rx="3.23" ry="3.76" fill="#585858"/><ellipse cx="326.12" cy="829.71" rx="9.5" ry="1.25" fill="#474747"/></g>
<g filter="url(#b05)"><ellipse cx="324.12" cy="823.57" rx="4.16" ry="7.56" fill="#2a14f4" transform="rotate(15.19 324.12 823.57)"/><ellipse cx="325.73" cy="825.52" rx="6.24" ry="3.02" fill="#2a14f4" transform="rotate(5 325.73 825.52)"/><ellipse cx="324.12" cy="823.57" rx="3.54" ry="6.43" fill="#28c8ff" transform="rotate(15.19 324.12 823.57)"/><ellipse cx="325.73" cy="825.52" rx="4.92" ry="2.38" fill="#28c8ff" transform="rotate(5 325.73 825.52)"/><ellipse cx="324.12" cy="823.57" rx="2.71" ry="4.93" fill="#3cf03c" transform="rotate(15.19 324.12 823.57)"/><ellipse cx="325.73" cy="825.52" rx="3.07" ry="1.49" fill="#3cf03c" transform="rotate(5 325.73 825.52)"/><ellipse cx="324.12" cy="823.57" rx="1.68" ry="3.06" fill="#f4f020" transform="rotate(15.19 324.12 823.57)"/><ellipse cx="325.73" cy="825.52" rx="0.28" ry="0.14" fill="#f4f020" transform="rotate(5 325.73 825.52)"/><ellipse cx="324.12" cy="823.57" rx="0.33" ry="0.6" fill="#ff2410" transform="rotate(15.19 324.12 823.57)"/></g>
<rect x="337.06" y="799.2" width="19" height="41.8" fill="#2b2b2b"/><g filter="url(#b05)"><path d="M346.56 800.25C345.04 800.45 343.9 802.54 343.14 804.63L339.53 807.14C337.06 808.4 337.06 811.32 339.53 812.16C338.58 813.41 337.06 815.08 337.06 817.17L337.06 822.61L337.06 841L356.06 841L356.06 822.61L356.06 817.17C356.06 815.08 354.54 813.41 353.59 812.16C356.06 811.32 356.06 808.4 353.59 807.14L349.98 804.63C349.22 802.54 348.08 800.45 346.56 800.25Z" fill="#505050"/><ellipse cx="346.56" cy="820.94" rx="6.27" ry="8.36" fill="#5c5c5c"/><ellipse cx="346.56" cy="835.98" rx="7.98" ry="4.18" fill="#5a5a5a"/><ellipse cx="346.56" cy="806.31" rx="3.23" ry="3.76" fill="#585858"/><ellipse cx="346.56" cy="829.71" rx="9.5" ry="1.25" fill="#474747"/></g>
<g filter="url(#b05)"><ellipse cx="344.55" cy="821.66" rx="3.14" ry="6.28" fill="#2a14f4" transform="rotate(-6.28 344.55 821.66)"/><ellipse cx="345.24" cy="822.89" rx="4.71" ry="2.51" fill="#2a14f4" transform="rotate(-16.65 345.24 822.89)"/><ellipse cx="344.55" cy="821.66" rx="2.62" ry="5.24" fill="#28c8ff" transform="rotate(-6.28 344.55 821.66)"/><ellipse cx="345.24" cy="822.89" rx="3.29" ry="1.76" fill="#28c8ff" transform="rotate(-16.65 345.24 822.89)"/><ellipse cx="344.55" cy="821.66" rx="1.92" ry="3.84" fill="#3cf03c" transform="rotate(-6.28 344.55 821.66)"/><ellipse cx="345.24" cy="822.89" rx="1.11" ry="0.59" fill="#3cf03c" transform="rotate(-16.65 345.24 822.89)"/><ellipse cx="344.55" cy="821.66" rx="1.02" ry="2.04" fill="#f4f020" transform="rotate(-6.28 344.55 821.66)"/></g>
<rect x="357.5" y="799.2" width="19" height="41.8" fill="#2b2b2b"/><g filter="url(#b05)"><path d="M367 800.25C365.48 800.45 364.34 802.54 363.58 804.63L359.97 807.14C357.5 808.4 357.5 811.32 359.97 812.16C359.02 813.41 357.5 815.08 357.5 817.17L357.5 822.61L357.5 841L376.5 841L376.5 822.61L376.5 817.17C376.5 815.08 374.98 813.41 374.03 812.16C376.5 811.32 376.5 808.4 374.03 807.14L370.42 804.63C369.66 802.54 368.52 800.45 367 800.25Z" fill="#505050"/><ellipse cx="367" cy="820.94" rx="6.27" ry="8.36" fill="#5c5c5c"/><ellipse cx="367" cy="835.98" rx="7.98" ry="4.18" fill="#5a5a5a"/><ellipse cx="367" cy="806.31" rx="3.23" ry="3.76" fill="#585858"/><ellipse cx="367" cy="829.71" rx="9.5" ry="1.25" fill="#474747"/></g>
<g filter="url(#b05)"><ellipse cx="366.17" cy="822.45" rx="3.22" ry="7.1" fill="#2a14f4" transform="rotate(-6.28 366.17 822.45)"/><ellipse cx="366.15" cy="824.42" rx="4.83" ry="2.84" fill="#2a14f4" transform="rotate(17.8 366.15 824.42)"/><ellipse cx="366.17" cy="822.45" rx="2.73" ry="6.03" fill="#28c8ff" transform="rotate(-6.28 366.17 822.45)"/><ellipse cx="366.15" cy="824.42" rx="2.88" ry="1.7" fill="#28c8ff" transform="rotate(17.8 366.15 824.42)"/><ellipse cx="366.17" cy="822.45" rx="2.08" ry="4.6" fill="#3cf03c" transform="rotate(-6.28 366.17 822.45)"/><ellipse cx="366.17" cy="822.45" rx="1.28" ry="2.82" fill="#f4f020" transform="rotate(-6.28 366.17 822.45)"/><ellipse cx="366.17" cy="822.45" rx="0.19" ry="0.42" fill="#ff2410" transform="rotate(-6.28 366.17 822.45)"/></g>
<rect x="377.94" y="799.2" width="19" height="41.8" fill="#2b2b2b"/><g filter="url(#b05)"><path d="M387.44 800.25C385.92 800.45 384.78 802.54 384.02 804.63L380.41 807.14C377.94 808.4 377.94 811.32 380.41 812.16C379.46 813.41 377.94 815.08 377.94 817.17L377.94 822.61L377.94 841L396.94 841L396.94 822.61L396.94 817.17C396.94 815.08 395.42 813.41 394.47 812.16C396.94 811.32 396.94 808.4 394.47 807.14L390.86 804.63C390.1 802.54 388.96 800.45 387.44 800.25Z" fill="#505050"/><ellipse cx="387.44" cy="820.94" rx="6.27" ry="8.36" fill="#5c5c5c"/><ellipse cx="387.44" cy="835.98" rx="7.98" ry="4.18" fill="#5a5a5a"/><ellipse cx="387.44" cy="806.31" rx="3.23" ry="3.76" fill="#585858"/><ellipse cx="387.44" cy="829.71" rx="9.5" ry="1.25" fill="#474747"/></g>
<g filter="url(#b05)"><ellipse cx="387.18" cy="823.46" rx="3.49" ry="6.1" fill="#2a14f4" transform="rotate(-1.05 387.18 823.46)"/><ellipse cx="388.08" cy="825.28" rx="5.23" ry="2.44" fill="#2a14f4" transform="rotate(-4.72 388.08 825.28)"/><ellipse cx="387.18" cy="823.46" rx="2.88" ry="5.04" fill="#28c8ff" transform="rotate(-1.05 387.18 823.46)"/><ellipse cx="388.08" cy="825.28" rx="3.51" ry="1.63" fill="#28c8ff" transform="rotate(-4.72 388.08 825.28)"/><ellipse cx="387.18" cy="823.46" rx="2.06" ry="3.6" fill="#3cf03c" transform="rotate(-1.05 387.18 823.46)"/><ellipse cx="388.08" cy="825.28" rx="0.71" ry="0.33" fill="#3cf03c" transform="rotate(-4.72 388.08 825.28)"/><ellipse cx="387.18" cy="823.46" rx="0.99" ry="1.73" fill="#f4f020" transform="rotate(-1.05 387.18 823.46)"/></g>
<rect x="398.38" y="799.2" width="19" height="41.8" fill="#2b2b2b"/><g filter="url(#b05)"><path d="M407.88 800.25C406.36 800.45 405.22 802.54 404.46 804.63L400.85 807.14C398.38 808.4 398.38 811.32 400.85 812.16C399.9 813.41 398.38 815.08 398.38 817.17L398.38 822.61L398.38 841L417.38 841L417.38 822.61L417.38 817.17C417.38 815.08 415.86 813.41 414.91 812.16C417.38 811.32 417.38 808.4 414.91 807.14L411.3 804.63C410.54 802.54 409.4 800.45 407.88 800.25Z" fill="#505050"/><ellipse cx="407.88" cy="820.94" rx="6.27" ry="8.36" fill="#5c5c5c"/><ellipse cx="407.88" cy="835.98" rx="7.98" ry="4.18" fill="#5a5a5a"/><ellipse cx="407.88" cy="806.31" rx="3.23" ry="3.76" fill="#585858"/><ellipse cx="407.88" cy="829.71" rx="9.5" ry="1.25" fill="#474747"/></g>
<g filter="url(#b05)"><ellipse cx="406.93" cy="823.39" rx="4.24" ry="7.06" fill="#2a14f4" transform="rotate(-10.2 406.93 823.39)"/><ellipse cx="408.25" cy="823.88" rx="6.36" ry="2.82" fill="#2a14f4" transform="rotate(-17.98 408.25 823.88)"/><ellipse cx="406.93" cy="823.39" rx="3.5" ry="5.82" fill="#28c8ff" transform="rotate(-10.2 406.93 823.39)"/><ellipse cx="408.25" cy="823.88" rx="4.47" ry="1.98" fill="#28c8ff" transform="rotate(-17.98 408.25 823.88)"/><ellipse cx="406.93" cy="823.39" rx="2.49" ry="4.14" fill="#3cf03c" transform="rotate(-10.2 406.93 823.39)"/><ellipse cx="408.25" cy="823.88" rx="1.57" ry="0.7" fill="#3cf03c" transform="rotate(-17.98 408.25 823.88)"/><ellipse cx="406.93" cy="823.39" rx="1.17" ry="1.95" fill="#f4f020" transform="rotate(-10.2 406.93 823.39)"/></g>
</g>
<text x="46.6" y="863.7" font-size="8.7" text-anchor="end" transform="rotate(-30 46.6 863.7)">PEG-ITP-Lip</text>
<g clip-path="url(#cn3)">
<rect x="50.9" y="849.1" width="19" height="41.8" fill="#2b2b2b"/><g filter="url(#b05)"><path d="M60.4 850.14C58.88 850.35 57.74 852.44 56.98 854.53L53.37 857.04C50.9 858.3 50.9 861.22 53.37 862.06C52.42 863.31 50.9 864.98 50.9 867.07L50.9 872.51L50.9 890.9L69.9 890.9L69.9 872.51L69.9 867.07C69.9 864.98 68.38 863.31 67.43 862.06C69.9 861.22 69.9 858.3 67.43 857.04L63.82 854.53C63.06 852.44 61.92 850.35 60.4 850.14Z" fill="#505050"/><ellipse cx="60.4" cy="870.84" rx="6.27" ry="8.36" fill="#5c5c5c"/><ellipse cx="60.4" cy="885.88" rx="7.98" ry="4.18" fill="#5a5a5a"/><ellipse cx="60.4" cy="856.21" rx="3.23" ry="3.76" fill="#585858"/><ellipse cx="60.4" cy="879.61" rx="9.5" ry="1.25" fill="#474747"/></g>
<g filter="url(#b05)"><ellipse cx="58.95" cy="856.48" rx="2.73" ry="2.53" fill="#2a14f4"/><ellipse cx="58.95" cy="856.48" rx="2.23" ry="2.06" fill="#28c8ff"/><ellipse cx="58.95" cy="856.48" rx="1.53" ry="1.41" fill="#3cf03c"/><ellipse cx="58.95" cy="856.48" rx="0.51" ry="0.47" fill="#f4f020"/><ellipse cx="59.97" cy="876.64" rx="4.57" ry="6.4" fill="#2a14f4" transform="rotate(8.68 59.97 876.64)"/><ellipse cx="59.42" cy="880.42" rx="3.67" ry="3.2" fill="#2a14f4" transform="rotate(10.64 59.42 880.42)"/><ellipse cx="59.97" cy="876.64" rx="3.96" ry="5.55" fill="#28c8ff" transform="rotate(8.68 59.97 876.64)"/><ellipse cx="59.42" cy="880.42" rx="2.87" ry="2.51" fill="#28c8ff" transform="rotate(10.64 59.42 880.42)"/><ellipse cx="59.97" cy="876.64" rx="3.13" ry="4.39" fill="#3cf03c" transform="rotate(8.68 59.97 876.64)"/><ellipse cx="59.42" cy="880.42" rx="1.72" ry="1.5" fill="#3cf03c" transform="rotate(10.64 59.42 880.42)"/><ellipse cx="59.97" cy="876.64" rx="2.1" ry="2.94" fill="#f4f020" transform="rotate(8.68 59.97 876.64)"/><ellipse cx="59.97" cy="876.64" rx="0.74" ry="1.03" fill="#ff2410" transform="rotate(8.68 59.97 876.64)"/></g>
<rect x="71.34" y="849.1" width="19" height="41.8" fill="#2b2b2b"/><g filter="url(#b05)"><path d="M80.84 850.14C79.32 850.35 78.18 852.44 77.42 854.53L73.81 857.04C71.34 858.3 71.34 861.22 73.81 862.06C72.86 863.31 71.34 864.98 71.34 867.07L71.34 872.51L71.34 890.9L90.34 890.9L90.34 872.51L90.34 867.07C90.34 864.98 88.82 863.31 87.87 862.06C90.34 861.22 90.34 858.3 87.87 857.04L84.26 854.53C83.5 852.44 82.36 850.35 80.84 850.14Z" fill="#505050"/><ellipse cx="80.84" cy="870.84" rx="6.27" ry="8.36" fill="#5c5c5c"/><ellipse cx="80.84" cy="885.88" rx="7.98" ry="4.18" fill="#5a5a5a"/><ellipse cx="80.84" cy="856.21" rx="3.23" ry="3.76" fill="#585858"/><ellipse cx="80.84" cy="879.61" rx="9.5" ry="1.25" fill="#474747"/></g>
<g filter="url(#b05)"><ellipse cx="78.97" cy="855.79" rx="3.1" ry="2.62" fill="#2a14f4"/><ellipse cx="78.97" cy="855.79" rx="2.65" ry="2.24" fill="#28c8ff"/><ellipse cx="78.97" cy="855.79" rx="2.05" ry="1.73" fill="#3cf03c"/><ellipse cx="78.97" cy="855.79" rx="1.27" ry="1.08" fill="#f4f020"/><ellipse cx="78.97" cy="855.79" rx="0.11" ry="0.09" fill="#ff2410"/><ellipse cx="79.44" cy="874.07" rx="5.64" ry="6.54" fill="#2a14f4" transform="rotate(-0.56 79.44 874.07)"/><ellipse cx="78.6" cy="878.16" rx="6.45" ry="3.27" fill="#2a14f4" transform="rotate(0.31 78.6 878.16)"/><ellipse cx="79.44" cy="874.07" rx="4.88" ry="5.67" fill="#28c8ff" transform="rotate(-0.56 79.44 874.07)"/><ellipse cx="78.6" cy="878.16" rx="4.61" ry="2.34" fill="#28c8ff" transform="rotate(0.31 78.6 878.16)"/><ellipse cx="79.44" cy="874.07" rx="3.86" ry="4.48" fill="#3cf03c" transform="rotate(-0.56 79.44 874.07)"/><ellipse cx="78.6" cy="878.16" rx="1.67" ry="0.85" fill="#3cf03c" transform="rotate(0.31 78.6 878.16)"/><ellipse cx="79.44" cy="874.07" rx="2.58" ry="3" fill="#f4f020" transform="rotate(-0.56 79.44 874.07)"/><ellipse cx="79.44" cy="874.07" rx="0.9" ry="1.05" fill="#ff2410" transform="rotate(-0.56 79.44 874.07)"/></g>
<rect x="91.78" y="849.1" width="19" height="41.8" fill="#2b2b2b"/><g filter="url(#b05)"><path d="M101.28 850.14C99.76 850.35 98.62 852.44 97.86 854.53L94.25 857.04C91.78 858.3 91.78 861.22 94.25 862.06C93.3 863.31 91.78 864.98 91.78 867.07L91.78 872.51L91.78 890.9L110.78 890.9L110.78 872.51L110.78 867.07C110.78 864.98 109.26 863.31 108.31 862.06C110.78 861.22 110.78 858.3 108.31 857.04L104.7 854.53C103.94 852.44 102.8 850.35 101.28 850.14Z" fill="#505050"/><ellipse cx="101.28" cy="870.84" rx="6.27" ry="8.36" fill="#5c5c5c"/><ellipse cx="101.28" cy="885.88" rx="7.98" ry="4.18" fill="#5a5a5a"/><ellipse cx="101.28" cy="856.21" rx="3.23" ry="3.76" fill="#585858"/><ellipse cx="101.28" cy="879.61" rx="9.5" ry="1.25" fill="#474747"/></g>
<g filter="url(#b05)"><ellipse cx="100.13" cy="856.67" rx="3.07" ry="2.8" fill="#2a14f4"/><ellipse cx="100.13" cy="856.67" rx="2.71" ry="2.46" fill="#28c8ff"/><ellipse cx="100.13" cy="856.67" rx="2.21" ry="2.01" fill="#3cf03c"/><ellipse cx="100.13" cy="856.67" rx="1.61" ry="1.46" fill="#f4f020"/><ellipse cx="100.13" cy="856.67" rx="0.88" ry="0.8" fill="#ff2410"/><ellipse cx="101.23" cy="875.47" rx="3.32" ry="5.49" fill="#2a14f4" transform="rotate(5.39 101.23 875.47)"/><ellipse cx="102.65" cy="879.29" rx="4.17" ry="2.75" fill="#2a14f4" transform="rotate(-4.86 102.65 879.29)"/><ellipse cx="101.23" cy="875.47" rx="2.9" ry="4.8" fill="#28c8ff" transform="rotate(5.39 101.23 875.47)"/><ellipse cx="102.65" cy="879.29" rx="3.57" ry="2.35" fill="#28c8ff" transform="rotate(-4.86 102.65 879.29)"/><ellipse cx="101.23" cy="875.47" rx="2.34" ry="3.87" fill="#3cf03c" transform="rotate(5.39 101.23 875.47)"/><ellipse cx="102.65" cy="879.29" rx="2.75" ry="1.81" fill="#3cf03c" transform="rotate(-4.86 102.65 879.29)"/><ellipse cx="101.23" cy="875.47" rx="1.64" ry="2.71" fill="#f4f020" transform="rotate(5.39 101.23 875.47)"/><ellipse cx="102.65" cy="879.29" rx="1.69" ry="1.11" fill="#f4f020" transform="rotate(-4.86 102.65 879.29)"/><ellipse cx="101.23" cy="875.47" rx="0.76" ry="1.27" fill="#ff2410" transform="rotate(5.39 101.23 875.47)"/></g>
<rect x="112.22" y="849.1" width="19" height="41.8" fill="#2b2b2b"/><g filter="url(#b05)"><path d="M121.72 850.14C120.2 850.35 119.06 852.44 118.3 854.53L114.69 857.04C112.22 858.3 112.22 861.22 114.69 862.06C113.74 863.31 112.22 864.98 112.22 867.07L112.22 872.51L112.22 890.9L131.22 890.9L131.22 872.51L131.22 867.07C131.22 864.98 129.7 863.31 128.75 862.06C131.22 861.22 131.22 858.3 128.75 857.04L125.14 854.53C124.38 852.44 123.24 850.35 121.72 850.14Z" fill="#505050"/><ellipse cx="121.72" cy="870.84" rx="6.27" ry="8.36" fill="#5c5c5c"/><ellipse cx="121.72" cy="885.88" rx="7.98" ry="4.18" fill="#5a5a5a"/><ellipse cx="121.72" cy="856.21" rx="3.23" ry="3.76" fill="#585858"/><ellipse cx="121.72" cy="879.61" rx="9.5" ry="1.25" fill="#474747"/></g>
<g filter="url(#b05)"><ellipse cx="121.26" cy="856.86" rx="2.8" ry="2.95" fill="#2a14f4"/><ellipse cx="121.26" cy="856.86" rx="2.38" ry="2.51" fill="#28c8ff"/><ellipse cx="121.26" cy="856.86" rx="1.8" ry="1.9" fill="#3cf03c"/><ellipse cx="121.26" cy="856.86" rx="1.05" ry="1.1" fill="#f4f020"/><ellipse cx="122.42" cy="876.67" rx="3.77" ry="6.49" fill="#2a14f4" transform="rotate(-4.58 122.42 876.67)"/><ellipse cx="121.61" cy="880.15" rx="3.24" ry="3.25" fill="#2a14f4" transform="rotate(-13.23 121.61 880.15)"/><ellipse cx="122.42" cy="876.67" rx="3.29" ry="5.68" fill="#28c8ff" transform="rotate(-4.58 122.42 876.67)"/><ellipse cx="121.61" cy="880.15" rx="2.59" ry="2.59" fill="#28c8ff" transform="rotate(-13.23 121.61 880.15)"/><ellipse cx="122.42" cy="876.67" rx="2.66" ry="4.59" fill="#3cf03c" transform="rotate(-4.58 122.42 876.67)"/><ellipse cx="121.61" cy="880.15" rx="1.66" ry="1.66" fill="#3cf03c" transform="rotate(-13.23 121.61 880.15)"/><ellipse cx="122.42" cy="876.67" rx="1.88" ry="3.24" fill="#f4f020" transform="rotate(-4.58 122.42 876.67)"/><ellipse cx="121.61" cy="880.15" rx="0.08" ry="0.08" fill="#f4f020" transform="rotate(-13.23 121.61 880.15)"/><ellipse cx="122.42" cy="876.67" rx="0.91" ry="1.56" fill="#ff2410" transform="rotate(-4.58 122.42 876.67)"/></g>
<rect x="132.66" y="849.1" width="19" height="41.8" fill="#2b2b2b"/><g filter="url(#b05)"><path d="M142.16 850.14C140.64 850.35 139.5 852.44 138.74 854.53L135.13 857.04C132.66 858.3 132.66 861.22 135.13 862.06C134.18 863.31 132.66 864.98 132.66 867.07L132.66 872.51L132.66 890.9L151.66 890.9L151.66 872.51L151.66 867.07C151.66 864.98 150.14 863.31 149.19 862.06C151.66 861.22 151.66 858.3 149.19 857.04L145.58 854.53C144.82 852.44 143.68 850.35 142.16 850.14Z" fill="#505050"/><ellipse cx="142.16" cy="870.84" rx="6.27" ry="8.36" fill="#5c5c5c"/><ellipse cx="142.16" cy="885.88" rx="7.98" ry="4.18" fill="#5a5a5a"/><ellipse cx="142.16" cy="856.21" rx="3.23" ry="3.76" fill="#585858"/><ellipse cx="142.16" cy="879.61" rx="9.5" ry="1.25" fill="#474747"/></g>
<g filter="url(#b05)"><ellipse cx="140.4" cy="856.01" rx="3.51" ry="3.04" fill="#2a14f4"/><ellipse cx="140.4" cy="856.01" rx="2.91" ry="2.52" fill="#28c8ff"/><ellipse cx="140.4" cy="856.01" rx="2.07" ry="1.79" fill="#3cf03c"/><ellipse cx="140.4" cy="856.01" rx="0.91" ry="0.79" fill="#f4f020"/><ellipse cx="140.68" cy="876.11" rx="5.6" ry="6.94" fill="#2a14f4" transform="rotate(-7.27 140.68 876.11)"/><ellipse cx="142.28" cy="880.16" rx="4.57" ry="3.47" fill="#2a14f4" transform="rotate(-12.61 142.28 880.16)"/><ellipse cx="140.68" cy="876.11" rx="4.87" ry="6.03" fill="#28c8ff" transform="rotate(-7.27 140.68 876.11)"/><ellipse cx="142.28" cy="880.16" rx="3.63" ry="2.76" fill="#28c8ff" transform="rotate(-12.61 142.28 880.16)"/><ellipse cx="140.68" cy="876.11" rx="3.89" ry="4.81" fill="#3cf03c" transform="rotate(-7.27 140.68 876.11)"/><ellipse cx="142.28" cy="880.16" rx="2.28" ry="1.73" fill="#3cf03c" transform="rotate(-12.61 142.28 880.16)"/><ellipse cx="140.68" cy="876.11" rx="2.66" ry="3.29" fill="#f4f020" transform="rotate(-7.27 140.68 876.11)"/><ellipse cx="140.68" cy="876.11" rx="1.09" ry="1.35" fill="#ff2410" transform="rotate(-7.27 140.68 876.11)"/></g>
<rect x="153.1" y="849.1" width="19" height="41.8" fill="#2b2b2b"/><g filter="url(#b05)"><path d="M162.6 850.14C161.08 850.35 159.94 852.44 159.18 854.53L155.57 857.04C153.1 858.3 153.1 861.22 155.57 862.06C154.62 863.31 153.1 864.98 153.1 867.07L153.1 872.51L153.1 890.9L172.1 890.9L172.1 872.51L172.1 867.07C172.1 864.98 170.58 863.31 169.63 862.06C172.1 861.22 172.1 858.3 169.63 857.04L166.02 854.53C165.26 852.44 164.12 850.35 162.6 850.14Z" fill="#505050"/><ellipse cx="162.6" cy="870.84" rx="6.27" ry="8.36" fill="#5c5c5c"/><ellipse cx="162.6" cy="885.88" rx="7.98" ry="4.18" fill="#5a5a5a"/><ellipse cx="162.6" cy="856.21" rx="3.23" ry="3.76" fill="#585858"/><ellipse cx="162.6" cy="879.61" rx="9.5" ry="1.25" fill="#474747"/></g>
<g filter="url(#b05)"><ellipse cx="161.21" cy="856.63" rx="3.01" ry="2.95" fill="#2a14f4"/><ellipse cx="161.21" cy="856.63" rx="2.48" ry="2.43" fill="#28c8ff"/><ellipse cx="161.21" cy="856.63" rx="1.74" ry="1.7" fill="#3cf03c"/><ellipse cx="161.21" cy="856.63" rx="0.69" ry="0.68" fill="#f4f020"/><ellipse cx="162.26" cy="876.6" rx="4.96" ry="5.66" fill="#2a14f4" transform="rotate(-7.78 162.26 876.6)"/><ellipse cx="161.79" cy="879.46" rx="5.16" ry="2.83" fill="#2a14f4" transform="rotate(3.27 161.79 879.46)"/><ellipse cx="162.26" cy="876.6" rx="4.36" ry="4.97" fill="#28c8ff" transform="rotate(-7.78 162.26 876.6)"/><ellipse cx="161.79" cy="879.46" rx="4.4" ry="2.41" fill="#28c8ff" transform="rotate(3.27 161.79 879.46)"/><ellipse cx="162.26" cy="876.6" rx="3.55" ry="4.05" fill="#3cf03c" transform="rotate(-7.78 162.26 876.6)"/><ellipse cx="161.79" cy="879.46" rx="3.36" ry="1.84" fill="#3cf03c" transform="rotate(3.27 161.79 879.46)"/><ellipse cx="162.26" cy="876.6" rx="2.56" ry="2.91" fill="#f4f020" transform="rotate(-7.78 162.26 876.6)"/><ellipse cx="161.79" cy="879.46" rx="2.02" ry="1.11" fill="#f4f020" transform="rotate(3.27 161.79 879.46)"/><ellipse cx="162.26" cy="876.6" rx="1.34" ry="1.53" fill="#ff2410" transform="rotate(-7.78 162.26 876.6)"/></g>
<rect x="173.54" y="849.1" width="19" height="41.8" fill="#2b2b2b"/><g filter="url(#b05)"><path d="M183.04 850.14C181.52 850.35 180.38 852.44 179.62 854.53L176.01 857.04C173.54 858.3 173.54 861.22 176.01 862.06C175.06 863.31 173.54 864.98 173.54 867.07L173.54 872.51L173.54 890.9L192.54 890.9L192.54 872.51L192.54 867.07C192.54 864.98 191.02 863.31 190.07 862.06C192.54 861.22 192.54 858.3 190.07 857.04L186.46 854.53C185.7 852.44 184.56 850.35 183.04 850.14Z" fill="#505050"/><ellipse cx="183.04" cy="870.84" rx="6.27" ry="8.36" fill="#5c5c5c"/><ellipse cx="183.04" cy="885.88" rx="7.98" ry="4.18" fill="#5a5a5a"/><ellipse cx="183.04" cy="856.21" rx="3.23" ry="3.76" fill="#585858"/><ellipse cx="183.04" cy="879.61" rx="9.5" ry="1.25" fill="#474747"/></g>
<g filter="url(#b05)"><ellipse cx="181.6" cy="856.32" rx="2.91" ry="2.75" fill="#2a14f4"/><ellipse cx="181.6" cy="856.32" rx="2.53" ry="2.4" fill="#28c8ff"/><ellipse cx="181.6" cy="856.32" rx="2.03" ry="1.92" fill="#3cf03c"/><ellipse cx="181.6" cy="856.32" rx="1.4" ry="1.32" fill="#f4f020"/><ellipse cx="181.6" cy="856.32" rx="0.6" ry="0.56" fill="#ff2410"/><ellipse cx="181.82" cy="874.95" rx="4.97" ry="5.45" fill="#2a14f4" transform="rotate(5.42 181.82 874.95)"/><ellipse cx="181.84" cy="878.32" rx="5.95" ry="2.73" fill="#2a14f4" transform="rotate(-17.76 181.84 878.32)"/><ellipse cx="181.82" cy="874.95" rx="4.35" ry="4.77" fill="#28c8ff" transform="rotate(5.42 181.82 874.95)"/><ellipse cx="181.84" cy="878.32" rx="4.79" ry="2.2" fill="#28c8ff" transform="rotate(-17.76 181.84 878.32)"/><ellipse cx="181.82" cy="874.95" rx="3.5" ry="3.84" fill="#3cf03c" transform="rotate(5.42 181.82 874.95)"/><ellipse cx="181.84" cy="878.32" rx="3.13" ry="1.44" fill="#3cf03c" transform="rotate(-17.76 181.84 878.32)"/><ellipse cx="181.82" cy="874.95" rx="2.45" ry="2.69" fill="#f4f020" transform="rotate(5.42 181.82 874.95)"/><ellipse cx="181.84" cy="878.32" rx="0.55" ry="0.25" fill="#f4f020" transform="rotate(-17.76 181.84 878.32)"/><ellipse cx="181.82" cy="874.95" rx="1.15" ry="1.26" fill="#ff2410" transform="rotate(5.42 181.82 874.95)"/></g>
<rect x="193.98" y="849.1" width="19" height="41.8" fill="#2b2b2b"/><g filter="url(#b05)"><path d="M203.48 850.14C201.96 850.35 200.82 852.44 200.06 854.53L196.45 857.04C193.98 858.3 193.98 861.22 196.45 862.06C195.5 863.31 193.98 864.98 193.98 867.07L193.98 872.51L193.98 890.9L212.98 890.9L212.98 872.51L212.98 867.07C212.98 864.98 211.46 863.31 210.51 862.06C212.98 861.22 212.98 858.3 210.51 857.04L206.9 854.53C206.14 852.44 205 850.35 203.48 850.14Z" fill="#505050"/><ellipse cx="203.48" cy="870.84" rx="6.27" ry="8.36" fill="#5c5c5c"/><ellipse cx="203.48" cy="885.88" rx="7.98" ry="4.18" fill="#5a5a5a"/><ellipse cx="203.48" cy="856.21" rx="3.23" ry="3.76" fill="#585858"/><ellipse cx="203.48" cy="879.61" rx="9.5" ry="1.25" fill="#474747"/></g>
<g filter="url(#b05)"><ellipse cx="201.65" cy="856.01" rx="2.99" ry="2.32" fill="#2a14f4"/><ellipse cx="201.65" cy="856.01" rx="2.51" ry="1.94" fill="#28c8ff"/><ellipse cx="201.65" cy="856.01" rx="1.84" ry="1.42" fill="#3cf03c"/><ellipse cx="201.65" cy="856.01" rx="0.95" ry="0.73" fill="#f4f020"/><ellipse cx="202.99" cy="875.53" rx="5.51" ry="6.36" fill="#2a14f4" transform="rotate(0.6 202.99 875.53)"/><ellipse cx="204.65" cy="879.61" rx="7.14" ry="3.18" fill="#2a14f4" transform="rotate(-7.93 204.65 879.61)"/><ellipse cx="202.99" cy="875.53" rx="4.85" ry="5.6" fill="#28c8ff" transform="rotate(0.6 202.99 875.53)"/><ellipse cx="204.65" cy="879.61" rx="5.32" ry="2.37" fill="#28c8ff" transform="rotate(-7.93 204.65 879.61)"/><ellipse cx="202.99" cy="875.53" rx="3.96" ry="4.57" fill="#3cf03c" transform="rotate(0.6 202.99 875.53)"/><ellipse cx="204.65" cy="879.61" rx="2.54" ry="1.13" fill="#3cf03c" transform="rotate(-7.93 204.65 879.61)"/><ellipse cx="202.99" cy="875.53" rx="2.87" ry="3.31" fill="#f4f020" transform="rotate(0.6 202.99 875.53)"/><ellipse cx="202.99" cy="875.53" rx="1.56" ry="1.8" fill="#ff2410" transform="rotate(0.6 202.99 875.53)"/></g>
<rect x="214.42" y="849.1" width="19" height="41.8" fill="#2b2b2b"/><g filter="url(#b05)"><path d="M223.92 850.14C222.4 850.35 221.26 852.44 220.5 854.53L216.89 857.04C214.42 858.3 214.42 861.22 216.89 862.06C215.94 863.31 214.42 864.98 214.42 867.07L214.42 872.51L214.42 890.9L233.42 890.9L233.42 872.51L233.42 867.07C233.42 864.98 231.9 863.31 230.95 862.06C233.42 861.22 233.42 858.3 230.95 857.04L227.34 854.53C226.58 852.44 225.44 850.35 223.92 850.14Z" fill="#505050"/><ellipse cx="223.92" cy="870.84" rx="6.27" ry="8.36" fill="#5c5c5c"/><ellipse cx="223.92" cy="885.88" rx="7.98" ry="4.18" fill="#5a5a5a"/><ellipse cx="223.92" cy="856.21" rx="3.23" ry="3.76" fill="#585858"/><ellipse cx="223.92" cy="879.61" rx="9.5" ry="1.25" fill="#474747"/></g>
<g filter="url(#b05)"><ellipse cx="223.79" cy="855.5" rx="3.09" ry="2.91" fill="#2a14f4"/><ellipse cx="223.79" cy="855.5" rx="2.65" ry="2.5" fill="#28c8ff"/><ellipse cx="223.79" cy="855.5" rx="2.05" ry="1.93" fill="#3cf03c"/><ellipse cx="223.79" cy="855.5" rx="1.28" ry="1.21" fill="#f4f020"/><ellipse cx="223.79" cy="855.5" rx="0.16" ry="0.15" fill="#ff2410"/><ellipse cx="223.29" cy="876.44" rx="3.97" ry="6.82" fill="#2a14f4" transform="rotate(6.59 223.29 876.44)"/><ellipse cx="222.72" cy="879.56" rx="4.3" ry="3.41" fill="#2a14f4" transform="rotate(-11.71 222.72 879.56)"/><ellipse cx="223.29" cy="876.44" rx="3.44" ry="5.91" fill="#28c8ff" transform="rotate(6.59 223.29 876.44)"/><ellipse cx="222.72" cy="879.56" rx="3.43" ry="2.72" fill="#28c8ff" transform="rotate(-11.71 222.72 879.56)"/><ellipse cx="223.29" cy="876.44" rx="2.73" ry="4.69" fill="#3cf03c" transform="rotate(6.59 223.29 876.44)"/><ellipse cx="222.72" cy="879.56" rx="2.19" ry="1.73" fill="#3cf03c" transform="rotate(-11.71 222.72 879.56)"/><ellipse cx="223.29" cy="876.44" rx="1.84" ry="3.16" fill="#f4f020" transform="rotate(6.59 223.29 876.44)"/><ellipse cx="222.72" cy="879.56" rx="0.07" ry="0.05" fill="#f4f020" transform="rotate(-11.71 222.72 879.56)"/><ellipse cx="223.29" cy="876.44" rx="0.68" ry="1.18" fill="#ff2410" transform="rotate(6.59 223.29 876.44)"/></g>
<rect x="234.86" y="849.1" width="19" height="41.8" fill="#2b2b2b"/><g filter="url(#b05)"><path d="M244.36 850.14C242.84 850.35 241.7 852.44 240.94 854.53L237.33 857.04C234.86 858.3 234.86 861.22 237.33 862.06C236.38 863.31 234.86 864.98 234.86 867.07L234.86 872.51L234.86 890.9L253.86 890.9L253.86 872.51L253.86 867.07C253.86 864.98 252.34 863.31 251.39 862.06C253.86 861.22 253.86 858.3 251.39 857.04L247.78 854.53C247.02 852.44 245.88 850.35 244.36 850.14Z" fill="#505050"/><ellipse cx="244.36" cy="870.84" rx="6.27" ry="8.36" fill="#5c5c5c"/><ellipse cx="244.36" cy="885.88" rx="7.98" ry="4.18" fill="#5a5a5a"/><ellipse cx="244.36" cy="856.21" rx="3.23" ry="3.76" fill="#585858"/><ellipse cx="244.36" cy="879.61" rx="9.5" ry="1.25" fill="#474747"/></g>
<g filter="url(#b05)"><ellipse cx="242.57" cy="855.52" rx="2.98" ry="2.42" fill="#2a14f4"/><ellipse cx="242.57" cy="855.52" rx="2.64" ry="2.14" fill="#28c8ff"/><ellipse cx="242.57" cy="855.52" rx="2.17" ry="1.76" fill="#3cf03c"/><ellipse cx="242.57" cy="855.52" rx="1.61" ry="1.3" fill="#f4f020"/><ellipse cx="242.57" cy="855.52" rx="0.93" ry="0.76" fill="#ff2410"/><ellipse cx="243.44" cy="874.27" rx="5.17" ry="7.29" fill="#2a14f4" transform="rotate(-4.76 243.44 874.27)"/><ellipse cx="243.92" cy="877.17" rx="5.76" ry="3.65" fill="#2a14f4" transform="rotate(-10.17 243.92 877.17)"/><ellipse cx="243.44" cy="874.27" rx="4.56" ry="6.43" fill="#28c8ff" transform="rotate(-4.76 243.44 874.27)"/><ellipse cx="243.92" cy="877.17" rx="4.41" ry="2.79" fill="#28c8ff" transform="rotate(-10.17 243.92 877.17)"/><ellipse cx="243.44" cy="874.27" rx="3.74" ry="5.28" fill="#3cf03c" transform="rotate(-4.76 243.44 874.27)"/><ellipse cx="243.92" cy="877.17" rx="2.41" ry="1.52" fill="#3cf03c" transform="rotate(-10.17 243.92 877.17)"/><ellipse cx="243.44" cy="874.27" rx="2.74" ry="3.87" fill="#f4f020" transform="rotate(-4.76 243.44 874.27)"/><ellipse cx="243.44" cy="874.27" rx="1.55" ry="2.19" fill="#ff2410" transform="rotate(-4.76 243.44 874.27)"/></g>
<rect x="255.3" y="849.1" width="19" height="41.8" fill="#2b2b2b"/><g filter="url(#b05)"><path d="M264.8 850.14C263.28 850.35 262.14 852.44 261.38 854.53L257.77 857.04C255.3 858.3 255.3 861.22 257.77 862.06C256.82 863.31 255.3 864.98 255.3 867.07L255.3 872.51L255.3 890.9L274.3 890.9L274.3 872.51L274.3 867.07C274.3 864.98 272.78 863.31 271.83 862.06C274.3 861.22 274.3 858.3 271.83 857.04L268.22 854.53C267.46 852.44 266.32 850.35 264.8 850.14Z" fill="#505050"/><ellipse cx="264.8" cy="870.84" rx="6.27" ry="8.36" fill="#5c5c5c"/><ellipse cx="264.8" cy="885.88" rx="7.98" ry="4.18" fill="#5a5a5a"/><ellipse cx="264.8" cy="856.21" rx="3.23" ry="3.76" fill="#585858"/><ellipse cx="264.8" cy="879.61" rx="9.5" ry="1.25" fill="#474747"/></g>
<g filter="url(#b05)"><ellipse cx="264.57" cy="856.1" rx="3.51" ry="2.45" fill="#2a14f4"/><ellipse cx="264.57" cy="856.1" rx="2.89" ry="2.01" fill="#28c8ff"/><ellipse cx="264.57" cy="856.1" rx="2.01" ry="1.4" fill="#3cf03c"/><ellipse cx="264.57" cy="856.1" rx="0.77" ry="0.54" fill="#f4f020"/><ellipse cx="263.4" cy="875.82" rx="4.62" ry="5.46" fill="#2a14f4" transform="rotate(-9.13 263.4 875.82)"/><ellipse cx="263.38" cy="879.73" rx="3.78" ry="2.73" fill="#2a14f4" transform="rotate(3.55 263.38 879.73)"/><ellipse cx="263.4" cy="875.82" rx="4.07" ry="4.81" fill="#28c8ff" transform="rotate(-9.13 263.4 875.82)"/><ellipse cx="263.38" cy="879.73" rx="2.78" ry="2" fill="#28c8ff" transform="rotate(3.55 263.38 879.73)"/><ellipse cx="263.4" cy="875.82" rx="3.34" ry="3.95" fill="#3cf03c" transform="rotate(-9.13 263.4 875.82)"/><ellipse cx="263.38" cy="879.73" rx="1.2" ry="0.87" fill="#3cf03c" transform="rotate(3.55 263.38 879.73)"/><ellipse cx="263.4" cy="875.82" rx="2.45" ry="2.9" fill="#f4f020" transform="rotate(-9.13 263.4 875.82)"/><ellipse cx="263.4" cy="875.82" rx="1.38" ry="1.63" fill="#ff2410" transform="rotate(-9.13 263.4 875.82)"/></g>
<rect x="275.74" y="849.1" width="19" height="41.8" fill="#2b2b2b"/><g filter="url(#b05)"><path d="M285.24 850.14C283.72 850.35 282.58 852.44 281.82 854.53L278.21 857.04C275.74 858.3 275.74 861.22 278.21 862.06C277.26 863.31 275.74 864.98 275.74 867.07L275.74 872.51L275.74 890.9L294.74 890.9L294.74 872.51L294.74 867.07C294.74 864.98 293.22 863.31 292.27 862.06C294.74 861.22 294.74 858.3 292.27 857.04L288.66 854.53C287.9 852.44 286.76 850.35 285.24 850.14Z" fill="#505050"/><ellipse cx="285.24" cy="870.84" rx="6.27" ry="8.36" fill="#5c5c5c"/><ellipse cx="285.24" cy="885.88" rx="7.98" ry="4.18" fill="#5a5a5a"/><ellipse cx="285.24" cy="856.21" rx="3.23" ry="3.76" fill="#585858"/><ellipse cx="285.24" cy="879.61" rx="9.5" ry="1.25" fill="#474747"/></g>
<g filter="url(#b05)"><ellipse cx="284.71" cy="856.39" rx="3.24" ry="2.48" fill="#2a14f4"/><ellipse cx="284.71" cy="856.39" rx="2.86" ry="2.19" fill="#28c8ff"/><ellipse cx="284.71" cy="856.39" rx="2.35" ry="1.8" fill="#3cf03c"/><ellipse cx="284.71" cy="856.39" rx="1.73" ry="1.33" fill="#f4f020"/><ellipse cx="284.71" cy="856.39" rx="0.99" ry="0.76" fill="#ff2410"/><ellipse cx="283.97" cy="873.56" rx="4.92" ry="5.67" fill="#2a14f4" transform="rotate(-8.66 283.97 873.56)"/><ellipse cx="284.54" cy="877.51" rx="5.71" ry="2.83" fill="#2a14f4" transform="rotate(-17.23 284.54 877.51)"/><ellipse cx="283.97" cy="873.56" rx="4.3" ry="4.96" fill="#28c8ff" transform="rotate(-8.66 283.97 873.56)"/><ellipse cx="284.54" cy="877.51" rx="4.7" ry="2.33" fill="#28c8ff" transform="rotate(-17.23 284.54 877.51)"/><ellipse cx="283.97" cy="873.56" rx="3.47" ry="4" fill="#3cf03c" transform="rotate(-8.66 283.97 873.56)"/><ellipse cx="284.54" cy="877.51" rx="3.28" ry="1.63" fill="#3cf03c" transform="rotate(-17.23 284.54 877.51)"/><ellipse cx="283.97" cy="873.56" rx="2.45" ry="2.82" fill="#f4f020" transform="rotate(-8.66 283.97 873.56)"/><ellipse cx="284.54" cy="877.51" rx="1.28" ry="0.63" fill="#f4f020" transform="rotate(-17.23 284.54 877.51)"/><ellipse cx="283.97" cy="873.56" rx="1.18" ry="1.36" fill="#ff2410" transform="rotate(-8.66 283.97 873.56)"/></g>
<rect x="296.18" y="849.1" width="19" height="41.8" fill="#2b2b2b"/><g filter="url(#b05)"><path d="M305.68 850.14C304.16 850.35 303.02 852.44 302.26 854.53L298.65 857.04C296.18 858.3 296.18 861.22 298.65 862.06C297.7 863.31 296.18 864.98 296.18 867.07L296.18 872.51L296.18 890.9L315.18 890.9L315.18 872.51L315.18 867.07C315.18 864.98 313.66 863.31 312.71 862.06C315.18 861.22 315.18 858.3 312.71 857.04L309.1 854.53C308.34 852.44 307.2 850.35 305.68 850.14Z" fill="#505050"/><ellipse cx="305.68" cy="870.84" rx="6.27" ry="8.36" fill="#5c5c5c"/><ellipse cx="305.68" cy="885.88" rx="7.98" ry="4.18" fill="#5a5a5a"/><ellipse cx="305.68" cy="856.21" rx="3.23" ry="3.76" fill="#585858"/><ellipse cx="305.68" cy="879.61" rx="9.5" ry="1.25" fill="#474747"/></g>
<g filter="url(#b05)"><ellipse cx="305.38" cy="855.57" rx="3.38" ry="2.52" fill="#2a14f4"/><ellipse cx="305.38" cy="855.57" rx="2.83" ry="2.11" fill="#28c8ff"/><ellipse cx="305.38" cy="855.57" rx="2.08" ry="1.55" fill="#3cf03c"/><ellipse cx="305.38" cy="855.57" rx="1.07" ry="0.8" fill="#f4f020"/><ellipse cx="304.16" cy="875.88" rx="4.5" ry="7.7" fill="#2a14f4" transform="rotate(-0.69 304.16 875.88)"/><ellipse cx="303.09" cy="878.52" rx="5.74" ry="3.85" fill="#2a14f4" transform="rotate(-11.79 303.09 878.52)"/><ellipse cx="304.16" cy="875.88" rx="3.91" ry="6.68" fill="#28c8ff" transform="rotate(-0.69 304.16 875.88)"/><ellipse cx="303.09" cy="878.52" rx="4.16" ry="2.79" fill="#28c8ff" transform="rotate(-11.79 303.09 878.52)"/><ellipse cx="304.16" cy="875.88" rx="3.1" ry="5.31" fill="#3cf03c" transform="rotate(-0.69 304.16 875.88)"/><ellipse cx="303.09" cy="878.52" rx="1.68" ry="1.13" fill="#3cf03c" transform="rotate(-11.79 303.09 878.52)"/><ellipse cx="304.16" cy="875.88" rx="2.1" ry="3.59" fill="#f4f020" transform="rotate(-0.69 304.16 875.88)"/><ellipse cx="304.16" cy="875.88" rx="0.8" ry="1.36" fill="#ff2410" transform="rotate(-0.69 304.16 875.88)"/></g>
<rect x="316.62" y="849.1" width="19" height="41.8" fill="#2b2b2b"/><g filter="url(#b05)"><path d="M326.12 850.14C324.6 850.35 323.46 852.44 322.7 854.53L319.09 857.04C316.62 858.3 316.62 861.22 319.09 862.06C318.14 863.31 316.62 864.98 316.62 867.07L316.62 872.51L316.62 890.9L335.62 890.9L335.62 872.51L335.62 867.07C335.62 864.98 334.1 863.31 333.15 862.06C335.62 861.22 335.62 858.3 333.15 857.04L329.54 854.53C328.78 852.44 327.64 850.35 326.12 850.14Z" fill="#505050"/><ellipse cx="326.12" cy="870.84" rx="6.27" ry="8.36" fill="#5c5c5c"/><ellipse cx="326.12" cy="885.88" rx="7.98" ry="4.18" fill="#5a5a5a"/><ellipse cx="326.12" cy="856.21" rx="3.23" ry="3.76" fill="#585858"/><ellipse cx="326.12" cy="879.61" rx="9.5" ry="1.25" fill="#474747"/></g>
<g filter="url(#b05)"><ellipse cx="324.89" cy="855.5" rx="3.06" ry="2.82" fill="#2a14f4"/><ellipse cx="324.89" cy="855.5" rx="2.65" ry="2.44" fill="#28c8ff"/><ellipse cx="324.89" cy="855.5" rx="2.1" ry="1.93" fill="#3cf03c"/><ellipse cx="324.89" cy="855.5" rx="1.4" ry="1.29" fill="#f4f020"/><ellipse cx="324.89" cy="855.5" rx="0.48" ry="0.44" fill="#ff2410"/><ellipse cx="325" cy="873.81" rx="4.44" ry="7.16" fill="#2a14f4" transform="rotate(-1.06 325 873.81)"/><ellipse cx="326.56" cy="876.2" rx="4.15" ry="3.58" fill="#2a14f4" transform="rotate(-0.25 326.56 876.2)"/><ellipse cx="325" cy="873.81" rx="3.9" ry="6.28" fill="#28c8ff" transform="rotate(-1.06 325 873.81)"/><ellipse cx="326.56" cy="876.2" rx="3.36" ry="2.9" fill="#28c8ff" transform="rotate(-0.25 326.56 876.2)"/><ellipse cx="325" cy="873.81" rx="3.16" ry="5.1" fill="#3cf03c" transform="rotate(-1.06 325 873.81)"/><ellipse cx="326.56" cy="876.2" rx="2.24" ry="1.93" fill="#3cf03c" transform="rotate(-0.25 326.56 876.2)"/><ellipse cx="325" cy="873.81" rx="2.26" ry="3.64" fill="#f4f020" transform="rotate(-1.06 325 873.81)"/><ellipse cx="326.56" cy="876.2" rx="0.55" ry="0.48" fill="#f4f020" transform="rotate(-0.25 326.56 876.2)"/><ellipse cx="325" cy="873.81" rx="1.15" ry="1.85" fill="#ff2410" transform="rotate(-1.06 325 873.81)"/></g>
<rect x="337.06" y="849.1" width="19" height="41.8" fill="#2b2b2b"/><g filter="url(#b05)"><path d="M346.56 850.14C345.04 850.35 343.9 852.44 343.14 854.53L339.53 857.04C337.06 858.3 337.06 861.22 339.53 862.06C338.58 863.31 337.06 864.98 337.06 867.07L337.06 872.51L337.06 890.9L356.06 890.9L356.06 872.51L356.06 867.07C356.06 864.98 354.54 863.31 353.59 862.06C356.06 861.22 356.06 858.3 353.59 857.04L349.98 854.53C349.22 852.44 348.08 850.35 346.56 850.14Z" fill="#505050"/><ellipse cx="346.56" cy="870.84" rx="6.27" ry="8.36" fill="#5c5c5c"/><ellipse cx="346.56" cy="885.88" rx="7.98" ry="4.18" fill="#5a5a5a"/><ellipse cx="346.56" cy="856.21" rx="3.23" ry="3.76" fill="#585858"/><ellipse cx="346.56" cy="879.61" rx="9.5" ry="1.25" fill="#474747"/></g>
<g filter="url(#b05)"><ellipse cx="346.37" cy="856.3" rx="3.29" ry="2.65" fill="#2a14f4"/><ellipse cx="346.37" cy="856.3" rx="2.87" ry="2.32" fill="#28c8ff"/><ellipse cx="346.37" cy="856.3" rx="2.32" ry="1.87" fill="#3cf03c"/><ellipse cx="346.37" cy="856.3" rx="1.63" ry="1.31" fill="#f4f020"/><ellipse cx="346.37" cy="856.3" rx="0.76" ry="0.62" fill="#ff2410"/><ellipse cx="346.95" cy="874.33" rx="3.5" ry="6.08" fill="#2a14f4" transform="rotate(-2.85 346.95 874.33)"/><ellipse cx="346.05" cy="877.73" rx="3.92" ry="3.04" fill="#2a14f4" transform="rotate(18.25 346.05 877.73)"/><ellipse cx="346.95" cy="874.33" rx="3.09" ry="5.37" fill="#28c8ff" transform="rotate(-2.85 346.95 874.33)"/><ellipse cx="346.05" cy="877.73" rx="2.87" ry="2.23" fill="#28c8ff" transform="rotate(18.25 346.05 877.73)"/><ellipse cx="346.95" cy="874.33" rx="2.54" ry="4.42" fill="#3cf03c" transform="rotate(-2.85 346.95 874.33)"/><ellipse cx="346.05" cy="877.73" rx="1.24" ry="0.96" fill="#3cf03c" transform="rotate(18.25 346.05 877.73)"/><ellipse cx="346.95" cy="874.33" rx="1.87" ry="3.26" fill="#f4f020" transform="rotate(-2.85 346.95 874.33)"/><ellipse cx="346.95" cy="874.33" rx="1.08" ry="1.88" fill="#ff2410" transform="rotate(-2.85 346.95 874.33)"/></g>
<rect x="357.5" y="849.1" width="19" height="41.8" fill="#2b2b2b"/><g filter="url(#b05)"><path d="M367 850.14C365.48 850.35 364.34 852.44 363.58 854.53L359.97 857.04C357.5 858.3 357.5 861.22 359.97 862.06C359.02 863.31 357.5 864.98 357.5 867.07L357.5 872.51L357.5 890.9L376.5 890.9L376.5 872.51L376.5 867.07C376.5 864.98 374.98 863.31 374.03 862.06C376.5 861.22 376.5 858.3 374.03 857.04L370.42 854.53C369.66 852.44 368.52 850.35 367 850.14Z" fill="#505050"/><ellipse cx="367" cy="870.84" rx="6.27" ry="8.36" fill="#5c5c5c"/><ellipse cx="367" cy="885.88" rx="7.98" ry="4.18" fill="#5a5a5a"/><ellipse cx="367" cy="856.21" rx="3.23" ry="3.76" fill="#585858"/><ellipse cx="367" cy="879.61" rx="9.5" ry="1.25" fill="#474747"/></g>
<g filter="url(#b05)"><ellipse cx="366.56" cy="855.93" rx="2.76" ry="2.83" fill="#2a14f4"/><ellipse cx="366.56" cy="855.93" rx="2.42" ry="2.48" fill="#28c8ff"/><ellipse cx="366.56" cy="855.93" rx="1.96" ry="2.01" fill="#3cf03c"/><ellipse cx="366.56" cy="855.93" rx="1.4" ry="1.44" fill="#f4f020"/><ellipse cx="366.56" cy="855.93" rx="0.72" ry="0.74" fill="#ff2410"/><ellipse cx="366.81" cy="873.51" rx="5.63" ry="6.4" fill="#2a14f4" transform="rotate(2.73 366.81 873.51)"/><ellipse cx="365.9" cy="876.45" rx="5.43" ry="3.2" fill="#2a14f4" transform="rotate(-16.16 365.9 876.45)"/><ellipse cx="366.81" cy="873.51" rx="4.96" ry="5.63" fill="#28c8ff" transform="rotate(2.73 366.81 873.51)"/><ellipse cx="365.9" cy="876.45" rx="3.91" ry="2.3" fill="#28c8ff" transform="rotate(-16.16 365.9 876.45)"/><ellipse cx="366.81" cy="873.51" rx="4.05" ry="4.6" fill="#3cf03c" transform="rotate(2.73 366.81 873.51)"/><ellipse cx="365.9" cy="876.45" rx="1.47" ry="0.87" fill="#3cf03c" transform="rotate(-16.16 365.9 876.45)"/><ellipse cx="366.81" cy="873.51" rx="2.94" ry="3.34" fill="#f4f020" transform="rotate(2.73 366.81 873.51)"/><ellipse cx="366.81" cy="873.51" rx="1.6" ry="1.82" fill="#ff2410" transform="rotate(2.73 366.81 873.51)"/></g>
<rect x="377.94" y="849.1" width="19" height="41.8" fill="#2b2b2b"/><g filter="url(#b05)"><path d="M387.44 850.14C385.92 850.35 384.78 852.44 384.02 854.53L380.41 857.04C377.94 858.3 377.94 861.22 380.41 862.06C379.46 863.31 377.94 864.98 377.94 867.07L377.94 872.51L377.94 890.9L396.94 890.9L396.94 872.51L396.94 867.07C396.94 864.98 395.42 863.31 394.47 862.06C396.94 861.22 396.94 858.3 394.47 857.04L390.86 854.53C390.1 852.44 388.96 850.35 387.44 850.14Z" fill="#505050"/><ellipse cx="387.44" cy="870.84" rx="6.27" ry="8.36" fill="#5c5c5c"/><ellipse cx="387.44" cy="885.88" rx="7.98" ry="4.18" fill="#5a5a5a"/><ellipse cx="387.44" cy="856.21" rx="3.23" ry="3.76" fill="#585858"/><ellipse cx="387.44" cy="879.61" rx="9.5" ry="1.25" fill="#474747"/></g>
<g filter="url(#b05)"><ellipse cx="386.9" cy="856.06" rx="3.49" ry="2.35" fill="#2a14f4"/><ellipse cx="386.9" cy="856.06" rx="2.92" ry="1.97" fill="#28c8ff"/><ellipse cx="386.9" cy="856.06" rx="2.15" ry="1.45" fill="#3cf03c"/><ellipse cx="386.9" cy="856.06" rx="1.11" ry="0.75" fill="#f4f020"/><ellipse cx="386.33" cy="876.5" rx="5.18" ry="7.68" fill="#2a14f4" transform="rotate(0.13 386.33 876.5)"/><ellipse cx="386.01" cy="879.06" rx="4.22" ry="3.84" fill="#2a14f4" transform="rotate(2.6 386.01 879.06)"/><ellipse cx="386.33" cy="876.5" rx="4.49" ry="6.66" fill="#28c8ff" transform="rotate(0.13 386.33 876.5)"/><ellipse cx="386.01" cy="879.06" rx="3.25" ry="2.96" fill="#28c8ff" transform="rotate(2.6 386.01 879.06)"/><ellipse cx="386.33" cy="876.5" rx="3.56" ry="5.27" fill="#3cf03c" transform="rotate(0.13 386.33 876.5)"/><ellipse cx="386.01" cy="879.06" rx="1.82" ry="1.66" fill="#3cf03c" transform="rotate(2.6 386.01 879.06)"/><ellipse cx="386.33" cy="876.5" rx="2.38" ry="3.54" fill="#f4f020" transform="rotate(0.13 386.33 876.5)"/><ellipse cx="386.33" cy="876.5" rx="0.85" ry="1.26" fill="#ff2410" transform="rotate(0.13 386.33 876.5)"/></g>
<rect x="398.38" y="849.1" width="19" height="41.8" fill="#2b2b2b"/><g filter="url(#b05)"><path d="M407.88 850.14C406.36 850.35 405.22 852.44 404.46 854.53L400.85 857.04C398.38 858.3 398.38 861.22 400.85 862.06C399.9 863.31 398.38 864.98 398.38 867.07L398.38 872.51L398.38 890.9L417.38 890.9L417.38 872.51L417.38 867.07C417.38 864.98 415.86 863.31 414.91 862.06C417.38 861.22 417.38 858.3 414.91 857.04L411.3 854.53C410.54 852.44 409.4 850.35 407.88 850.14Z" fill="#505050"/><ellipse cx="407.88" cy="870.84" rx="6.27" ry="8.36" fill="#5c5c5c"/><ellipse cx="407.88" cy="885.88" rx="7.98" ry="4.18" fill="#5a5a5a"/><ellipse cx="407.88" cy="856.21" rx="3.23" ry="3.76" fill="#585858"/><ellipse cx="407.88" cy="879.61" rx="9.5" ry="1.25" fill="#474747"/></g>
<g filter="url(#b05)"><ellipse cx="406.18" cy="856.23" rx="3.55" ry="3.09" fill="#2a14f4"/><ellipse cx="406.18" cy="856.23" rx="3.02" ry="2.64" fill="#28c8ff"/><ellipse cx="406.18" cy="856.23" rx="2.31" ry="2.01" fill="#3cf03c"/><ellipse cx="406.18" cy="856.23" rx="1.39" ry="1.21" fill="#f4f020"/><ellipse cx="406.59" cy="875.91" rx="3.51" ry="6.78" fill="#2a14f4" transform="rotate(-8.33 406.59 875.91)"/><ellipse cx="406.76" cy="878.92" rx="3.29" ry="3.39" fill="#2a14f4" transform="rotate(2.04 406.76 878.92)"/><ellipse cx="406.59" cy="875.91" rx="3.11" ry="6" fill="#28c8ff" transform="rotate(-8.33 406.59 875.91)"/><ellipse cx="406.76" cy="878.92" rx="2.81" ry="2.89" fill="#28c8ff" transform="rotate(2.04 406.76 878.92)"/><ellipse cx="406.59" cy="875.91" rx="2.57" ry="4.96" fill="#3cf03c" transform="rotate(-8.33 406.59 875.91)"/><ellipse cx="406.76" cy="878.92" rx="2.15" ry="2.21" fill="#3cf03c" transform="rotate(2.04 406.76 878.92)"/><ellipse cx="406.59" cy="875.91" rx="1.91" ry="3.69" fill="#f4f020" transform="rotate(-8.33 406.59 875.91)"/><ellipse cx="406.76" cy="878.92" rx="1.3" ry="1.34" fill="#f4f020" transform="rotate(2.04 406.76 878.92)"/><ellipse cx="406.59" cy="875.91" rx="1.13" ry="2.19" fill="#ff2410" transform="rotate(-8.33 406.59 875.91)"/></g>
</g>
<rect x="423.2" y="703" width="5" height="173.6" fill="url(#rbN)"/>
<text x="430.6" y="709.6" font-size="7.6" text-anchor="start">40000</text>
<text x="430.6" y="875.8" font-size="7.6" text-anchor="start">5000</text>
<text x="419.6" y="888.2" font-size="7.6" text-anchor="start">Intensity</text>
</g>
<g id="p-o">
<text x="444.1" y="682.2" font-size="20.2" font-weight="normal" text-anchor="start" stroke="#000" stroke-width="0.15">o</text>
<text x="498.2" y="684.5" font-size="6.8" fill="#2a2af0">DAPI</text>
<text x="551.4" y="684.5" font-size="6.8" fill="#35c035">Coumarin 6</text>
<text x="604" y="684.5" font-size="6.8" fill="#f02828">CD34</text>
<text x="657.2" y="684.5" font-size="6.8">Merge</text>
<text x="468.4" y="711.9" font-size="6.6" transform="rotate(-90 468.4 711.9)">Lip</text>
<g clip-path="url(#co0)">
<rect x="472.5" y="687.6" width="51.6" height="49.4" fill="#020203"/>
<g filter="url(#b05)"><ellipse cx="496.25" cy="730.22" rx="1.04" ry="1.03" fill="#2222da" transform="rotate(173.12 496.25 730.22)"/><ellipse cx="479.89" cy="705.11" rx="2.14" ry="1.15" fill="#2626f3" transform="rotate(5.15 479.89 705.11)"/><ellipse cx="479.97" cy="719" rx="1.81" ry="1.17" fill="#1a1aa6" transform="rotate(173.16 479.97 719)"/><ellipse cx="503.49" cy="693.98" rx="2.26" ry="0.92" fill="#2525ed" transform="rotate(92.35 503.49 693.98)"/><ellipse cx="517.28" cy="693.21" rx="2.14" ry="1.47" fill="#2323e4" transform="rotate(56.84 517.28 693.21)"/><ellipse cx="484.78" cy="695.88" rx="1.21" ry="1.05" fill="#1f1fc5" transform="rotate(148.72 484.78 695.88)"/><ellipse cx="522.53" cy="730.98" rx="1.27" ry="1.15" fill="#2121d2" transform="rotate(11.59 522.53 730.98)"/><ellipse cx="503.71" cy="716.35" rx="1.12" ry="1.29" fill="#2525ed" transform="rotate(20.21 503.71 716.35)"/><ellipse cx="496.39" cy="693.3" rx="2.27" ry="1.56" fill="#2626f7" transform="rotate(59.72 496.39 693.3)"/><ellipse cx="487.65" cy="713.88" rx="1.74" ry="1.43" fill="#181897" transform="rotate(12.57 487.65 713.88)"/><ellipse cx="480.9" cy="706.84" rx="2.04" ry="1.38" fill="#2323e2" transform="rotate(19.42 480.9 706.84)"/><ellipse cx="482.93" cy="689.5" rx="1.62" ry="1.53" fill="#1e1ec2" transform="rotate(163.08 482.93 689.5)"/><ellipse cx="513.08" cy="697.77" rx="1.21" ry="1.57" fill="#1a1aa6" transform="rotate(120.8 513.08 697.77)"/><ellipse cx="490.24" cy="725.24" rx="1.07" ry="0.95" fill="#1b1bad" transform="rotate(144.66 490.24 725.24)"/><ellipse cx="494.3" cy="709" rx="1.62" ry="1.05" fill="#2424e9" transform="rotate(44.73 494.3 709)"/><ellipse cx="511.13" cy="733.48" rx="1.05" ry="0.93" fill="#1c1cb5" transform="rotate(153.47 511.13 733.48)"/><ellipse cx="512.8" cy="702.97" rx="1.51" ry="1.34" fill="#2020cc" transform="rotate(76.73 512.8 702.97)"/><ellipse cx="475.32" cy="729.12" rx="1.8" ry="1" fill="#2222d8" transform="rotate(85.47 475.32 729.12)"/><ellipse cx="519.75" cy="689.63" rx="2.2" ry="1.27" fill="#1d1dba" transform="rotate(7.4 519.75 689.63)"/><ellipse cx="509.43" cy="693.92" rx="1.77" ry="1.25" fill="#171796" transform="rotate(103.44 509.43 693.92)"/><ellipse cx="474.48" cy="734.35" rx="1.21" ry="0.95" fill="#171795" transform="rotate(102.45 474.48 734.35)"/><ellipse cx="509.8" cy="724.82" rx="1.44" ry="1.28" fill="#2222dd" transform="rotate(87.03 509.8 724.82)"/><ellipse cx="482.23" cy="689.97" rx="1.12" ry="1.55" fill="#1b1bb0" transform="rotate(177.39 482.23 689.97)"/><ellipse cx="509.7" cy="699.55" rx="1.78" ry="1.11" fill="#2626f5" transform="rotate(100.85 509.7 699.55)"/><ellipse cx="516.82" cy="732.79" rx="2.08" ry="1.18" fill="#2525ec" transform="rotate(36.03 516.82 732.79)"/><ellipse cx="505.52" cy="695.41" rx="1.51" ry="0.84" fill="#2626f8" transform="rotate(139.75 505.52 695.41)"/></g>
</g>
<g clip-path="url(#co1)">
<rect x="525.8" y="687.6" width="51.6" height="49.4" fill="#020203"/>
<g filter="url(#b05)"><circle cx="527.3" cy="718.48" r="0.67" fill="#49b634"/><circle cx="562.99" cy="694.29" r="0.53" fill="#3d952c"/><circle cx="555.56" cy="705.55" r="0.37" fill="#43a430"/><circle cx="532.58" cy="694.94" r="0.55" fill="#46ad32"/><circle cx="532.71" cy="691.81" r="0.47" fill="#388728"/><circle cx="573.58" cy="702.55" r="0.29" fill="#409e2e"/><circle cx="553.52" cy="709.05" r="0.53" fill="#378528"/><circle cx="534.66" cy="716.87" r="0.29" fill="#3f9b2d"/><circle cx="538.66" cy="724.45" r="0.51" fill="#43a530"/><circle cx="541.55" cy="712" r="0.49" fill="#409d2e"/><circle cx="556.92" cy="712.15" r="0.61" fill="#3f9a2d"/><circle cx="538.11" cy="690.93" r="0.31" fill="#368227"/><circle cx="531.03" cy="721.62" r="0.57" fill="#3c932b"/><circle cx="568.38" cy="700.14" r="0.46" fill="#45aa31"/><circle cx="536.72" cy="708.44" r="0.41" fill="#45ab31"/><circle cx="535.32" cy="708.77" r="0.6" fill="#45aa31"/></g>
</g>
<g clip-path="url(#co2)">
<rect x="579" y="687.6" width="51.6" height="49.4" fill="#020203"/>
<g filter="url(#b05)"><path d="M613.88 708.35 Q611.51 712.79 609.86 716.92 Q608.21 721.04 606.17 724.45 Q604.13 727.86 601.7 729.34 Q599.28 730.83 592.78 726.63" fill="none" stroke="#d81c18" stroke-width="1.2" stroke-linecap="round" opacity="1"/><path d="M624.41 727.12 L629.31 729.1" fill="none" stroke="#d81c18" stroke-width="1.2" stroke-linecap="round" opacity="0.9"/></g>
</g>
<g clip-path="url(#co3)">
<rect x="632.2" y="687.6" width="51.6" height="49.4" fill="#020203"/>
<g filter="url(#b05)"><ellipse cx="655.95" cy="730.22" rx="1.04" ry="1.03" fill="#2222da" transform="rotate(173.12 655.95 730.22)"/><ellipse cx="639.59" cy="705.11" rx="2.14" ry="1.15" fill="#2626f3" transform="rotate(5.15 639.59 705.11)"/><ellipse cx="639.67" cy="719" rx="1.81" ry="1.17" fill="#1a1aa6" transform="rotate(173.16 639.67 719)"/><ellipse cx="663.19" cy="693.98" rx="2.26" ry="0.92" fill="#2525ed" transform="rotate(92.35 663.19 693.98)"/><ellipse cx="676.98" cy="693.21" rx="2.14" ry="1.47" fill="#2323e4" transform="rotate(56.84 676.98 693.21)"/><ellipse cx="644.48" cy="695.88" rx="1.21" ry="1.05" fill="#1f1fc5" transform="rotate(148.72 644.48 695.88)"/><ellipse cx="682.23" cy="730.98" rx="1.27" ry="1.15" fill="#2121d2" transform="rotate(11.59 682.23 730.98)"/><ellipse cx="663.41" cy="716.35" rx="1.12" ry="1.29" fill="#2525ed" transform="rotate(20.21 663.41 716.35)"/><ellipse cx="656.09" cy="693.3" rx="2.27" ry="1.56" fill="#2626f7" transform="rotate(59.72 656.09 693.3)"/><ellipse cx="647.35" cy="713.88" rx="1.74" ry="1.43" fill="#181897" transform="rotate(12.57 647.35 713.88)"/><ellipse cx="640.6" cy="706.84" rx="2.04" ry="1.38" fill="#2323e2" transform="rotate(19.42 640.6 706.84)"/><ellipse cx="642.63" cy="689.5" rx="1.62" ry="1.53" fill="#1e1ec2" transform="rotate(163.08 642.63 689.5)"/><ellipse cx="672.78" cy="697.77" rx="1.21" ry="1.57" fill="#1a1aa6" transform="rotate(120.8 672.78 697.77)"/><ellipse cx="649.94" cy="725.24" rx="1.07" ry="0.95" fill="#1b1bad" transform="rotate(144.66 649.94 725.24)"/><ellipse cx="654" cy="709" rx="1.62" ry="1.05" fill="#2424e9" transform="rotate(44.73 654 709)"/><ellipse cx="670.83" cy="733.48" rx="1.05" ry="0.93" fill="#1c1cb5" transform="rotate(153.47 670.83 733.48)"/><ellipse cx="672.5" cy="702.97" rx="1.51" ry="1.34" fill="#2020cc" transform="rotate(76.73 672.5 702.97)"/><ellipse cx="635.02" cy="729.12" rx="1.8" ry="1" fill="#2222d8" transform="rotate(85.47 635.02 729.12)"/><ellipse cx="679.45" cy="689.63" rx="2.2" ry="1.27" fill="#1d1dba" transform="rotate(7.4 679.45 689.63)"/><ellipse cx="669.13" cy="693.92" rx="1.77" ry="1.25" fill="#171796" transform="rotate(103.44 669.13 693.92)"/><ellipse cx="634.18" cy="734.35" rx="1.21" ry="0.95" fill="#171795" transform="rotate(102.45 634.18 734.35)"/><ellipse cx="669.5" cy="724.82" rx="1.44" ry="1.28" fill="#2222dd" transform="rotate(87.03 669.5 724.82)"/><ellipse cx="641.93" cy="689.97" rx="1.12" ry="1.55" fill="#1b1bb0" transform="rotate(177.39 641.93 689.97)"/><ellipse cx="669.4" cy="699.55" rx="1.78" ry="1.11" fill="#2626f5" transform="rotate(100.85 669.4 699.55)"/><ellipse cx="676.52" cy="732.79" rx="2.08" ry="1.18" fill="#2525ec" transform="rotate(36.03 676.52 732.79)"/><ellipse cx="665.22" cy="695.41" rx="1.51" ry="0.84" fill="#2626f8" transform="rotate(139.75 665.22 695.41)"/></g>
<g filter="url(#b05)"><path d="M667.08 708.35 Q664.71 712.79 663.06 716.92 Q661.41 721.04 659.37 724.45 Q657.33 727.86 654.9 729.34 Q652.48 730.83 645.98 726.63" fill="none" stroke="#d81c18" stroke-width="1.2" stroke-linecap="round" opacity="1"/><path d="M677.61 727.12 L682.51 729.1" fill="none" stroke="#d81c18" stroke-width="1.2" stroke-linecap="round" opacity="0.9"/></g>
<g filter="url(#b05)"><circle cx="633.7" cy="718.48" r="0.67" fill="#49b634"/><circle cx="669.39" cy="694.29" r="0.53" fill="#3d952c"/><circle cx="661.96" cy="705.55" r="0.37" fill="#43a430"/><circle cx="638.98" cy="694.94" r="0.55" fill="#46ad32"/><circle cx="639.11" cy="691.81" r="0.47" fill="#388728"/><circle cx="679.98" cy="702.55" r="0.29" fill="#409e2e"/><circle cx="659.92" cy="709.05" r="0.53" fill="#378528"/><circle cx="641.06" cy="716.87" r="0.29" fill="#3f9b2d"/><circle cx="645.06" cy="724.45" r="0.51" fill="#43a530"/><circle cx="647.95" cy="712" r="0.49" fill="#409d2e"/><circle cx="663.32" cy="712.15" r="0.61" fill="#3f9a2d"/><circle cx="644.51" cy="690.93" r="0.31" fill="#368227"/><circle cx="637.43" cy="721.62" r="0.57" fill="#3c932b"/><circle cx="674.78" cy="700.14" r="0.46" fill="#45aa31"/><circle cx="643.12" cy="708.44" r="0.41" fill="#45ab31"/><circle cx="641.72" cy="708.77" r="0.6" fill="#45aa31"/></g>
</g>
<line x1="671.9" y1="733.2" x2="680.6" y2="733.2" stroke="#dcdcdc" stroke-width="1.5"/>
<text x="468.4" y="763.5" font-size="6.6" transform="rotate(-90 468.4 763.5)">ITP-Lip</text>
<g clip-path="url(#co4)">
<rect x="472.5" y="739.05" width="51.6" height="49.4" fill="#020203"/>
<g filter="url(#b05)"><ellipse cx="492.41" cy="750.98" rx="1.22" ry="1.53" fill="#1b1bad" transform="rotate(104.03 492.41 750.98)"/><ellipse cx="500.93" cy="758.23" rx="1.95" ry="1.26" fill="#1b1bab" transform="rotate(140.62 500.93 758.23)"/><ellipse cx="515.11" cy="760.88" rx="1.2" ry="0.92" fill="#151586" transform="rotate(130.17 515.11 760.88)"/><ellipse cx="505.96" cy="769.48" rx="1.08" ry="1.43" fill="#1d1dba" transform="rotate(5.94 505.96 769.48)"/><ellipse cx="515.19" cy="750.28" rx="1.94" ry="1.39" fill="#1b1bab" transform="rotate(22.5 515.19 750.28)"/><ellipse cx="479.66" cy="783.35" rx="1.9" ry="1.58" fill="#171791" transform="rotate(9.64 479.66 783.35)"/><ellipse cx="504.24" cy="768.88" rx="1.24" ry="1.51" fill="#161690" transform="rotate(152.37 504.24 768.88)"/><ellipse cx="480.76" cy="771.7" rx="1.53" ry="1.33" fill="#181897" transform="rotate(88.79 480.76 771.7)"/><ellipse cx="474.61" cy="746.44" rx="1.6" ry="1.38" fill="#1c1cb1" transform="rotate(76.62 474.61 746.44)"/><ellipse cx="500.27" cy="781.79" rx="1.85" ry="1.06" fill="#14147e" transform="rotate(24.99 500.27 781.79)"/><ellipse cx="475.49" cy="780.94" rx="2.14" ry="1.4" fill="#1b1bab" transform="rotate(19.68 475.49 780.94)"/><ellipse cx="479.86" cy="782.2" rx="1.85" ry="1.4" fill="#181898" transform="rotate(109.63 479.86 782.2)"/><ellipse cx="515.56" cy="785.64" rx="1.31" ry="1.15" fill="#1b1bac" transform="rotate(132.02 515.56 785.64)"/><ellipse cx="493.87" cy="761.38" rx="2.26" ry="1.02" fill="#1b1bac" transform="rotate(38.08 493.87 761.38)"/><ellipse cx="487.25" cy="782.6" rx="1.42" ry="1.54" fill="#1d1dbb" transform="rotate(68.37 487.25 782.6)"/><ellipse cx="510.74" cy="774.75" rx="1.28" ry="0.93" fill="#151586" transform="rotate(5.58 510.74 774.75)"/><ellipse cx="506.55" cy="743.09" rx="1.31" ry="1.25" fill="#171792" transform="rotate(27.93 506.55 743.09)"/><ellipse cx="484.84" cy="772.1" rx="1.15" ry="1.6" fill="#1b1bae" transform="rotate(107.77 484.84 772.1)"/><ellipse cx="500.9" cy="763.65" rx="2.26" ry="1.51" fill="#13137b" transform="rotate(147.95 500.9 763.65)"/><ellipse cx="502.73" cy="784.7" rx="1.83" ry="1.21" fill="#151586" transform="rotate(116.95 502.73 784.7)"/></g>
</g>
<g clip-path="url(#co5)">
<rect x="525.8" y="739.05" width="51.6" height="49.4" fill="#020203"/>
<g filter="url(#b05)"><circle cx="562.88" cy="777.2" r="0.43" fill="#52ce3a"/><circle cx="556.32" cy="756.73" r="0.8" fill="#61f744"/><circle cx="571.72" cy="754.63" r="0.48" fill="#5ef042"/><circle cx="557.15" cy="779.38" r="0.91" fill="#4ab734"/><circle cx="555.93" cy="754.42" r="0.87" fill="#58e03e"/><circle cx="538.67" cy="763.76" r="0.74" fill="#48b333"/><circle cx="535.87" cy="762.53" r="0.43" fill="#51cd39"/><circle cx="573.39" cy="779.21" r="0.42" fill="#5ded41"/><circle cx="562.32" cy="773.62" r="0.4" fill="#5be740"/><circle cx="536.51" cy="778.12" r="0.58" fill="#4dc036"/><circle cx="535.37" cy="781.18" r="0.52" fill="#5ff242"/><circle cx="552.28" cy="747.08" r="0.78" fill="#53d03a"/><circle cx="528.17" cy="779.1" r="0.55" fill="#409e2e"/><circle cx="564.79" cy="774.52" r="0.62" fill="#46ae32"/><circle cx="552.93" cy="767.85" r="0.8" fill="#51cc39"/><circle cx="554.96" cy="774.22" r="0.5" fill="#46ad32"/><circle cx="550.83" cy="775.8" r="0.87" fill="#5ef042"/><circle cx="548.58" cy="773.88" r="0.45" fill="#4dc237"/><circle cx="530.14" cy="779.65" r="0.99" fill="#58de3e"/><circle cx="564.11" cy="757.69" r="0.87" fill="#43a430"/><circle cx="545.19" cy="756.68" r="0.91" fill="#46ad32"/><circle cx="534.71" cy="744.28" r="0.89" fill="#4bbb35"/><circle cx="571.57" cy="754.88" r="0.89" fill="#47af32"/><circle cx="571.54" cy="786.21" r="0.92" fill="#58e03e"/><circle cx="571.23" cy="783.4" r="0.97" fill="#49b734"/><circle cx="568.93" cy="777.01" r="0.59" fill="#46ac32"/><circle cx="571.4" cy="762.44" r="0.71" fill="#5ff343"/><circle cx="550.8" cy="752.01" r="0.8" fill="#53d03a"/><circle cx="540.33" cy="772.86" r="0.93" fill="#48b433"/><circle cx="567.09" cy="775.78" r="0.7" fill="#46af32"/><circle cx="559.77" cy="753.38" r="0.54" fill="#5ef042"/><circle cx="540.24" cy="744.42" r="0.9" fill="#63fe45"/><circle cx="541.96" cy="759.24" r="0.71" fill="#5be640"/><circle cx="527.44" cy="770.77" r="0.53" fill="#61f744"/><circle cx="547.37" cy="784.82" r="0.66" fill="#57dc3d"/><circle cx="528.71" cy="749.65" r="0.56" fill="#4dc036"/><circle cx="535.41" cy="760.01" r="0.44" fill="#54d43b"/><circle cx="574.53" cy="780.69" r="0.76" fill="#63fd45"/><circle cx="562.92" cy="770.12" r="0.66" fill="#42a42f"/><circle cx="571.08" cy="782.54" r="0.87" fill="#58e03e"/><circle cx="567.09" cy="785.5" r="0.97" fill="#5be840"/><circle cx="527.64" cy="784.96" r="0.73" fill="#50c838"/><circle cx="548.18" cy="752.86" r="0.41" fill="#56d93c"/><circle cx="557.42" cy="744.14" r="0.94" fill="#60f543"/><circle cx="569.67" cy="765.52" r="0.62" fill="#50ca39"/><circle cx="545.19" cy="785.35" r="0.94" fill="#60f443"/><circle cx="552.58" cy="764.27" r="0.8" fill="#4ab834"/><circle cx="535.95" cy="786.75" r="0.55" fill="#49b634"/><circle cx="551.22" cy="744.22" r="0.7" fill="#45ab31"/><circle cx="567.9" cy="743.92" r="0.87" fill="#49b634"/><circle cx="565.87" cy="778.01" r="0.96" fill="#46ad32"/><circle cx="575.61" cy="747.06" r="0.6" fill="#409c2e"/><circle cx="551.3" cy="743.93" r="0.72" fill="#61f844"/><circle cx="565.56" cy="770.76" r="0.44" fill="#63fd45"/><circle cx="544.9" cy="785.07" r="0.47" fill="#4ab935"/></g>
</g>
<g clip-path="url(#co6)">
<rect x="579" y="739.05" width="51.6" height="49.4" fill="#020203"/>
<g filter="url(#b05)"><path d="M614.6 739.05 Q611.51 747.94 607.9 751.3 Q604.28 754.66 603.41 758.71 Q602.53 762.76 600.83 765.16 Q599.12 767.55 593.6 774.62" fill="none" stroke="#d81c18" stroke-width="1.2" stroke-linecap="round" opacity="1"/><path d="M609.96 764.24 Q615.64 765.97 618.73 763.53 Q621.83 761.08 630.08 754.66" fill="none" stroke="#d81c18" stroke-width="0.9" stroke-linecap="round" opacity="0.6"/><path d="M608.21 774.62 Q608.93 782.03 613.06 788.45" fill="none" stroke="#d81c18" stroke-width="1.3" stroke-linecap="round" opacity="1"/><path d="M579.77 748.24 L583.85 743.5" fill="none" stroke="#d81c18" stroke-width="1" stroke-linecap="round" opacity="0.8"/></g>
</g>
<g clip-path="url(#co7)">
<rect x="632.2" y="739.05" width="51.6" height="49.4" fill="#020203"/>
<g filter="url(#b05)"><ellipse cx="652.11" cy="750.98" rx="1.22" ry="1.53" fill="#1b1bad" transform="rotate(104.03 652.11 750.98)"/><ellipse cx="660.63" cy="758.23" rx="1.95" ry="1.26" fill="#1b1bab" transform="rotate(140.62 660.63 758.23)"/><ellipse cx="674.81" cy="760.88" rx="1.2" ry="0.92" fill="#151586" transform="rotate(130.17 674.81 760.88)"/><ellipse cx="665.66" cy="769.48" rx="1.08" ry="1.43" fill="#1d1dba" transform="rotate(5.94 665.66 769.48)"/><ellipse cx="674.89" cy="750.28" rx="1.94" ry="1.39" fill="#1b1bab" transform="rotate(22.5 674.89 750.28)"/><ellipse cx="639.36" cy="783.35" rx="1.9" ry="1.58" fill="#171791" transform="rotate(9.64 639.36 783.35)"/><ellipse cx="663.94" cy="768.88" rx="1.24" ry="1.51" fill="#161690" transform="rotate(152.37 663.94 768.88)"/><ellipse cx="640.46" cy="771.7" rx="1.53" ry="1.33" fill="#181897" transform="rotate(88.79 640.46 771.7)"/><ellipse cx="634.31" cy="746.44" rx="1.6" ry="1.38" fill="#1c1cb1" transform="rotate(76.62 634.31 746.44)"/><ellipse cx="659.97" cy="781.79" rx="1.85" ry="1.06" fill="#14147e" transform="rotate(24.99 659.97 781.79)"/><ellipse cx="635.19" cy="780.94" rx="2.14" ry="1.4" fill="#1b1bab" transform="rotate(19.68 635.19 780.94)"/><ellipse cx="639.56" cy="782.2" rx="1.85" ry="1.4" fill="#181898" transform="rotate(109.63 639.56 782.2)"/><ellipse cx="675.26" cy="785.64" rx="1.31" ry="1.15" fill="#1b1bac" transform="rotate(132.02 675.26 785.64)"/><ellipse cx="653.57" cy="761.38" rx="2.26" ry="1.02" fill="#1b1bac" transform="rotate(38.08 653.57 761.38)"/><ellipse cx="646.95" cy="782.6" rx="1.42" ry="1.54" fill="#1d1dbb" transform="rotate(68.37 646.95 782.6)"/><ellipse cx="670.44" cy="774.75" rx="1.28" ry="0.93" fill="#151586" transform="rotate(5.58 670.44 774.75)"/><ellipse cx="666.25" cy="743.09" rx="1.31" ry="1.25" fill="#171792" transform="rotate(27.93 666.25 743.09)"/><ellipse cx="644.54" cy="772.1" rx="1.15" ry="1.6" fill="#1b1bae" transform="rotate(107.77 644.54 772.1)"/><ellipse cx="660.6" cy="763.65" rx="2.26" ry="1.51" fill="#13137b" transform="rotate(147.95 660.6 763.65)"/><ellipse cx="662.43" cy="784.7" rx="1.83" ry="1.21" fill="#151586" transform="rotate(116.95 662.43 784.7)"/></g>
<g filter="url(#b05)"><path d="M667.8 739.05 Q664.71 747.94 661.1 751.3 Q657.48 754.66 656.61 758.71 Q655.73 762.76 654.03 765.16 Q652.32 767.55 646.8 774.62" fill="none" stroke="#d81c18" stroke-width="1.2" stroke-linecap="round" opacity="1"/><path d="M663.16 764.24 Q668.84 765.97 671.93 763.53 Q675.03 761.08 683.28 754.66" fill="none" stroke="#d81c18" stroke-width="0.9" stroke-linecap="round" opacity="0.6"/><path d="M661.41 774.62 Q662.13 782.03 666.26 788.45" fill="none" stroke="#d81c18" stroke-width="1.3" stroke-linecap="round" opacity="1"/><path d="M632.97 748.24 L637.05 743.5" fill="none" stroke="#d81c18" stroke-width="1" stroke-linecap="round" opacity="0.8"/></g>
<g filter="url(#b05)"><circle cx="669.28" cy="777.2" r="0.43" fill="#52ce3a"/><circle cx="662.72" cy="756.73" r="0.8" fill="#61f744"/><circle cx="678.12" cy="754.63" r="0.48" fill="#5ef042"/><circle cx="663.55" cy="779.38" r="0.91" fill="#4ab734"/><circle cx="662.33" cy="754.42" r="0.87" fill="#58e03e"/><circle cx="645.07" cy="763.76" r="0.74" fill="#48b333"/><circle cx="642.27" cy="762.53" r="0.43" fill="#51cd39"/><circle cx="679.79" cy="779.21" r="0.42" fill="#5ded41"/><circle cx="668.72" cy="773.62" r="0.4" fill="#5be740"/><circle cx="642.91" cy="778.12" r="0.58" fill="#4dc036"/><circle cx="641.77" cy="781.18" r="0.52" fill="#5ff242"/><circle cx="658.68" cy="747.08" r="0.78" fill="#53d03a"/><circle cx="634.57" cy="779.1" r="0.55" fill="#409e2e"/><circle cx="671.19" cy="774.52" r="0.62" fill="#46ae32"/><circle cx="659.33" cy="767.85" r="0.8" fill="#51cc39"/><circle cx="661.36" cy="774.22" r="0.5" fill="#46ad32"/><circle cx="657.23" cy="775.8" r="0.87" fill="#5ef042"/><circle cx="654.98" cy="773.88" r="0.45" fill="#4dc237"/><circle cx="636.54" cy="779.65" r="0.99" fill="#58de3e"/><circle cx="670.51" cy="757.69" r="0.87" fill="#43a430"/><circle cx="651.59" cy="756.68" r="0.91" fill="#46ad32"/><circle cx="641.11" cy="744.28" r="0.89" fill="#4bbb35"/><circle cx="677.97" cy="754.88" r="0.89" fill="#47af32"/><circle cx="677.94" cy="786.21" r="0.92" fill="#58e03e"/><circle cx="677.63" cy="783.4" r="0.97" fill="#49b734"/><circle cx="675.33" cy="777.01" r="0.59" fill="#46ac32"/><circle cx="677.8" cy="762.44" r="0.71" fill="#5ff343"/><circle cx="657.2" cy="752.01" r="0.8" fill="#53d03a"/><circle cx="646.73" cy="772.86" r="0.93" fill="#48b433"/><circle cx="673.49" cy="775.78" r="0.7" fill="#46af32"/><circle cx="666.17" cy="753.38" r="0.54" fill="#5ef042"/><circle cx="646.64" cy="744.42" r="0.9" fill="#63fe45"/><circle cx="648.36" cy="759.24" r="0.71" fill="#5be640"/><circle cx="633.84" cy="770.77" r="0.53" fill="#61f744"/><circle cx="653.77" cy="784.82" r="0.66" fill="#57dc3d"/><circle cx="635.11" cy="749.65" r="0.56" fill="#4dc036"/><circle cx="641.81" cy="760.01" r="0.44" fill="#54d43b"/><circle cx="680.93" cy="780.69" r="0.76" fill="#63fd45"/><circle cx="669.32" cy="770.12" r="0.66" fill="#42a42f"/><circle cx="677.48" cy="782.54" r="0.87" fill="#58e03e"/><circle cx="673.49" cy="785.5" r="0.97" fill="#5be840"/><circle cx="634.04" cy="784.96" r="0.73" fill="#50c838"/><circle cx="654.58" cy="752.86" r="0.41" fill="#56d93c"/><circle cx="663.82" cy="744.14" r="0.94" fill="#60f543"/><circle cx="676.07" cy="765.52" r="0.62" fill="#50ca39"/><circle cx="651.59" cy="785.35" r="0.94" fill="#60f443"/><circle cx="658.98" cy="764.27" r="0.8" fill="#4ab834"/><circle cx="642.35" cy="786.75" r="0.55" fill="#49b634"/><circle cx="657.62" cy="744.22" r="0.7" fill="#45ab31"/><circle cx="674.3" cy="743.92" r="0.87" fill="#49b634"/><circle cx="672.27" cy="778.01" r="0.96" fill="#46ad32"/><circle cx="682.01" cy="747.06" r="0.6" fill="#409c2e"/><circle cx="657.7" cy="743.93" r="0.72" fill="#61f844"/><circle cx="671.96" cy="770.76" r="0.44" fill="#63fd45"/><circle cx="651.3" cy="785.07" r="0.47" fill="#4ab935"/></g>
</g>
<line x1="671.9" y1="784.65" x2="680.6" y2="784.65" stroke="#dcdcdc" stroke-width="1.5"/>
<text x="468.4" y="815.5" font-size="6.6" transform="rotate(-90 468.4 815.5)">PEG-Lip</text>
<g clip-path="url(#co8)">
<rect x="472.5" y="790.5" width="51.6" height="49.4" fill="#020203"/>
<g filter="url(#b05)"><ellipse cx="505.21" cy="792.67" rx="1.36" ry="0.98" fill="#1d1dbc" transform="rotate(132.56 505.21 792.67)"/><ellipse cx="519.64" cy="795.61" rx="1.55" ry="0.82" fill="#1b1bad" transform="rotate(39.35 519.64 795.61)"/><ellipse cx="489.62" cy="800.92" rx="1.84" ry="1.24" fill="#1c1cb4" transform="rotate(39.68 489.62 800.92)"/><ellipse cx="513.63" cy="791.8" rx="2.05" ry="1.36" fill="#16168f" transform="rotate(61.25 513.63 791.8)"/><ellipse cx="521.89" cy="807.45" rx="1.12" ry="0.88" fill="#1c1cb5" transform="rotate(152.55 521.89 807.45)"/><ellipse cx="516.69" cy="826.09" rx="1.7" ry="1.58" fill="#1c1cb1" transform="rotate(68.14 516.69 826.09)"/><ellipse cx="514.62" cy="820.82" rx="2.12" ry="1.26" fill="#151586" transform="rotate(126.82 514.62 820.82)"/><ellipse cx="496.6" cy="805.21" rx="1.1" ry="0.99" fill="#18189a" transform="rotate(18.18 496.6 805.21)"/><ellipse cx="510.74" cy="808.79" rx="1.48" ry="0.97" fill="#2121d2" transform="rotate(48.06 510.74 808.79)"/><ellipse cx="505.63" cy="820.38" rx="1.22" ry="1.38" fill="#1919a2" transform="rotate(29.41 505.63 820.38)"/><ellipse cx="523.01" cy="821.84" rx="1.72" ry="1.35" fill="#1f1fc4" transform="rotate(151.71 523.01 821.84)"/><ellipse cx="496.64" cy="793.01" rx="1.41" ry="1.01" fill="#2121d3" transform="rotate(37.98 496.64 793.01)"/><ellipse cx="516.94" cy="806.41" rx="1.85" ry="1.12" fill="#1a1aa9" transform="rotate(164.62 516.94 806.41)"/><ellipse cx="497.89" cy="803.18" rx="1.73" ry="1.01" fill="#2020cf" transform="rotate(105.23 497.89 803.18)"/><ellipse cx="502.55" cy="801.89" rx="2.3" ry="1.21" fill="#151586" transform="rotate(16.36 502.55 801.89)"/><ellipse cx="478.96" cy="821.24" rx="2.03" ry="1.14" fill="#1919a2" transform="rotate(11.43 478.96 821.24)"/><ellipse cx="523.24" cy="816.58" rx="2.26" ry="1.49" fill="#1e1ec0" transform="rotate(2.07 523.24 816.58)"/><ellipse cx="512.34" cy="816.95" rx="1.35" ry="1.31" fill="#1a1aa7" transform="rotate(20.08 512.34 816.95)"/><ellipse cx="496.01" cy="836.72" rx="2.14" ry="1.01" fill="#171791" transform="rotate(90.11 496.01 836.72)"/><ellipse cx="520.35" cy="832.77" rx="1.39" ry="1.31" fill="#16168f" transform="rotate(109.61 520.35 832.77)"/><ellipse cx="515.14" cy="817.07" rx="2.01" ry="1.22" fill="#19199e" transform="rotate(0.1 515.14 817.07)"/><ellipse cx="474.5" cy="835.55" rx="2.14" ry="1.47" fill="#151587" transform="rotate(55.35 474.5 835.55)"/><ellipse cx="519.15" cy="836.4" rx="1.11" ry="1.19" fill="#1e1ec3" transform="rotate(12.46 519.15 836.4)"/><ellipse cx="515.26" cy="797.58" rx="1.62" ry="1.24" fill="#2020cd" transform="rotate(47.71 515.26 797.58)"/><ellipse cx="494.49" cy="801.53" rx="1.7" ry="1.38" fill="#18189c" transform="rotate(36.21 494.49 801.53)"/><ellipse cx="523.21" cy="822.31" rx="1.57" ry="1.21" fill="#171795" transform="rotate(21.78 523.21 822.31)"/><ellipse cx="500.43" cy="819.39" rx="1.3" ry="0.98" fill="#1d1db8" transform="rotate(12.78 500.43 819.39)"/><ellipse cx="484.87" cy="834.43" rx="2.12" ry="0.86" fill="#1d1dbb" transform="rotate(42.84 484.87 834.43)"/><ellipse cx="496.13" cy="797.76" rx="2.22" ry="1.26" fill="#1f1fc5" transform="rotate(85.08 496.13 797.76)"/><ellipse cx="516.7" cy="800.52" rx="1.13" ry="1.14" fill="#1a1aaa" transform="rotate(76.24 516.7 800.52)"/><ellipse cx="509.65" cy="823.42" rx="2.28" ry="0.88" fill="#19199f" transform="rotate(72.47 509.65 823.42)"/><ellipse cx="518.58" cy="803.28" rx="1.25" ry="1.16" fill="#18189a" transform="rotate(75.94 518.58 803.28)"/><ellipse cx="497.36" cy="835.27" rx="1.58" ry="1.49" fill="#151586" transform="rotate(99.06 497.36 835.27)"/><ellipse cx="523.03" cy="831.14" rx="2.26" ry="1.54" fill="#161690" transform="rotate(152.77 523.03 831.14)"/><ellipse cx="505.54" cy="801.62" rx="1.52" ry="0.85" fill="#2121d6" transform="rotate(68.22 505.54 801.62)"/><ellipse cx="497.9" cy="828.67" rx="1.59" ry="1.14" fill="#2121d7" transform="rotate(172.32 497.9 828.67)"/><ellipse cx="501.06" cy="825.56" rx="1.2" ry="1.04" fill="#1c1cb3" transform="rotate(174.37 501.06 825.56)"/><ellipse cx="507.5" cy="826.96" rx="1.07" ry="1.27" fill="#2020cb" transform="rotate(90.51 507.5 826.96)"/></g>
</g>
<g clip-path="url(#co9)">
<rect x="525.8" y="790.5" width="51.6" height="49.4" fill="#020203"/>
<g filter="url(#b05)"><circle cx="534.63" cy="837.05" r="0.28" fill="#378428"/><circle cx="556.31" cy="823.51" r="0.34" fill="#368027"/><circle cx="570.93" cy="803.16" r="0.47" fill="#3f992d"/><circle cx="547.6" cy="819.17" r="0.45" fill="#44a931"/><circle cx="536.95" cy="825.45" r="0.34" fill="#3b8e2a"/></g>
</g>
<g clip-path="url(#co10)">
<rect x="579" y="790.5" width="51.6" height="49.4" fill="#020203"/>
<g filter="url(#b05)"><path d="M579.83 817.82 Q587.93 819.15 591.98 819.4 Q596.03 819.65 600.49 817.74 Q604.95 815.84 607.46 813.79 Q609.96 811.74 613.88 809.27" fill="none" stroke="#d81c18" stroke-width="1.3" stroke-linecap="round" opacity="1"/><path d="M596.03 819.65 L593.14 825.67" fill="none" stroke="#d81c18" stroke-width="1.6" stroke-linecap="round" opacity="1"/></g>
</g>
<g clip-path="url(#co11)">
<rect x="632.2" y="790.5" width="51.6" height="49.4" fill="#020203"/>
<g filter="url(#b05)"><ellipse cx="664.91" cy="792.67" rx="1.36" ry="0.98" fill="#1d1dbc" transform="rotate(132.56 664.91 792.67)"/><ellipse cx="679.34" cy="795.61" rx="1.55" ry="0.82" fill="#1b1bad" transform="rotate(39.35 679.34 795.61)"/><ellipse cx="649.32" cy="800.92" rx="1.84" ry="1.24" fill="#1c1cb4" transform="rotate(39.68 649.32 800.92)"/><ellipse cx="673.33" cy="791.8" rx="2.05" ry="1.36" fill="#16168f" transform="rotate(61.25 673.33 791.8)"/><ellipse cx="681.59" cy="807.45" rx="1.12" ry="0.88" fill="#1c1cb5" transform="rotate(152.55 681.59 807.45)"/><ellipse cx="676.39" cy="826.09" rx="1.7" ry="1.58" fill="#1c1cb1" transform="rotate(68.14 676.39 826.09)"/><ellipse cx="674.32" cy="820.82" rx="2.12" ry="1.26" fill="#151586" transform="rotate(126.82 674.32 820.82)"/><ellipse cx="656.3" cy="805.21" rx="1.1" ry="0.99" fill="#18189a" transform="rotate(18.18 656.3 805.21)"/><ellipse cx="670.44" cy="808.79" rx="1.48" ry="0.97" fill="#2121d2" transform="rotate(48.06 670.44 808.79)"/><ellipse cx="665.33" cy="820.38" rx="1.22" ry="1.38" fill="#1919a2" transform="rotate(29.41 665.33 820.38)"/><ellipse cx="682.71" cy="821.84" rx="1.72" ry="1.35" fill="#1f1fc4" transform="rotate(151.71 682.71 821.84)"/><ellipse cx="656.34" cy="793.01" rx="1.41" ry="1.01" fill="#2121d3" transform="rotate(37.98 656.34 793.01)"/><ellipse cx="676.64" cy="806.41" rx="1.85" ry="1.12" fill="#1a1aa9" transform="rotate(164.62 676.64 806.41)"/><ellipse cx="657.59" cy="803.18" rx="1.73" ry="1.01" fill="#2020cf" transform="rotate(105.23 657.59 803.18)"/><ellipse cx="662.25" cy="801.89" rx="2.3" ry="1.21" fill="#151586" transform="rotate(16.36 662.25 801.89)"/><ellipse cx="638.66" cy="821.24" rx="2.03" ry="1.14" fill="#1919a2" transform="rotate(11.43 638.66 821.24)"/><ellipse cx="682.94" cy="816.58" rx="2.26" ry="1.49" fill="#1e1ec0" transform="rotate(2.07 682.94 816.58)"/><ellipse cx="672.04" cy="816.95" rx="1.35" ry="1.31" fill="#1a1aa7" transform="rotate(20.08 672.04 816.95)"/><ellipse cx="655.71" cy="836.72" rx="2.14" ry="1.01" fill="#171791" transform="rotate(90.11 655.71 836.72)"/><ellipse cx="680.05" cy="832.77" rx="1.39" ry="1.31" fill="#16168f" transform="rotate(109.61 680.05 832.77)"/><ellipse cx="674.84" cy="817.07" rx="2.01" ry="1.22" fill="#19199e" transform="rotate(0.1 674.84 817.07)"/><ellipse cx="634.2" cy="835.55" rx="2.14" ry="1.47" fill="#151587" transform="rotate(55.35 634.2 835.55)"/><ellipse cx="678.85" cy="836.4" rx="1.11" ry="1.19" fill="#1e1ec3" transform="rotate(12.46 678.85 836.4)"/><ellipse cx="674.96" cy="797.58" rx="1.62" ry="1.24" fill="#2020cd" transform="rotate(47.71 674.96 797.58)"/><ellipse cx="654.19" cy="801.53" rx="1.7" ry="1.38" fill="#18189c" transform="rotate(36.21 654.19 801.53)"/><ellipse cx="682.91" cy="822.31" rx="1.57" ry="1.21" fill="#171795" transform="rotate(21.78 682.91 822.31)"/><ellipse cx="660.13" cy="819.39" rx="1.3" ry="0.98" fill="#1d1db8" transform="rotate(12.78 660.13 819.39)"/><ellipse cx="644.57" cy="834.43" rx="2.12" ry="0.86" fill="#1d1dbb" transform="rotate(42.84 644.57 834.43)"/><ellipse cx="655.83" cy="797.76" rx="2.22" ry="1.26" fill="#1f1fc5" transform="rotate(85.08 655.83 797.76)"/><ellipse cx="676.4" cy="800.52" rx="1.13" ry="1.14" fill="#1a1aaa" transform="rotate(76.24 676.4 800.52)"/><ellipse cx="669.35" cy="823.42" rx="2.28" ry="0.88" fill="#19199f" transform="rotate(72.47 669.35 823.42)"/><ellipse cx="678.28" cy="803.28" rx="1.25" ry="1.16" fill="#18189a" transform="rotate(75.94 678.28 803.28)"/><ellipse cx="657.06" cy="835.27" rx="1.58" ry="1.49" fill="#151586" transform="rotate(99.06 657.06 835.27)"/><ellipse cx="682.73" cy="831.14" rx="2.26" ry="1.54" fill="#161690" transform="rotate(152.77 682.73 831.14)"/><ellipse cx="665.24" cy="801.62" rx="1.52" ry="0.85" fill="#2121d6" transform="rotate(68.22 665.24 801.62)"/><ellipse cx="657.6" cy="828.67" rx="1.59" ry="1.14" fill="#2121d7" transform="rotate(172.32 657.6 828.67)"/><ellipse cx="660.76" cy="825.56" rx="1.2" ry="1.04" fill="#1c1cb3" transform="rotate(174.37 660.76 825.56)"/><ellipse cx="667.2" cy="826.96" rx="1.07" ry="1.27" fill="#2020cb" transform="rotate(90.51 667.2 826.96)"/></g>
<g filter="url(#b05)"><path d="M633.03 817.82 Q641.13 819.15 645.18 819.4 Q649.23 819.65 653.69 817.74 Q658.15 815.84 660.66 813.79 Q663.16 811.74 667.08 809.27" fill="none" stroke="#d81c18" stroke-width="1.3" stroke-linecap="round" opacity="1"/><path d="M649.23 819.65 L646.34 825.67" fill="none" stroke="#d81c18" stroke-width="1.6" stroke-linecap="round" opacity="1"/></g>
<g filter="url(#b05)"><circle cx="641.03" cy="837.05" r="0.28" fill="#378428"/><circle cx="662.71" cy="823.51" r="0.34" fill="#368027"/><circle cx="677.33" cy="803.16" r="0.47" fill="#3f992d"/><circle cx="654" cy="819.17" r="0.45" fill="#44a931"/><circle cx="643.35" cy="825.45" r="0.34" fill="#3b8e2a"/></g>
</g>
<line x1="671.9" y1="836.1" x2="680.6" y2="836.1" stroke="#dcdcdc" stroke-width="1.5"/>
<text x="468.4" y="866.5" font-size="6.6" transform="rotate(-90 468.4 866.5)">PEG-ITP-Lip</text>
<g clip-path="url(#co12)">
<rect x="472.5" y="842" width="51.6" height="49.4" fill="#020203"/>
<g filter="url(#b05)"><ellipse cx="475.44" cy="876.01" rx="1.19" ry="1.17" fill="#2424e8" transform="rotate(120.9 475.44 876.01)"/><ellipse cx="495.98" cy="866.62" rx="1.02" ry="1.15" fill="#2525ef" transform="rotate(67.03 495.98 866.62)"/><ellipse cx="500.63" cy="878.81" rx="1.56" ry="0.94" fill="#2525eb" transform="rotate(153.16 500.63 878.81)"/><ellipse cx="492.15" cy="847.53" rx="1.67" ry="1.2" fill="#2121d3" transform="rotate(139.01 492.15 847.53)"/><ellipse cx="498.63" cy="870.26" rx="1.49" ry="0.84" fill="#2727f8" transform="rotate(11.02 498.63 870.26)"/><ellipse cx="515.1" cy="857.03" rx="2.16" ry="1.22" fill="#2525ef" transform="rotate(18.55 515.1 857.03)"/><ellipse cx="502.48" cy="887.22" rx="1.88" ry="0.88" fill="#2424e8" transform="rotate(112.09 502.48 887.22)"/><ellipse cx="518.06" cy="858.7" rx="1.69" ry="1.36" fill="#2525ee" transform="rotate(30.03 518.06 858.7)"/><ellipse cx="512.21" cy="845.36" rx="1.77" ry="1.09" fill="#2121d4" transform="rotate(33.48 512.21 845.36)"/><ellipse cx="521.54" cy="869.16" rx="1.15" ry="1.2" fill="#2727fa" transform="rotate(140.24 521.54 869.16)"/><ellipse cx="508.96" cy="844.95" rx="2.26" ry="1.28" fill="#1919a1" transform="rotate(15.06 508.96 844.95)"/><ellipse cx="477.8" cy="874.52" rx="1.2" ry="1.45" fill="#2020cd" transform="rotate(19.61 477.8 874.52)"/><ellipse cx="495.48" cy="844.79" rx="1" ry="1.52" fill="#1919a1" transform="rotate(175.79 495.48 844.79)"/><ellipse cx="509.92" cy="889.9" rx="2.17" ry="1.51" fill="#2323e0" transform="rotate(60.78 509.92 889.9)"/><ellipse cx="498.21" cy="887.44" rx="1.91" ry="1.47" fill="#1d1dbd" transform="rotate(154.3 498.21 887.44)"/><ellipse cx="508.82" cy="847.4" rx="1.27" ry="1.55" fill="#2222dd" transform="rotate(72.84 508.82 847.4)"/><ellipse cx="502.05" cy="855.33" rx="1.76" ry="1.53" fill="#1d1db8" transform="rotate(58.92 502.05 855.33)"/><ellipse cx="482.74" cy="851.42" rx="2.08" ry="1.36" fill="#2222db" transform="rotate(173.7 482.74 851.42)"/><ellipse cx="521.03" cy="853.51" rx="1.24" ry="0.97" fill="#2727fd" transform="rotate(69.08 521.03 853.51)"/><ellipse cx="484.67" cy="864.72" rx="1.08" ry="0.82" fill="#2121d5" transform="rotate(98.25 484.67 864.72)"/><ellipse cx="498.84" cy="886.37" rx="2.12" ry="1.56" fill="#1b1bb0" transform="rotate(104.21 498.84 886.37)"/><ellipse cx="479.97" cy="879.23" rx="1.2" ry="0.8" fill="#1919a1" transform="rotate(125.86 479.97 879.23)"/><ellipse cx="504.37" cy="852.52" rx="1.55" ry="0.81" fill="#1c1cb6" transform="rotate(67.7 504.37 852.52)"/><ellipse cx="486.47" cy="849.34" rx="1.75" ry="1.35" fill="#181898" transform="rotate(35.94 486.47 849.34)"/><ellipse cx="486.82" cy="876.15" rx="1.36" ry="1.32" fill="#2323df" transform="rotate(13.24 486.82 876.15)"/><ellipse cx="480.58" cy="853.58" rx="1.95" ry="1.18" fill="#1c1cb2" transform="rotate(115.27 480.58 853.58)"/><ellipse cx="506.64" cy="857.17" rx="1.63" ry="1.16" fill="#2323e4" transform="rotate(164.2 506.64 857.17)"/><ellipse cx="500.7" cy="883.08" rx="1.79" ry="1.38" fill="#2020d1" transform="rotate(93.25 500.7 883.08)"/><ellipse cx="484.12" cy="887.13" rx="1.83" ry="1.46" fill="#171796" transform="rotate(109.15 484.12 887.13)"/><ellipse cx="478.89" cy="884.81" rx="1.91" ry="1.52" fill="#1b1bac" transform="rotate(160.83 478.89 884.81)"/><ellipse cx="522.33" cy="871.95" rx="1.95" ry="1.21" fill="#1f1fc7" transform="rotate(46.12 522.33 871.95)"/><ellipse cx="496.42" cy="857.08" rx="1.44" ry="1.15" fill="#1919a2" transform="rotate(48.01 496.42 857.08)"/><ellipse cx="513.38" cy="859.97" rx="1.47" ry="1.43" fill="#1e1ec3" transform="rotate(125.69 513.38 859.97)"/><ellipse cx="488.87" cy="880.74" rx="1.31" ry="1.17" fill="#2727fe" transform="rotate(67.4 488.87 880.74)"/><ellipse cx="485.42" cy="871.13" rx="1.69" ry="0.84" fill="#2626f2" transform="rotate(32.67 485.42 871.13)"/><ellipse cx="512.6" cy="853.11" rx="1.23" ry="1.55" fill="#2323e0" transform="rotate(105.96 512.6 853.11)"/><ellipse cx="518.47" cy="855.36" rx="1.65" ry="1.53" fill="#1b1baf" transform="rotate(33.52 518.47 855.36)"/><ellipse cx="517.21" cy="882.9" rx="1.67" ry="0.91" fill="#1c1cb4" transform="rotate(149.99 517.21 882.9)"/><ellipse cx="511.05" cy="855.07" rx="1.2" ry="1.35" fill="#1d1dbc" transform="rotate(70.76 511.05 855.07)"/><ellipse cx="495.29" cy="864.76" rx="1.61" ry="1.32" fill="#2222dc" transform="rotate(19.18 495.29 864.76)"/><ellipse cx="497.64" cy="881.8" rx="1.37" ry="1.33" fill="#2323de" transform="rotate(37.01 497.64 881.8)"/><ellipse cx="507.26" cy="868.78" rx="1.62" ry="1.56" fill="#18189c" transform="rotate(64.57 507.26 868.78)"/><ellipse cx="489.93" cy="845.02" rx="2.16" ry="1.47" fill="#2121d7" transform="rotate(33.33 489.93 845.02)"/><ellipse cx="483.69" cy="883.54" rx="1.54" ry="0.85" fill="#18189c" transform="rotate(114.25 483.69 883.54)"/><ellipse cx="500.46" cy="874.28" rx="3.42" ry="2.24" fill="#141480"/><ellipse cx="497.06" cy="845.73" rx="2.67" ry="2.3" fill="#141480"/><ellipse cx="477.13" cy="872.52" rx="3.5" ry="2.81" fill="#141480"/><ellipse cx="493.73" cy="851.68" rx="2.92" ry="2.61" fill="#141480"/><ellipse cx="497.54" cy="864.54" rx="2.98" ry="2.8" fill="#141480"/><ellipse cx="486.73" cy="864.63" rx="3.77" ry="2.66" fill="#141480"/></g>
</g>
<g clip-path="url(#co13)">
<rect x="525.8" y="842" width="51.6" height="49.4" fill="#020203"/>
<g filter="url(#b05)"><circle cx="549.59" cy="871" r="0.55" fill="#4fc738"/><circle cx="568.09" cy="865.98" r="0.43" fill="#5dec41"/><circle cx="534.49" cy="844.53" r="0.8" fill="#5be840"/><circle cx="532.4" cy="864.03" r="0.72" fill="#44a830"/><circle cx="558" cy="854.91" r="0.88" fill="#52cd3a"/><circle cx="552.81" cy="853.95" r="0.92" fill="#409d2e"/><circle cx="542.34" cy="847.84" r="0.48" fill="#409d2e"/><circle cx="552.74" cy="846.41" r="0.5" fill="#4fc638"/><circle cx="560.51" cy="852.59" r="0.85" fill="#54d33b"/><circle cx="572.62" cy="881.41" r="1.07" fill="#4cbf36"/><circle cx="570.69" cy="858.2" r="0.61" fill="#4fc638"/><circle cx="527.97" cy="877.29" r="0.48" fill="#56d83c"/><circle cx="529.75" cy="863.25" r="0.59" fill="#62f944"/><circle cx="541.62" cy="859.89" r="0.62" fill="#44a830"/><circle cx="558.74" cy="857.34" r="0.6" fill="#4bba35"/><circle cx="544.32" cy="880.62" r="0.56" fill="#44a830"/><circle cx="543.21" cy="870.02" r="0.61" fill="#43a630"/><circle cx="544.53" cy="888.55" r="1.01" fill="#50c838"/><circle cx="548.28" cy="851.22" r="0.86" fill="#59e33f"/><circle cx="539.64" cy="872.67" r="0.49" fill="#4bbb35"/><circle cx="541.14" cy="880.77" r="0.83" fill="#52ce3a"/><circle cx="548.51" cy="869.16" r="0.74" fill="#49b534"/><circle cx="567.99" cy="880.78" r="0.68" fill="#4ec337"/><circle cx="572.72" cy="843.96" r="0.93" fill="#46ac32"/><circle cx="536.25" cy="859.58" r="0.83" fill="#4bbb35"/><circle cx="552.47" cy="867.3" r="1.03" fill="#54d53b"/><circle cx="540.23" cy="873.01" r="0.79" fill="#4aba35"/><circle cx="562.72" cy="843.42" r="1.07" fill="#5ff242"/><circle cx="529.84" cy="876.72" r="0.51" fill="#63fe45"/><circle cx="549.24" cy="878.36" r="0.59" fill="#57dc3d"/><circle cx="528.26" cy="880.88" r="0.6" fill="#46ad32"/><circle cx="548.69" cy="866.78" r="0.45" fill="#46ac32"/><circle cx="545.73" cy="868.8" r="0.88" fill="#44a931"/><circle cx="567.57" cy="860.03" r="1.07" fill="#4dc036"/><circle cx="549" cy="860.04" r="0.47" fill="#61f744"/><circle cx="556.12" cy="878.88" r="0.52" fill="#51cc39"/><circle cx="540.96" cy="855.87" r="0.68" fill="#56d93d"/><circle cx="549.49" cy="876.11" r="1.07" fill="#55d63c"/><circle cx="566.43" cy="888.12" r="1.06" fill="#4cbe36"/><circle cx="568.32" cy="876.06" r="0.43" fill="#5ded41"/><circle cx="571.29" cy="885.49" r="0.64" fill="#5ae33f"/><circle cx="567.83" cy="864.07" r="0.84" fill="#4dc137"/></g>
</g>
<g clip-path="url(#co14)">
<rect x="579" y="842" width="51.6" height="49.4" fill="#020203"/>
<g filter="url(#b05)"><path d="M581.43 859.29 Q591.18 860.03 599.28 856.82" fill="none" stroke="#d81c18" stroke-width="1.5" stroke-linecap="round" opacity="0.5"/><path d="M599.28 856.82 Q605.83 859.29 609.44 860.87 Q613.06 862.45 618.73 862.9" fill="none" stroke="#d81c18" stroke-width="1.7" stroke-linecap="round" opacity="1"/><path d="M613.06 862.75 Q611.51 869.66 604.95 875.3" fill="none" stroke="#d81c18" stroke-width="1.5" stroke-linecap="round" opacity="1"/><path d="M581.43 859.29 Q591.18 860.03 595.23 858.43 Q599.28 856.82 602.56 858.06 Q605.83 859.29 609.44 860.87 Q613.06 862.45 618.73 862.9" fill="none" stroke="#d81c18" stroke-width="3.6" stroke-linecap="round" opacity="0.28"/><path d="M613.06 862.75 Q611.51 869.66 604.95 875.3" fill="none" stroke="#d81c18" stroke-width="3.2" stroke-linecap="round" opacity="0.28"/><path d="M581.58 843.48 L594.48 844.47" fill="none" stroke="#d81c18" stroke-width="2.2" stroke-linecap="round" opacity="0.35"/><path d="M615.12 846.94 L619.25 847.93" fill="none" stroke="#d81c18" stroke-width="2.2" stroke-linecap="round" opacity="0.5"/><path d="M617.7 886.46 L625.44 887.45" fill="none" stroke="#d81c18" stroke-width="1.8" stroke-linecap="round" opacity="0.3"/></g>
</g>
<g clip-path="url(#co15)">
<rect x="632.2" y="842" width="51.6" height="49.4" fill="#020203"/>
<g filter="url(#b05)"><ellipse cx="635.14" cy="876.01" rx="1.19" ry="1.17" fill="#2424e8" transform="rotate(120.9 635.14 876.01)"/><ellipse cx="655.68" cy="866.62" rx="1.02" ry="1.15" fill="#2525ef" transform="rotate(67.03 655.68 866.62)"/><ellipse cx="660.33" cy="878.81" rx="1.56" ry="0.94" fill="#2525eb" transform="rotate(153.16 660.33 878.81)"/><ellipse cx="651.85" cy="847.53" rx="1.67" ry="1.2" fill="#2121d3" transform="rotate(139.01 651.85 847.53)"/><ellipse cx="658.33" cy="870.26" rx="1.49" ry="0.84" fill="#2727f8" transform="rotate(11.02 658.33 870.26)"/><ellipse cx="674.8" cy="857.03" rx="2.16" ry="1.22" fill="#2525ef" transform="rotate(18.55 674.8 857.03)"/><ellipse cx="662.18" cy="887.22" rx="1.88" ry="0.88" fill="#2424e8" transform="rotate(112.09 662.18 887.22)"/><ellipse cx="677.76" cy="858.7" rx="1.69" ry="1.36" fill="#2525ee" transform="rotate(30.03 677.76 858.7)"/><ellipse cx="671.91" cy="845.36" rx="1.77" ry="1.09" fill="#2121d4" transform="rotate(33.48 671.91 845.36)"/><ellipse cx="681.24" cy="869.16" rx="1.15" ry="1.2" fill="#2727fa" transform="rotate(140.24 681.24 869.16)"/><ellipse cx="668.66" cy="844.95" rx="2.26" ry="1.28" fill="#1919a1" transform="rotate(15.06 668.66 844.95)"/><ellipse cx="637.5" cy="874.52" rx="1.2" ry="1.45" fill="#2020cd" transform="rotate(19.61 637.5 874.52)"/><ellipse cx="655.18" cy="844.79" rx="1" ry="1.52" fill="#1919a1" transform="rotate(175.79 655.18 844.79)"/><ellipse cx="669.62" cy="889.9" rx="2.17" ry="1.51" fill="#2323e0" transform="rotate(60.78 669.62 889.9)"/><ellipse cx="657.91" cy="887.44" rx="1.91" ry="1.47" fill="#1d1dbd" transform="rotate(154.3 657.91 887.44)"/><ellipse cx="668.52" cy="847.4" rx="1.27" ry="1.55" fill="#2222dd" transform="rotate(72.84 668.52 847.4)"/><ellipse cx="661.75" cy="855.33" rx="1.76" ry="1.53" fill="#1d1db8" transform="rotate(58.92 661.75 855.33)"/><ellipse cx="642.44" cy="851.42" rx="2.08" ry="1.36" fill="#2222db" transform="rotate(173.7 642.44 851.42)"/><ellipse cx="680.73" cy="853.51" rx="1.24" ry="0.97" fill="#2727fd" transform="rotate(69.08 680.73 853.51)"/><ellipse cx="644.37" cy="864.72" rx="1.08" ry="0.82" fill="#2121d5" transform="rotate(98.25 644.37 864.72)"/><ellipse cx="658.54" cy="886.37" rx="2.12" ry="1.56" fill="#1b1bb0" transform="rotate(104.21 658.54 886.37)"/><ellipse cx="639.67" cy="879.23" rx="1.2" ry="0.8" fill="#1919a1" transform="rotate(125.86 639.67 879.23)"/><ellipse cx="664.07" cy="852.52" rx="1.55" ry="0.81" fill="#1c1cb6" transform="rotate(67.7 664.07 852.52)"/><ellipse cx="646.17" cy="849.34" rx="1.75" ry="1.35" fill="#181898" transform="rotate(35.94 646.17 849.34)"/><ellipse cx="646.52" cy="876.15" rx="1.36" ry="1.32" fill="#2323df" transform="rotate(13.24 646.52 876.15)"/><ellipse cx="640.28" cy="853.58" rx="1.95" ry="1.18" fill="#1c1cb2" transform="rotate(115.27 640.28 853.58)"/><ellipse cx="666.34" cy="857.17" rx="1.63" ry="1.16" fill="#2323e4" transform="rotate(164.2 666.34 857.17)"/><ellipse cx="660.4" cy="883.08" rx="1.79" ry="1.38" fill="#2020d1" transform="rotate(93.25 660.4 883.08)"/><ellipse cx="643.82" cy="887.13" rx="1.83" ry="1.46" fill="#171796" transform="rotate(109.15 643.82 887.13)"/><ellipse cx="638.59" cy="884.81" rx="1.91" ry="1.52" fill="#1b1bac" transform="rotate(160.83 638.59 884.81)"/><ellipse cx="682.03" cy="871.95" rx="1.95" ry="1.21" fill="#1f1fc7" transform="rotate(46.12 682.03 871.95)"/><ellipse cx="656.12" cy="857.08" rx="1.44" ry="1.15" fill="#1919a2" transform="rotate(48.01 656.12 857.08)"/><ellipse cx="673.08" cy="859.97" rx="1.47" ry="1.43" fill="#1e1ec3" transform="rotate(125.69 673.08 859.97)"/><ellipse cx="648.57" cy="880.74" rx="1.31" ry="1.17" fill="#2727fe" transform="rotate(67.4 648.57 880.74)"/><ellipse cx="645.12" cy="871.13" rx="1.69" ry="0.84" fill="#2626f2" transform="rotate(32.67 645.12 871.13)"/><ellipse cx="672.3" cy="853.11" rx="1.23" ry="1.55" fill="#2323e0" transform="rotate(105.96 672.3 853.11)"/><ellipse cx="678.17" cy="855.36" rx="1.65" ry="1.53" fill="#1b1baf" transform="rotate(33.52 678.17 855.36)"/><ellipse cx="676.91" cy="882.9" rx="1.67" ry="0.91" fill="#1c1cb4" transform="rotate(149.99 676.91 882.9)"/><ellipse cx="670.75" cy="855.07" rx="1.2" ry="1.35" fill="#1d1dbc" transform="rotate(70.76 670.75 855.07)"/><ellipse cx="654.99" cy="864.76" rx="1.61" ry="1.32" fill="#2222dc" transform="rotate(19.18 654.99 864.76)"/><ellipse cx="657.34" cy="881.8" rx="1.37" ry="1.33" fill="#2323de" transform="rotate(37.01 657.34 881.8)"/><ellipse cx="666.96" cy="868.78" rx="1.62" ry="1.56" fill="#18189c" transform="rotate(64.57 666.96 868.78)"/><ellipse cx="649.63" cy="845.02" rx="2.16" ry="1.47" fill="#2121d7" transform="rotate(33.33 649.63 845.02)"/><ellipse cx="643.39" cy="883.54" rx="1.54" ry="0.85" fill="#18189c" transform="rotate(114.25 643.39 883.54)"/><ellipse cx="660.16" cy="874.28" rx="3.42" ry="2.24" fill="#141480"/><ellipse cx="656.76" cy="845.73" rx="2.67" ry="2.3" fill="#141480"/><ellipse cx="636.83" cy="872.52" rx="3.5" ry="2.81" fill="#141480"/><ellipse cx="653.43" cy="851.68" rx="2.92" ry="2.61" fill="#141480"/><ellipse cx="657.24" cy="864.54" rx="2.98" ry="2.8" fill="#141480"/><ellipse cx="646.43" cy="864.63" rx="3.77" ry="2.66" fill="#141480"/></g>
<g filter="url(#b05)"><path d="M634.63 859.29 Q644.38 860.03 652.48 856.82" fill="none" stroke="#d81c18" stroke-width="1.5" stroke-linecap="round" opacity="0.5"/><path d="M652.48 856.82 Q659.03 859.29 662.64 860.87 Q666.26 862.45 671.93 862.9" fill="none" stroke="#d81c18" stroke-width="1.7" stroke-linecap="round" opacity="1"/><path d="M666.26 862.75 Q664.71 869.66 658.15 875.3" fill="none" stroke="#d81c18" stroke-width="1.5" stroke-linecap="round" opacity="1"/><path d="M634.63 859.29 Q644.38 860.03 648.43 858.43 Q652.48 856.82 655.76 858.06 Q659.03 859.29 662.64 860.87 Q666.26 862.45 671.93 862.9" fill="none" stroke="#d81c18" stroke-width="3.6" stroke-linecap="round" opacity="0.28"/><path d="M666.26 862.75 Q664.71 869.66 658.15 875.3" fill="none" stroke="#d81c18" stroke-width="3.2" stroke-linecap="round" opacity="0.28"/><path d="M634.78 843.48 L647.68 844.47" fill="none" stroke="#d81c18" stroke-width="2.2" stroke-linecap="round" opacity="0.35"/><path d="M668.32 846.94 L672.45 847.93" fill="none" stroke="#d81c18" stroke-width="2.2" stroke-linecap="round" opacity="0.5"/><path d="M670.9 886.46 L678.64 887.45" fill="none" stroke="#d81c18" stroke-width="1.8" stroke-linecap="round" opacity="0.3"/></g>
<g filter="url(#b05)"><circle cx="655.99" cy="871" r="0.55" fill="#4fc738"/><circle cx="674.49" cy="865.98" r="0.43" fill="#5dec41"/><circle cx="640.89" cy="844.53" r="0.8" fill="#5be840"/><circle cx="638.8" cy="864.03" r="0.72" fill="#44a830"/><circle cx="664.4" cy="854.91" r="0.88" fill="#52cd3a"/><circle cx="659.21" cy="853.95" r="0.92" fill="#409d2e"/><circle cx="648.74" cy="847.84" r="0.48" fill="#409d2e"/><circle cx="659.14" cy="846.41" r="0.5" fill="#4fc638"/><circle cx="666.91" cy="852.59" r="0.85" fill="#54d33b"/><circle cx="679.02" cy="881.41" r="1.07" fill="#4cbf36"/><circle cx="677.09" cy="858.2" r="0.61" fill="#4fc638"/><circle cx="634.37" cy="877.29" r="0.48" fill="#56d83c"/><circle cx="636.15" cy="863.25" r="0.59" fill="#62f944"/><circle cx="648.02" cy="859.89" r="0.62" fill="#44a830"/><circle cx="665.14" cy="857.34" r="0.6" fill="#4bba35"/><circle cx="650.72" cy="880.62" r="0.56" fill="#44a830"/><circle cx="649.61" cy="870.02" r="0.61" fill="#43a630"/><circle cx="650.93" cy="888.55" r="1.01" fill="#50c838"/><circle cx="654.68" cy="851.22" r="0.86" fill="#59e33f"/><circle cx="646.04" cy="872.67" r="0.49" fill="#4bbb35"/><circle cx="647.54" cy="880.77" r="0.83" fill="#52ce3a"/><circle cx="654.91" cy="869.16" r="0.74" fill="#49b534"/><circle cx="674.39" cy="880.78" r="0.68" fill="#4ec337"/><circle cx="679.12" cy="843.96" r="0.93" fill="#46ac32"/><circle cx="642.65" cy="859.58" r="0.83" fill="#4bbb35"/><circle cx="658.87" cy="867.3" r="1.03" fill="#54d53b"/><circle cx="646.63" cy="873.01" r="0.79" fill="#4aba35"/><circle cx="669.12" cy="843.42" r="1.07" fill="#5ff242"/><circle cx="636.24" cy="876.72" r="0.51" fill="#63fe45"/><circle cx="655.64" cy="878.36" r="0.59" fill="#57dc3d"/><circle cx="634.66" cy="880.88" r="0.6" fill="#46ad32"/><circle cx="655.09" cy="866.78" r="0.45" fill="#46ac32"/><circle cx="652.13" cy="868.8" r="0.88" fill="#44a931"/><circle cx="673.97" cy="860.03" r="1.07" fill="#4dc036"/><circle cx="655.4" cy="860.04" r="0.47" fill="#61f744"/><circle cx="662.52" cy="878.88" r="0.52" fill="#51cc39"/><circle cx="647.36" cy="855.87" r="0.68" fill="#56d93d"/><circle cx="655.89" cy="876.11" r="1.07" fill="#55d63c"/><circle cx="672.83" cy="888.12" r="1.06" fill="#4cbe36"/><circle cx="674.72" cy="876.06" r="0.43" fill="#5ded41"/><circle cx="677.69" cy="885.49" r="0.64" fill="#5ae33f"/><circle cx="674.23" cy="864.07" r="0.84" fill="#4dc137"/></g>
</g>
<line x1="671.9" y1="887.6" x2="680.6" y2="887.6" stroke="#dcdcdc" stroke-width="1.5"/>
</g>
</svg>
</body></html>
